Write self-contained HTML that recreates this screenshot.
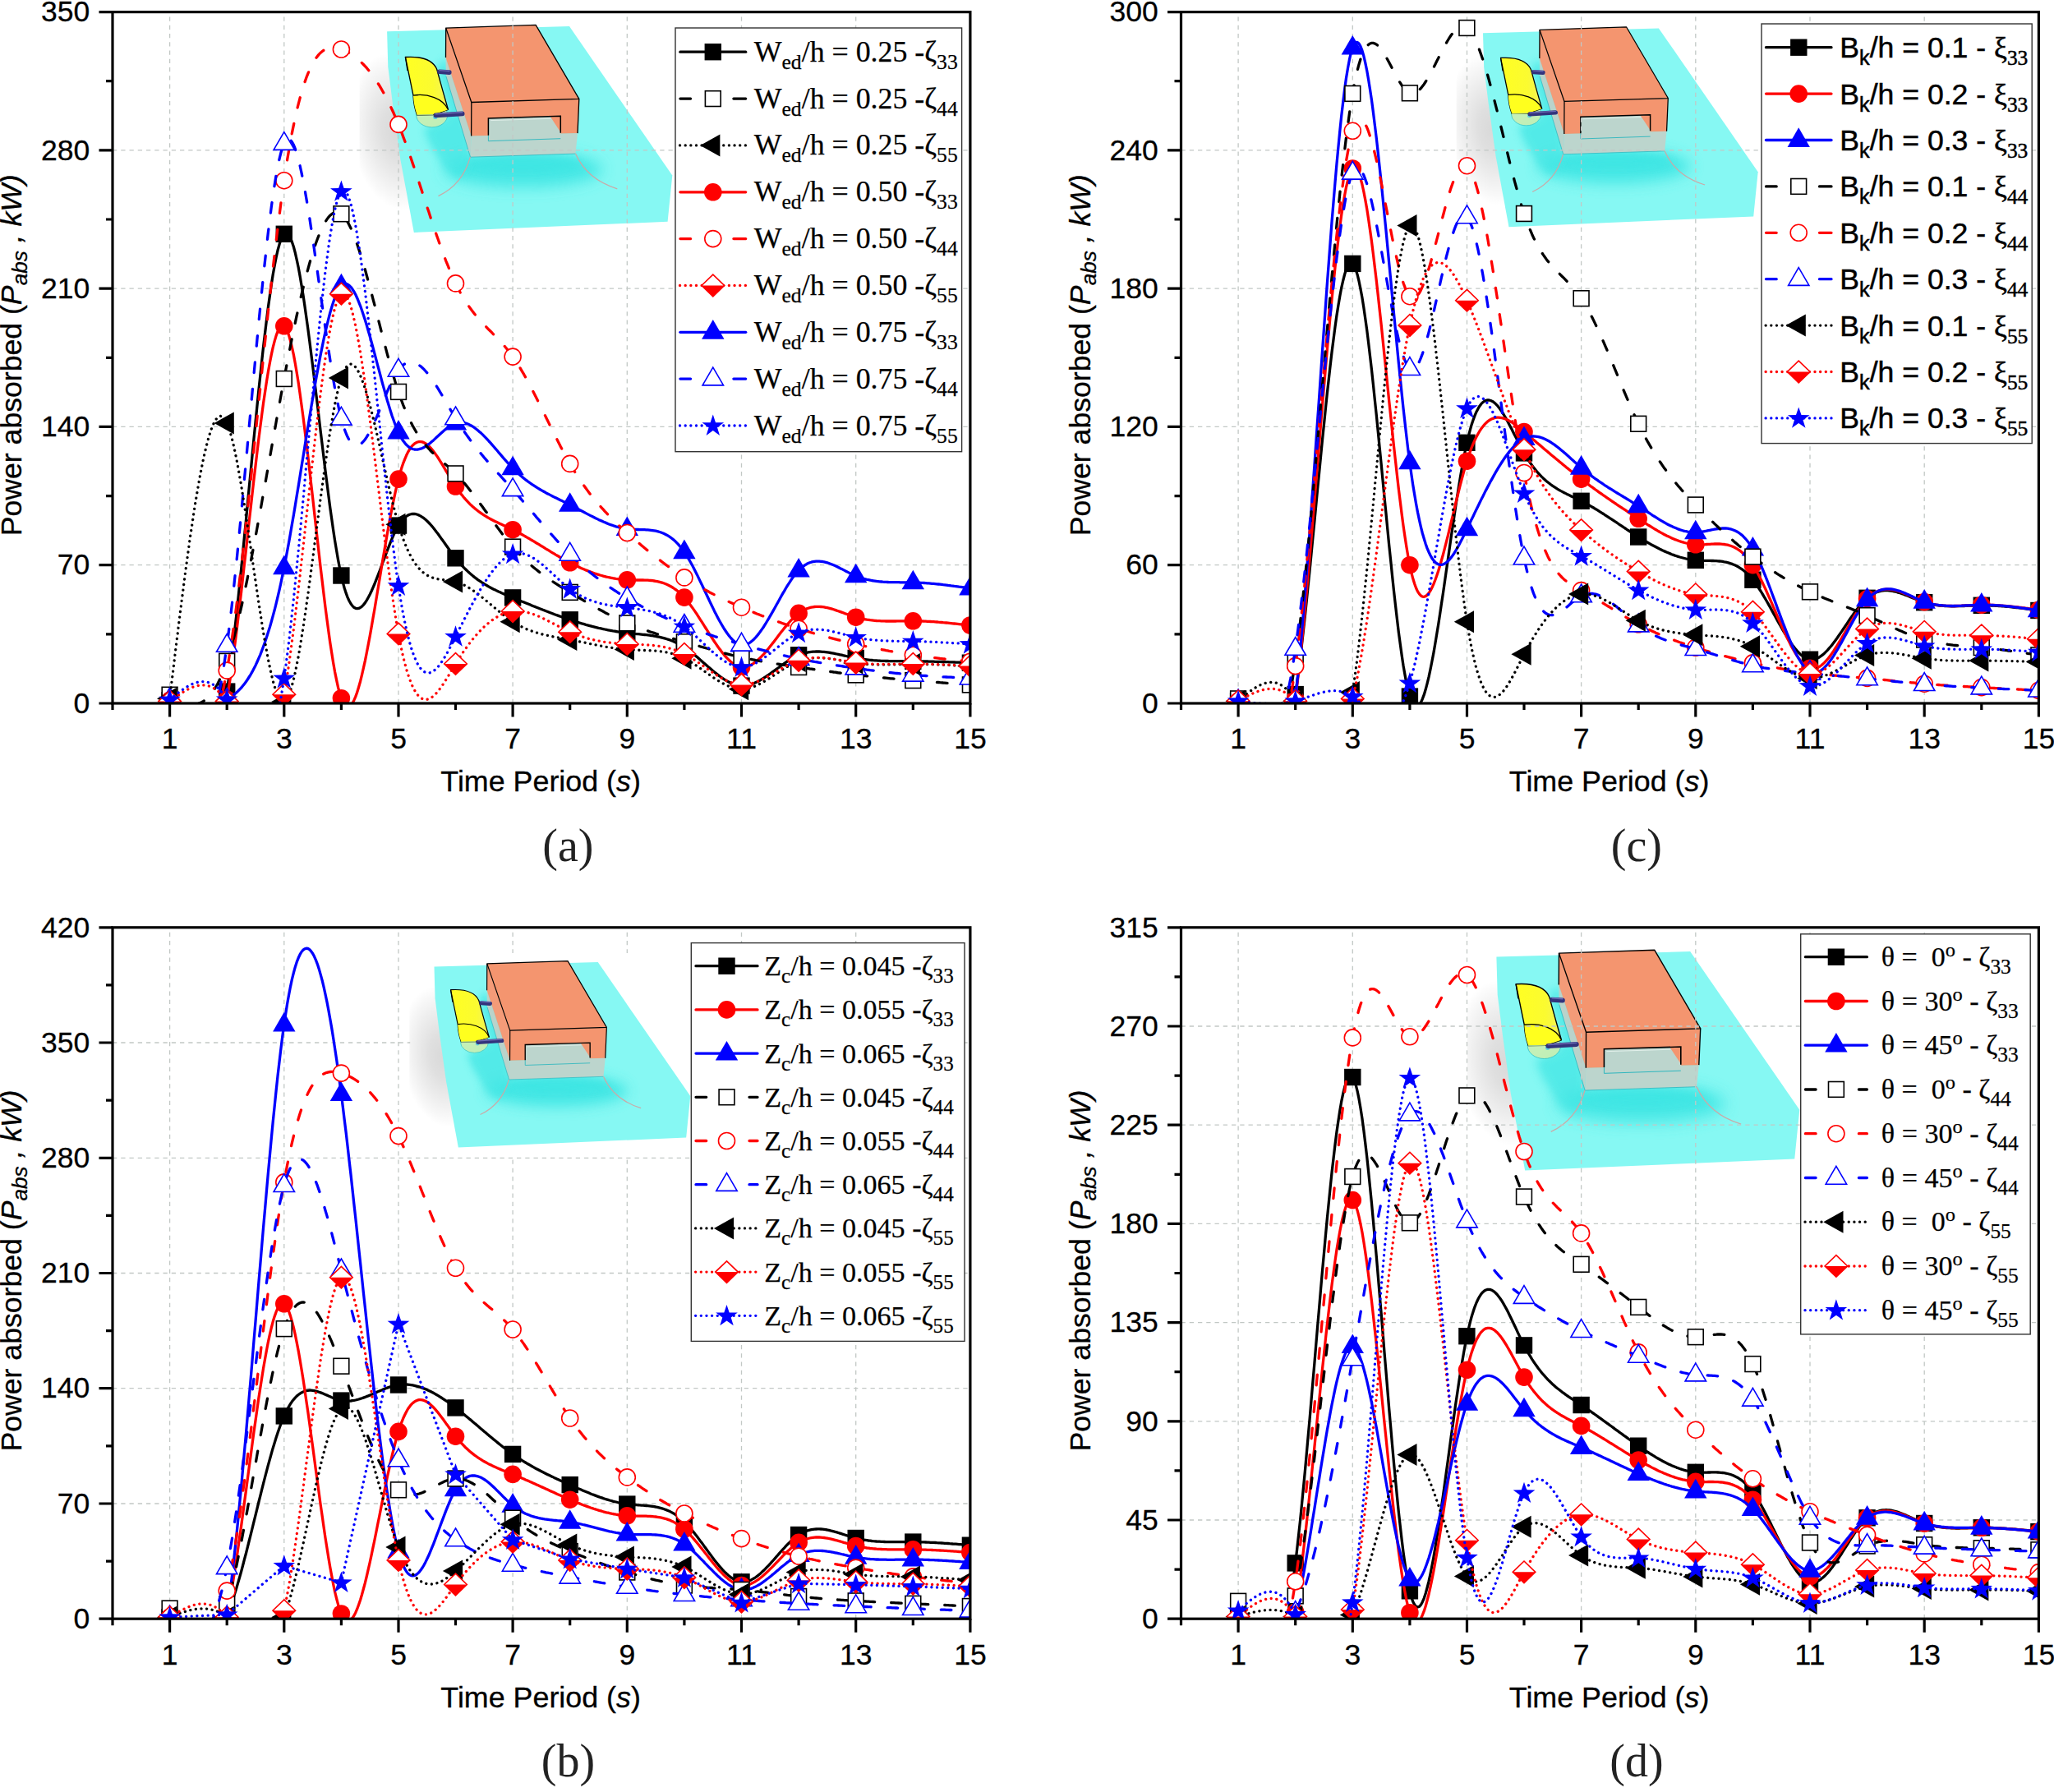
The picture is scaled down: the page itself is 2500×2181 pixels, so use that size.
<!DOCTYPE html>
<html lang="en"><head><meta charset="utf-8"><title>Power absorbed versus time period</title>
<style>html,body{margin:0;padding:0;background:#fff}svg{display:block}</style></head><body>
<svg width="2500" height="2181" viewBox="0 0 2500 2181">
<rect width="2500" height="2181" fill="#fff"/>
<defs>
<filter id="b4" x="-30%" y="-30%" width="160%" height="160%"><feGaussianBlur stdDeviation="5"/></filter>
<filter id="b2" x="-30%" y="-30%" width="160%" height="160%"><feGaussianBlur stdDeviation="2.5"/></filter>
<filter id="b8" x="-40%" y="-60%" width="180%" height="220%"><feGaussianBlur stdDeviation="9"/></filter>
<radialGradient id="shd" cx="0.5" cy="0.5" r="0.5"><stop offset="0" stop-color="#000" stop-opacity="0.15"/><stop offset="0.3" stop-color="#000" stop-opacity="0.125"/><stop offset="0.6" stop-color="#000" stop-opacity="0.075"/><stop offset="0.85" stop-color="#000" stop-opacity="0.03"/><stop offset="1" stop-color="#000" stop-opacity="0"/></radialGradient>
<linearGradient id="flp" x1="0" y1="0" x2="1" y2="0"><stop offset="0" stop-color="#ffff22"/><stop offset="0.65" stop-color="#fbfb30"/><stop offset="1" stop-color="#f3f35a"/></linearGradient>
<linearGradient id="rod" x1="0" y1="0" x2="0" y2="1"><stop offset="0" stop-color="#5a5aa8"/><stop offset="0.5" stop-color="#34347e"/><stop offset="1" stop-color="#22225c"/></linearGradient>
<clipPath id="wclip"><path d="M0.0 0.0L221.9 -6.1L347.2 175.3L341.5 231.5L32.7 244.8L16.2 155.6L7.0 89.2L1.2 43.1Z"/></clipPath>
<g id="inset">
<path d="M0.0 0.0L221.9 -6.1L347.2 175.3L341.5 231.5L32.7 244.8L16.2 155.6L7.0 89.2L1.2 43.1Z" fill="#86f8f3"/>
<g clip-path="url(#wclip)">
<ellipse cx="165.6" cy="168.1" rx="96.1" ry="21.5" fill="#3ce5e3" opacity="0.9" filter="url(#b8)"/>
<ellipse cx="165.6" cy="160.9" rx="73.6" ry="10.2" fill="#3ce5e3" opacity="0.75" filter="url(#b4)"/>
<path d="M60.9 43.4L71.6 33.1L102.7 127.2L101.8 154.8L90.0 178.3L69.5 166.1L51.1 135.4L45.0 119.0L73.6 104.7L74.4 95.3Z" fill="#44e6e4" opacity="0.78" filter="url(#b4)"/>
</g>
<path d="M71.4 31.9L102.5 127.2L101.4 153.0L71.8 54.6Z" fill="#b9d3cb"/>
<path d="M102.5 127.2L231.9 123.9L229.4 148.9L101.4 153.0Z" fill="#bcd5cd"/>
<path d="M71.8 54.6L101.4 153.0L229.4 148.9" fill="none" stroke="#2fb9c0" stroke-width="0.8"/>
<path d="M71.6 -4.1L102.7 86.3L102.5 127.2L71.4 31.9Z" fill="#f49b78"/>
<path d="M102.7 86.3L233.7 82.2L231.9 123.9L102.5 127.2Z" fill="#f4956f"/>
<path d="M71.6 -4.1L181.0 -7.8L233.7 82.2L102.7 86.3Z" fill="#f4956f"/>
<path d="M123.3 105.7L211.2 103.1L211.2 130.5L123.3 133.5Z" fill="#bcd5cd"/>
<path d="M198.8 103.9L211.2 103.5L211.2 122.7Z" fill="#f4956f"/>
<path d="M123.3 126.6L123.3 133.5L211.2 130.5" fill="none" stroke="#27b5bd" stroke-width="0.9"/>
<path d="M123.3 126.6L123.3 105.7L211.2 103.1L211.2 123.5" fill="none" stroke="#000" stroke-width="1.5"/>
<path d="M126.0 108.4L199.4 106.1" fill="none" stroke="#e8f4f0" stroke-width="0.8"/>
<path d="M71.6 -4.1L181.0 -7.8L233.7 82.2L102.7 86.3Z" fill="none" stroke="#000" stroke-width="1.3" stroke-linejoin="round"/>
<path d="M102.7 86.3L102.5 127.2M233.7 82.2L231.9 123.9M71.6 -4.1L71.4 31.9" fill="none" stroke="#000" stroke-width="1.3"/>
<path d="M101.2 153.0Q92.0 186.5 62.4 200.4M229.4 148.9Q243.4 180.4 280.2 191.6" fill="none" stroke="#c9aaa8" stroke-width="1.3"/>
<ellipse cx="54.6" cy="101.8" rx="19.0" ry="14.9" fill="#cbeeb0" fill-opacity="0.9" stroke="#35c4c8" stroke-width="0.8"/>
<circle cx="58.7" cy="104.3" r="2.6" fill="#5fd0e0"/>
<path d="M22.3 31.3 C40.7 30.1 55.2 34.2 60.5 45.8 L67.5 71.2 L74.4 95.3 L56.0 101.4 L36.6 101.8 C33.7 94.5 32.3 86.3 31.9 77.9 Z" fill="url(#flp)" stroke="#000" stroke-width="1.3" stroke-linejoin="round"/>
<path d="M31.9 77.9 C49.1 75.3 68.3 81.4 74.4 95.3" fill="#ffff1e" stroke="none"/>
<path d="M31.9 77.9 C49.1 75.3 68.3 81.4 74.4 95.3 L56.0 101.4 L36.6 101.8 C33.7 94.5 32.3 86.3 31.9 77.9" fill="#ffff1e" stroke="none"/>
<path d="M31.9 77.9 C49.1 75.3 68.3 81.4 74.4 95.3" fill="none" stroke="#000" stroke-width="1.3"/>
<path d="M22.3 31.3L24.9 47.9" fill="none" stroke="#000" stroke-width="1.2"/>
<path d="M36.6 101.8L56.0 101.4" fill="none" stroke="#9ed0a0" stroke-width="0.9"/>
<path d="M63.8 49.1L75.7 49.9" stroke="#33337c" stroke-width="5.6" stroke-linecap="round"/>
<path d="M63.8 47.4L75.7 48.3" stroke="#6a6ab4" stroke-width="1.4" stroke-linecap="round"/>
<path d="M59.3 102.2L91.6 100.2" stroke="#33337c" stroke-width="5.6" stroke-linecap="round"/>
<path d="M59.3 100.6L91.6 98.6" stroke="#6a6ab4" stroke-width="1.4" stroke-linecap="round"/>
</g>
</defs>
<g id="panel-a">
<clipPath id="clip-a"><rect x="137" y="14.6" width="1043.9" height="841.4"/></clipPath>
<g transform="translate(471.1 38.2) scale(1.0000)">
<clipPath id="sc-a"><rect x="-33.5" y="10" width="90" height="250"/></clipPath>
<g clip-path="url(#sc-a)"><ellipse cx="11" cy="122" rx="56" ry="96" transform="rotate(-8 11 122)" fill="url(#shd)"/></g>
<use href="#inset"/>
</g>
<path d="M206.6 856V14.6M345.8 856V14.6M485 856V14.6M624.1 856V14.6M763.3 856V14.6M902.5 856V14.6M1041.7 856V14.6M137 687.7H1180.9M137 519.4H1180.9M137 351.2H1180.9M137 182.9H1180.9" fill="none" stroke="#c2c8c5" stroke-width="1.3" stroke-dasharray="5.3 4.95"/>
<g clip-path="url(#clip-a)">
<path d="M206.6 852.4 208.5 858.4 210.5 864.3 212.4 870.2 214.3 876 216.3 881.6 218.2 887.2 220.1 892.5 222.1 897.7 224 902.6 225.9 907.3 227.9 911.6 229.8 915.7 231.7 919.4 233.7 922.7 235.6 925.6 237.5 928.1 239.5 930.1 241.4 931.6 243.3 932.6 245.3 933.1 247.2 933 249.1 932.2 251.1 930.8 253 928.8 254.9 926.1 256.8 922.6 258.8 918.4 260.7 913.4 262.6 907.5 264.6 900.9 266.5 893.3 268.4 884.9 270.4 875.5 272.3 865.2 274.2 853.9 276.2 841.6 278.1 828.2 280 813.9 282 798.7 283.9 782.6 285.8 765.9 287.8 748.4 289.7 730.4 291.6 711.8 293.6 692.8 295.5 673.4 297.4 653.7 299.4 633.8 301.3 613.7 303.2 593.6 305.2 573.5 307.1 553.5 309 533.6 311 513.9 312.9 494.6 314.8 475.6 316.8 457.1 318.7 439.1 320.6 421.7 322.6 405 324.5 389.1 326.4 374 328.4 359.7 330.3 346.5 332.2 334.3 334.2 323.3 336.1 313.4 338 304.8 340 297.6 341.9 291.8 343.8 287.5 345.8 284.8 347.7 283.7 349.6 284.2 351.6 286.2 353.5 289.6 355.4 294.4 357.4 300.5 359.3 307.7 361.2 316.1 363.2 325.5 365.1 335.9 367 347.2 369 359.3 370.9 372.2 372.8 385.7 374.8 399.9 376.7 414.5 378.6 429.6 380.6 445.1 382.5 460.8 384.4 476.8 386.4 492.9 388.3 509.1 390.2 525.3 392.2 541.4 394.1 557.3 396 573 398 588.4 399.9 603.4 401.8 618 403.8 632 405.7 645.4 407.6 658.1 409.6 670 411.5 681.1 413.4 691.3 415.4 700.5 417.3 708.6 419.2 715.7 421.2 721.9 423.1 727.1 425 731.3 427 734.8 428.9 737.4 430.8 739.2 432.8 740.3 434.7 740.7 436.6 740.4 438.6 739.5 440.5 738.1 442.4 736.1 444.4 733.6 446.3 730.6 448.2 727.3 450.2 723.5 452.1 719.5 454 715.1 456 710.5 457.9 705.7 459.8 700.8 461.8 695.7 463.7 690.5 465.6 685.3 467.6 680.1 469.5 674.9 471.4 669.8 473.4 664.8 475.3 659.9 477.2 655.3 479.2 650.9 481.1 646.8 483 643.1 485 639.6 486.9 636.6 488.8 634 490.7 631.8 492.7 629.9 494.6 628.3 496.5 627.1 498.5 626.3 500.4 625.7 502.3 625.4 504.3 625.5 506.2 625.7 508.1 626.3 510.1 627.1 512 628.1 513.9 629.3 515.9 630.7 517.8 632.3 519.7 634 521.7 636 523.6 638 525.5 640.2 527.5 642.5 529.4 645 531.3 647.5 533.3 650 535.2 652.7 537.1 655.4 539.1 658.1 541 660.8 542.9 663.5 544.9 666.3 546.8 669 548.7 671.7 550.7 674.3 552.6 676.8 554.5 679.3 556.5 681.7 558.4 684 560.3 686.2 562.3 688.3 564.2 690.4 566.1 692.3 568.1 694.2 570 696.1 571.9 697.8 573.9 699.5 575.8 701.1 577.7 702.6 579.7 704.1 581.6 705.6 583.5 706.9 585.5 708.2 587.4 709.5 589.3 710.7 591.3 711.9 593.2 713 595.1 714.1 597.1 715.2 599 716.2 600.9 717.2 602.9 718.1 604.8 719.1 606.7 720 608.7 720.8 610.6 721.7 612.5 722.5 614.5 723.4 616.4 724.2 618.3 725 620.3 725.8 622.2 726.6 624.1 727.4 626.1 728.2 628 729 629.9 729.8 631.9 730.6 633.8 731.4 635.7 732.2 637.7 732.9 639.6 733.7 641.5 734.5 643.5 735.3 645.4 736.1 647.3 736.9 649.3 737.7 651.2 738.4 653.1 739.2 655.1 740 657 740.8 658.9 741.5 660.9 742.3 662.8 743 664.7 743.8 666.7 744.5 668.6 745.3 670.5 746 672.5 746.7 674.4 747.5 676.3 748.2 678.3 748.9 680.2 749.6 682.1 750.3 684.1 751 686 751.7 687.9 752.3 689.9 753 691.8 753.7 693.7 754.3 695.7 754.9 697.6 755.6 699.5 756.2 701.5 756.8 703.4 757.4 705.3 758 707.3 758.6 709.2 759.2 711.1 759.7 713.1 760.3 715 760.8 716.9 761.3 718.8 761.8 720.8 762.4 722.7 762.8 724.6 763.3 726.6 763.8 728.5 764.3 730.4 764.7 732.4 765.2 734.3 765.6 736.2 766 738.2 766.4 740.1 766.8 742 767.2 744 767.5 745.9 767.9 747.8 768.2 749.8 768.5 751.7 768.8 753.6 769.1 755.6 769.4 757.5 769.7 759.4 769.9 761.4 770.2 763.3 770.4 765.2 770.6 767.2 770.8 769.1 771 771 771.2 773 771.4 774.9 771.6 776.8 771.7 778.8 771.9 780.7 772.1 782.6 772.3 784.6 772.5 786.5 772.7 788.4 772.9 790.4 773.2 792.3 773.5 794.2 773.7 796.2 774.1 798.1 774.4 800 774.8 802 775.2 803.9 775.6 805.8 776.1 807.8 776.6 809.7 777.1 811.6 777.7 813.6 778.3 815.5 779 817.4 779.7 819.4 780.5 821.3 781.4 823.2 782.3 825.2 783.2 827.1 784.3 829 785.3 831 786.5 832.9 787.7 834.8 789 836.8 790.4 838.7 791.8 840.6 793.3 842.6 794.8 844.5 796.4 846.4 798 848.4 799.6 850.3 801.3 852.2 803 854.2 804.7 856.1 806.4 858 808.1 860 809.8 861.9 811.5 863.8 813.1 865.8 814.8 867.7 816.4 869.6 818 871.6 819.6 873.5 821.1 875.4 822.6 877.4 824 879.3 825.3 881.2 826.6 883.2 827.8 885.1 829 887 830 889 831 890.9 831.8 892.8 832.6 894.8 833.2 896.7 833.7 898.6 834.2 900.6 834.4 902.5 834.6 904.4 834.6 906.4 834.5 908.3 834.3 910.2 833.9 912.2 833.5 914.1 832.9 916 832.2 918 831.5 919.9 830.6 921.8 829.7 923.8 828.7 925.7 827.6 927.6 826.4 929.6 825.2 931.5 824 933.4 822.7 935.4 821.4 937.3 820 939.2 818.6 941.2 817.2 943.1 815.8 945 814.4 947 813 948.9 811.6 950.8 810.2 952.7 808.8 954.7 807.4 956.6 806.1 958.5 804.8 960.5 803.6 962.4 802.4 964.3 801.2 966.3 800.1 968.2 799.1 970.1 798.2 972.1 797.3 974 796.6 975.9 795.9 977.9 795.3 979.8 794.8 981.7 794.3 983.7 793.9 985.6 793.6 987.5 793.4 989.5 793.2 991.4 793.1 993.3 793 995.3 793 997.2 793 999.1 793.1 1001.1 793.3 1003 793.4 1004.9 793.6 1006.9 793.9 1008.8 794.2 1010.7 794.5 1012.7 794.8 1014.6 795.2 1016.5 795.6 1018.5 796 1020.4 796.4 1022.3 796.8 1024.3 797.2 1026.2 797.7 1028.1 798.1 1030.1 798.5 1032 799 1033.9 799.4 1035.9 799.8 1037.8 800.2 1039.7 800.6 1041.7 800.9 1043.6 801.3 1045.5 801.6 1047.5 801.9 1049.4 802.2 1051.3 802.5 1053.3 802.7 1055.2 802.9 1057.1 803.1 1059.1 803.3 1061 803.5 1062.9 803.7 1064.9 803.8 1066.8 803.9 1068.7 804.1 1070.7 804.2 1072.6 804.3 1074.5 804.3 1076.5 804.4 1078.4 804.5 1080.3 804.5 1082.3 804.6 1084.2 804.6 1086.1 804.6 1088.1 804.7 1090 804.7 1091.9 804.7 1093.9 804.7 1095.8 804.7 1097.7 804.7 1099.7 804.8 1101.6 804.8 1103.5 804.8 1105.5 804.8 1107.4 804.8 1109.3 804.8 1111.3 804.8 1113.2 804.8 1115.1 804.8 1117.1 804.8 1119 804.9 1120.9 804.9 1122.9 804.9 1124.8 805 1126.7 805 1128.7 805 1130.6 805.1 1132.5 805.1 1134.5 805.2 1136.4 805.2 1138.3 805.3 1140.3 805.3 1142.2 805.4 1144.1 805.4 1146.1 805.5 1148 805.5 1149.9 805.6 1151.9 805.7 1153.8 805.7 1155.7 805.8 1157.7 805.9 1159.6 805.9 1161.5 806 1163.5 806.1 1165.4 806.1 1167.3 806.2 1169.3 806.3 1171.2 806.4 1173.1 806.4 1175.1 806.5 1177 806.6 1178.9 806.6 1180.9 806.7" fill="none" stroke="#000000" stroke-width="3.3" stroke-linecap="round" stroke-linejoin="round"/>
<rect x="196.4" y="842.2" width="20.4" height="20.4" fill="#000000"/><rect x="266" y="831.4" width="20.4" height="20.4" fill="#000000"/><rect x="335.6" y="274.6" width="20.4" height="20.4" fill="#000000"/><rect x="405.2" y="690.3" width="20.4" height="20.4" fill="#000000"/><rect x="474.8" y="629.4" width="20.4" height="20.4" fill="#000000"/><rect x="544.3" y="669.1" width="20.4" height="20.4" fill="#000000"/><rect x="613.9" y="717.2" width="20.4" height="20.4" fill="#000000"/><rect x="683.5" y="744.1" width="20.4" height="20.4" fill="#000000"/><rect x="753.1" y="760.2" width="20.4" height="20.4" fill="#000000"/><rect x="822.7" y="777.5" width="20.4" height="20.4" fill="#000000"/><rect x="892.3" y="824.4" width="20.4" height="20.4" fill="#000000"/><rect x="961.9" y="787.1" width="20.4" height="20.4" fill="#000000"/><rect x="1031.5" y="790.7" width="20.4" height="20.4" fill="#000000"/><rect x="1101.1" y="794.6" width="20.4" height="20.4" fill="#000000"/><rect x="1170.7" y="796.5" width="20.4" height="20.4" fill="#000000"/>
<path d="M206.6 853.6 208.5 859.1 210.5 864.6 212.4 870.1 214.3 875.4 216.3 880.7 218.2 885.8 220.1 890.8 222.1 895.6 224 900.2 225.9 904.6 227.9 908.7 229.8 912.5 231.7 916 233.7 919.2 235.6 922 237.5 924.4 239.5 926.4 241.4 927.9 243.3 929 245.3 929.6 247.2 929.7 249.1 929.3 251.1 928.2 253 926.6 254.9 924.4 256.8 921.5 258.8 917.9 260.7 913.6 262.6 908.6 264.6 902.9 266.5 896.4 268.4 889 270.4 880.9 272.3 871.9 274.2 862 276.2 851.2 278.1 839.5 280 826.9 282 813.5 283.9 799.5 285.8 784.7 287.8 769.4 289.7 753.6 291.6 737.4 293.6 720.8 295.5 703.9 297.4 686.8 299.4 669.5 301.3 652.2 303.2 634.8 305.2 617.6 307.1 600.4 309 583.5 311 566.9 312.9 550.6 314.8 534.7 316.8 519.4 318.7 504.6 320.6 490.4 322.6 476.9 324.5 464.3 326.4 452.4 328.4 441.5 330.3 431.6 332.2 422.8 334.2 415.1 336.1 408.6 338 403.4 340 399.6 341.9 397.1 343.8 396.2 345.8 396.8 347.7 399.1 349.6 402.9 351.6 408.1 353.5 414.8 355.4 422.7 357.4 431.9 359.3 442.2 361.2 453.5 363.2 465.8 365.1 479 367 492.9 369 507.6 370.9 522.9 372.8 538.7 374.8 554.9 376.7 571.5 378.6 588.5 380.6 605.6 382.5 622.8 384.4 640 386.4 657.2 388.3 674.2 390.2 691 392.2 707.5 394.1 723.5 396 739.1 398 754.2 399.9 768.5 401.8 782.2 403.8 795 405.7 806.9 407.6 817.8 409.6 827.6 411.5 836.3 413.4 843.7 415.4 849.7 417.3 854.4 419.2 857.8 421.2 859.8 423.1 860.6 425 860.2 427 858.6 428.9 856 430.8 852.4 432.8 847.9 434.7 842.5 436.6 836.2 438.6 829.2 440.5 821.4 442.4 813 444.4 804.1 446.3 794.5 448.2 784.6 450.2 774.1 452.1 763.4 454 752.3 456 741 457.9 729.6 459.8 718 461.8 706.3 463.7 694.6 465.6 683 467.6 671.6 469.5 660.2 471.4 649.2 473.4 638.4 475.3 627.9 477.2 617.9 479.2 608.4 481.1 599.4 483 590.9 485 583.1 486.9 576.1 488.8 569.6 490.7 563.9 492.7 558.8 494.6 554.3 496.5 550.4 498.5 547 500.4 544.2 502.3 542 504.3 540.2 506.2 538.9 508.1 538 510.1 537.6 512 537.6 513.9 537.9 515.9 538.6 517.8 539.7 519.7 541 521.7 542.7 523.6 544.6 525.5 546.7 527.5 549.1 529.4 551.7 531.3 554.4 533.3 557.3 535.2 560.3 537.1 563.4 539.1 566.6 541 569.8 542.9 573.1 544.9 576.4 546.8 579.6 548.7 582.8 550.7 586 552.6 589.1 554.5 592 556.5 594.9 558.4 597.6 560.3 600.2 562.3 602.6 564.2 605 566.1 607.2 568.1 609.4 570 611.4 571.9 613.4 573.9 615.2 575.8 617 577.7 618.6 579.7 620.2 581.6 621.7 583.5 623.2 585.5 624.6 587.4 625.9 589.3 627.1 591.3 628.3 593.2 629.5 595.1 630.6 597.1 631.7 599 632.7 600.9 633.7 602.9 634.7 604.8 635.6 606.7 636.5 608.7 637.4 610.6 638.3 612.5 639.2 614.5 640.1 616.4 641 618.3 641.9 620.3 642.8 622.2 643.7 624.1 644.7 626.1 645.7 628 646.6 629.9 647.7 631.9 648.7 633.8 649.7 635.7 650.8 637.7 651.9 639.6 653 641.5 654.1 643.5 655.2 645.4 656.4 647.3 657.5 649.3 658.7 651.2 659.8 653.1 661 655.1 662.2 657 663.3 658.9 664.5 660.9 665.7 662.8 666.9 664.7 668.1 666.7 669.2 668.6 670.4 670.5 671.6 672.5 672.8 674.4 673.9 676.3 675.1 678.3 676.2 680.2 677.3 682.1 678.5 684.1 679.6 686 680.6 687.9 681.7 689.9 682.8 691.8 683.8 693.7 684.8 695.7 685.8 697.6 686.8 699.5 687.8 701.5 688.7 703.4 689.6 705.3 690.5 707.3 691.4 709.2 692.2 711.1 693 713.1 693.9 715 694.6 716.9 695.4 718.8 696.1 720.8 696.8 722.7 697.5 724.6 698.2 726.6 698.8 728.5 699.4 730.4 700 732.4 700.5 734.3 701.1 736.2 701.6 738.2 702.1 740.1 702.5 742 702.9 744 703.3 745.9 703.7 747.8 704 749.8 704.4 751.7 704.6 753.6 704.9 755.6 705.1 757.5 705.3 759.4 705.5 761.4 705.6 763.3 705.8 765.2 705.8 767.2 705.9 769.1 705.9 771 705.9 773 706 774.9 706 776.8 706 778.8 706 780.7 706 782.6 706 784.6 706.1 786.5 706.1 788.4 706.2 790.4 706.4 792.3 706.5 794.2 706.7 796.2 707 798.1 707.3 800 707.7 802 708.1 803.9 708.6 805.8 709.1 807.8 709.8 809.7 710.5 811.6 711.3 813.6 712.2 815.5 713.2 817.4 714.3 819.4 715.5 821.3 716.8 823.2 718.2 825.2 719.7 827.1 721.4 829 723.2 831 725.1 832.9 727.1 834.8 729.3 836.8 731.7 838.7 734.1 840.6 736.7 842.6 739.4 844.5 742.1 846.4 744.9 848.4 747.8 850.3 750.8 852.2 753.8 854.2 756.8 856.1 759.9 858 763 860 766 861.9 769.1 863.8 772.1 865.8 775.1 867.7 778.1 869.6 781 871.6 783.9 873.5 786.7 875.4 789.4 877.4 791.9 879.3 794.4 881.2 796.8 883.2 799.1 885.1 801.2 887 803.1 889 804.9 890.9 806.5 892.8 808 894.8 809.2 896.7 810.2 898.6 811.1 900.6 811.7 902.5 812 904.4 812.1 906.4 812 908.3 811.6 910.2 811.1 912.2 810.3 914.1 809.3 916 808.2 918 806.9 919.9 805.4 921.8 803.8 923.8 802 925.7 800.1 927.6 798.2 929.6 796.1 931.5 793.9 933.4 791.6 935.4 789.2 937.3 786.8 939.2 784.4 941.2 781.9 943.1 779.4 945 776.9 947 774.3 948.9 771.8 950.8 769.3 952.7 766.9 954.7 764.4 956.6 762.1 958.5 759.8 960.5 757.5 962.4 755.4 964.3 753.4 966.3 751.4 968.2 749.6 970.1 747.9 972.1 746.4 974 745 975.9 743.7 977.9 742.7 979.8 741.7 981.7 740.9 983.7 740.2 985.6 739.6 987.5 739.1 989.5 738.8 991.4 738.5 993.3 738.4 995.3 738.3 997.2 738.4 999.1 738.5 1001.1 738.7 1003 738.9 1004.9 739.3 1006.9 739.7 1008.8 740.1 1010.7 740.6 1012.7 741.2 1014.6 741.8 1016.5 742.4 1018.5 743.1 1020.4 743.7 1022.3 744.4 1024.3 745.1 1026.2 745.8 1028.1 746.6 1030.1 747.3 1032 748 1033.9 748.7 1035.9 749.3 1037.8 750 1039.7 750.6 1041.7 751.2 1043.6 751.7 1045.5 752.2 1047.5 752.7 1049.4 753.1 1051.3 753.5 1053.3 753.8 1055.2 754.2 1057.1 754.4 1059.1 754.7 1061 754.9 1062.9 755.1 1064.9 755.3 1066.8 755.5 1068.7 755.6 1070.7 755.7 1072.6 755.8 1074.5 755.9 1076.5 755.9 1078.4 756 1080.3 756 1082.3 756 1084.2 756 1086.1 756 1088.1 756 1090 756 1091.9 755.9 1093.9 755.9 1095.8 755.9 1097.7 755.9 1099.7 755.8 1101.6 755.8 1103.5 755.8 1105.5 755.8 1107.4 755.7 1109.3 755.7 1111.3 755.8 1113.2 755.8 1115.1 755.8 1117.1 755.8 1119 755.9 1120.9 755.9 1122.9 756 1124.8 756.1 1126.7 756.2 1128.7 756.3 1130.6 756.4 1132.5 756.5 1134.5 756.6 1136.4 756.7 1138.3 756.9 1140.3 757 1142.2 757.2 1144.1 757.3 1146.1 757.5 1148 757.7 1149.9 757.8 1151.9 758 1153.8 758.2 1155.7 758.4 1157.7 758.6 1159.6 758.8 1161.5 759 1163.5 759.2 1165.4 759.4 1167.3 759.6 1169.3 759.8 1171.2 760 1173.1 760.2 1175.1 760.4 1177 760.6 1178.9 760.8 1180.9 761" fill="none" stroke="#ff0000" stroke-width="3.3" stroke-linecap="round" stroke-linejoin="round"/>
<circle cx="206.6" cy="853.6" r="10.8" fill="#ff0000"/><circle cx="276.2" cy="851.2" r="10.8" fill="#ff0000"/><circle cx="345.8" cy="396.8" r="10.8" fill="#ff0000"/><circle cx="415.4" cy="849.7" r="10.8" fill="#ff0000"/><circle cx="485" cy="583.1" r="10.8" fill="#ff0000"/><circle cx="554.5" cy="592" r="10.8" fill="#ff0000"/><circle cx="624.1" cy="644.7" r="10.8" fill="#ff0000"/><circle cx="693.7" cy="684.8" r="10.8" fill="#ff0000"/><circle cx="763.3" cy="705.8" r="10.8" fill="#ff0000"/><circle cx="832.9" cy="727.1" r="10.8" fill="#ff0000"/><circle cx="902.5" cy="812" r="10.8" fill="#ff0000"/><circle cx="972.1" cy="746.4" r="10.8" fill="#ff0000"/><circle cx="1041.7" cy="751.2" r="10.8" fill="#ff0000"/><circle cx="1111.3" cy="755.8" r="10.8" fill="#ff0000"/><circle cx="1180.9" cy="761" r="10.8" fill="#ff0000"/>
<path d="M206.6 853.6 208.5 854 210.5 854.5 212.4 854.9 214.3 855.3 216.3 855.7 218.2 856.1 220.1 856.5 222.1 856.9 224 857.2 225.9 857.6 227.9 857.9 229.8 858.2 231.7 858.4 233.7 858.6 235.6 858.8 237.5 859 239.5 859.1 241.4 859.2 243.3 859.2 245.3 859.2 247.2 859.2 249.1 859.1 251.1 858.9 253 858.7 254.9 858.4 256.8 858.1 258.8 857.7 260.7 857.3 262.6 856.8 264.6 856.2 266.5 855.6 268.4 854.8 270.4 854 272.3 853.2 274.2 852.2 276.2 851.2 278.1 850.1 280 848.9 282 847.6 283.9 846.1 285.8 844.6 287.8 842.9 289.7 841.1 291.6 839.2 293.6 837.1 295.5 834.8 297.4 832.4 299.4 829.8 301.3 827 303.2 824 305.2 820.8 307.1 817.4 309 813.7 311 809.9 312.9 805.7 314.8 801.4 316.8 796.8 318.7 791.9 320.6 786.7 322.6 781.3 324.5 775.6 326.4 769.5 328.4 763.2 330.3 756.6 332.2 749.6 334.2 742.3 336.1 734.6 338 726.6 340 718.2 341.9 709.5 343.8 700.4 345.8 690.8 347.7 680.9 349.6 670.7 351.6 660.1 353.5 649.2 355.4 638.1 357.4 626.7 359.3 615.2 361.2 603.4 363.2 591.6 365.1 579.7 367 567.7 369 555.7 370.9 543.7 372.8 531.7 374.8 519.8 376.7 508 378.6 496.4 380.6 485 382.5 473.7 384.4 462.7 386.4 452 388.3 441.6 390.2 431.6 392.2 421.9 394.1 412.7 396 403.9 398 395.6 399.9 387.8 401.8 380.5 403.8 373.8 405.7 367.8 407.6 362.4 409.6 357.7 411.5 353.7 413.4 350.5 415.4 348 417.3 346.4 419.2 345.5 421.2 345.4 423.1 346.1 425 347.3 427 349.3 428.9 351.8 430.8 354.9 432.8 358.5 434.7 362.7 436.6 367.3 438.6 372.3 440.5 377.7 442.4 383.4 444.4 389.5 446.3 395.9 448.2 402.5 450.2 409.3 452.1 416.2 454 423.3 456 430.6 457.9 437.8 459.8 445.1 461.8 452.4 463.7 459.7 465.6 466.9 467.6 473.9 469.5 480.8 471.4 487.5 473.4 494 475.3 500.2 477.2 506.2 479.2 511.7 481.1 517 483 521.8 485 526.2 486.9 530.1 488.8 533.5 490.7 536.5 492.7 539.1 494.6 541.3 496.5 543.1 498.5 544.6 500.4 545.7 502.3 546.5 504.3 547 506.2 547.1 508.1 547.1 510.1 546.7 512 546.2 513.9 545.4 515.9 544.5 517.8 543.4 519.7 542.1 521.7 540.7 523.6 539.2 525.5 537.6 527.5 535.9 529.4 534.1 531.3 532.3 533.3 530.5 535.2 528.7 537.1 527 539.1 525.2 541 523.6 542.9 522 544.9 520.5 546.8 519.1 548.7 517.8 550.7 516.8 552.6 515.8 554.5 515.1 556.5 514.6 558.4 514.3 560.3 514.2 562.3 514.3 564.2 514.5 566.1 514.9 568.1 515.5 570 516.3 571.9 517.2 573.9 518.3 575.8 519.4 577.7 520.7 579.7 522.2 581.6 523.7 583.5 525.4 585.5 527.1 587.4 528.9 589.3 530.8 591.3 532.8 593.2 534.9 595.1 537 597.1 539.1 599 541.3 600.9 543.5 602.9 545.8 604.8 548 606.7 550.3 608.7 552.6 610.6 554.8 612.5 557.1 614.5 559.3 616.4 561.5 618.3 563.7 620.3 565.8 622.2 567.9 624.1 569.9 626.1 571.9 628 573.7 629.9 575.6 631.9 577.3 633.8 579 635.7 580.6 637.7 582.2 639.6 583.8 641.5 585.2 643.5 586.7 645.4 588 647.3 589.4 649.3 590.7 651.2 591.9 653.1 593.2 655.1 594.4 657 595.5 658.9 596.6 660.9 597.7 662.8 598.8 664.7 599.9 666.7 600.9 668.6 601.9 670.5 602.9 672.5 603.9 674.4 604.9 676.3 605.8 678.3 606.8 680.2 607.7 682.1 608.7 684.1 609.6 686 610.6 687.9 611.5 689.9 612.5 691.8 613.4 693.7 614.4 695.7 615.4 697.6 616.4 699.5 617.4 701.5 618.4 703.4 619.4 705.3 620.5 707.3 621.5 709.2 622.5 711.1 623.5 713.1 624.6 715 625.6 716.9 626.6 718.8 627.6 720.8 628.6 722.7 629.5 724.6 630.5 726.6 631.4 728.5 632.4 730.4 633.3 732.4 634.1 734.3 635 736.2 635.8 738.2 636.6 740.1 637.4 742 638.2 744 638.9 745.9 639.5 747.8 640.2 749.8 640.8 751.7 641.3 753.6 641.9 755.6 642.3 757.5 642.8 759.4 643.1 761.4 643.5 763.3 643.7 765.2 643.9 767.2 644.1 769.1 644.3 771 644.4 773 644.4 774.9 644.5 776.8 644.5 778.8 644.6 780.7 644.6 782.6 644.7 784.6 644.7 786.5 644.8 788.4 644.9 790.4 645.1 792.3 645.3 794.2 645.6 796.2 645.9 798.1 646.2 800 646.7 802 647.2 803.9 647.8 805.8 648.5 807.8 649.3 809.7 650.2 811.6 651.2 813.6 652.4 815.5 653.6 817.4 655 819.4 656.6 821.3 658.2 823.2 660.1 825.2 662.1 827.1 664.3 829 666.6 831 669.1 832.9 671.9 834.8 674.8 836.8 677.9 838.7 681.1 840.6 684.5 842.6 688.1 844.5 691.8 846.4 695.5 848.4 699.4 850.3 703.4 852.2 707.4 854.2 711.4 856.1 715.5 858 719.6 860 723.7 861.9 727.8 863.8 731.9 865.8 736 867.7 739.9 869.6 743.9 871.6 747.7 873.5 751.4 875.4 755 877.4 758.5 879.3 761.8 881.2 765 883.2 768 885.1 770.8 887 773.4 889 775.8 890.9 777.9 892.8 779.8 894.8 781.5 896.7 782.8 898.6 783.9 900.6 784.6 902.5 785.1 904.4 785.2 906.4 785 908.3 784.4 910.2 783.6 912.2 782.5 914.1 781.1 916 779.5 918 777.7 919.9 775.6 921.8 773.4 923.8 770.9 925.7 768.3 927.6 765.6 929.6 762.7 931.5 759.6 933.4 756.5 935.4 753.2 937.3 749.9 939.2 746.6 941.2 743.1 943.1 739.7 945 736.2 947 732.7 948.9 729.2 950.8 725.8 952.7 722.4 954.7 719.1 956.6 715.8 958.5 712.6 960.5 709.6 962.4 706.6 964.3 703.8 966.3 701.1 968.2 698.7 970.1 696.3 972.1 694.2 974 692.3 975.9 690.6 977.9 689.1 979.8 687.7 981.7 686.6 983.7 685.6 985.6 684.8 987.5 684.2 989.5 683.7 991.4 683.3 993.3 683.1 995.3 683.1 997.2 683.1 999.1 683.3 1001.1 683.5 1003 683.9 1004.9 684.4 1006.9 684.9 1008.8 685.5 1010.7 686.2 1012.7 687 1014.6 687.8 1016.5 688.6 1018.5 689.6 1020.4 690.5 1022.3 691.5 1024.3 692.4 1026.2 693.4 1028.1 694.4 1030.1 695.4 1032 696.4 1033.9 697.4 1035.9 698.3 1037.8 699.2 1039.7 700.1 1041.7 700.9 1043.6 701.7 1045.5 702.4 1047.5 703.1 1049.4 703.7 1051.3 704.3 1053.3 704.8 1055.2 705.3 1057.1 705.7 1059.1 706.1 1061 706.5 1062.9 706.8 1064.9 707.1 1066.8 707.4 1068.7 707.6 1070.7 707.8 1072.6 708 1074.5 708.2 1076.5 708.3 1078.4 708.4 1080.3 708.5 1082.3 708.6 1084.2 708.6 1086.1 708.7 1088.1 708.7 1090 708.7 1091.9 708.7 1093.9 708.7 1095.8 708.8 1097.7 708.8 1099.7 708.8 1101.6 708.8 1103.5 708.8 1105.5 708.8 1107.4 708.8 1109.3 708.8 1111.3 708.9 1113.2 708.9 1115.1 709 1117.1 709.1 1119 709.2 1120.9 709.3 1122.9 709.4 1124.8 709.5 1126.7 709.6 1128.7 709.8 1130.6 709.9 1132.5 710.1 1134.5 710.3 1136.4 710.4 1138.3 710.6 1140.3 710.8 1142.2 711 1144.1 711.2 1146.1 711.4 1148 711.7 1149.9 711.9 1151.9 712.1 1153.8 712.4 1155.7 712.6 1157.7 712.9 1159.6 713.1 1161.5 713.4 1163.5 713.6 1165.4 713.9 1167.3 714.2 1169.3 714.4 1171.2 714.7 1173.1 715 1175.1 715.3 1177 715.5 1178.9 715.8 1180.9 716.1" fill="none" stroke="#0000ff" stroke-width="3.3" stroke-linecap="round" stroke-linejoin="round"/>
<polygon points="206.6,838.4 220.3,862 192.9,862" fill="#0000ff"/><polygon points="276.2,836 289.9,859.6 262.5,859.6" fill="#0000ff"/><polygon points="345.8,675.6 359.5,699.2 332.1,699.2" fill="#0000ff"/><polygon points="415.4,332.8 429.1,356.4 401.7,356.4" fill="#0000ff"/><polygon points="485,510.9 498.7,534.5 471.3,534.5" fill="#0000ff"/><polygon points="554.5,499.9 568.2,523.5 540.8,523.5" fill="#0000ff"/><polygon points="624.1,554.7 637.8,578.3 610.4,578.3" fill="#0000ff"/><polygon points="693.7,599.2 707.4,622.8 680,622.8" fill="#0000ff"/><polygon points="763.3,628.5 777,652.1 749.6,652.1" fill="#0000ff"/><polygon points="832.9,656.6 846.6,680.2 819.2,680.2" fill="#0000ff"/><polygon points="902.5,769.9 916.2,793.5 888.8,793.5" fill="#0000ff"/><polygon points="972.1,679 985.8,702.6 958.4,702.6" fill="#0000ff"/><polygon points="1041.7,685.7 1055.4,709.3 1028,709.3" fill="#0000ff"/><polygon points="1111.3,693.7 1125,717.3 1097.6,717.3" fill="#0000ff"/><polygon points="1180.9,700.9 1194.6,724.5 1167.2,724.5" fill="#0000ff"/>
<path d="M206.6 845.7 208.5 846.8 210.5 848 212.4 849.1 214.3 850.2 216.3 851.3 218.2 852.3 220.1 853.2 222.1 854.1 224 854.9 225.9 855.5 227.9 856.1 229.8 856.6 231.7 856.9 233.7 857.1 235.6 857.1 237.5 857 239.5 856.7 241.4 856.3 243.3 855.6 245.3 854.8 247.2 853.7 249.1 852.4 251.1 850.9 253 849.1 254.9 847.1 256.8 844.8 258.8 842.2 260.7 839.3 262.6 836.2 264.6 832.7 266.5 828.9 268.4 824.8 270.4 820.3 272.3 815.5 274.2 810.3 276.2 804.8 278.1 798.9 280 792.6 282 785.9 283.9 778.9 285.8 771.6 287.8 764 289.7 756.1 291.6 747.9 293.6 739.4 295.5 730.7 297.4 721.7 299.4 712.5 301.3 703.1 303.2 693.5 305.2 683.7 307.1 673.7 309 663.6 311 653.3 312.9 643 314.8 632.5 316.8 621.9 318.7 611.2 320.6 600.5 322.6 589.7 324.5 578.8 326.4 568 328.4 557.1 330.3 546.2 332.2 535.4 334.2 524.5 336.1 513.7 338 503 340 492.4 341.9 481.8 343.8 471.4 345.8 461 347.7 450.8 349.6 440.7 351.6 430.8 353.5 421.1 355.4 411.5 357.4 402.1 359.3 392.9 361.2 383.9 363.2 375.2 365.1 366.6 367 358.3 369 350.3 370.9 342.5 372.8 335 374.8 327.7 376.7 320.8 378.6 314.1 380.6 307.8 382.5 301.8 384.4 296.2 386.4 290.8 388.3 285.9 390.2 281.3 392.2 277.1 394.1 273.3 396 269.9 398 266.9 399.9 264.3 401.8 262.2 403.8 260.5 405.7 259.2 407.6 258.5 409.6 258.2 411.5 258.4 413.4 259.1 415.4 260.3 417.3 262 419.2 264.2 421.2 266.9 423.1 270.1 425 273.7 427 277.7 428.9 282 430.8 286.8 432.8 291.9 434.7 297.3 436.6 303 438.6 309 440.5 315.2 442.4 321.7 444.4 328.3 446.3 335.2 448.2 342.2 450.2 349.4 452.1 356.7 454 364 456 371.5 457.9 379 459.8 386.5 461.8 394.1 463.7 401.6 465.6 409.1 467.6 416.5 469.5 423.8 471.4 431.1 473.4 438.2 475.3 445.1 477.2 451.9 479.2 458.5 481.1 464.9 483 471 485 476.9 486.9 482.5 488.8 487.8 490.7 492.9 492.7 497.7 494.6 502.2 496.5 506.5 498.5 510.6 500.4 514.5 502.3 518.2 504.3 521.7 506.2 525 508.1 528.1 510.1 531.1 512 533.9 513.9 536.5 515.9 539 517.8 541.4 519.7 543.7 521.7 545.9 523.6 548 525.5 550 527.5 551.9 529.4 553.8 531.3 555.6 533.3 557.3 535.2 559 537.1 560.7 539.1 562.4 541 564.1 542.9 565.7 544.9 567.4 546.8 569.1 548.7 570.9 550.7 572.7 552.6 574.5 554.5 576.4 556.5 578.4 558.4 580.4 560.3 582.5 562.3 584.7 564.2 587 566.1 589.2 568.1 591.6 570 594 571.9 596.4 573.9 598.9 575.8 601.4 577.7 603.9 579.7 606.5 581.6 609.1 583.5 611.7 585.5 614.4 587.4 617 589.3 619.7 591.3 622.4 593.2 625 595.1 627.7 597.1 630.4 599 633.1 600.9 635.7 602.9 638.4 604.8 641 606.7 643.6 608.7 646.2 610.6 648.8 612.5 651.3 614.5 653.8 616.4 656.3 618.3 658.7 620.3 661 622.2 663.3 624.1 665.6 626.1 667.8 628 670 629.9 672.1 631.9 674.1 633.8 676.1 635.7 678 637.7 679.9 639.6 681.8 641.5 683.6 643.5 685.3 645.4 687.1 647.3 688.7 649.3 690.4 651.2 692 653.1 693.5 655.1 695.1 657 696.6 658.9 698 660.9 699.5 662.8 700.9 664.7 702.3 666.7 703.6 668.6 705 670.5 706.3 672.5 707.6 674.4 708.9 676.3 710.1 678.3 711.4 680.2 712.6 682.1 713.8 684.1 715 686 716.2 687.9 717.4 689.9 718.6 691.8 719.7 693.7 720.9 695.7 722.1 697.6 723.2 699.5 724.4 701.5 725.5 703.4 726.7 705.3 727.9 707.3 729 709.2 730.1 711.1 731.3 713.1 732.4 715 733.5 716.9 734.6 718.8 735.8 720.8 736.9 722.7 737.9 724.6 739 726.6 740.1 728.5 741.2 730.4 742.2 732.4 743.3 734.3 744.3 736.2 745.4 738.2 746.4 740.1 747.4 742 748.4 744 749.4 745.9 750.3 747.8 751.3 749.8 752.2 751.7 753.1 753.6 754.1 755.6 755 757.5 755.8 759.4 756.7 761.4 757.6 763.3 758.4 765.2 759.2 767.2 760 769.1 760.8 771 761.6 773 762.3 774.9 763.1 776.8 763.8 778.8 764.5 780.7 765.2 782.6 765.9 784.6 766.6 786.5 767.3 788.4 767.9 790.4 768.6 792.3 769.2 794.2 769.8 796.2 770.4 798.1 771.1 800 771.7 802 772.3 803.9 772.8 805.8 773.4 807.8 774 809.7 774.6 811.6 775.1 813.6 775.7 815.5 776.3 817.4 776.8 819.4 777.4 821.3 777.9 823.2 778.5 825.2 779 827.1 779.6 829 780.1 831 780.7 832.9 781.2 834.8 781.8 836.8 782.3 838.7 782.9 840.6 783.5 842.6 784 844.5 784.6 846.4 785.1 848.4 785.7 850.3 786.2 852.2 786.8 854.2 787.3 856.1 787.9 858 788.4 860 789 861.9 789.5 863.8 790.1 865.8 790.6 867.7 791.1 869.6 791.7 871.6 792.2 873.5 792.7 875.4 793.3 877.4 793.8 879.3 794.3 881.2 794.8 883.2 795.3 885.1 795.8 887 796.3 889 796.8 890.9 797.3 892.8 797.7 894.8 798.2 896.7 798.7 898.6 799.1 900.6 799.5 902.5 800 904.4 800.4 906.4 800.8 908.3 801.3 910.2 801.7 912.2 802.1 914.1 802.4 916 802.8 918 803.2 919.9 803.6 921.8 803.9 923.8 804.3 925.7 804.7 927.6 805 929.6 805.4 931.5 805.7 933.4 806 935.4 806.4 937.3 806.7 939.2 807 941.2 807.3 943.1 807.6 945 807.9 947 808.2 948.9 808.5 950.8 808.8 952.7 809.1 954.7 809.4 956.6 809.7 958.5 810 960.5 810.3 962.4 810.6 964.3 810.9 966.3 811.2 968.2 811.4 970.1 811.7 972.1 812 974 812.3 975.9 812.6 977.9 812.8 979.8 813.1 981.7 813.4 983.7 813.7 985.6 814 987.5 814.2 989.5 814.5 991.4 814.8 993.3 815.1 995.3 815.3 997.2 815.6 999.1 815.9 1001.1 816.1 1003 816.4 1004.9 816.7 1006.9 816.9 1008.8 817.2 1010.7 817.5 1012.7 817.7 1014.6 818 1016.5 818.2 1018.5 818.5 1020.4 818.8 1022.3 819 1024.3 819.2 1026.2 819.5 1028.1 819.7 1030.1 820 1032 820.2 1033.9 820.5 1035.9 820.7 1037.8 820.9 1039.7 821.2 1041.7 821.4 1043.6 821.6 1045.5 821.8 1047.5 822 1049.4 822.3 1051.3 822.5 1053.3 822.7 1055.2 822.9 1057.1 823.1 1059.1 823.3 1061 823.5 1062.9 823.7 1064.9 823.9 1066.8 824.1 1068.7 824.3 1070.7 824.5 1072.6 824.7 1074.5 824.9 1076.5 825 1078.4 825.2 1080.3 825.4 1082.3 825.6 1084.2 825.8 1086.1 825.9 1088.1 826.1 1090 826.3 1091.9 826.5 1093.9 826.6 1095.8 826.8 1097.7 827 1099.7 827.1 1101.6 827.3 1103.5 827.5 1105.5 827.6 1107.4 827.8 1109.3 828 1111.3 828.1 1113.2 828.3 1115.1 828.4 1117.1 828.6 1119 828.7 1120.9 828.9 1122.9 829 1124.8 829.2 1126.7 829.4 1128.7 829.5 1130.6 829.7 1132.5 829.8 1134.5 830 1136.4 830.1 1138.3 830.3 1140.3 830.4 1142.2 830.5 1144.1 830.7 1146.1 830.8 1148 831 1149.9 831.1 1151.9 831.3 1153.8 831.4 1155.7 831.6 1157.7 831.7 1159.6 831.8 1161.5 832 1163.5 832.1 1165.4 832.3 1167.3 832.4 1169.3 832.6 1171.2 832.7 1173.1 832.8 1175.1 833 1177 833.1 1178.9 833.3 1180.9 833.4" fill="none" stroke="#000000" stroke-width="3.3" stroke-linecap="round" stroke-linejoin="round" stroke-dasharray="12.6 20"/>
<rect x="197.2" y="836.3" width="18.8" height="18.8" fill="#fff" stroke="#000000" stroke-width="1.6"/><rect x="266.8" y="795.4" width="18.8" height="18.8" fill="#fff" stroke="#000000" stroke-width="1.6"/><rect x="336.4" y="451.6" width="18.8" height="18.8" fill="#fff" stroke="#000000" stroke-width="1.6"/><rect x="406" y="250.9" width="18.8" height="18.8" fill="#fff" stroke="#000000" stroke-width="1.6"/><rect x="475.6" y="467.5" width="18.8" height="18.8" fill="#fff" stroke="#000000" stroke-width="1.6"/><rect x="545.1" y="567" width="18.8" height="18.8" fill="#fff" stroke="#000000" stroke-width="1.6"/><rect x="614.7" y="656.2" width="18.8" height="18.8" fill="#fff" stroke="#000000" stroke-width="1.6"/><rect x="684.3" y="711.5" width="18.8" height="18.8" fill="#fff" stroke="#000000" stroke-width="1.6"/><rect x="753.9" y="749" width="18.8" height="18.8" fill="#fff" stroke="#000000" stroke-width="1.6"/><rect x="823.5" y="771.8" width="18.8" height="18.8" fill="#fff" stroke="#000000" stroke-width="1.6"/><rect x="893.1" y="790.6" width="18.8" height="18.8" fill="#fff" stroke="#000000" stroke-width="1.6"/><rect x="962.7" y="802.6" width="18.8" height="18.8" fill="#fff" stroke="#000000" stroke-width="1.6"/><rect x="1032.3" y="812" width="18.8" height="18.8" fill="#fff" stroke="#000000" stroke-width="1.6"/><rect x="1101.9" y="818.7" width="18.8" height="18.8" fill="#fff" stroke="#000000" stroke-width="1.6"/><rect x="1171.5" y="824" width="18.8" height="18.8" fill="#fff" stroke="#000000" stroke-width="1.6"/>
<path d="M206.6 852.4 208.5 856.3 210.5 860.2 212.4 864 214.3 867.8 216.3 871.5 218.2 875.1 220.1 878.5 222.1 881.8 224 884.9 225.9 887.8 227.9 890.4 229.8 892.8 231.7 895 233.7 896.8 235.6 898.3 237.5 899.5 239.5 900.3 241.4 900.7 243.3 900.7 245.3 900.3 247.2 899.5 249.1 898.1 251.1 896.2 253 893.9 254.9 890.9 256.8 887.4 258.8 883.3 260.7 878.6 262.6 873.3 264.6 867.3 266.5 860.6 268.4 853.2 270.4 845.1 272.3 836.2 274.2 826.5 276.2 816.1 278.1 804.8 280 792.8 282 780 283.9 766.5 285.8 752.4 287.8 737.7 289.7 722.4 291.6 706.5 293.6 690.2 295.5 673.5 297.4 656.3 299.4 638.8 301.3 620.9 303.2 602.8 305.2 584.5 307.1 565.9 309 547.2 311 528.5 312.9 509.6 314.8 490.7 316.8 471.8 318.7 453 320.6 434.3 322.6 415.8 324.5 397.4 326.4 379.3 328.4 361.4 330.3 343.8 332.2 326.6 334.2 309.8 336.1 293.5 338 277.6 340 262.2 341.9 247.4 343.8 233.2 345.8 219.7 347.7 206.8 349.6 194.6 351.6 183.1 353.5 172.2 355.4 161.9 357.4 152.2 359.3 143.1 361.2 134.6 363.2 126.7 365.1 119.3 367 112.4 369 106 370.9 100.1 372.8 94.7 374.8 89.7 376.7 85.1 378.6 81 380.6 77.3 382.5 74 384.4 71 386.4 68.4 388.3 66.1 390.2 64.2 392.2 62.5 394.1 61.1 396 60 398 59.2 399.9 58.6 401.8 58.2 403.8 58 405.7 58 407.6 58.1 409.6 58.4 411.5 58.8 413.4 59.4 415.4 60 417.3 60.8 419.2 61.6 421.2 62.5 423.1 63.5 425 64.5 427 65.7 428.9 67 430.8 68.3 432.8 69.8 434.7 71.3 436.6 73 438.6 74.7 440.5 76.6 442.4 78.5 444.4 80.6 446.3 82.7 448.2 85 450.2 87.4 452.1 89.9 454 92.5 456 95.3 457.9 98.1 459.8 101.1 461.8 104.2 463.7 107.4 465.6 110.7 467.6 114.2 469.5 117.8 471.4 121.5 473.4 125.4 475.3 129.4 477.2 133.5 479.2 137.8 481.1 142.2 483 146.7 485 151.4 486.9 156.2 488.8 161.2 490.7 166.3 492.7 171.5 494.6 176.8 496.5 182.2 498.5 187.7 500.4 193.3 502.3 198.9 504.3 204.6 506.2 210.4 508.1 216.2 510.1 222.1 512 227.9 513.9 233.8 515.9 239.7 517.8 245.6 519.7 251.5 521.7 257.3 523.6 263.2 525.5 269 527.5 274.7 529.4 280.4 531.3 286 533.3 291.5 535.2 297 537.1 302.4 539.1 307.6 541 312.8 542.9 317.8 544.9 322.7 546.8 327.5 548.7 332.1 550.7 336.5 552.6 340.8 554.5 344.9 556.5 348.8 558.4 352.6 560.3 356.2 562.3 359.6 564.2 362.9 566.1 366 568.1 369 570 371.8 571.9 374.6 573.9 377.2 575.8 379.7 577.7 382.2 579.7 384.5 581.6 386.8 583.5 389 585.5 391.2 587.4 393.2 589.3 395.3 591.3 397.3 593.2 399.3 595.1 401.3 597.1 403.2 599 405.2 600.9 407.1 602.9 409.1 604.8 411.1 606.7 413.1 608.7 415.2 610.6 417.3 612.5 419.5 614.5 421.7 616.4 424 618.3 426.4 620.3 428.9 622.2 431.4 624.1 434.1 626.1 436.9 628 439.8 629.9 442.8 631.9 445.9 633.8 449.1 635.7 452.3 637.7 455.7 639.6 459.1 641.5 462.6 643.5 466.2 645.4 469.8 647.3 473.5 649.3 477.2 651.2 481 653.1 484.8 655.1 488.7 657 492.6 658.9 496.5 660.9 500.4 662.8 504.3 664.7 508.2 666.7 512.2 668.6 516.1 670.5 520 672.5 523.9 674.4 527.8 676.3 531.7 678.3 535.5 680.2 539.3 682.1 543.1 684.1 546.8 686 550.4 687.9 554 689.9 557.5 691.8 561 693.7 564.4 695.7 567.7 697.6 570.9 699.5 574.1 701.5 577.2 703.4 580.2 705.3 583.1 707.3 586 709.2 588.8 711.1 591.6 713.1 594.3 715 596.9 716.9 599.5 718.8 602 720.8 604.4 722.7 606.8 724.6 609.2 726.6 611.5 728.5 613.7 730.4 615.9 732.4 618.1 734.3 620.2 736.2 622.3 738.2 624.4 740.1 626.4 742 628.4 744 630.3 745.9 632.3 747.8 634.2 749.8 636 751.7 637.9 753.6 639.7 755.6 641.5 757.5 643.3 759.4 645 761.4 646.8 763.3 648.5 765.2 650.3 767.2 652 769.1 653.7 771 655.4 773 657.1 774.9 658.8 776.8 660.4 778.8 662.1 780.7 663.7 782.6 665.3 784.6 667 786.5 668.6 788.4 670.1 790.4 671.7 792.3 673.3 794.2 674.8 796.2 676.4 798.1 677.9 800 679.4 802 680.9 803.9 682.4 805.8 683.9 807.8 685.3 809.7 686.8 811.6 688.2 813.6 689.6 815.5 691 817.4 692.4 819.4 693.7 821.3 695.1 823.2 696.4 825.2 697.7 827.1 699.1 829 700.3 831 701.6 832.9 702.9 834.8 704.1 836.8 705.3 838.7 706.5 840.6 707.7 842.6 708.9 844.5 710.1 846.4 711.2 848.4 712.3 850.3 713.4 852.2 714.5 854.2 715.6 856.1 716.7 858 717.8 860 718.8 861.9 719.8 863.8 720.9 865.8 721.9 867.7 722.9 869.6 723.9 871.6 724.8 873.5 725.8 875.4 726.8 877.4 727.7 879.3 728.6 881.2 729.6 883.2 730.5 885.1 731.4 887 732.3 889 733.2 890.9 734 892.8 734.9 894.8 735.8 896.7 736.6 898.6 737.5 900.6 738.3 902.5 739.2 904.4 740 906.4 740.8 908.3 741.6 910.2 742.4 912.2 743.2 914.1 744 916 744.8 918 745.6 919.9 746.4 921.8 747.2 923.8 747.9 925.7 748.7 927.6 749.5 929.6 750.2 931.5 750.9 933.4 751.7 935.4 752.4 937.3 753.1 939.2 753.9 941.2 754.6 943.1 755.3 945 756 947 756.7 948.9 757.3 950.8 758 952.7 758.7 954.7 759.4 956.6 760 958.5 760.7 960.5 761.3 962.4 762 964.3 762.6 966.3 763.3 968.2 763.9 970.1 764.5 972.1 765.1 974 765.7 975.9 766.3 977.9 766.9 979.8 767.5 981.7 768.1 983.7 768.7 985.6 769.3 987.5 769.9 989.5 770.4 991.4 771 993.3 771.5 995.3 772.1 997.2 772.6 999.1 773.2 1001.1 773.7 1003 774.2 1004.9 774.8 1006.9 775.3 1008.8 775.8 1010.7 776.3 1012.7 776.8 1014.6 777.3 1016.5 777.8 1018.5 778.3 1020.4 778.8 1022.3 779.3 1024.3 779.8 1026.2 780.2 1028.1 780.7 1030.1 781.2 1032 781.6 1033.9 782.1 1035.9 782.5 1037.8 783 1039.7 783.4 1041.7 783.9 1043.6 784.3 1045.5 784.8 1047.5 785.2 1049.4 785.6 1051.3 786 1053.3 786.5 1055.2 786.9 1057.1 787.3 1059.1 787.7 1061 788.1 1062.9 788.5 1064.9 788.9 1066.8 789.3 1068.7 789.7 1070.7 790.1 1072.6 790.4 1074.5 790.8 1076.5 791.2 1078.4 791.6 1080.3 791.9 1082.3 792.3 1084.2 792.6 1086.1 793 1088.1 793.3 1090 793.7 1091.9 794 1093.9 794.3 1095.8 794.7 1097.7 795 1099.7 795.3 1101.6 795.6 1103.5 795.9 1105.5 796.2 1107.4 796.5 1109.3 796.8 1111.3 797.1 1113.2 797.4 1115.1 797.7 1117.1 797.9 1119 798.2 1120.9 798.5 1122.9 798.7 1124.8 799 1126.7 799.2 1128.7 799.5 1130.6 799.7 1132.5 800 1134.5 800.2 1136.4 800.5 1138.3 800.7 1140.3 800.9 1142.2 801.1 1144.1 801.4 1146.1 801.6 1148 801.8 1149.9 802 1151.9 802.2 1153.8 802.4 1155.7 802.7 1157.7 802.9 1159.6 803.1 1161.5 803.3 1163.5 803.5 1165.4 803.7 1167.3 803.9 1169.3 804.1 1171.2 804.3 1173.1 804.5 1175.1 804.7 1177 804.9 1178.9 805.1 1180.9 805.3" fill="none" stroke="#ff0000" stroke-width="3.3" stroke-linecap="round" stroke-linejoin="round" stroke-dasharray="12.6 20"/>
<circle cx="206.6" cy="852.4" r="10" fill="#fff" stroke="#ff0000" stroke-width="1.6"/><circle cx="276.2" cy="816.1" r="10" fill="#fff" stroke="#ff0000" stroke-width="1.6"/><circle cx="345.8" cy="219.7" r="10" fill="#fff" stroke="#ff0000" stroke-width="1.6"/><circle cx="415.4" cy="60" r="10" fill="#fff" stroke="#ff0000" stroke-width="1.6"/><circle cx="485" cy="151.4" r="10" fill="#fff" stroke="#ff0000" stroke-width="1.6"/><circle cx="554.5" cy="344.9" r="10" fill="#fff" stroke="#ff0000" stroke-width="1.6"/><circle cx="624.1" cy="434.1" r="10" fill="#fff" stroke="#ff0000" stroke-width="1.6"/><circle cx="693.7" cy="564.4" r="10" fill="#fff" stroke="#ff0000" stroke-width="1.6"/><circle cx="763.3" cy="648.5" r="10" fill="#fff" stroke="#ff0000" stroke-width="1.6"/><circle cx="832.9" cy="702.9" r="10" fill="#fff" stroke="#ff0000" stroke-width="1.6"/><circle cx="902.5" cy="739.2" r="10" fill="#fff" stroke="#ff0000" stroke-width="1.6"/><circle cx="972.1" cy="765.1" r="10" fill="#fff" stroke="#ff0000" stroke-width="1.6"/><circle cx="1041.7" cy="783.9" r="10" fill="#fff" stroke="#ff0000" stroke-width="1.6"/><circle cx="1111.3" cy="797.1" r="10" fill="#fff" stroke="#ff0000" stroke-width="1.6"/><circle cx="1180.9" cy="805.3" r="10" fill="#fff" stroke="#ff0000" stroke-width="1.6"/>
<path d="M206.6 851.2 208.5 855.5 210.5 859.8 212.4 864.1 214.3 868.3 216.3 872.3 218.2 876.2 220.1 880 222.1 883.5 224 886.8 225.9 889.9 227.9 892.7 229.8 895.1 231.7 897.2 233.7 899 235.6 900.3 237.5 901.2 239.5 901.7 241.4 901.7 243.3 901.1 245.3 900 247.2 898.4 249.1 896.1 251.1 893.2 253 889.7 254.9 885.5 256.8 880.5 258.8 874.9 260.7 868.4 262.6 861.1 264.6 853.1 266.5 844.1 268.4 834.3 270.4 823.6 272.3 811.9 274.2 799.2 276.2 785.6 278.1 770.9 280 755.3 282 738.8 283.9 721.5 285.8 703.4 287.8 684.7 289.7 665.4 291.6 645.6 293.6 625.3 295.5 604.6 297.4 583.7 299.4 562.5 301.3 541.2 303.2 519.8 305.2 498.3 307.1 477 309 455.7 311 434.7 312.9 414 314.8 393.6 316.8 373.6 318.7 354.2 320.6 335.3 322.6 317 324.5 299.5 326.4 282.7 328.4 266.9 330.3 251.9 332.2 238 334.2 225.1 336.1 213.4 338 202.9 340 193.7 341.9 185.9 343.8 179.6 345.8 174.7 347.7 171.4 349.6 169.7 351.6 169.3 353.5 170.4 355.4 172.7 357.4 176.3 359.3 181.1 361.2 187 363.2 193.9 365.1 201.7 367 210.4 369 220 370.9 230.2 372.8 241.2 374.8 252.7 376.7 264.8 378.6 277.4 380.6 290.3 382.5 303.6 384.4 317.1 386.4 330.7 388.3 344.5 390.2 358.3 392.2 372.1 394.1 385.8 396 399.3 398 412.6 399.9 425.6 401.8 438.1 403.8 450.2 405.7 461.8 407.6 472.8 409.6 483.1 411.5 492.7 413.4 501.5 415.4 509.3 417.3 516.3 419.2 522.3 421.2 527.5 423.1 531.8 425 535.4 427 538.1 428.9 540.2 430.8 541.5 432.8 542.2 434.7 542.3 436.6 541.8 438.6 540.7 440.5 539.2 442.4 537.2 444.4 534.7 446.3 531.9 448.2 528.7 450.2 525.2 452.1 521.4 454 517.4 456 513.2 457.9 508.8 459.8 504.3 461.8 499.6 463.7 495 465.6 490.3 467.6 485.6 469.5 481 471.4 476.4 473.4 472 475.3 467.8 477.2 463.8 479.2 460 481.1 456.5 483 453.3 485 450.4 486.9 448 488.8 445.9 490.7 444.2 492.7 442.8 494.6 441.8 496.5 441.1 498.5 440.8 500.4 440.7 502.3 440.9 504.3 441.4 506.2 442.1 508.1 443.1 510.1 444.4 512 445.8 513.9 447.5 515.9 449.4 517.8 451.5 519.7 453.7 521.7 456.1 523.6 458.6 525.5 461.3 527.5 464.1 529.4 467 531.3 470 533.3 473.1 535.2 476.3 537.1 479.5 539.1 482.8 541 486.1 542.9 489.4 544.9 492.8 546.8 496.1 548.7 499.4 550.7 502.7 552.6 505.9 554.5 509.1 556.5 512.2 558.4 515.3 560.3 518.2 562.3 521.2 564.2 524 566.1 526.8 568.1 529.6 570 532.3 571.9 534.9 573.9 537.5 575.8 540.1 577.7 542.6 579.7 545 581.6 547.5 583.5 549.9 585.5 552.2 587.4 554.6 589.3 556.9 591.3 559.1 593.2 561.4 595.1 563.6 597.1 565.8 599 568 600.9 570.2 602.9 572.3 604.8 574.5 606.7 576.6 608.7 578.7 610.6 580.9 612.5 583 614.5 585.1 616.4 587.3 618.3 589.4 620.3 591.6 622.2 593.7 624.1 595.9 626.1 598.1 628 600.3 629.9 602.5 631.9 604.7 633.8 606.9 635.7 609.2 637.7 611.4 639.6 613.7 641.5 615.9 643.5 618.2 645.4 620.5 647.3 622.8 649.3 625 651.2 627.3 653.1 629.6 655.1 631.8 657 634.1 658.9 636.3 660.9 638.6 662.8 640.8 664.7 643 666.7 645.3 668.6 647.5 670.5 649.7 672.5 651.8 674.4 654 676.3 656.2 678.3 658.3 680.2 660.4 682.1 662.5 684.1 664.5 686 666.6 687.9 668.6 689.9 670.6 691.8 672.6 693.7 674.5 695.7 676.4 697.6 678.3 699.5 680.1 701.5 682 703.4 683.8 705.3 685.5 707.3 687.3 709.2 689 711.1 690.7 713.1 692.3 715 694 716.9 695.6 718.8 697.2 720.8 698.8 722.7 700.3 724.6 701.8 726.6 703.3 728.5 704.8 730.4 706.3 732.4 707.7 734.3 709.1 736.2 710.5 738.2 711.9 740.1 713.2 742 714.6 744 715.9 745.9 717.2 747.8 718.5 749.8 719.7 751.7 721 753.6 722.2 755.6 723.4 757.5 724.6 759.4 725.8 761.4 727 763.3 728.1 765.2 729.2 767.2 730.4 769.1 731.5 771 732.6 773 733.7 774.9 734.7 776.8 735.8 778.8 736.8 780.7 737.9 782.6 738.9 784.6 739.9 786.5 740.9 788.4 741.9 790.4 742.8 792.3 743.8 794.2 744.7 796.2 745.7 798.1 746.6 800 747.5 802 748.4 803.9 749.3 805.8 750.2 807.8 751.1 809.7 751.9 811.6 752.8 813.6 753.6 815.5 754.4 817.4 755.3 819.4 756.1 821.3 756.9 823.2 757.7 825.2 758.5 827.1 759.2 829 760 831 760.8 832.9 761.5 834.8 762.3 836.8 763 838.7 763.7 840.6 764.5 842.6 765.2 844.5 765.9 846.4 766.6 848.4 767.3 850.3 767.9 852.2 768.6 854.2 769.3 856.1 770 858 770.6 860 771.3 861.9 771.9 863.8 772.6 865.8 773.2 867.7 773.8 869.6 774.5 871.6 775.1 873.5 775.7 875.4 776.3 877.4 776.9 879.3 777.5 881.2 778.1 883.2 778.7 885.1 779.3 887 779.8 889 780.4 890.9 781 892.8 781.6 894.8 782.1 896.7 782.7 898.6 783.3 900.6 783.8 902.5 784.4 904.4 784.9 906.4 785.5 908.3 786 910.2 786.5 912.2 787.1 914.1 787.6 916 788.1 918 788.7 919.9 789.2 921.8 789.7 923.8 790.2 925.7 790.7 927.6 791.2 929.6 791.7 931.5 792.2 933.4 792.7 935.4 793.2 937.3 793.7 939.2 794.2 941.2 794.7 943.1 795.1 945 795.6 947 796.1 948.9 796.5 950.8 797 952.7 797.4 954.7 797.9 956.6 798.3 958.5 798.8 960.5 799.2 962.4 799.6 964.3 800 966.3 800.5 968.2 800.9 970.1 801.3 972.1 801.7 974 802.1 975.9 802.4 977.9 802.8 979.8 803.2 981.7 803.6 983.7 803.9 985.6 804.3 987.5 804.7 989.5 805 991.4 805.4 993.3 805.7 995.3 806 997.2 806.4 999.1 806.7 1001.1 807 1003 807.4 1004.9 807.7 1006.9 808 1008.8 808.3 1010.7 808.6 1012.7 808.9 1014.6 809.2 1016.5 809.5 1018.5 809.8 1020.4 810.1 1022.3 810.4 1024.3 810.7 1026.2 811 1028.1 811.3 1030.1 811.6 1032 811.8 1033.9 812.1 1035.9 812.4 1037.8 812.7 1039.7 812.9 1041.7 813.2 1043.6 813.5 1045.5 813.7 1047.5 814 1049.4 814.3 1051.3 814.5 1053.3 814.8 1055.2 815.1 1057.1 815.3 1059.1 815.6 1061 815.8 1062.9 816.1 1064.9 816.3 1066.8 816.6 1068.7 816.8 1070.7 817.1 1072.6 817.3 1074.5 817.5 1076.5 817.8 1078.4 818 1080.3 818.2 1082.3 818.5 1084.2 818.7 1086.1 818.9 1088.1 819.1 1090 819.3 1091.9 819.5 1093.9 819.7 1095.8 819.9 1097.7 820.1 1099.7 820.3 1101.6 820.5 1103.5 820.7 1105.5 820.9 1107.4 821 1109.3 821.2 1111.3 821.4 1113.2 821.5 1115.1 821.7 1117.1 821.9 1119 822 1120.9 822.1 1122.9 822.3 1124.8 822.4 1126.7 822.5 1128.7 822.7 1130.6 822.8 1132.5 822.9 1134.5 823 1136.4 823.2 1138.3 823.3 1140.3 823.4 1142.2 823.5 1144.1 823.6 1146.1 823.7 1148 823.8 1149.9 823.9 1151.9 824 1153.8 824.1 1155.7 824.2 1157.7 824.2 1159.6 824.3 1161.5 824.4 1163.5 824.5 1165.4 824.6 1167.3 824.7 1169.3 824.8 1171.2 824.8 1173.1 824.9 1175.1 825 1177 825.1 1178.9 825.1 1180.9 825.2" fill="none" stroke="#0000ff" stroke-width="3.3" stroke-linecap="round" stroke-linejoin="round" stroke-dasharray="12.6 20"/>
<polygon points="206.6,837.1 219.3,858.9 193.9,858.9" fill="#fff" stroke="#0000ff" stroke-width="1.6"/><polygon points="276.2,771.5 288.9,793.3 263.5,793.3" fill="#fff" stroke="#0000ff" stroke-width="1.6"/><polygon points="345.8,160.6 358.5,182.4 333.1,182.4" fill="#fff" stroke="#0000ff" stroke-width="1.6"/><polygon points="415.4,495.3 428.1,517.1 402.7,517.1" fill="#fff" stroke="#0000ff" stroke-width="1.6"/><polygon points="485,436.4 497.7,458.2 472.3,458.2" fill="#fff" stroke="#0000ff" stroke-width="1.6"/><polygon points="554.5,495 567.2,516.8 541.8,516.8" fill="#fff" stroke="#0000ff" stroke-width="1.6"/><polygon points="624.1,581.8 636.8,603.6 611.4,603.6" fill="#fff" stroke="#0000ff" stroke-width="1.6"/><polygon points="693.7,660.4 706.4,682.2 681,682.2" fill="#fff" stroke="#0000ff" stroke-width="1.6"/><polygon points="763.3,714 776,735.8 750.6,735.8" fill="#fff" stroke="#0000ff" stroke-width="1.6"/><polygon points="832.9,747.5 845.6,769.3 820.2,769.3" fill="#fff" stroke="#0000ff" stroke-width="1.6"/><polygon points="902.5,770.3 915.2,792.1 889.8,792.1" fill="#fff" stroke="#0000ff" stroke-width="1.6"/><polygon points="972.1,787.6 984.8,809.4 959.4,809.4" fill="#fff" stroke="#0000ff" stroke-width="1.6"/><polygon points="1041.7,799.1 1054.4,820.9 1029,820.9" fill="#fff" stroke="#0000ff" stroke-width="1.6"/><polygon points="1111.3,807.3 1124,829.1 1098.6,829.1" fill="#fff" stroke="#0000ff" stroke-width="1.6"/><polygon points="1180.9,811.2 1193.6,833 1168.2,833" fill="#fff" stroke="#0000ff" stroke-width="1.6"/>
<path d="M206.6 850.2 208.5 834.1 210.5 818 212.4 802 214.3 786.1 216.3 770.3 218.2 754.6 220.1 739.2 222.1 724 224 709 225.9 694.3 227.9 679.9 229.8 665.9 231.7 652.2 233.7 639 235.6 626.2 237.5 613.8 239.5 602 241.4 590.7 243.3 580 245.3 569.8 247.2 560.3 249.1 551.5 251.1 543.4 253 535.9 254.9 529.3 256.8 523.4 258.8 518.3 260.7 514.1 262.6 510.8 264.6 508.4 266.5 506.9 268.4 506.4 270.4 507 272.3 508.5 274.2 511.1 276.2 514.9 278.1 519.7 280 525.6 282 532.5 283.9 540.4 285.8 549 287.8 558.5 289.7 568.7 291.6 579.5 293.6 590.8 295.5 602.7 297.4 615 299.4 627.6 301.3 640.6 303.2 653.7 305.2 667 307.1 680.4 309 693.8 311 707.1 312.9 720.2 314.8 733.2 316.8 745.9 318.7 758.2 320.6 770.1 322.6 781.5 324.5 792.3 326.4 802.5 328.4 812 330.3 820.7 332.2 828.6 334.2 835.6 336.1 841.5 338 846.4 340 850.2 341.9 852.8 343.8 854.1 345.8 854.1 347.7 852.7 349.6 849.9 351.6 845.8 353.5 840.6 355.4 834.2 357.4 826.8 359.3 818.4 361.2 809 363.2 798.9 365.1 787.9 367 776.2 369 763.9 370.9 751 372.8 737.6 374.8 723.8 376.7 709.7 378.6 695.2 380.6 680.5 382.5 665.7 384.4 650.8 386.4 636 388.3 621.1 390.2 606.5 392.2 592 394.1 577.8 396 563.9 398 550.5 399.9 537.5 401.8 525.2 403.8 513.4 405.7 502.4 407.6 492.1 409.6 482.6 411.5 474.1 413.4 466.6 415.4 460.1 417.3 454.7 419.2 450.4 421.2 447.1 423.1 444.8 425 443.5 427 443.1 428.9 443.5 430.8 444.8 432.8 446.8 434.7 449.6 436.6 453 438.6 457.2 440.5 461.9 442.4 467.2 444.4 473 446.3 479.2 448.2 485.9 450.2 493 452.1 500.5 454 508.2 456 516.2 457.9 524.5 459.8 532.9 461.8 541.4 463.7 550 465.6 558.7 467.6 567.3 469.5 576 471.4 584.5 473.4 592.9 475.3 601.1 477.2 609.1 479.2 616.9 481.1 624.4 483 631.5 485 638.2 486.9 644.5 488.8 650.4 490.7 655.9 492.7 661 494.6 665.7 496.5 670.1 498.5 674.1 500.4 677.8 502.3 681.2 504.3 684.3 506.2 687.1 508.1 689.6 510.1 691.9 512 694 513.9 695.8 515.9 697.4 517.8 698.8 519.7 700 521.7 701.1 523.6 702 525.5 702.8 527.5 703.4 529.4 704 531.3 704.4 533.3 704.8 535.2 705.1 537.1 705.4 539.1 705.6 541 705.8 542.9 706 544.9 706.2 546.8 706.4 548.7 706.7 550.7 707 552.6 707.4 554.5 707.9 556.5 708.5 558.4 709.2 560.3 709.9 562.3 710.8 564.2 711.7 566.1 712.7 568.1 713.8 570 714.9 571.9 716.1 573.9 717.4 575.8 718.7 577.7 720 579.7 721.5 581.6 722.9 583.5 724.4 585.5 725.9 587.4 727.5 589.3 729.1 591.3 730.7 593.2 732.3 595.1 733.9 597.1 735.5 599 737.2 600.9 738.8 602.9 740.4 604.8 742 606.7 743.6 608.7 745.2 610.6 746.8 612.5 748.3 614.5 749.8 616.4 751.3 618.3 752.7 620.3 754.1 622.2 755.4 624.1 756.7 626.1 757.9 628 759.1 629.9 760.2 631.9 761.3 633.8 762.3 635.7 763.2 637.7 764.2 639.6 765 641.5 765.9 643.5 766.6 645.4 767.4 647.3 768.1 649.3 768.8 651.2 769.4 653.1 770 655.1 770.6 657 771.1 658.9 771.7 660.9 772.2 662.8 772.6 664.7 773.1 666.7 773.5 668.6 773.9 670.5 774.3 672.5 774.7 674.4 775.1 676.3 775.5 678.3 775.8 680.2 776.2 682.1 776.5 684.1 776.9 686 777.2 687.9 777.5 689.9 777.9 691.8 778.2 693.7 778.6 695.7 779 697.6 779.3 699.5 779.7 701.5 780.1 703.4 780.5 705.3 780.9 707.3 781.3 709.2 781.6 711.1 782 713.1 782.4 715 782.8 716.9 783.2 718.8 783.6 720.8 784 722.7 784.4 724.6 784.8 726.6 785.2 728.5 785.6 730.4 786 732.4 786.3 734.3 786.7 736.2 787 738.2 787.4 740.1 787.7 742 788 744 788.3 745.9 788.6 747.8 788.9 749.8 789.2 751.7 789.4 753.6 789.7 755.6 789.9 757.5 790.1 759.4 790.3 761.4 790.5 763.3 790.6 765.2 790.7 767.2 790.9 769.1 791 771 791 773 791.1 774.9 791.2 776.8 791.2 778.8 791.3 780.7 791.3 782.6 791.4 784.6 791.5 786.5 791.5 788.4 791.6 790.4 791.7 792.3 791.8 794.2 791.9 796.2 792 798.1 792.2 800 792.4 802 792.6 803.9 792.8 805.8 793.1 807.8 793.4 809.7 793.7 811.6 794 813.6 794.4 815.5 794.9 817.4 795.4 819.4 795.9 821.3 796.5 823.2 797.1 825.2 797.8 827.1 798.6 829 799.4 831 800.3 832.9 801.2 834.8 802.2 836.8 803.2 838.7 804.4 840.6 805.5 842.6 806.7 844.5 808 846.4 809.3 848.4 810.6 850.3 811.9 852.2 813.3 854.2 814.6 856.1 816 858 817.4 860 818.8 861.9 820.2 863.8 821.5 865.8 822.9 867.7 824.2 869.6 825.5 871.6 826.8 873.5 828 875.4 829.2 877.4 830.4 879.3 831.5 881.2 832.5 883.2 833.5 885.1 834.4 887 835.2 889 836 890.9 836.7 892.8 837.3 894.8 837.7 896.7 838.1 898.6 838.4 900.6 838.6 902.5 838.7 904.4 838.6 906.4 838.5 908.3 838.2 910.2 837.8 912.2 837.4 914.1 836.8 916 836.2 918 835.5 919.9 834.7 921.8 833.8 923.8 832.8 925.7 831.9 927.6 830.8 929.6 829.7 931.5 828.6 933.4 827.4 935.4 826.2 937.3 825 939.2 823.7 941.2 822.4 943.1 821.2 945 819.9 947 818.6 948.9 817.3 950.8 816.1 952.7 814.8 954.7 813.6 956.6 812.4 958.5 811.3 960.5 810.1 962.4 809.1 964.3 808 966.3 807.1 968.2 806.2 970.1 805.3 972.1 804.6 974 803.9 975.9 803.2 977.9 802.7 979.8 802.2 981.7 801.8 983.7 801.5 985.6 801.2 987.5 801 989.5 800.8 991.4 800.7 993.3 800.6 995.3 800.6 997.2 800.6 999.1 800.7 1001.1 800.8 1003 800.9 1004.9 801.1 1006.9 801.3 1008.8 801.5 1010.7 801.8 1012.7 802 1014.6 802.3 1016.5 802.6 1018.5 803 1020.4 803.3 1022.3 803.7 1024.3 804 1026.2 804.4 1028.1 804.7 1030.1 805.1 1032 805.4 1033.9 805.7 1035.9 806.1 1037.8 806.4 1039.7 806.7 1041.7 807 1043.6 807.2 1045.5 807.4 1047.5 807.7 1049.4 807.9 1051.3 808 1053.3 808.2 1055.2 808.3 1057.1 808.4 1059.1 808.6 1061 808.6 1062.9 808.7 1064.9 808.8 1066.8 808.8 1068.7 808.9 1070.7 808.9 1072.6 808.9 1074.5 808.9 1076.5 808.9 1078.4 808.9 1080.3 808.9 1082.3 808.9 1084.2 808.9 1086.1 808.8 1088.1 808.8 1090 808.8 1091.9 808.7 1093.9 808.7 1095.8 808.6 1097.7 808.6 1099.7 808.6 1101.6 808.5 1103.5 808.5 1105.5 808.5 1107.4 808.4 1109.3 808.4 1111.3 808.4 1113.2 808.4 1115.1 808.4 1117.1 808.4 1119 808.4 1120.9 808.4 1122.9 808.4 1124.8 808.5 1126.7 808.5 1128.7 808.5 1130.6 808.6 1132.5 808.6 1134.5 808.7 1136.4 808.7 1138.3 808.8 1140.3 808.8 1142.2 808.9 1144.1 809 1146.1 809.1 1148 809.1 1149.9 809.2 1151.9 809.3 1153.8 809.4 1155.7 809.5 1157.7 809.6 1159.6 809.7 1161.5 809.8 1163.5 809.9 1165.4 810 1167.3 810.1 1169.3 810.2 1171.2 810.3 1173.1 810.4 1175.1 810.5 1177 810.6 1178.9 810.7 1180.9 810.8" fill="none" stroke="#000000" stroke-width="3.3" stroke-linecap="round" stroke-linejoin="round" stroke-dasharray="0.1 6.55"/>
<polygon points="191,850.2 215.2,836.7 215.2,863.7" fill="#000000"/><polygon points="260.6,514.9 284.8,501.4 284.8,528.4" fill="#000000"/><polygon points="330.2,854.1 354.4,840.6 354.4,867.6" fill="#000000"/><polygon points="399.8,460.1 424,446.6 424,473.6" fill="#000000"/><polygon points="469.3,638.2 493.5,624.7 493.5,651.7" fill="#000000"/><polygon points="538.9,707.9 563.1,694.4 563.1,721.4" fill="#000000"/><polygon points="608.5,756.7 632.7,743.2 632.7,770.2" fill="#000000"/><polygon points="678.1,778.6 702.3,765.1 702.3,792.1" fill="#000000"/><polygon points="747.7,790.6 771.9,777.1 771.9,804.1" fill="#000000"/><polygon points="817.3,801.2 841.5,787.7 841.5,814.7" fill="#000000"/><polygon points="886.9,838.7 911.1,825.2 911.1,852.2" fill="#000000"/><polygon points="956.5,804.6 980.7,791.1 980.7,818.1" fill="#000000"/><polygon points="1026.1,807 1050.3,793.5 1050.3,820.5" fill="#000000"/><polygon points="1095.7,808.4 1119.9,794.9 1119.9,821.9" fill="#000000"/><polygon points="1165.2,810.8 1189.4,797.3 1189.4,824.3" fill="#000000"/>
<path d="M206.6 853.6 208.5 852.2 210.5 850.8 212.4 849.4 214.3 848 216.3 846.6 218.2 845.3 220.1 844 222.1 842.8 224 841.6 225.9 840.5 227.9 839.4 229.8 838.4 231.7 837.5 233.7 836.7 235.6 835.9 237.5 835.3 239.5 834.8 241.4 834.4 243.3 834.1 245.3 833.9 247.2 833.9 249.1 834 251.1 834.2 253 834.6 254.9 835.2 256.8 835.9 258.8 836.8 260.7 837.8 262.6 839.1 264.6 840.5 266.5 842.2 268.4 844 270.4 846.1 272.3 848.4 274.2 850.9 276.2 853.6 278.1 856.6 280 859.7 282 863.1 283.9 866.5 285.8 870.1 287.8 873.7 289.7 877.4 291.6 881.1 293.6 884.7 295.5 888.3 297.4 891.7 299.4 895 301.3 898.2 303.2 901.1 305.2 903.9 307.1 906.3 309 908.4 311 910.2 312.9 911.6 314.8 912.6 316.8 913.2 318.7 913.3 320.6 912.8 322.6 911.8 324.5 910.3 326.4 908.1 328.4 905.3 330.3 901.8 332.2 897.6 334.2 892.6 336.1 886.9 338 880.3 340 872.9 341.9 864.6 343.8 855.4 345.8 845.2 347.7 834 349.6 822 351.6 809 353.5 795.3 355.4 780.9 357.4 765.9 359.3 750.2 361.2 734.1 363.2 717.5 365.1 700.6 367 683.4 369 665.9 370.9 648.3 372.8 630.6 374.8 612.8 376.7 595.2 378.6 577.6 380.6 560.2 382.5 543.1 384.4 526.3 386.4 509.8 388.3 493.9 390.2 478.5 392.2 463.6 394.1 449.5 396 436.1 398 423.5 399.9 411.7 401.8 400.9 403.8 391.2 405.7 382.5 407.6 374.9 409.6 368.6 411.5 363.6 413.4 359.9 415.4 357.7 417.3 356.9 419.2 357.5 421.2 359.6 423.1 362.9 425 367.5 427 373.2 428.9 380.1 430.8 388 432.8 396.9 434.7 406.7 436.6 417.3 438.6 428.8 440.5 440.9 442.4 453.7 444.4 467.1 446.3 481.1 448.2 495.5 450.2 510.3 452.1 525.4 454 540.8 456 556.4 457.9 572.2 459.8 588 461.8 603.9 463.7 619.7 465.6 635.3 467.6 650.8 469.5 666.1 471.4 681 473.4 695.5 475.3 709.7 477.2 723.3 479.2 736.3 481.1 748.7 483 760.4 485 771.4 486.9 781.5 488.8 790.8 490.7 799.4 492.7 807.2 494.6 814.3 496.5 820.6 498.5 826.3 500.4 831.4 502.3 835.8 504.3 839.6 506.2 842.8 508.1 845.5 510.1 847.6 512 849.3 513.9 850.4 515.9 851.1 517.8 851.4 519.7 851.3 521.7 850.8 523.6 849.9 525.5 848.7 527.5 847.2 529.4 845.4 531.3 843.4 533.3 841.1 535.2 838.6 537.1 835.9 539.1 833.1 541 830.2 542.9 827.1 544.9 824 546.8 820.8 548.7 817.6 550.7 814.3 552.6 811.1 554.5 807.9 556.5 804.8 558.4 801.8 560.3 798.8 562.3 795.9 564.2 793 566.1 790.3 568.1 787.6 570 784.9 571.9 782.4 573.9 779.9 575.8 777.5 577.7 775.2 579.7 772.9 581.6 770.8 583.5 768.7 585.5 766.6 587.4 764.7 589.3 762.8 591.3 761.1 593.2 759.4 595.1 757.8 597.1 756.2 599 754.8 600.9 753.4 602.9 752.1 604.8 751 606.7 749.8 608.7 748.8 610.6 747.9 612.5 747.1 614.5 746.3 616.4 745.7 618.3 745.1 620.3 744.6 622.2 744.3 624.1 744 626.1 743.8 628 743.7 629.9 743.7 631.9 743.7 633.8 743.9 635.7 744.1 637.7 744.4 639.6 744.8 641.5 745.3 643.5 745.8 645.4 746.3 647.3 746.9 649.3 747.6 651.2 748.3 653.1 749.1 655.1 749.9 657 750.7 658.9 751.6 660.9 752.5 662.8 753.5 664.7 754.4 666.7 755.4 668.6 756.4 670.5 757.4 672.5 758.4 674.4 759.5 676.3 760.5 678.3 761.5 680.2 762.5 682.1 763.5 684.1 764.5 686 765.5 687.9 766.5 689.9 767.4 691.8 768.3 693.7 769.2 695.7 770.1 697.6 770.9 699.5 771.7 701.5 772.4 703.4 773.1 705.3 773.8 707.3 774.5 709.2 775.1 711.1 775.7 713.1 776.3 715 776.9 716.9 777.4 718.8 777.9 720.8 778.4 722.7 778.8 724.6 779.3 726.6 779.7 728.5 780 730.4 780.4 732.4 780.7 734.3 781.1 736.2 781.4 738.2 781.6 740.1 781.9 742 782.1 744 782.4 745.9 782.6 747.8 782.8 749.8 783 751.7 783.1 753.6 783.3 755.6 783.4 757.5 783.6 759.4 783.7 761.4 783.8 763.3 783.9 765.2 784 767.2 784 769.1 784.1 771 784.2 773 784.3 774.9 784.3 776.8 784.4 778.8 784.5 780.7 784.6 782.6 784.6 784.6 784.7 786.5 784.8 788.4 785 790.4 785.1 792.3 785.3 794.2 785.4 796.2 785.6 798.1 785.9 800 786.1 802 786.4 803.9 786.7 805.8 787 807.8 787.4 809.7 787.8 811.6 788.2 813.6 788.7 815.5 789.2 817.4 789.7 819.4 790.3 821.3 791 823.2 791.7 825.2 792.4 827.1 793.2 829 794 831 794.9 832.9 795.9 834.8 796.9 836.8 798 838.7 799.1 840.6 800.3 842.6 801.5 844.5 802.7 846.4 804 848.4 805.3 850.3 806.6 852.2 808 854.2 809.3 856.1 810.7 858 812.1 860 813.4 861.9 814.8 863.8 816.1 865.8 817.4 867.7 818.7 869.6 820 871.6 821.3 873.5 822.5 875.4 823.7 877.4 824.8 879.3 825.9 881.2 826.9 883.2 827.9 885.1 828.8 887 829.7 889 830.4 890.9 831.1 892.8 831.7 894.8 832.3 896.7 832.7 898.6 833 900.6 833.3 902.5 833.4 904.4 833.4 906.4 833.3 908.3 833.2 910.2 832.9 912.2 832.5 914.1 832.1 916 831.5 918 830.9 919.9 830.3 921.8 829.5 923.8 828.7 925.7 827.9 927.6 827 929.6 826 931.5 825 933.4 824 935.4 822.9 937.3 821.9 939.2 820.8 941.2 819.6 943.1 818.5 945 817.4 947 816.3 948.9 815.1 950.8 814 952.7 812.9 954.7 811.8 956.6 810.8 958.5 809.8 960.5 808.8 962.4 807.8 964.3 806.9 966.3 806.1 968.2 805.3 970.1 804.5 972.1 803.8 974 803.2 975.9 802.7 977.9 802.2 979.8 801.8 981.7 801.4 983.7 801.1 985.6 800.9 987.5 800.7 989.5 800.6 991.4 800.5 993.3 800.4 995.3 800.4 997.2 800.5 999.1 800.5 1001.1 800.6 1003 800.8 1004.9 801 1006.9 801.2 1008.8 801.4 1010.7 801.6 1012.7 801.9 1014.6 802.2 1016.5 802.5 1018.5 802.8 1020.4 803.1 1022.3 803.4 1024.3 803.7 1026.2 804.1 1028.1 804.4 1030.1 804.7 1032 805 1033.9 805.4 1035.9 805.7 1037.8 805.9 1039.7 806.2 1041.7 806.5 1043.6 806.7 1045.5 806.9 1047.5 807.1 1049.4 807.3 1051.3 807.5 1053.3 807.6 1055.2 807.7 1057.1 807.9 1059.1 808 1061 808 1062.9 808.1 1064.9 808.2 1066.8 808.2 1068.7 808.3 1070.7 808.3 1072.6 808.3 1074.5 808.3 1076.5 808.3 1078.4 808.3 1080.3 808.3 1082.3 808.3 1084.2 808.3 1086.1 808.3 1088.1 808.2 1090 808.2 1091.9 808.2 1093.9 808.1 1095.8 808.1 1097.7 808.1 1099.7 808 1101.6 808 1103.5 808 1105.5 808 1107.4 807.9 1109.3 807.9 1111.3 807.9 1113.2 807.9 1115.1 807.9 1117.1 807.9 1119 808 1120.9 808 1122.9 808 1124.8 808 1126.7 808.1 1128.7 808.1 1130.6 808.2 1132.5 808.2 1134.5 808.3 1136.4 808.3 1138.3 808.4 1140.3 808.5 1142.2 808.6 1144.1 808.6 1146.1 808.7 1148 808.8 1149.9 808.9 1151.9 809 1153.8 809.1 1155.7 809.2 1157.7 809.3 1159.6 809.4 1161.5 809.5 1163.5 809.6 1165.4 809.7 1167.3 809.8 1169.3 809.9 1171.2 810 1173.1 810.1 1175.1 810.2 1177 810.3 1178.9 810.5 1180.9 810.6" fill="none" stroke="#ff0000" stroke-width="3.3" stroke-linecap="round" stroke-linejoin="round" stroke-dasharray="0.1 6.55"/>
<polygon points="206.6,840.3 220.4,853.6 206.6,866.9 192.8,853.6" fill="#fff" stroke="#ff0000" stroke-width="1.6"/><polygon points="192.8,853.6 220.4,853.6 206.6,866.9" fill="#ff0000"/><polygon points="276.2,840.3 290,853.6 276.2,866.9 262.4,853.6" fill="#fff" stroke="#ff0000" stroke-width="1.6"/><polygon points="262.4,853.6 290,853.6 276.2,866.9" fill="#ff0000"/><polygon points="345.8,831.9 359.6,845.2 345.8,858.5 332,845.2" fill="#fff" stroke="#ff0000" stroke-width="1.6"/><polygon points="332,845.2 359.6,845.2 345.8,858.5" fill="#ff0000"/><polygon points="415.4,344.4 429.2,357.7 415.4,371 401.6,357.7" fill="#fff" stroke="#ff0000" stroke-width="1.6"/><polygon points="401.6,357.7 429.2,357.7 415.4,371" fill="#ff0000"/><polygon points="485,758.1 498.8,771.4 485,784.7 471.2,771.4" fill="#fff" stroke="#ff0000" stroke-width="1.6"/><polygon points="471.2,771.4 498.8,771.4 485,784.7" fill="#ff0000"/><polygon points="554.5,794.6 568.3,807.9 554.5,821.2 540.7,807.9" fill="#fff" stroke="#ff0000" stroke-width="1.6"/><polygon points="540.7,807.9 568.3,807.9 554.5,821.2" fill="#ff0000"/><polygon points="624.1,730.7 637.9,744 624.1,757.3 610.3,744" fill="#fff" stroke="#ff0000" stroke-width="1.6"/><polygon points="610.3,744 637.9,744 624.1,757.3" fill="#ff0000"/><polygon points="693.7,755.9 707.5,769.2 693.7,782.5 679.9,769.2" fill="#fff" stroke="#ff0000" stroke-width="1.6"/><polygon points="679.9,769.2 707.5,769.2 693.7,782.5" fill="#ff0000"/><polygon points="763.3,770.6 777.1,783.9 763.3,797.2 749.5,783.9" fill="#fff" stroke="#ff0000" stroke-width="1.6"/><polygon points="749.5,783.9 777.1,783.9 763.3,797.2" fill="#ff0000"/><polygon points="832.9,782.6 846.7,795.9 832.9,809.2 819.1,795.9" fill="#fff" stroke="#ff0000" stroke-width="1.6"/><polygon points="819.1,795.9 846.7,795.9 832.9,809.2" fill="#ff0000"/><polygon points="902.5,820.1 916.3,833.4 902.5,846.7 888.7,833.4" fill="#fff" stroke="#ff0000" stroke-width="1.6"/><polygon points="888.7,833.4 916.3,833.4 902.5,846.7" fill="#ff0000"/><polygon points="972.1,790.5 985.9,803.8 972.1,817.1 958.3,803.8" fill="#fff" stroke="#ff0000" stroke-width="1.6"/><polygon points="958.3,803.8 985.9,803.8 972.1,817.1" fill="#ff0000"/><polygon points="1041.7,793.2 1055.5,806.5 1041.7,819.8 1027.9,806.5" fill="#fff" stroke="#ff0000" stroke-width="1.6"/><polygon points="1027.9,806.5 1055.5,806.5 1041.7,819.8" fill="#ff0000"/><polygon points="1111.3,794.6 1125.1,807.9 1111.3,821.2 1097.5,807.9" fill="#fff" stroke="#ff0000" stroke-width="1.6"/><polygon points="1097.5,807.9 1125.1,807.9 1111.3,821.2" fill="#ff0000"/><polygon points="1180.9,797.3 1194.7,810.6 1180.9,823.9 1167.1,810.6" fill="#fff" stroke="#ff0000" stroke-width="1.6"/><polygon points="1167.1,810.6 1194.7,810.6 1180.9,823.9" fill="#ff0000"/>
<path d="M206.6 851.4 208.5 849.9 210.5 848.3 212.4 846.7 214.3 845.2 216.3 843.7 218.2 842.3 220.1 840.8 222.1 839.5 224 838.2 225.9 836.9 227.9 835.7 229.8 834.6 231.7 833.6 233.7 832.7 235.6 831.9 237.5 831.2 239.5 830.6 241.4 830.2 243.3 829.8 245.3 829.6 247.2 829.6 249.1 829.7 251.1 830 253 830.4 254.9 831 256.8 831.8 258.8 832.8 260.7 833.9 262.6 835.3 264.6 836.9 266.5 838.7 268.4 840.7 270.4 843 272.3 845.5 274.2 848.2 276.2 851.2 278.1 854.4 280 857.9 282 861.6 283.9 865.4 285.8 869.3 287.8 873.2 289.7 877.2 291.6 881.2 293.6 885.1 295.5 888.9 297.4 892.6 299.4 896.1 301.3 899.4 303.2 902.5 305.2 905.2 307.1 907.6 309 909.7 311 911.3 312.9 912.5 314.8 913.2 316.8 913.4 318.7 913 320.6 912 322.6 910.3 324.5 908 326.4 904.9 328.4 901.1 330.3 896.4 332.2 890.9 334.2 884.5 336.1 877.2 338 869 340 859.7 341.9 849.4 343.8 838 345.8 825.5 347.7 811.8 349.6 797.1 351.6 781.3 353.5 764.7 355.4 747.2 357.4 728.9 359.3 710 361.2 690.5 363.2 670.4 365.1 650 367 629.2 369 608.1 370.9 586.8 372.8 565.4 374.8 544 376.7 522.7 378.6 501.5 380.6 480.5 382.5 459.8 384.4 439.5 386.4 419.7 388.3 400.4 390.2 381.7 392.2 363.7 394.1 346.6 396 330.3 398 314.9 399.9 300.6 401.8 287.4 403.8 275.4 405.7 264.6 407.6 255.2 409.6 247.3 411.5 240.9 413.4 236 415.4 232.9 417.3 231.5 419.2 231.8 421.2 233.7 423.1 237.1 425 242 427 248.3 428.9 255.9 430.8 264.7 432.8 274.7 434.7 285.8 436.6 298 438.6 311 440.5 324.9 442.4 339.7 444.4 355.1 446.3 371.2 448.2 387.8 450.2 405 452.1 422.5 454 440.4 456 458.6 457.9 477 459.8 495.5 461.8 514 463.7 532.6 465.6 551 467.6 569.2 469.5 587.2 471.4 604.8 473.4 622.1 475.3 638.8 477.2 655.1 479.2 670.7 481.1 685.6 483 699.7 485 713 486.9 725.3 488.8 736.8 490.7 747.4 492.7 757.1 494.6 766.1 496.5 774.2 498.5 781.5 500.4 788.2 502.3 794 504.3 799.2 506.2 803.8 508.1 807.7 510.1 810.9 512 813.6 513.9 815.7 515.9 817.3 517.8 818.4 519.7 818.9 521.7 819 523.6 818.7 525.5 818 527.5 816.8 529.4 815.3 531.3 813.5 533.3 811.4 535.2 809 537.1 806.3 539.1 803.4 541 800.2 542.9 796.9 544.9 793.5 546.8 789.9 548.7 786.2 550.7 782.4 552.6 778.6 554.5 774.7 556.5 770.9 558.4 767 560.3 763.2 562.3 759.3 564.2 755.5 566.1 751.7 568.1 748 570 744.2 571.9 740.5 573.9 736.9 575.8 733.3 577.7 729.7 579.7 726.2 581.6 722.8 583.5 719.5 585.5 716.2 587.4 713 589.3 709.9 591.3 706.8 593.2 703.9 595.1 701.1 597.1 698.4 599 695.7 600.9 693.2 602.9 690.9 604.8 688.6 606.7 686.5 608.7 684.5 610.6 682.7 612.5 681 614.5 679.5 616.4 678.1 618.3 676.9 620.3 675.8 622.2 675 624.1 674.3 626.1 673.7 628 673.4 629.9 673.2 631.9 673.2 633.8 673.4 635.7 673.7 637.7 674.1 639.6 674.7 641.5 675.4 643.5 676.2 645.4 677.1 647.3 678.2 649.3 679.3 651.2 680.5 653.1 681.9 655.1 683.3 657 684.7 658.9 686.2 660.9 687.8 662.8 689.5 664.7 691.2 666.7 692.9 668.6 694.6 670.5 696.4 672.5 698.2 674.4 700 676.3 701.8 678.3 703.5 680.2 705.3 682.1 707.1 684.1 708.8 686 710.5 687.9 712.2 689.9 713.8 691.8 715.3 693.7 716.8 695.7 718.2 697.6 719.6 699.5 720.9 701.5 722.1 703.4 723.3 705.3 724.4 707.3 725.4 709.2 726.4 711.1 727.4 713.1 728.3 715 729.1 716.9 729.9 718.8 730.6 720.8 731.4 722.7 732 724.6 732.6 726.6 733.2 728.5 733.8 730.4 734.3 732.4 734.8 734.3 735.2 736.2 735.6 738.2 736 740.1 736.4 742 736.8 744 737.1 745.9 737.4 747.8 737.7 749.8 738 751.7 738.2 753.6 738.5 755.6 738.7 757.5 739 759.4 739.2 761.4 739.4 763.3 739.6 765.2 739.9 767.2 740.1 769.1 740.3 771 740.6 773 740.8 774.9 741.1 776.8 741.3 778.8 741.6 780.7 741.9 782.6 742.2 784.6 742.6 786.5 742.9 788.4 743.3 790.4 743.7 792.3 744.1 794.2 744.6 796.2 745.1 798.1 745.6 800 746.1 802 746.7 803.9 747.3 805.8 748 807.8 748.7 809.7 749.5 811.6 750.2 813.6 751.1 815.5 752 817.4 752.9 819.4 753.9 821.3 755 823.2 756.1 825.2 757.2 827.1 758.4 829 759.7 831 761.1 832.9 762.5 834.8 764 836.8 765.5 838.7 767.1 840.6 768.7 842.6 770.4 844.5 772.2 846.4 773.9 848.4 775.7 850.3 777.5 852.2 779.3 854.2 781.2 856.1 783 858 784.8 860 786.6 861.9 788.4 863.8 790.2 865.8 791.9 867.7 793.7 869.6 795.3 871.6 797 873.5 798.5 875.4 800.1 877.4 801.5 879.3 802.9 881.2 804.2 883.2 805.5 885.1 806.6 887 807.7 889 808.6 890.9 809.5 892.8 810.2 894.8 810.8 896.7 811.3 898.6 811.7 900.6 811.9 902.5 812 904.4 812 906.4 811.8 908.3 811.4 910.2 811 912.2 810.4 914.1 809.7 916 808.9 918 808.1 919.9 807.1 921.8 806 923.8 804.9 925.7 803.6 927.6 802.4 929.6 801 931.5 799.6 933.4 798.2 935.4 796.7 937.3 795.2 939.2 793.7 941.2 792.1 943.1 790.6 945 789 947 787.4 948.9 785.9 950.8 784.3 952.7 782.8 954.7 781.3 956.6 779.9 958.5 778.5 960.5 777.1 962.4 775.8 964.3 774.6 966.3 773.4 968.2 772.3 970.1 771.3 972.1 770.4 974 769.6 975.9 768.9 977.9 768.2 979.8 767.7 981.7 767.2 983.7 766.9 985.6 766.5 987.5 766.3 989.5 766.2 991.4 766.1 993.3 766 995.3 766.1 997.2 766.1 999.1 766.3 1001.1 766.5 1003 766.7 1004.9 767 1006.9 767.3 1008.8 767.6 1010.7 768 1012.7 768.4 1014.6 768.9 1016.5 769.3 1018.5 769.8 1020.4 770.3 1022.3 770.8 1024.3 771.3 1026.2 771.8 1028.1 772.3 1030.1 772.9 1032 773.4 1033.9 773.9 1035.9 774.4 1037.8 774.8 1039.7 775.3 1041.7 775.7 1043.6 776.1 1045.5 776.5 1047.5 776.8 1049.4 777.2 1051.3 777.5 1053.3 777.8 1055.2 778 1057.1 778.3 1059.1 778.5 1061 778.7 1062.9 778.9 1064.9 779.1 1066.8 779.2 1068.7 779.4 1070.7 779.5 1072.6 779.6 1074.5 779.7 1076.5 779.8 1078.4 779.9 1080.3 780 1082.3 780.1 1084.2 780.1 1086.1 780.2 1088.1 780.2 1090 780.2 1091.9 780.3 1093.9 780.3 1095.8 780.3 1097.7 780.3 1099.7 780.4 1101.6 780.4 1103.5 780.4 1105.5 780.4 1107.4 780.5 1109.3 780.5 1111.3 780.5 1113.2 780.6 1115.1 780.6 1117.1 780.6 1119 780.7 1120.9 780.7 1122.9 780.8 1124.8 780.9 1126.7 780.9 1128.7 781 1130.6 781.1 1132.5 781.2 1134.5 781.2 1136.4 781.3 1138.3 781.4 1140.3 781.5 1142.2 781.6 1144.1 781.7 1146.1 781.8 1148 781.9 1149.9 782 1151.9 782.1 1153.8 782.2 1155.7 782.3 1157.7 782.4 1159.6 782.6 1161.5 782.7 1163.5 782.8 1165.4 782.9 1167.3 783 1169.3 783.1 1171.2 783.3 1173.1 783.4 1175.1 783.5 1177 783.6 1178.9 783.8 1180.9 783.9" fill="none" stroke="#0000ff" stroke-width="3.3" stroke-linecap="round" stroke-linejoin="round" stroke-dasharray="0.1 6.55"/>
<polygon points="206.6,838 209.8,847.6 219.9,847.7 211.8,853.7 214.8,863.4 206.6,857.5 198.4,863.4 201.4,853.7 193.3,847.7 203.4,847.6" fill="#0000ff"/><polygon points="276.2,837.8 279.4,847.3 289.5,847.5 281.4,853.5 284.4,863.1 276.2,857.3 268,863.1 270.9,853.5 262.9,847.5 272.9,847.3" fill="#0000ff"/><polygon points="345.8,812.1 349,821.6 359.1,821.7 351,827.8 354,837.4 345.8,831.6 337.5,837.4 340.5,827.8 332.5,821.7 342.5,821.6" fill="#0000ff"/><polygon points="415.4,219.5 418.6,229 428.7,229.2 420.6,235.2 423.6,244.8 415.4,239 407.1,244.8 410.1,235.2 402,229.2 412.1,229" fill="#0000ff"/><polygon points="485,699.6 488.2,709.1 498.3,709.2 490.2,715.3 493.2,724.9 485,719.1 476.7,724.9 479.7,715.3 471.6,709.2 481.7,709.1" fill="#0000ff"/><polygon points="554.5,761.3 557.8,770.9 567.9,771 559.8,777 562.8,786.7 554.5,780.8 546.3,786.7 549.3,777 541.2,771 551.3,770.9" fill="#0000ff"/><polygon points="624.1,660.9 627.4,670.4 637.4,670.5 629.4,676.6 632.4,686.2 624.1,680.4 615.9,686.2 618.9,676.6 610.8,670.5 620.9,670.4" fill="#0000ff"/><polygon points="693.7,703.4 697,713 707,713.1 699,719.1 701.9,728.7 693.7,722.9 685.5,728.7 688.5,719.1 680.4,713.1 690.5,713" fill="#0000ff"/><polygon points="763.3,726.2 766.5,735.8 776.6,735.9 768.5,741.9 771.5,751.6 763.3,745.7 755.1,751.6 758.1,741.9 750,735.9 760.1,735.8" fill="#0000ff"/><polygon points="832.9,749.1 836.1,758.6 846.2,758.8 838.1,764.8 841.1,774.4 832.9,768.6 824.7,774.4 827.7,764.8 819.6,758.8 829.7,758.6" fill="#0000ff"/><polygon points="902.5,798.6 905.7,808.2 915.8,808.3 907.7,814.3 910.7,823.9 902.5,818.1 894.3,823.9 897.3,814.3 889.2,808.3 899.3,808.2" fill="#0000ff"/><polygon points="972.1,757 975.3,766.6 985.4,766.7 977.3,772.7 980.3,782.3 972.1,776.5 963.9,782.3 966.8,772.7 958.8,766.7 968.8,766.6" fill="#0000ff"/><polygon points="1041.7,762.3 1044.9,771.9 1055,772 1046.9,778 1049.9,787.6 1041.7,781.8 1033.4,787.6 1036.4,778 1028.4,772 1038.4,771.9" fill="#0000ff"/><polygon points="1111.3,767.1 1114.5,776.7 1124.6,776.8 1116.5,782.8 1119.5,792.4 1111.3,786.6 1103,792.4 1106,782.8 1097.9,776.8 1108,776.7" fill="#0000ff"/><polygon points="1180.9,770.5 1184.1,780 1194.2,780.2 1186.1,786.2 1189.1,795.8 1180.9,790 1172.6,795.8 1175.6,786.2 1167.5,780.2 1177.6,780" fill="#0000ff"/>
</g>
<rect x="137" y="14.6" width="1043.9" height="841.4" fill="none" stroke="#000" stroke-width="3.2"/>
<path d="M137 856v8M206.6 856v16.5M276.2 856v8M345.8 856v16.5M415.4 856v8M485 856v16.5M554.5 856v8M624.1 856v16.5M693.7 856v8M763.3 856v16.5M832.9 856v8M902.5 856v16.5M972.1 856v8M1041.7 856v16.5M1111.3 856v8M1180.9 856v16.5M137 856h-16.5M137 771.9h-8M137 687.7h-16.5M137 603.6h-8M137 519.4h-16.5M137 435.3h-8M137 351.2h-16.5M137 267h-8M137 182.9h-16.5M137 98.7h-8M137 14.6h-16.5" fill="none" stroke="#000" stroke-width="3.2"/>
<g font-family="'Liberation Sans', Arial, sans-serif" font-size="35.5" fill="#000" stroke="#000" stroke-width="0.3">
<text x="206.6" y="911.3" text-anchor="middle">1</text>
<text x="345.8" y="911.3" text-anchor="middle">3</text>
<text x="485" y="911.3" text-anchor="middle">5</text>
<text x="624.1" y="911.3" text-anchor="middle">7</text>
<text x="763.3" y="911.3" text-anchor="middle">9</text>
<text x="902.5" y="911.3" text-anchor="middle">11</text>
<text x="1041.7" y="911.3" text-anchor="middle">13</text>
<text x="1180.9" y="911.3" text-anchor="middle">15</text>
<text x="109.2" y="867.7" text-anchor="end">0</text>
<text x="109.2" y="699.4" text-anchor="end">70</text>
<text x="109.2" y="531.1" text-anchor="end">140</text>
<text x="109.2" y="362.9" text-anchor="end">210</text>
<text x="109.2" y="194.6" text-anchor="end">280</text>
<text x="109.2" y="26.3" text-anchor="end">350</text>
<text x="658.1" y="963.4" text-anchor="middle" textLength="243.5" lengthAdjust="spacingAndGlyphs">Time Period (<tspan font-style="italic">s</tspan>)</text>
<text transform="translate(26 432.3) rotate(-90)" text-anchor="middle" textLength="440" lengthAdjust="spacingAndGlyphs">Power absorbed (<tspan font-style="italic">P</tspan><tspan font-style="italic" font-size="26" dy="7">abs</tspan><tspan font-style="italic" dy="-7"> , kW)</tspan></text>
</g>
<text x="691.4" y="1048" text-anchor="middle" font-family="'Liberation Serif', 'Times New Roman', serif" font-size="56" fill="#222">(a)</text>
<rect x="822" y="34" width="348.6" height="515.7" fill="#fff" stroke="#333" stroke-width="1.4"/>
<path d="M827.9 63.2H907.7" stroke="#000000" stroke-width="3.3" stroke-linecap="round"/>
<rect x="857.6" y="53" width="20.4" height="20.4" fill="#000000"/>
<text x="917.7" y="74.7" font-family="'Liberation Serif', 'Times New Roman', serif" font-size="35" fill="#000" stroke="#000" stroke-width="0.25" textLength="248" lengthAdjust="spacingAndGlyphs">W<tspan dy="9" font-size="25">ed</tspan><tspan dy="-9">/h = 0.25 -&#950;</tspan><tspan dy="9" font-size="25">33</tspan></text>
<path d="M827.9 120.1h12.7M892.9 120.1H907.7" stroke="#000000" stroke-width="3.3" stroke-linecap="round"/>
<rect x="858.4" y="110.7" width="18.8" height="18.8" fill="#fff" stroke="#000000" stroke-width="1.6"/>
<text x="917.7" y="131.6" font-family="'Liberation Serif', 'Times New Roman', serif" font-size="35" fill="#000" stroke="#000" stroke-width="0.25" textLength="248" lengthAdjust="spacingAndGlyphs">W<tspan dy="9" font-size="25">ed</tspan><tspan dy="-9">/h = 0.25 -&#950;</tspan><tspan dy="9" font-size="25">44</tspan></text>
<path d="M827.5 176.9H908" stroke="#000000" stroke-width="3.3" stroke-linecap="round" stroke-dasharray="0.1 6.55"/>
<polygon points="852.2,176.9 876.4,163.4 876.4,190.4" fill="#000000"/>
<text x="917.7" y="188.4" font-family="'Liberation Serif', 'Times New Roman', serif" font-size="35" fill="#000" stroke="#000" stroke-width="0.25" textLength="248" lengthAdjust="spacingAndGlyphs">W<tspan dy="9" font-size="25">ed</tspan><tspan dy="-9">/h = 0.25 -&#950;</tspan><tspan dy="9" font-size="25">55</tspan></text>
<path d="M827.9 233.8H907.7" stroke="#ff0000" stroke-width="3.3" stroke-linecap="round"/>
<circle cx="867.8" cy="233.8" r="10.8" fill="#ff0000"/>
<text x="917.7" y="245.2" font-family="'Liberation Serif', 'Times New Roman', serif" font-size="35" fill="#000" stroke="#000" stroke-width="0.25" textLength="248" lengthAdjust="spacingAndGlyphs">W<tspan dy="9" font-size="25">ed</tspan><tspan dy="-9">/h = 0.50 -&#950;</tspan><tspan dy="9" font-size="25">33</tspan></text>
<path d="M827.9 290.6h12.7M892.9 290.6H907.7" stroke="#ff0000" stroke-width="3.3" stroke-linecap="round"/>
<circle cx="867.8" cy="290.6" r="10" fill="#fff" stroke="#ff0000" stroke-width="1.6"/>
<text x="917.7" y="302.1" font-family="'Liberation Serif', 'Times New Roman', serif" font-size="35" fill="#000" stroke="#000" stroke-width="0.25" textLength="248" lengthAdjust="spacingAndGlyphs">W<tspan dy="9" font-size="25">ed</tspan><tspan dy="-9">/h = 0.50 -&#950;</tspan><tspan dy="9" font-size="25">44</tspan></text>
<path d="M827.5 347.4H908" stroke="#ff0000" stroke-width="3.3" stroke-linecap="round" stroke-dasharray="0.1 6.55"/>
<polygon points="867.8,334.1 881.6,347.4 867.8,360.8 854,347.4" fill="#fff" stroke="#ff0000" stroke-width="1.6"/><polygon points="854,347.4 881.6,347.4 867.8,360.8" fill="#ff0000"/>
<text x="917.7" y="358.9" font-family="'Liberation Serif', 'Times New Roman', serif" font-size="35" fill="#000" stroke="#000" stroke-width="0.25" textLength="248" lengthAdjust="spacingAndGlyphs">W<tspan dy="9" font-size="25">ed</tspan><tspan dy="-9">/h = 0.50 -&#950;</tspan><tspan dy="9" font-size="25">55</tspan></text>
<path d="M827.9 404.3H907.7" stroke="#0000ff" stroke-width="3.3" stroke-linecap="round"/>
<polygon points="867.8,389.1 881.5,412.7 854.1,412.7" fill="#0000ff"/>
<text x="917.7" y="415.8" font-family="'Liberation Serif', 'Times New Roman', serif" font-size="35" fill="#000" stroke="#000" stroke-width="0.25" textLength="248" lengthAdjust="spacingAndGlyphs">W<tspan dy="9" font-size="25">ed</tspan><tspan dy="-9">/h = 0.75 -&#950;</tspan><tspan dy="9" font-size="25">33</tspan></text>
<path d="M827.9 461.1h12.7M892.9 461.1H907.7" stroke="#0000ff" stroke-width="3.3" stroke-linecap="round"/>
<polygon points="867.8,447.1 880.5,468.9 855.1,468.9" fill="#fff" stroke="#0000ff" stroke-width="1.6"/>
<text x="917.7" y="472.6" font-family="'Liberation Serif', 'Times New Roman', serif" font-size="35" fill="#000" stroke="#000" stroke-width="0.25" textLength="248" lengthAdjust="spacingAndGlyphs">W<tspan dy="9" font-size="25">ed</tspan><tspan dy="-9">/h = 0.75 -&#950;</tspan><tspan dy="9" font-size="25">44</tspan></text>
<path d="M827.5 518H908" stroke="#0000ff" stroke-width="3.3" stroke-linecap="round" stroke-dasharray="0.1 6.55"/>
<polygon points="867.8,504.6 871,514.2 881.1,514.3 873,520.3 876,529.9 867.8,524.1 859.6,529.9 862.6,520.3 854.5,514.3 864.6,514.2" fill="#0000ff"/>
<text x="917.7" y="529.5" font-family="'Liberation Serif', 'Times New Roman', serif" font-size="35" fill="#000" stroke="#000" stroke-width="0.25" textLength="248" lengthAdjust="spacingAndGlyphs">W<tspan dy="9" font-size="25">ed</tspan><tspan dy="-9">/h = 0.75 -&#950;</tspan><tspan dy="9" font-size="25">55</tspan></text>
</g>
<g id="panel-b">
<clipPath id="clip-b"><rect x="137" y="1128.8" width="1043.9" height="841.4"/></clipPath>
<path d="M206.6 1970.2V1128.8M345.8 1970.2V1128.8M485 1970.2V1128.8M624.1 1970.2V1128.8M763.3 1970.2V1128.8M902.5 1970.2V1128.8M1041.7 1970.2V1128.8M137 1830H1180.9M137 1689.7H1180.9M137 1549.5H1180.9M137 1409.3H1180.9M137 1269H1180.9" fill="none" stroke="#c2c8c5" stroke-width="1.3" stroke-dasharray="5.3 4.95"/>
<rect x="499.2" y="1160.0" width="340.8" height="248.0" fill="#fff"/>
<g transform="translate(528.5 1176.6) scale(0.8980)">
<clipPath id="sc-b"><rect x="-33.5" y="10" width="90" height="250"/></clipPath>
<g clip-path="url(#sc-b)"><ellipse cx="11" cy="122" rx="56" ry="96" transform="rotate(-8 11 122)" fill="url(#shd)"/></g>
<use href="#inset"/>
</g>
<g clip-path="url(#clip-b)">
<path d="M206.6 1968.2 208.5 1970.4 210.5 1972.6 212.4 1974.7 214.3 1976.8 216.3 1978.9 218.2 1981 220.1 1982.9 222.1 1984.8 224 1986.6 225.9 1988.4 227.9 1990 229.8 1991.5 231.7 1992.8 233.7 1994.1 235.6 1995.2 237.5 1996.1 239.5 1996.9 241.4 1997.5 243.3 1997.9 245.3 1998.1 247.2 1998.1 249.1 1997.9 251.1 1997.5 253 1996.8 254.9 1995.9 256.8 1994.7 258.8 1993.2 260.7 1991.5 262.6 1989.4 264.6 1987.1 266.5 1984.5 268.4 1981.5 270.4 1978.2 272.3 1974.5 274.2 1970.6 276.2 1966.2 278.1 1961.5 280 1956.4 282 1951 283.9 1945.2 285.8 1939.2 287.8 1932.9 289.7 1926.4 291.6 1919.7 293.6 1912.7 295.5 1905.5 297.4 1898.2 299.4 1890.8 301.3 1883.2 303.2 1875.5 305.2 1867.7 307.1 1859.9 309 1852.1 311 1844.2 312.9 1836.3 314.8 1828.5 316.8 1820.7 318.7 1812.9 320.6 1805.3 322.6 1797.7 324.5 1790.3 326.4 1783.1 328.4 1776 330.3 1769.1 332.2 1762.4 334.2 1756 336.1 1749.8 338 1743.9 340 1738.2 341.9 1732.9 343.8 1728 345.8 1723.4 347.7 1719.2 349.6 1715.3 351.6 1711.8 353.5 1708.7 355.4 1705.8 357.4 1703.3 359.3 1701.1 361.2 1699.1 363.2 1697.5 365.1 1696.1 367 1694.9 369 1694 370.9 1693.2 372.8 1692.7 374.8 1692.4 376.7 1692.2 378.6 1692.2 380.6 1692.4 382.5 1692.7 384.4 1693.1 386.4 1693.6 388.3 1694.2 390.2 1694.9 392.2 1695.6 394.1 1696.4 396 1697.3 398 1698.1 399.9 1699 401.8 1699.8 403.8 1700.7 405.7 1701.5 407.6 1702.2 409.6 1702.9 411.5 1703.6 413.4 1704.1 415.4 1704.6 417.3 1704.9 419.2 1705.1 421.2 1705.2 423.1 1705.2 425 1705.2 427 1705 428.9 1704.7 430.8 1704.4 432.8 1704 434.7 1703.5 436.6 1703 438.6 1702.4 440.5 1701.8 442.4 1701.1 444.4 1700.4 446.3 1699.6 448.2 1698.9 450.2 1698.1 452.1 1697.2 454 1696.4 456 1695.5 457.9 1694.7 459.8 1693.8 461.8 1693 463.7 1692.2 465.6 1691.4 467.6 1690.6 469.5 1689.8 471.4 1689.1 473.4 1688.4 475.3 1687.8 477.2 1687.2 479.2 1686.7 481.1 1686.2 483 1685.8 485 1685.5 486.9 1685.3 488.8 1685.1 490.7 1685 492.7 1685 494.6 1685 496.5 1685.2 498.5 1685.4 500.4 1685.6 502.3 1685.9 504.3 1686.3 506.2 1686.8 508.1 1687.3 510.1 1687.8 512 1688.5 513.9 1689.1 515.9 1689.9 517.8 1690.6 519.7 1691.5 521.7 1692.4 523.6 1693.3 525.5 1694.3 527.5 1695.3 529.4 1696.4 531.3 1697.5 533.3 1698.6 535.2 1699.8 537.1 1701 539.1 1702.3 541 1703.6 542.9 1704.9 544.9 1706.2 546.8 1707.6 548.7 1709 550.7 1710.4 552.6 1711.9 554.5 1713.4 556.5 1714.9 558.4 1716.4 560.3 1717.9 562.3 1719.5 564.2 1721 566.1 1722.6 568.1 1724.2 570 1725.8 571.9 1727.4 573.9 1729 575.8 1730.7 577.7 1732.3 579.7 1733.9 581.6 1735.6 583.5 1737.2 585.5 1738.9 587.4 1740.5 589.3 1742.2 591.3 1743.8 593.2 1745.4 595.1 1747.1 597.1 1748.7 599 1750.3 600.9 1751.9 602.9 1753.5 604.8 1755.1 606.7 1756.6 608.7 1758.2 610.6 1759.7 612.5 1761.2 614.5 1762.7 616.4 1764.2 618.3 1765.7 620.3 1767.1 622.2 1768.5 624.1 1769.9 626.1 1771.2 628 1772.5 629.9 1773.8 631.9 1775.1 633.8 1776.4 635.7 1777.6 637.7 1778.8 639.6 1780 641.5 1781.2 643.5 1782.3 645.4 1783.4 647.3 1784.5 649.3 1785.6 651.2 1786.7 653.1 1787.7 655.1 1788.8 657 1789.8 658.9 1790.8 660.9 1791.8 662.8 1792.7 664.7 1793.7 666.7 1794.7 668.6 1795.6 670.5 1796.5 672.5 1797.4 674.4 1798.4 676.3 1799.3 678.3 1800.2 680.2 1801 682.1 1801.9 684.1 1802.8 686 1803.7 687.9 1804.5 689.9 1805.4 691.8 1806.3 693.7 1807.1 695.7 1808 697.6 1808.8 699.5 1809.7 701.5 1810.5 703.4 1811.4 705.3 1812.2 707.3 1813.1 709.2 1813.9 711.1 1814.7 713.1 1815.5 715 1816.3 716.9 1817.1 718.8 1817.9 720.8 1818.7 722.7 1819.4 724.6 1820.1 726.6 1820.9 728.5 1821.6 730.4 1822.3 732.4 1822.9 734.3 1823.6 736.2 1824.2 738.2 1824.8 740.1 1825.4 742 1826 744 1826.5 745.9 1827.1 747.8 1827.6 749.8 1828 751.7 1828.5 753.6 1828.9 755.6 1829.3 757.5 1829.7 759.4 1830 761.4 1830.3 763.3 1830.6 765.2 1830.8 767.2 1831 769.1 1831.2 771 1831.4 773 1831.5 774.9 1831.7 776.8 1831.8 778.8 1831.9 780.7 1832.1 782.6 1832.2 784.6 1832.3 786.5 1832.5 788.4 1832.7 790.4 1832.9 792.3 1833.1 794.2 1833.4 796.2 1833.7 798.1 1834 800 1834.4 802 1834.9 803.9 1835.4 805.8 1835.9 807.8 1836.5 809.7 1837.2 811.6 1837.9 813.6 1838.8 815.5 1839.6 817.4 1840.6 819.4 1841.7 821.3 1842.9 823.2 1844.1 825.2 1845.5 827.1 1846.9 829 1848.5 831 1850.2 832.9 1852 834.8 1853.9 836.8 1856 838.7 1858.1 840.6 1860.3 842.6 1862.7 844.5 1865 846.4 1867.5 848.4 1870 850.3 1872.6 852.2 1875.2 854.2 1877.8 856.1 1880.4 858 1883.1 860 1885.8 861.9 1888.4 863.8 1891 865.8 1893.6 867.7 1896.2 869.6 1898.7 871.6 1901.2 873.5 1903.6 875.4 1905.9 877.4 1908.1 879.3 1910.3 881.2 1912.3 883.2 1914.3 885.1 1916.1 887 1917.7 889 1919.3 890.9 1920.7 892.8 1921.9 894.8 1923 896.7 1923.8 898.6 1924.5 900.6 1925 902.5 1925.3 904.4 1925.4 906.4 1925.3 908.3 1925 910.2 1924.5 912.2 1923.8 914.1 1922.9 916 1921.9 918 1920.8 919.9 1919.5 921.8 1918.1 923.8 1916.5 925.7 1914.9 927.6 1913.1 929.6 1911.3 931.5 1909.4 933.4 1907.4 935.4 1905.4 937.3 1903.3 939.2 1901.2 941.2 1899 943.1 1896.8 945 1894.6 947 1892.4 948.9 1890.2 950.8 1888 952.7 1885.9 954.7 1883.8 956.6 1881.7 958.5 1879.7 960.5 1877.8 962.4 1875.9 964.3 1874.1 966.3 1872.4 968.2 1870.8 970.1 1869.4 972.1 1868 974 1866.8 975.9 1865.7 977.9 1864.8 979.8 1863.9 981.7 1863.2 983.7 1862.6 985.6 1862.1 987.5 1861.6 989.5 1861.3 991.4 1861.1 993.3 1861 995.3 1860.9 997.2 1860.9 999.1 1861 1001.1 1861.2 1003 1861.4 1004.9 1861.7 1006.9 1862 1008.8 1862.4 1010.7 1862.9 1012.7 1863.3 1014.6 1863.8 1016.5 1864.4 1018.5 1864.9 1020.4 1865.5 1022.3 1866.1 1024.3 1866.7 1026.2 1867.4 1028.1 1868 1030.1 1868.6 1032 1869.2 1033.9 1869.8 1035.9 1870.4 1037.8 1871 1039.7 1871.5 1041.7 1872 1043.6 1872.5 1045.5 1873 1047.5 1873.4 1049.4 1873.8 1051.3 1874.1 1053.3 1874.4 1055.2 1874.7 1057.1 1875 1059.1 1875.2 1061 1875.5 1062.9 1875.7 1064.9 1875.8 1066.8 1876 1068.7 1876.1 1070.7 1876.2 1072.6 1876.3 1074.5 1876.4 1076.5 1876.5 1078.4 1876.6 1080.3 1876.6 1082.3 1876.6 1084.2 1876.7 1086.1 1876.7 1088.1 1876.7 1090 1876.7 1091.9 1876.7 1093.9 1876.7 1095.8 1876.7 1097.7 1876.7 1099.7 1876.7 1101.6 1876.6 1103.5 1876.6 1105.5 1876.6 1107.4 1876.6 1109.3 1876.6 1111.3 1876.6 1113.2 1876.7 1115.1 1876.7 1117.1 1876.7 1119 1876.8 1120.9 1876.8 1122.9 1876.9 1124.8 1876.9 1126.7 1877 1128.7 1877.1 1130.6 1877.2 1132.5 1877.3 1134.5 1877.3 1136.4 1877.4 1138.3 1877.5 1140.3 1877.7 1142.2 1877.8 1144.1 1877.9 1146.1 1878 1148 1878.1 1149.9 1878.3 1151.9 1878.4 1153.8 1878.5 1155.7 1878.7 1157.7 1878.8 1159.6 1879 1161.5 1879.1 1163.5 1879.2 1165.4 1879.4 1167.3 1879.6 1169.3 1879.7 1171.2 1879.9 1173.1 1880 1175.1 1880.2 1177 1880.3 1178.9 1880.5 1180.9 1880.7" fill="none" stroke="#000000" stroke-width="3.3" stroke-linecap="round" stroke-linejoin="round"/>
<rect x="196.4" y="1958" width="20.4" height="20.4" fill="#000000"/><rect x="266" y="1956" width="20.4" height="20.4" fill="#000000"/><rect x="335.6" y="1713.2" width="20.4" height="20.4" fill="#000000"/><rect x="405.2" y="1694.4" width="20.4" height="20.4" fill="#000000"/><rect x="474.8" y="1675.3" width="20.4" height="20.4" fill="#000000"/><rect x="544.3" y="1703.2" width="20.4" height="20.4" fill="#000000"/><rect x="613.9" y="1759.7" width="20.4" height="20.4" fill="#000000"/><rect x="683.5" y="1796.9" width="20.4" height="20.4" fill="#000000"/><rect x="753.1" y="1820.4" width="20.4" height="20.4" fill="#000000"/><rect x="822.7" y="1841.8" width="20.4" height="20.4" fill="#000000"/><rect x="892.3" y="1915.1" width="20.4" height="20.4" fill="#000000"/><rect x="961.9" y="1857.8" width="20.4" height="20.4" fill="#000000"/><rect x="1031.5" y="1861.8" width="20.4" height="20.4" fill="#000000"/><rect x="1101.1" y="1866.4" width="20.4" height="20.4" fill="#000000"/><rect x="1170.7" y="1870.5" width="20.4" height="20.4" fill="#000000"/>
<path d="M206.6 1968.2 208.5 1972.8 210.5 1977.4 212.4 1981.9 214.3 1986.4 216.3 1990.8 218.2 1995.1 220.1 1999.3 222.1 2003.3 224 2007.1 225.9 2010.7 227.9 2014.1 229.8 2017.3 231.7 2020.3 233.7 2022.9 235.6 2025.2 237.5 2027.3 239.5 2028.9 241.4 2030.2 243.3 2031.1 245.3 2031.6 247.2 2031.7 249.1 2031.3 251.1 2030.5 253 2029.1 254.9 2027.2 256.8 2024.8 258.8 2021.8 260.7 2018.3 262.6 2014.1 264.6 2009.3 266.5 2003.9 268.4 1997.8 270.4 1991 272.3 1983.5 274.2 1975.2 276.2 1966.2 278.1 1956.4 280 1945.9 282 1934.8 283.9 1923 285.8 1910.7 287.8 1898 289.7 1884.8 291.6 1871.2 293.6 1857.4 295.5 1843.3 297.4 1829 299.4 1814.6 301.3 1800.1 303.2 1785.6 305.2 1771.2 307.1 1756.9 309 1742.8 311 1728.9 312.9 1715.3 314.8 1702.1 316.8 1689.2 318.7 1676.9 320.6 1665 322.6 1653.8 324.5 1643.2 326.4 1633.3 328.4 1624.2 330.3 1616 332.2 1608.6 334.2 1602.1 336.1 1596.7 338 1592.3 340 1589.1 341.9 1587.1 343.8 1586.3 345.8 1586.8 347.7 1588.6 349.6 1591.8 351.6 1596.1 353.5 1601.6 355.4 1608.2 357.4 1615.8 359.3 1624.4 361.2 1633.8 363.2 1644.1 365.1 1655 367 1666.6 369 1678.8 370.9 1691.5 372.8 1704.7 374.8 1718.2 376.7 1732.1 378.6 1746.1 380.6 1760.4 382.5 1774.7 384.4 1789.1 386.4 1803.4 388.3 1817.6 390.2 1831.6 392.2 1845.3 394.1 1858.7 396 1871.7 398 1884.2 399.9 1896.2 401.8 1907.6 403.8 1918.2 405.7 1928.2 407.6 1937.3 409.6 1945.5 411.5 1952.7 413.4 1958.9 415.4 1964 417.3 1967.9 419.2 1970.7 421.2 1972.4 423.1 1973.1 425 1972.8 427 1971.6 428.9 1969.4 430.8 1966.5 432.8 1962.7 434.7 1958.2 436.6 1953 438.6 1947.2 440.5 1940.8 442.4 1933.8 444.4 1926.4 446.3 1918.5 448.2 1910.2 450.2 1901.5 452.1 1892.6 454 1883.4 456 1874 457.9 1864.5 459.8 1854.8 461.8 1845.1 463.7 1835.4 465.6 1825.8 467.6 1816.2 469.5 1806.8 471.4 1797.5 473.4 1788.6 475.3 1779.9 477.2 1771.5 479.2 1763.5 481.1 1756 483 1748.9 485 1742.4 486.9 1736.5 488.8 1731.1 490.7 1726.3 492.7 1722 494.6 1718.2 496.5 1714.8 498.5 1712 500.4 1709.6 502.3 1707.7 504.3 1706.1 506.2 1705 508.1 1704.2 510.1 1703.7 512 1703.7 513.9 1703.9 515.9 1704.4 517.8 1705.2 519.7 1706.3 521.7 1707.6 523.6 1709.1 525.5 1710.9 527.5 1712.8 529.4 1714.9 531.3 1717.1 533.3 1719.4 535.2 1721.9 537.1 1724.4 539.1 1727.1 541 1729.7 542.9 1732.4 544.9 1735.1 546.8 1737.8 548.7 1740.5 550.7 1743.2 552.6 1745.7 554.5 1748.2 556.5 1750.6 558.4 1752.9 560.3 1755.1 562.3 1757.2 564.2 1759.2 566.1 1761.2 568.1 1763 570 1764.8 571.9 1766.5 573.9 1768.1 575.8 1769.6 577.7 1771.1 579.7 1772.5 581.6 1773.9 583.5 1775.2 585.5 1776.4 587.4 1777.6 589.3 1778.7 591.3 1779.8 593.2 1780.9 595.1 1781.9 597.1 1782.8 599 1783.8 600.9 1784.7 602.9 1785.6 604.8 1786.4 606.7 1787.3 608.7 1788.1 610.6 1788.9 612.5 1789.7 614.5 1790.4 616.4 1791.2 618.3 1792 620.3 1792.8 622.2 1793.5 624.1 1794.3 626.1 1795.1 628 1795.9 629.9 1796.7 631.9 1797.5 633.8 1798.3 635.7 1799.2 637.7 1800 639.6 1800.9 641.5 1801.7 643.5 1802.6 645.4 1803.4 647.3 1804.3 649.3 1805.2 651.2 1806 653.1 1806.9 655.1 1807.8 657 1808.7 658.9 1809.6 660.9 1810.4 662.8 1811.3 664.7 1812.2 666.7 1813.1 668.6 1814 670.5 1814.9 672.5 1815.7 674.4 1816.6 676.3 1817.5 678.3 1818.4 680.2 1819.2 682.1 1820.1 684.1 1821 686 1821.8 687.9 1822.7 689.9 1823.5 691.8 1824.3 693.7 1825.2 695.7 1826 697.6 1826.8 699.5 1827.6 701.5 1828.4 703.4 1829.2 705.3 1829.9 707.3 1830.7 709.2 1831.5 711.1 1832.2 713.1 1832.9 715 1833.6 716.9 1834.3 718.8 1835 720.8 1835.6 722.7 1836.3 724.6 1836.9 726.6 1837.5 728.5 1838.1 730.4 1838.7 732.4 1839.2 734.3 1839.8 736.2 1840.3 738.2 1840.8 740.1 1841.2 742 1841.7 744 1842.1 745.9 1842.5 747.8 1842.8 749.8 1843.2 751.7 1843.5 753.6 1843.8 755.6 1844 757.5 1844.3 759.4 1844.5 761.4 1844.7 763.3 1844.8 765.2 1844.9 767.2 1845 769.1 1845 771 1845.1 773 1845.1 774.9 1845.1 776.8 1845.1 778.8 1845.1 780.7 1845.2 782.6 1845.2 784.6 1845.2 786.5 1845.2 788.4 1845.3 790.4 1845.4 792.3 1845.5 794.2 1845.6 796.2 1845.8 798.1 1846 800 1846.3 802 1846.6 803.9 1846.9 805.8 1847.3 807.8 1847.8 809.7 1848.3 811.6 1848.9 813.6 1849.6 815.5 1850.3 817.4 1851.2 819.4 1852.1 821.3 1853.1 823.2 1854.2 825.2 1855.4 827.1 1856.7 829 1858.1 831 1859.6 832.9 1861.2 834.8 1863 836.8 1864.8 838.7 1866.8 840.6 1868.8 842.6 1870.9 844.5 1873.1 846.4 1875.4 848.4 1877.7 850.3 1880.1 852.2 1882.5 854.2 1884.9 856.1 1887.3 858 1889.8 860 1892.3 861.9 1894.7 863.8 1897.2 865.8 1899.6 867.7 1902 869.6 1904.3 871.6 1906.7 873.5 1908.9 875.4 1911.1 877.4 1913.2 879.3 1915.2 881.2 1917.1 883.2 1918.9 885.1 1920.6 887 1922.2 889 1923.7 890.9 1925 892.8 1926.2 894.8 1927.2 896.7 1928 898.6 1928.7 900.6 1929.2 902.5 1929.5 904.4 1929.6 906.4 1929.6 908.3 1929.3 910.2 1928.9 912.2 1928.3 914.1 1927.5 916 1926.6 918 1925.6 919.9 1924.4 921.8 1923.2 923.8 1921.8 925.7 1920.3 927.6 1918.7 929.6 1917 931.5 1915.3 933.4 1913.5 935.4 1911.6 937.3 1909.7 939.2 1907.8 941.2 1905.8 943.1 1903.8 945 1901.8 947 1899.8 948.9 1897.8 950.8 1895.8 952.7 1893.8 954.7 1891.9 956.6 1890 958.5 1888.1 960.5 1886.4 962.4 1884.6 964.3 1883 966.3 1881.5 968.2 1880 970.1 1878.7 972.1 1877.4 974 1876.3 975.9 1875.3 977.9 1874.5 979.8 1873.7 981.7 1873 983.7 1872.5 985.6 1872 987.5 1871.6 989.5 1871.4 991.4 1871.2 993.3 1871 995.3 1871 997.2 1871 999.1 1871.1 1001.1 1871.3 1003 1871.5 1004.9 1871.8 1006.9 1872.1 1008.8 1872.5 1010.7 1872.9 1012.7 1873.3 1014.6 1873.8 1016.5 1874.3 1018.5 1874.8 1020.4 1875.4 1022.3 1875.9 1024.3 1876.5 1026.2 1877.1 1028.1 1877.7 1030.1 1878.2 1032 1878.8 1033.9 1879.4 1035.9 1879.9 1037.8 1880.5 1039.7 1881 1041.7 1881.5 1043.6 1881.9 1045.5 1882.3 1047.5 1882.7 1049.4 1883.1 1051.3 1883.4 1053.3 1883.7 1055.2 1884 1057.1 1884.2 1059.1 1884.5 1061 1884.7 1062.9 1884.9 1064.9 1885 1066.8 1885.2 1068.7 1885.3 1070.7 1885.4 1072.6 1885.5 1074.5 1885.6 1076.5 1885.7 1078.4 1885.7 1080.3 1885.8 1082.3 1885.8 1084.2 1885.8 1086.1 1885.9 1088.1 1885.9 1090 1885.9 1091.9 1885.9 1093.9 1885.9 1095.8 1885.9 1097.7 1885.9 1099.7 1885.9 1101.6 1885.8 1103.5 1885.8 1105.5 1885.8 1107.4 1885.8 1109.3 1885.8 1111.3 1885.9 1113.2 1885.9 1115.1 1885.9 1117.1 1885.9 1119 1886 1120.9 1886 1122.9 1886.1 1124.8 1886.1 1126.7 1886.2 1128.7 1886.3 1130.6 1886.3 1132.5 1886.4 1134.5 1886.5 1136.4 1886.6 1138.3 1886.7 1140.3 1886.8 1142.2 1886.9 1144.1 1887 1146.1 1887.1 1148 1887.2 1149.9 1887.3 1151.9 1887.4 1153.8 1887.6 1155.7 1887.7 1157.7 1887.8 1159.6 1887.9 1161.5 1888.1 1163.5 1888.2 1165.4 1888.3 1167.3 1888.5 1169.3 1888.6 1171.2 1888.8 1173.1 1888.9 1175.1 1889 1177 1889.2 1178.9 1889.3 1180.9 1889.5" fill="none" stroke="#ff0000" stroke-width="3.3" stroke-linecap="round" stroke-linejoin="round"/>
<circle cx="206.6" cy="1968.2" r="10.8" fill="#ff0000"/><circle cx="276.2" cy="1966.2" r="10.8" fill="#ff0000"/><circle cx="345.8" cy="1586.8" r="10.8" fill="#ff0000"/><circle cx="415.4" cy="1964" r="10.8" fill="#ff0000"/><circle cx="485" cy="1742.4" r="10.8" fill="#ff0000"/><circle cx="554.5" cy="1748.2" r="10.8" fill="#ff0000"/><circle cx="624.1" cy="1794.3" r="10.8" fill="#ff0000"/><circle cx="693.7" cy="1825.2" r="10.8" fill="#ff0000"/><circle cx="763.3" cy="1844.8" r="10.8" fill="#ff0000"/><circle cx="832.9" cy="1861.2" r="10.8" fill="#ff0000"/><circle cx="902.5" cy="1929.5" r="10.8" fill="#ff0000"/><circle cx="972.1" cy="1877.4" r="10.8" fill="#ff0000"/><circle cx="1041.7" cy="1881.5" r="10.8" fill="#ff0000"/><circle cx="1111.3" cy="1885.9" r="10.8" fill="#ff0000"/><circle cx="1180.9" cy="1889.5" r="10.8" fill="#ff0000"/>
<path d="M206.6 1968.2 208.5 1974.7 210.5 1981.2 212.4 1987.7 214.3 1994 216.3 2000.3 218.2 2006.3 220.1 2012.2 222.1 2017.9 224 2023.3 225.9 2028.5 227.9 2033.4 229.8 2037.9 231.7 2042 233.7 2045.8 235.6 2049.1 237.5 2052 239.5 2054.4 241.4 2056.2 243.3 2057.5 245.3 2058.3 247.2 2058.4 249.1 2057.9 251.1 2056.7 253 2054.8 254.9 2052.2 256.8 2048.8 258.8 2044.6 260.7 2039.6 262.6 2033.7 264.6 2027 266.5 2019.3 268.4 2010.7 270.4 2001.1 272.3 1990.5 274.2 1978.9 276.2 1966.2 278.1 1952.4 280 1937.6 282 1921.8 283.9 1905.1 285.8 1887.5 287.8 1869.1 289.7 1850 291.6 1830.2 293.6 1809.8 295.5 1788.8 297.4 1767.4 299.4 1745.5 301.3 1723.2 303.2 1700.7 305.2 1677.8 307.1 1654.8 309 1631.7 311 1608.4 312.9 1585.2 314.8 1562 316.8 1538.9 318.7 1516 320.6 1493.3 322.6 1471 324.5 1448.9 326.4 1427.3 328.4 1406.1 330.3 1385.5 332.2 1365.5 334.2 1346.1 336.1 1327.5 338 1309.6 340 1292.5 341.9 1276.4 343.8 1261.2 345.8 1247 347.7 1233.9 349.6 1221.8 351.6 1210.8 353.5 1200.8 355.4 1191.9 357.4 1183.9 359.3 1176.9 361.2 1170.9 363.2 1165.8 365.1 1161.7 367 1158.5 369 1156.2 370.9 1154.8 372.8 1154.2 374.8 1154.5 376.7 1155.7 378.6 1157.7 380.6 1160.5 382.5 1164.1 384.4 1168.4 386.4 1173.6 388.3 1179.4 390.2 1186.1 392.2 1193.4 394.1 1201.4 396 1210.2 398 1219.6 399.9 1229.6 401.8 1240.3 403.8 1251.6 405.7 1263.5 407.6 1276.1 409.6 1289.2 411.5 1302.8 413.4 1317 415.4 1331.7 417.3 1347 419.2 1362.7 421.2 1378.8 423.1 1395.4 425 1412.3 427 1429.5 428.9 1447 430.8 1464.7 432.8 1482.6 434.7 1500.6 436.6 1518.7 438.6 1537 440.5 1555.2 442.4 1573.4 444.4 1591.6 446.3 1609.7 448.2 1627.6 450.2 1645.4 452.1 1662.9 454 1680.2 456 1697.2 457.9 1713.8 459.8 1730.1 461.8 1745.9 463.7 1761.3 465.6 1776.1 467.6 1790.4 469.5 1804.2 471.4 1817.3 473.4 1829.7 475.3 1841.5 477.2 1852.4 479.2 1862.6 481.1 1872 483 1880.5 485 1888.1 486.9 1894.7 488.8 1900.4 490.7 1905.3 492.7 1909.3 494.6 1912.5 496.5 1914.9 498.5 1916.6 500.4 1917.6 502.3 1917.9 504.3 1917.7 506.2 1916.8 508.1 1915.4 510.1 1913.5 512 1911.1 513.9 1908.3 515.9 1905 517.8 1901.4 519.7 1897.5 521.7 1893.3 523.6 1888.8 525.5 1884.1 527.5 1879.3 529.4 1874.3 531.3 1869.2 533.3 1864 535.2 1858.8 537.1 1853.6 539.1 1848.4 541 1843.3 542.9 1838.3 544.9 1833.5 546.8 1828.9 548.7 1824.4 550.7 1820.3 552.6 1816.5 554.5 1812.9 556.5 1809.8 558.4 1807 560.3 1804.6 562.3 1802.4 564.2 1800.7 566.1 1799.2 568.1 1798 570 1797.1 571.9 1796.4 573.9 1796 575.8 1795.9 577.7 1796 579.7 1796.3 581.6 1796.8 583.5 1797.5 585.5 1798.3 587.4 1799.4 589.3 1800.5 591.3 1801.8 593.2 1803.3 595.1 1804.8 597.1 1806.5 599 1808.2 600.9 1810 602.9 1811.9 604.8 1813.8 606.7 1815.7 608.7 1817.6 610.6 1819.6 612.5 1821.6 614.5 1823.5 616.4 1825.4 618.3 1827.2 620.3 1829 622.2 1830.7 624.1 1832.4 626.1 1833.9 628 1835.3 629.9 1836.7 631.9 1837.9 633.8 1839.1 635.7 1840.2 637.7 1841.2 639.6 1842.2 641.5 1843 643.5 1843.8 645.4 1844.6 647.3 1845.2 649.3 1845.8 651.2 1846.4 653.1 1846.9 655.1 1847.4 657 1847.8 658.9 1848.2 660.9 1848.5 662.8 1848.9 664.7 1849.1 666.7 1849.4 668.6 1849.7 670.5 1849.9 672.5 1850.1 674.4 1850.3 676.3 1850.5 678.3 1850.7 680.2 1850.8 682.1 1851 684.1 1851.2 686 1851.4 687.9 1851.6 689.9 1851.9 691.8 1852.1 693.7 1852.4 695.7 1852.7 697.6 1853 699.5 1853.4 701.5 1853.8 703.4 1854.2 705.3 1854.6 707.3 1855 709.2 1855.5 711.1 1855.9 713.1 1856.4 715 1856.9 716.9 1857.4 718.8 1857.9 720.8 1858.4 722.7 1858.9 724.6 1859.4 726.6 1859.9 728.5 1860.4 730.4 1860.9 732.4 1861.4 734.3 1861.9 736.2 1862.4 738.2 1862.9 740.1 1863.3 742 1863.8 744 1864.2 745.9 1864.6 747.8 1865 749.8 1865.4 751.7 1865.7 753.6 1866 755.6 1866.3 757.5 1866.6 759.4 1866.9 761.4 1867.1 763.3 1867.2 765.2 1867.4 767.2 1867.5 769.1 1867.6 771 1867.6 773 1867.6 774.9 1867.7 776.8 1867.7 778.8 1867.7 780.7 1867.7 782.6 1867.6 784.6 1867.6 786.5 1867.6 788.4 1867.6 790.4 1867.7 792.3 1867.7 794.2 1867.8 796.2 1867.9 798.1 1868 800 1868.1 802 1868.3 803.9 1868.5 805.8 1868.8 807.8 1869.1 809.7 1869.5 811.6 1869.9 813.6 1870.4 815.5 1870.9 817.4 1871.5 819.4 1872.2 821.3 1873 823.2 1873.8 825.2 1874.7 827.1 1875.7 829 1876.8 831 1878 832.9 1879.2 834.8 1880.6 836.8 1882.1 838.7 1883.6 840.6 1885.3 842.6 1887 844.5 1888.7 846.4 1890.6 848.4 1892.4 850.3 1894.3 852.2 1896.3 854.2 1898.3 856.1 1900.2 858 1902.3 860 1904.3 861.9 1906.3 863.8 1908.3 865.8 1910.2 867.7 1912.2 869.6 1914.1 871.6 1916 873.5 1917.9 875.4 1919.6 877.4 1921.4 879.3 1923 881.2 1924.6 883.2 1926.1 885.1 1927.5 887 1928.8 889 1930 890.9 1931.1 892.8 1932.1 894.8 1933 896.7 1933.7 898.6 1934.2 900.6 1934.7 902.5 1934.9 904.4 1935 906.4 1935 908.3 1934.8 910.2 1934.5 912.2 1934 914.1 1933.4 916 1932.7 918 1931.8 919.9 1930.9 921.8 1929.9 923.8 1928.8 925.7 1927.6 927.6 1926.3 929.6 1924.9 931.5 1923.5 933.4 1922 935.4 1920.5 937.3 1919 939.2 1917.4 941.2 1915.8 943.1 1914.2 945 1912.5 947 1910.9 948.9 1909.3 950.8 1907.6 952.7 1906 954.7 1904.5 956.6 1902.9 958.5 1901.4 960.5 1900 962.4 1898.6 964.3 1897.2 966.3 1896 968.2 1894.8 970.1 1893.7 972.1 1892.7 974 1891.8 975.9 1890.9 977.9 1890.2 979.8 1889.6 981.7 1889 983.7 1888.6 985.6 1888.2 987.5 1887.9 989.5 1887.6 991.4 1887.4 993.3 1887.3 995.3 1887.3 997.2 1887.3 999.1 1887.4 1001.1 1887.5 1003 1887.6 1004.9 1887.8 1006.9 1888.1 1008.8 1888.3 1010.7 1888.7 1012.7 1889 1014.6 1889.4 1016.5 1889.8 1018.5 1890.2 1020.4 1890.6 1022.3 1891 1024.3 1891.5 1026.2 1891.9 1028.1 1892.4 1030.1 1892.8 1032 1893.3 1033.9 1893.7 1035.9 1894.1 1037.8 1894.5 1039.7 1894.9 1041.7 1895.3 1043.6 1895.6 1045.5 1895.9 1047.5 1896.2 1049.4 1896.5 1051.3 1896.7 1053.3 1896.9 1055.2 1897.1 1057.1 1897.3 1059.1 1897.5 1061 1897.6 1062.9 1897.7 1064.9 1897.9 1066.8 1898 1068.7 1898 1070.7 1898.1 1072.6 1898.2 1074.5 1898.2 1076.5 1898.2 1078.4 1898.2 1080.3 1898.3 1082.3 1898.3 1084.2 1898.3 1086.1 1898.3 1088.1 1898.3 1090 1898.2 1091.9 1898.2 1093.9 1898.2 1095.8 1898.2 1097.7 1898.2 1099.7 1898.1 1101.6 1898.1 1103.5 1898.1 1105.5 1898.1 1107.4 1898.1 1109.3 1898.1 1111.3 1898.1 1113.2 1898.1 1115.1 1898.1 1117.1 1898.1 1119 1898.2 1120.9 1898.2 1122.9 1898.2 1124.8 1898.3 1126.7 1898.4 1128.7 1898.4 1130.6 1898.5 1132.5 1898.6 1134.5 1898.6 1136.4 1898.7 1138.3 1898.8 1140.3 1898.9 1142.2 1899 1144.1 1899.1 1146.1 1899.2 1148 1899.3 1149.9 1899.4 1151.9 1899.5 1153.8 1899.6 1155.7 1899.8 1157.7 1899.9 1159.6 1900 1161.5 1900.1 1163.5 1900.3 1165.4 1900.4 1167.3 1900.5 1169.3 1900.7 1171.2 1900.8 1173.1 1900.9 1175.1 1901.1 1177 1901.2 1178.9 1901.3 1180.9 1901.5" fill="none" stroke="#0000ff" stroke-width="3.3" stroke-linecap="round" stroke-linejoin="round"/>
<polygon points="206.6,1953 220.3,1976.6 192.9,1976.6" fill="#0000ff"/><polygon points="276.2,1951 289.9,1974.6 262.5,1974.6" fill="#0000ff"/><polygon points="345.8,1231.8 359.5,1255.4 332.1,1255.4" fill="#0000ff"/><polygon points="415.4,1316.5 429.1,1340.1 401.7,1340.1" fill="#0000ff"/><polygon points="485,1872.8 498.7,1896.4 471.3,1896.4" fill="#0000ff"/><polygon points="554.5,1797.7 568.2,1821.3 540.8,1821.3" fill="#0000ff"/><polygon points="624.1,1817.1 637.8,1840.7 610.4,1840.7" fill="#0000ff"/><polygon points="693.7,1837.2 707.4,1860.8 680,1860.8" fill="#0000ff"/><polygon points="763.3,1852 777,1875.6 749.6,1875.6" fill="#0000ff"/><polygon points="832.9,1864 846.6,1887.6 819.2,1887.6" fill="#0000ff"/><polygon points="902.5,1919.7 916.2,1943.3 888.8,1943.3" fill="#0000ff"/><polygon points="972.1,1877.4 985.8,1901 958.4,1901" fill="#0000ff"/><polygon points="1041.7,1880.1 1055.4,1903.7 1028,1903.7" fill="#0000ff"/><polygon points="1111.3,1882.9 1125,1906.5 1097.6,1906.5" fill="#0000ff"/><polygon points="1180.9,1886.3 1194.6,1909.9 1167.2,1909.9" fill="#0000ff"/>
<path d="M206.6 1957.6 208.5 1960.6 210.5 1963.6 212.4 1966.5 214.3 1969.4 216.3 1972.3 218.2 1975 220.1 1977.7 222.1 1980.3 224 1982.8 225.9 1985.1 227.9 1987.3 229.8 1989.4 231.7 1991.2 233.7 1992.9 235.6 1994.4 237.5 1995.6 239.5 1996.6 241.4 1997.4 243.3 1997.9 245.3 1998.2 247.2 1998.1 249.1 1997.7 251.1 1997.1 253 1996.1 254.9 1994.7 256.8 1993 258.8 1990.9 260.7 1988.4 262.6 1985.5 264.6 1982.2 266.5 1978.4 268.4 1974.2 270.4 1969.5 272.3 1964.4 274.2 1958.7 276.2 1952.6 278.1 1945.9 280 1938.7 282 1931.1 283.9 1923.1 285.8 1914.6 287.8 1905.8 289.7 1896.6 291.6 1887.1 293.6 1877.4 295.5 1867.3 297.4 1857.1 299.4 1846.7 301.3 1836.1 303.2 1825.4 305.2 1814.5 307.1 1803.6 309 1792.7 311 1781.8 312.9 1770.8 314.8 1760 316.8 1749.2 318.7 1738.5 320.6 1727.9 322.6 1717.5 324.5 1707.4 326.4 1697.4 328.4 1687.7 330.3 1678.3 332.2 1669.3 334.2 1660.5 336.1 1652.2 338 1644.2 340 1636.7 341.9 1629.7 343.8 1623.2 345.8 1617.2 347.7 1611.8 349.6 1606.9 351.6 1602.5 353.5 1598.7 355.4 1595.4 357.4 1592.5 359.3 1590.1 361.2 1588.2 363.2 1586.8 365.1 1585.7 367 1585.1 369 1584.9 370.9 1585.1 372.8 1585.6 374.8 1586.5 376.7 1587.7 378.6 1589.3 380.6 1591.2 382.5 1593.4 384.4 1595.9 386.4 1598.6 388.3 1601.6 390.2 1604.9 392.2 1608.4 394.1 1612.1 396 1616 398 1620 399.9 1624.3 401.8 1628.7 403.8 1633.2 405.7 1637.9 407.6 1642.7 409.6 1647.6 411.5 1652.6 413.4 1657.6 415.4 1662.7 417.3 1667.8 419.2 1673 421.2 1678.2 423.1 1683.4 425 1688.6 427 1693.8 428.9 1699 430.8 1704.2 432.8 1709.4 434.7 1714.6 436.6 1719.7 438.6 1724.8 440.5 1729.8 442.4 1734.7 444.4 1739.6 446.3 1744.5 448.2 1749.2 450.2 1753.8 452.1 1758.4 454 1762.8 456 1767.2 457.9 1771.4 459.8 1775.5 461.8 1779.4 463.7 1783.2 465.6 1786.9 467.6 1790.3 469.5 1793.7 471.4 1796.8 473.4 1799.8 475.3 1802.6 477.2 1805.1 479.2 1807.5 481.1 1809.7 483 1811.6 485 1813.3 486.9 1814.8 488.8 1816.1 490.7 1817.1 492.7 1818 494.6 1818.6 496.5 1819.1 498.5 1819.3 500.4 1819.5 502.3 1819.4 504.3 1819.3 506.2 1819 508.1 1818.5 510.1 1818 512 1817.4 513.9 1816.7 515.9 1815.9 517.8 1815 519.7 1814.1 521.7 1813.1 523.6 1812.1 525.5 1811.1 527.5 1810 529.4 1809 531.3 1807.9 533.3 1806.9 535.2 1805.9 537.1 1804.9 539.1 1804 541 1803.1 542.9 1802.3 544.9 1801.6 546.8 1800.9 548.7 1800.4 550.7 1800 552.6 1799.7 554.5 1799.5 556.5 1799.5 558.4 1799.6 560.3 1799.8 562.3 1800.2 564.2 1800.7 566.1 1801.3 568.1 1802 570 1802.8 571.9 1803.7 573.9 1804.7 575.8 1805.8 577.7 1807 579.7 1808.2 581.6 1809.6 583.5 1811 585.5 1812.5 587.4 1814 589.3 1815.6 591.3 1817.2 593.2 1818.9 595.1 1820.6 597.1 1822.4 599 1824.2 600.9 1826 602.9 1827.8 604.8 1829.6 606.7 1831.5 608.7 1833.3 610.6 1835.2 612.5 1837 614.5 1838.8 616.4 1840.6 618.3 1842.4 620.3 1844.2 622.2 1845.9 624.1 1847.6 626.1 1849.2 628 1850.8 629.9 1852.4 631.9 1853.9 633.8 1855.4 635.7 1856.9 637.7 1858.3 639.6 1859.7 641.5 1861 643.5 1862.3 645.4 1863.6 647.3 1864.8 649.3 1866.1 651.2 1867.2 653.1 1868.4 655.1 1869.5 657 1870.6 658.9 1871.7 660.9 1872.8 662.8 1873.8 664.7 1874.8 666.7 1875.8 668.6 1876.8 670.5 1877.7 672.5 1878.7 674.4 1879.6 676.3 1880.5 678.3 1881.4 680.2 1882.2 682.1 1883.1 684.1 1883.9 686 1884.8 687.9 1885.6 689.9 1886.4 691.8 1887.3 693.7 1888.1 695.7 1888.9 697.6 1889.7 699.5 1890.5 701.5 1891.2 703.4 1892 705.3 1892.8 707.3 1893.6 709.2 1894.3 711.1 1895.1 713.1 1895.9 715 1896.6 716.9 1897.4 718.8 1898.1 720.8 1898.8 722.7 1899.6 724.6 1900.3 726.6 1901 728.5 1901.7 730.4 1902.4 732.4 1903.1 734.3 1903.8 736.2 1904.5 738.2 1905.2 740.1 1905.9 742 1906.5 744 1907.2 745.9 1907.9 747.8 1908.5 749.8 1909.2 751.7 1909.8 753.6 1910.4 755.6 1911.1 757.5 1911.7 759.4 1912.3 761.4 1912.9 763.3 1913.5 765.2 1914.1 767.2 1914.7 769.1 1915.3 771 1915.8 773 1916.4 774.9 1917 776.8 1917.5 778.8 1918.1 780.7 1918.6 782.6 1919.1 784.6 1919.7 786.5 1920.2 788.4 1920.7 790.4 1921.2 792.3 1921.7 794.2 1922.1 796.2 1922.6 798.1 1923.1 800 1923.5 802 1923.9 803.9 1924.4 805.8 1924.8 807.8 1925.2 809.7 1925.6 811.6 1926 813.6 1926.4 815.5 1926.7 817.4 1927.1 819.4 1927.4 821.3 1927.8 823.2 1928.1 825.2 1928.4 827.1 1928.7 829 1929 831 1929.3 832.9 1929.5 834.8 1929.8 836.8 1930 838.7 1930.2 840.6 1930.5 842.6 1930.7 844.5 1930.9 846.4 1931.1 848.4 1931.2 850.3 1931.4 852.2 1931.6 854.2 1931.7 856.1 1931.9 858 1932 860 1932.1 861.9 1932.3 863.8 1932.4 865.8 1932.5 867.7 1932.7 869.6 1932.8 871.6 1932.9 873.5 1933 875.4 1933.1 877.4 1933.2 879.3 1933.4 881.2 1933.5 883.2 1933.6 885.1 1933.7 887 1933.8 889 1933.9 890.9 1934.1 892.8 1934.2 894.8 1934.3 896.7 1934.5 898.6 1934.6 900.6 1934.8 902.5 1934.9 904.4 1935.1 906.4 1935.3 908.3 1935.5 910.2 1935.6 912.2 1935.8 914.1 1936 916 1936.2 918 1936.4 919.9 1936.7 921.8 1936.9 923.8 1937.1 925.7 1937.3 927.6 1937.5 929.6 1937.8 931.5 1938 933.4 1938.2 935.4 1938.5 937.3 1938.7 939.2 1939 941.2 1939.2 943.1 1939.5 945 1939.7 947 1939.9 948.9 1940.2 950.8 1940.4 952.7 1940.7 954.7 1940.9 956.6 1941.1 958.5 1941.4 960.5 1941.6 962.4 1941.8 964.3 1942.1 966.3 1942.3 968.2 1942.5 970.1 1942.7 972.1 1943 974 1943.2 975.9 1943.4 977.9 1943.6 979.8 1943.8 981.7 1944 983.7 1944.1 985.6 1944.3 987.5 1944.5 989.5 1944.7 991.4 1944.9 993.3 1945 995.3 1945.2 997.2 1945.4 999.1 1945.5 1001.1 1945.7 1003 1945.8 1004.9 1946 1006.9 1946.1 1008.8 1946.3 1010.7 1946.4 1012.7 1946.5 1014.6 1946.7 1016.5 1946.8 1018.5 1946.9 1020.4 1947.1 1022.3 1947.2 1024.3 1947.3 1026.2 1947.4 1028.1 1947.6 1030.1 1947.7 1032 1947.8 1033.9 1947.9 1035.9 1948 1037.8 1948.1 1039.7 1948.3 1041.7 1948.4 1043.6 1948.5 1045.5 1948.6 1047.5 1948.7 1049.4 1948.8 1051.3 1948.9 1053.3 1949 1055.2 1949.1 1057.1 1949.2 1059.1 1949.3 1061 1949.4 1062.9 1949.5 1064.9 1949.6 1066.8 1949.7 1068.7 1949.8 1070.7 1949.9 1072.6 1950 1074.5 1950.1 1076.5 1950.2 1078.4 1950.3 1080.3 1950.3 1082.3 1950.4 1084.2 1950.5 1086.1 1950.6 1088.1 1950.7 1090 1950.8 1091.9 1950.9 1093.9 1951 1095.8 1951.1 1097.7 1951.2 1099.7 1951.2 1101.6 1951.3 1103.5 1951.4 1105.5 1951.5 1107.4 1951.6 1109.3 1951.7 1111.3 1951.8 1113.2 1951.9 1115.1 1951.9 1117.1 1952 1119 1952.1 1120.9 1952.2 1122.9 1952.3 1124.8 1952.4 1126.7 1952.5 1128.7 1952.6 1130.6 1952.7 1132.5 1952.7 1134.5 1952.8 1136.4 1952.9 1138.3 1953 1140.3 1953.1 1142.2 1953.2 1144.1 1953.3 1146.1 1953.4 1148 1953.5 1149.9 1953.5 1151.9 1953.6 1153.8 1953.7 1155.7 1953.8 1157.7 1953.9 1159.6 1954 1161.5 1954.1 1163.5 1954.2 1165.4 1954.3 1167.3 1954.3 1169.3 1954.4 1171.2 1954.5 1173.1 1954.6 1175.1 1954.7 1177 1954.8 1178.9 1954.9 1180.9 1955" fill="none" stroke="#000000" stroke-width="3.3" stroke-linecap="round" stroke-linejoin="round" stroke-dasharray="12.6 20"/>
<rect x="197.2" y="1948.2" width="18.8" height="18.8" fill="#fff" stroke="#000000" stroke-width="1.6"/><rect x="266.8" y="1943.2" width="18.8" height="18.8" fill="#fff" stroke="#000000" stroke-width="1.6"/><rect x="336.4" y="1607.8" width="18.8" height="18.8" fill="#fff" stroke="#000000" stroke-width="1.6"/><rect x="406" y="1653.3" width="18.8" height="18.8" fill="#fff" stroke="#000000" stroke-width="1.6"/><rect x="475.6" y="1803.9" width="18.8" height="18.8" fill="#fff" stroke="#000000" stroke-width="1.6"/><rect x="545.1" y="1790.1" width="18.8" height="18.8" fill="#fff" stroke="#000000" stroke-width="1.6"/><rect x="614.7" y="1838.2" width="18.8" height="18.8" fill="#fff" stroke="#000000" stroke-width="1.6"/><rect x="684.3" y="1878.7" width="18.8" height="18.8" fill="#fff" stroke="#000000" stroke-width="1.6"/><rect x="753.9" y="1904.1" width="18.8" height="18.8" fill="#fff" stroke="#000000" stroke-width="1.6"/><rect x="823.5" y="1920.1" width="18.8" height="18.8" fill="#fff" stroke="#000000" stroke-width="1.6"/><rect x="893.1" y="1925.5" width="18.8" height="18.8" fill="#fff" stroke="#000000" stroke-width="1.6"/><rect x="962.7" y="1933.6" width="18.8" height="18.8" fill="#fff" stroke="#000000" stroke-width="1.6"/><rect x="1032.3" y="1939" width="18.8" height="18.8" fill="#fff" stroke="#000000" stroke-width="1.6"/><rect x="1101.9" y="1942.4" width="18.8" height="18.8" fill="#fff" stroke="#000000" stroke-width="1.6"/><rect x="1171.5" y="1945.6" width="18.8" height="18.8" fill="#fff" stroke="#000000" stroke-width="1.6"/>
<path d="M206.6 1968.2 208.5 1971.4 210.5 1974.6 212.4 1977.7 214.3 1980.8 216.3 1983.8 218.2 1986.7 220.1 1989.5 222.1 1992.2 224 1994.7 225.9 1997.1 227.9 1999.2 229.8 2001.2 231.7 2002.9 233.7 2004.4 235.6 2005.6 237.5 2006.5 239.5 2007.1 241.4 2007.4 243.3 2007.4 245.3 2007 247.2 2006.2 249.1 2005 251.1 2003.4 253 2001.4 254.9 1998.9 256.8 1996 258.8 1992.5 260.7 1988.5 262.6 1984 264.6 1979 266.5 1973.4 268.4 1967.2 270.4 1960.4 272.3 1953 274.2 1944.9 276.2 1936.1 278.1 1926.7 280 1916.7 282 1906 283.9 1894.8 285.8 1883 287.8 1870.7 289.7 1857.9 291.6 1844.7 293.6 1831.1 295.5 1817.1 297.4 1802.8 299.4 1788.2 301.3 1773.3 303.2 1758.2 305.2 1742.9 307.1 1727.4 309 1711.9 311 1696.2 312.9 1680.5 314.8 1664.7 316.8 1649 318.7 1633.4 320.6 1617.8 322.6 1602.3 324.5 1587 326.4 1571.9 328.4 1557 330.3 1542.4 332.2 1528 334.2 1514 336.1 1500.4 338 1487.2 340 1474.4 341.9 1462 343.8 1450.2 345.8 1438.9 347.7 1428.2 349.6 1418 351.6 1408.4 353.5 1399.3 355.4 1390.8 357.4 1382.7 359.3 1375.2 361.2 1368.1 363.2 1361.5 365.1 1355.3 367 1349.5 369 1344.2 370.9 1339.3 372.8 1334.8 374.8 1330.6 376.7 1326.9 378.6 1323.4 380.6 1320.3 382.5 1317.6 384.4 1315.1 386.4 1312.9 388.3 1311 390.2 1309.4 392.2 1308 394.1 1306.9 396 1306 398 1305.3 399.9 1304.8 401.8 1304.5 403.8 1304.3 405.7 1304.3 407.6 1304.4 409.6 1304.7 411.5 1305.1 413.4 1305.5 415.4 1306.1 417.3 1306.7 419.2 1307.4 421.2 1308.2 423.1 1309 425 1309.9 427 1310.9 428.9 1312 430.8 1313.1 432.8 1314.4 434.7 1315.7 436.6 1317.1 438.6 1318.5 440.5 1320.1 442.4 1321.7 444.4 1323.5 446.3 1325.3 448.2 1327.2 450.2 1329.2 452.1 1331.3 454 1333.5 456 1335.8 457.9 1338.2 459.8 1340.7 461.8 1343.2 463.7 1345.9 465.6 1348.7 467.6 1351.6 469.5 1354.6 471.4 1357.7 473.4 1361 475.3 1364.3 477.2 1367.7 479.2 1371.3 481.1 1374.9 483 1378.7 485 1382.6 486.9 1386.6 488.8 1390.8 490.7 1395 492.7 1399.3 494.6 1403.7 496.5 1408.2 498.5 1412.8 500.4 1417.4 502.3 1422.1 504.3 1426.8 506.2 1431.6 508.1 1436.5 510.1 1441.3 512 1446.2 513.9 1451 515.9 1455.9 517.8 1460.8 519.7 1465.7 521.7 1470.6 523.6 1475.4 525.5 1480.2 527.5 1485 529.4 1489.7 531.3 1494.3 533.3 1498.9 535.2 1503.5 537.1 1507.9 539.1 1512.3 541 1516.6 542.9 1520.7 544.9 1524.8 546.8 1528.8 548.7 1532.6 550.7 1536.3 552.6 1539.9 554.5 1543.3 556.5 1546.6 558.4 1549.7 560.3 1552.7 562.3 1555.5 564.2 1558.3 566.1 1560.9 568.1 1563.4 570 1565.8 571.9 1568.1 573.9 1570.3 575.8 1572.4 577.7 1574.5 579.7 1576.5 581.6 1578.4 583.5 1580.2 585.5 1582 587.4 1583.8 589.3 1585.5 591.3 1587.2 593.2 1588.9 595.1 1590.6 597.1 1592.2 599 1593.8 600.9 1595.5 602.9 1597.1 604.8 1598.8 606.7 1600.5 608.7 1602.3 610.6 1604 612.5 1605.8 614.5 1607.7 616.4 1609.6 618.3 1611.6 620.3 1613.7 622.2 1615.8 624.1 1618 626.1 1620.3 628 1622.7 629.9 1625.2 631.9 1627.8 633.8 1630.4 635.7 1633.1 637.7 1635.9 639.6 1638.7 641.5 1641.6 643.5 1644.5 645.4 1647.5 647.3 1650.6 649.3 1653.7 651.2 1656.8 653.1 1659.9 655.1 1663.1 657 1666.3 658.9 1669.5 660.9 1672.8 662.8 1676 664.7 1679.3 666.7 1682.5 668.6 1685.8 670.5 1689 672.5 1692.3 674.4 1695.5 676.3 1698.7 678.3 1701.9 680.2 1705 682.1 1708.1 684.1 1711.2 686 1714.3 687.9 1717.3 689.9 1720.2 691.8 1723.1 693.7 1726 695.7 1728.8 697.6 1731.5 699.5 1734.2 701.5 1736.8 703.4 1739.3 705.3 1741.8 707.3 1744.3 709.2 1746.7 711.1 1749 713.1 1751.3 715 1753.6 716.9 1755.8 718.8 1757.9 720.8 1760 722.7 1762.1 724.6 1764.1 726.6 1766.1 728.5 1768.1 730.4 1770 732.4 1771.8 734.3 1773.7 736.2 1775.5 738.2 1777.3 740.1 1779 742 1780.7 744 1782.4 745.9 1784 747.8 1785.7 749.8 1787.3 751.7 1788.9 753.6 1790.4 755.6 1791.9 757.5 1793.5 759.4 1795 761.4 1796.4 763.3 1797.9 765.2 1799.4 767.2 1800.8 769.1 1802.2 771 1803.6 773 1805 774.9 1806.4 776.8 1807.8 778.8 1809.1 780.7 1810.5 782.6 1811.8 784.6 1813.1 786.5 1814.4 788.4 1815.7 790.4 1817 792.3 1818.2 794.2 1819.5 796.2 1820.7 798.1 1822 800 1823.2 802 1824.4 803.9 1825.6 805.8 1826.7 807.8 1827.9 809.7 1829 811.6 1830.2 813.6 1831.3 815.5 1832.4 817.4 1833.5 819.4 1834.6 821.3 1835.7 823.2 1836.8 825.2 1837.8 827.1 1838.9 829 1839.9 831 1841 832.9 1842 834.8 1843 836.8 1844 838.7 1845 840.6 1846 842.6 1846.9 844.5 1847.9 846.4 1848.8 848.4 1849.8 850.3 1850.7 852.2 1851.6 854.2 1852.5 856.1 1853.4 858 1854.3 860 1855.2 861.9 1856.1 863.8 1857 865.8 1857.8 867.7 1858.7 869.6 1859.5 871.6 1860.3 873.5 1861.2 875.4 1862 877.4 1862.8 879.3 1863.6 881.2 1864.4 883.2 1865.2 885.1 1866 887 1866.7 889 1867.5 890.9 1868.2 892.8 1869 894.8 1869.7 896.7 1870.5 898.6 1871.2 900.6 1871.9 902.5 1872.6 904.4 1873.3 906.4 1874 908.3 1874.7 910.2 1875.4 912.2 1876.1 914.1 1876.8 916 1877.5 918 1878.1 919.9 1878.8 921.8 1879.4 923.8 1880.1 925.7 1880.7 927.6 1881.4 929.6 1882 931.5 1882.6 933.4 1883.2 935.4 1883.8 937.3 1884.4 939.2 1885 941.2 1885.6 943.1 1886.2 945 1886.7 947 1887.3 948.9 1887.9 950.8 1888.4 952.7 1889 954.7 1889.5 956.6 1890 958.5 1890.6 960.5 1891.1 962.4 1891.6 964.3 1892.1 966.3 1892.6 968.2 1893.1 970.1 1893.6 972.1 1894.1 974 1894.5 975.9 1895 977.9 1895.5 979.8 1895.9 981.7 1896.4 983.7 1896.8 985.6 1897.3 987.5 1897.7 989.5 1898.1 991.4 1898.5 993.3 1899 995.3 1899.4 997.2 1899.8 999.1 1900.2 1001.1 1900.6 1003 1901 1004.9 1901.3 1006.9 1901.7 1008.8 1902.1 1010.7 1902.5 1012.7 1902.9 1014.6 1903.2 1016.5 1903.6 1018.5 1904 1020.4 1904.3 1022.3 1904.7 1024.3 1905 1026.2 1905.4 1028.1 1905.7 1030.1 1906.1 1032 1906.4 1033.9 1906.7 1035.9 1907.1 1037.8 1907.4 1039.7 1907.8 1041.7 1908.1 1043.6 1908.4 1045.5 1908.8 1047.5 1909.1 1049.4 1909.4 1051.3 1909.7 1053.3 1910.1 1055.2 1910.4 1057.1 1910.7 1059.1 1911 1061 1911.4 1062.9 1911.7 1064.9 1912 1066.8 1912.3 1068.7 1912.6 1070.7 1912.9 1072.6 1913.2 1074.5 1913.5 1076.5 1913.8 1078.4 1914.2 1080.3 1914.5 1082.3 1914.7 1084.2 1915 1086.1 1915.3 1088.1 1915.6 1090 1915.9 1091.9 1916.2 1093.9 1916.5 1095.8 1916.8 1097.7 1917 1099.7 1917.3 1101.6 1917.6 1103.5 1917.9 1105.5 1918.1 1107.4 1918.4 1109.3 1918.7 1111.3 1918.9 1113.2 1919.2 1115.1 1919.4 1117.1 1919.7 1119 1919.9 1120.9 1920.2 1122.9 1920.4 1124.8 1920.7 1126.7 1920.9 1128.7 1921.1 1130.6 1921.4 1132.5 1921.6 1134.5 1921.8 1136.4 1922 1138.3 1922.3 1140.3 1922.5 1142.2 1922.7 1144.1 1922.9 1146.1 1923.2 1148 1923.4 1149.9 1923.6 1151.9 1923.8 1153.8 1924 1155.7 1924.2 1157.7 1924.4 1159.6 1924.7 1161.5 1924.9 1163.5 1925.1 1165.4 1925.3 1167.3 1925.5 1169.3 1925.7 1171.2 1925.9 1173.1 1926.1 1175.1 1926.3 1177 1926.5 1178.9 1926.7 1180.9 1926.9" fill="none" stroke="#ff0000" stroke-width="3.3" stroke-linecap="round" stroke-linejoin="round" stroke-dasharray="12.6 20"/>
<circle cx="206.6" cy="1968.2" r="10" fill="#fff" stroke="#ff0000" stroke-width="1.6"/><circle cx="276.2" cy="1936.1" r="10" fill="#fff" stroke="#ff0000" stroke-width="1.6"/><circle cx="345.8" cy="1438.9" r="10" fill="#fff" stroke="#ff0000" stroke-width="1.6"/><circle cx="415.4" cy="1306.1" r="10" fill="#fff" stroke="#ff0000" stroke-width="1.6"/><circle cx="485" cy="1382.6" r="10" fill="#fff" stroke="#ff0000" stroke-width="1.6"/><circle cx="554.5" cy="1543.3" r="10" fill="#fff" stroke="#ff0000" stroke-width="1.6"/><circle cx="624.1" cy="1618" r="10" fill="#fff" stroke="#ff0000" stroke-width="1.6"/><circle cx="693.7" cy="1726" r="10" fill="#fff" stroke="#ff0000" stroke-width="1.6"/><circle cx="763.3" cy="1797.9" r="10" fill="#fff" stroke="#ff0000" stroke-width="1.6"/><circle cx="832.9" cy="1842" r="10" fill="#fff" stroke="#ff0000" stroke-width="1.6"/><circle cx="902.5" cy="1872.6" r="10" fill="#fff" stroke="#ff0000" stroke-width="1.6"/><circle cx="972.1" cy="1894.1" r="10" fill="#fff" stroke="#ff0000" stroke-width="1.6"/><circle cx="1041.7" cy="1908.1" r="10" fill="#fff" stroke="#ff0000" stroke-width="1.6"/><circle cx="1111.3" cy="1918.9" r="10" fill="#fff" stroke="#ff0000" stroke-width="1.6"/><circle cx="1180.9" cy="1926.9" r="10" fill="#fff" stroke="#ff0000" stroke-width="1.6"/>
<path d="M206.6 1968.2 208.5 1970.6 210.5 1972.9 212.4 1975.3 214.3 1977.5 216.3 1979.7 218.2 1981.8 220.1 1983.8 222.1 1985.7 224 1987.4 225.9 1988.9 227.9 1990.3 229.8 1991.4 231.7 1992.3 233.7 1993 235.6 1993.4 237.5 1993.6 239.5 1993.4 241.4 1992.9 243.3 1992.1 245.3 1990.9 247.2 1989.3 249.1 1987.3 251.1 1985 253 1982.2 254.9 1978.9 256.8 1975.2 258.8 1971 260.7 1966.2 262.6 1961 264.6 1955.2 266.5 1948.8 268.4 1941.9 270.4 1934.3 272.3 1926.2 274.2 1917.4 276.2 1907.9 278.1 1897.8 280 1887 282 1875.6 283.9 1863.7 285.8 1851.3 287.8 1838.4 289.7 1825.1 291.6 1811.4 293.6 1797.4 295.5 1783 297.4 1768.4 299.4 1753.6 301.3 1738.7 303.2 1723.5 305.2 1708.3 307.1 1693.1 309 1677.8 311 1662.6 312.9 1647.5 314.8 1632.4 316.8 1617.6 318.7 1602.9 320.6 1588.5 322.6 1574.4 324.5 1560.6 326.4 1547.2 328.4 1534.2 330.3 1521.6 332.2 1509.6 334.2 1498.1 336.1 1487.2 338 1476.9 340 1467.2 341.9 1458.3 343.8 1450.1 345.8 1442.7 347.7 1436.2 349.6 1430.4 351.6 1425.4 353.5 1421.2 355.4 1417.8 357.4 1415 359.3 1412.9 361.2 1411.5 363.2 1410.8 365.1 1410.7 367 1411.1 369 1412.1 370.9 1413.7 372.8 1415.8 374.8 1418.4 376.7 1421.5 378.6 1425 380.6 1429 382.5 1433.3 384.4 1438.1 386.4 1443.2 388.3 1448.6 390.2 1454.3 392.2 1460.4 394.1 1466.6 396 1473.2 398 1479.9 399.9 1486.8 401.8 1493.9 403.8 1501.1 405.7 1508.5 407.6 1515.9 409.6 1523.4 411.5 1531 413.4 1538.5 415.4 1546.1 417.3 1553.6 419.2 1561.2 421.2 1568.6 423.1 1576.1 425 1583.5 427 1590.9 428.9 1598.2 430.8 1605.5 432.8 1612.7 434.7 1619.9 436.6 1627 438.6 1634 440.5 1641 442.4 1648 444.4 1654.8 446.3 1661.6 448.2 1668.3 450.2 1674.9 452.1 1681.5 454 1687.9 456 1694.3 457.9 1700.6 459.8 1706.8 461.8 1712.8 463.7 1718.8 465.6 1724.7 467.6 1730.5 469.5 1736.1 471.4 1741.7 473.4 1747.1 475.3 1752.4 477.2 1757.6 479.2 1762.7 481.1 1767.6 483 1772.4 485 1777.1 486.9 1781.6 488.8 1786 490.7 1790.3 492.7 1794.4 494.6 1798.4 496.5 1802.3 498.5 1806 500.4 1809.7 502.3 1813.2 504.3 1816.6 506.2 1819.9 508.1 1823.1 510.1 1826.1 512 1829.1 513.9 1832 515.9 1834.8 517.8 1837.5 519.7 1840 521.7 1842.5 523.6 1845 525.5 1847.3 527.5 1849.5 529.4 1851.7 531.3 1853.8 533.3 1855.8 535.2 1857.8 537.1 1859.7 539.1 1861.5 541 1863.2 542.9 1864.9 544.9 1866.6 546.8 1868.2 548.7 1869.7 550.7 1871.2 552.6 1872.6 554.5 1874 556.5 1875.4 558.4 1876.7 560.3 1878 562.3 1879.2 564.2 1880.4 566.1 1881.6 568.1 1882.7 570 1883.8 571.9 1884.9 573.9 1885.9 575.8 1887 577.7 1887.9 579.7 1888.9 581.6 1889.8 583.5 1890.7 585.5 1891.5 587.4 1892.4 589.3 1893.2 591.3 1894 593.2 1894.7 595.1 1895.5 597.1 1896.2 599 1896.9 600.9 1897.6 602.9 1898.2 604.8 1898.9 606.7 1899.5 608.7 1900.1 610.6 1900.7 612.5 1901.3 614.5 1901.8 616.4 1902.4 618.3 1902.9 620.3 1903.5 622.2 1904 624.1 1904.5 626.1 1905 628 1905.5 629.9 1906 631.9 1906.5 633.8 1906.9 635.7 1907.4 637.7 1907.9 639.6 1908.3 641.5 1908.8 643.5 1909.2 645.4 1909.7 647.3 1910.1 649.3 1910.5 651.2 1910.9 653.1 1911.4 655.1 1911.8 657 1912.2 658.9 1912.6 660.9 1913 662.8 1913.4 664.7 1913.8 666.7 1914.1 668.6 1914.5 670.5 1914.9 672.5 1915.3 674.4 1915.7 676.3 1916 678.3 1916.4 680.2 1916.8 682.1 1917.1 684.1 1917.5 686 1917.9 687.9 1918.2 689.9 1918.6 691.8 1919 693.7 1919.3 695.7 1919.7 697.6 1920 699.5 1920.4 701.5 1920.8 703.4 1921.1 705.3 1921.5 707.3 1921.8 709.2 1922.2 711.1 1922.5 713.1 1922.9 715 1923.2 716.9 1923.6 718.8 1923.9 720.8 1924.3 722.7 1924.6 724.6 1925 726.6 1925.3 728.5 1925.7 730.4 1926 732.4 1926.4 734.3 1926.7 736.2 1927 738.2 1927.4 740.1 1927.7 742 1928 744 1928.4 745.9 1928.7 747.8 1929 749.8 1929.3 751.7 1929.7 753.6 1930 755.6 1930.3 757.5 1930.6 759.4 1930.9 761.4 1931.2 763.3 1931.5 765.2 1931.8 767.2 1932.1 769.1 1932.4 771 1932.7 773 1933 774.9 1933.3 776.8 1933.6 778.8 1933.9 780.7 1934.2 782.6 1934.4 784.6 1934.7 786.5 1935 788.4 1935.3 790.4 1935.5 792.3 1935.8 794.2 1936.1 796.2 1936.3 798.1 1936.6 800 1936.8 802 1937.1 803.9 1937.3 805.8 1937.6 807.8 1937.8 809.7 1938.1 811.6 1938.3 813.6 1938.5 815.5 1938.8 817.4 1939 819.4 1939.2 821.3 1939.5 823.2 1939.7 825.2 1939.9 827.1 1940.1 829 1940.3 831 1940.5 832.9 1940.8 834.8 1941 836.8 1941.2 838.7 1941.4 840.6 1941.6 842.6 1941.8 844.5 1942 846.4 1942.2 848.4 1942.3 850.3 1942.5 852.2 1942.7 854.2 1942.9 856.1 1943.1 858 1943.3 860 1943.4 861.9 1943.6 863.8 1943.8 865.8 1944 867.7 1944.1 869.6 1944.3 871.6 1944.5 873.5 1944.6 875.4 1944.8 877.4 1945 879.3 1945.1 881.2 1945.3 883.2 1945.4 885.1 1945.6 887 1945.8 889 1945.9 890.9 1946.1 892.8 1946.2 894.8 1946.4 896.7 1946.5 898.6 1946.7 900.6 1946.8 902.5 1947 904.4 1947.1 906.4 1947.3 908.3 1947.4 910.2 1947.5 912.2 1947.7 914.1 1947.8 916 1948 918 1948.1 919.9 1948.2 921.8 1948.4 923.8 1948.5 925.7 1948.6 927.6 1948.8 929.6 1948.9 931.5 1949 933.4 1949.2 935.4 1949.3 937.3 1949.4 939.2 1949.6 941.2 1949.7 943.1 1949.8 945 1949.9 947 1950.1 948.9 1950.2 950.8 1950.3 952.7 1950.4 954.7 1950.5 956.6 1950.7 958.5 1950.8 960.5 1950.9 962.4 1951 964.3 1951.1 966.3 1951.2 968.2 1951.3 970.1 1951.5 972.1 1951.6 974 1951.7 975.9 1951.8 977.9 1951.9 979.8 1952 981.7 1952.1 983.7 1952.2 985.6 1952.3 987.5 1952.4 989.5 1952.5 991.4 1952.6 993.3 1952.7 995.3 1952.8 997.2 1952.9 999.1 1953 1001.1 1953.1 1003 1953.2 1004.9 1953.3 1006.9 1953.4 1008.8 1953.5 1010.7 1953.6 1012.7 1953.7 1014.6 1953.8 1016.5 1953.8 1018.5 1953.9 1020.4 1954 1022.3 1954.1 1024.3 1954.2 1026.2 1954.3 1028.1 1954.4 1030.1 1954.5 1032 1954.6 1033.9 1954.6 1035.9 1954.7 1037.8 1954.8 1039.7 1954.9 1041.7 1955 1043.6 1955.1 1045.5 1955.1 1047.5 1955.2 1049.4 1955.3 1051.3 1955.4 1053.3 1955.5 1055.2 1955.5 1057.1 1955.6 1059.1 1955.7 1061 1955.8 1062.9 1955.9 1064.9 1955.9 1066.8 1956 1068.7 1956.1 1070.7 1956.2 1072.6 1956.3 1074.5 1956.3 1076.5 1956.4 1078.4 1956.5 1080.3 1956.6 1082.3 1956.7 1084.2 1956.7 1086.1 1956.8 1088.1 1956.9 1090 1957 1091.9 1957 1093.9 1957.1 1095.8 1957.2 1097.7 1957.3 1099.7 1957.3 1101.6 1957.4 1103.5 1957.5 1105.5 1957.6 1107.4 1957.6 1109.3 1957.7 1111.3 1957.8 1113.2 1957.9 1115.1 1957.9 1117.1 1958 1119 1958.1 1120.9 1958.1 1122.9 1958.2 1124.8 1958.3 1126.7 1958.4 1128.7 1958.4 1130.6 1958.5 1132.5 1958.6 1134.5 1958.7 1136.4 1958.7 1138.3 1958.8 1140.3 1958.9 1142.2 1958.9 1144.1 1959 1146.1 1959.1 1148 1959.2 1149.9 1959.2 1151.9 1959.3 1153.8 1959.4 1155.7 1959.5 1157.7 1959.5 1159.6 1959.6 1161.5 1959.7 1163.5 1959.7 1165.4 1959.8 1167.3 1959.9 1169.3 1960 1171.2 1960 1173.1 1960.1 1175.1 1960.2 1177 1960.2 1178.9 1960.3 1180.9 1960.4" fill="none" stroke="#0000ff" stroke-width="3.3" stroke-linecap="round" stroke-linejoin="round" stroke-dasharray="12.6 20"/>
<polygon points="206.6,1954.1 219.3,1975.9 193.9,1975.9" fill="#fff" stroke="#0000ff" stroke-width="1.6"/><polygon points="276.2,1893.8 288.9,1915.6 263.5,1915.6" fill="#fff" stroke="#0000ff" stroke-width="1.6"/><polygon points="345.8,1428.7 358.5,1450.5 333.1,1450.5" fill="#fff" stroke="#0000ff" stroke-width="1.6"/><polygon points="415.4,1532 428.1,1553.8 402.7,1553.8" fill="#fff" stroke="#0000ff" stroke-width="1.6"/><polygon points="485,1763 497.7,1784.8 472.3,1784.8" fill="#fff" stroke="#0000ff" stroke-width="1.6"/><polygon points="554.5,1860 567.2,1881.8 541.8,1881.8" fill="#fff" stroke="#0000ff" stroke-width="1.6"/><polygon points="624.1,1890.4 636.8,1912.2 611.4,1912.2" fill="#fff" stroke="#0000ff" stroke-width="1.6"/><polygon points="693.7,1905.3 706.4,1927.1 681,1927.1" fill="#fff" stroke="#0000ff" stroke-width="1.6"/><polygon points="763.3,1917.5 776,1939.3 750.6,1939.3" fill="#fff" stroke="#0000ff" stroke-width="1.6"/><polygon points="832.9,1926.7 845.6,1948.5 820.2,1948.5" fill="#fff" stroke="#0000ff" stroke-width="1.6"/><polygon points="902.5,1932.9 915.2,1954.7 889.8,1954.7" fill="#fff" stroke="#0000ff" stroke-width="1.6"/><polygon points="972.1,1937.5 984.8,1959.3 959.4,1959.3" fill="#fff" stroke="#0000ff" stroke-width="1.6"/><polygon points="1041.7,1940.9 1054.4,1962.7 1029,1962.7" fill="#fff" stroke="#0000ff" stroke-width="1.6"/><polygon points="1111.3,1943.7 1124,1965.5 1098.6,1965.5" fill="#fff" stroke="#0000ff" stroke-width="1.6"/><polygon points="1180.9,1946.3 1193.6,1968.1 1168.2,1968.1" fill="#fff" stroke="#0000ff" stroke-width="1.6"/>
<path d="M206.6 1968.2 208.5 1967.5 210.5 1966.7 212.4 1966 214.3 1965.2 216.3 1964.5 218.2 1963.8 220.1 1963.2 222.1 1962.5 224 1961.9 225.9 1961.3 227.9 1960.7 229.8 1960.2 231.7 1959.7 233.7 1959.3 235.6 1958.9 237.5 1958.6 239.5 1958.3 241.4 1958.1 243.3 1958 245.3 1957.9 247.2 1957.8 249.1 1957.9 251.1 1958 253 1958.2 254.9 1958.5 256.8 1958.9 258.8 1959.4 260.7 1959.9 262.6 1960.6 264.6 1961.3 266.5 1962.2 268.4 1963.2 270.4 1964.3 272.3 1965.5 274.2 1966.8 276.2 1968.2 278.1 1969.8 280 1971.4 282 1973.2 283.9 1975 285.8 1976.9 287.8 1978.8 289.7 1980.7 291.6 1982.7 293.6 1984.6 295.5 1986.5 297.4 1988.3 299.4 1990.1 301.3 1991.8 303.2 1993.4 305.2 1994.9 307.1 1996.2 309 1997.4 311 1998.5 312.9 1999.3 314.8 1999.9 316.8 2000.3 318.7 2000.5 320.6 2000.4 322.6 2000.1 324.5 1999.4 326.4 1998.5 328.4 1997.2 330.3 1995.6 332.2 1993.6 334.2 1991.2 336.1 1988.5 338 1985.3 340 1981.7 341.9 1977.7 343.8 1973.2 345.8 1968.2 347.7 1962.7 349.6 1956.8 351.6 1950.4 353.5 1943.6 355.4 1936.5 357.4 1929 359.3 1921.3 361.2 1913.2 363.2 1905 365.1 1896.5 367 1887.9 369 1879.1 370.9 1870.2 372.8 1861.3 374.8 1852.3 376.7 1843.4 378.6 1834.4 380.6 1825.5 382.5 1816.8 384.4 1808.1 386.4 1799.6 388.3 1791.3 390.2 1783.3 392.2 1775.5 394.1 1768 396 1760.8 398 1754 399.9 1747.6 401.8 1741.6 403.8 1736.1 405.7 1731.1 407.6 1726.6 409.6 1722.7 411.5 1719.3 413.4 1716.6 415.4 1714.6 417.3 1713.2 419.2 1712.5 421.2 1712.4 423.1 1713 425 1714.1 427 1715.8 428.9 1718 430.8 1720.7 432.8 1723.9 434.7 1727.5 436.6 1731.5 438.6 1735.9 440.5 1740.7 442.4 1745.7 444.4 1751.1 446.3 1756.8 448.2 1762.7 450.2 1768.8 452.1 1775.1 454 1781.5 456 1788.1 457.9 1794.8 459.8 1801.5 461.8 1808.3 463.7 1815.1 465.6 1821.9 467.6 1828.7 469.5 1835.4 471.4 1842 473.4 1848.4 475.3 1854.8 477.2 1860.9 479.2 1866.8 481.1 1872.5 483 1877.9 485 1883.1 486.9 1887.9 488.8 1892.4 490.7 1896.5 492.7 1900.4 494.6 1904 496.5 1907.3 498.5 1910.4 500.4 1913.1 502.3 1915.6 504.3 1917.9 506.2 1919.9 508.1 1921.6 510.1 1923.2 512 1924.5 513.9 1925.6 515.9 1926.4 517.8 1927.1 519.7 1927.6 521.7 1927.9 523.6 1928 525.5 1928 527.5 1927.8 529.4 1927.4 531.3 1926.9 533.3 1926.3 535.2 1925.5 537.1 1924.6 539.1 1923.6 541 1922.4 542.9 1921.2 544.9 1919.9 546.8 1918.5 548.7 1917 550.7 1915.4 552.6 1913.8 554.5 1912.1 556.5 1910.4 558.4 1908.6 560.3 1906.8 562.3 1905 564.2 1903.1 566.1 1901.2 568.1 1899.3 570 1897.3 571.9 1895.4 573.9 1893.4 575.8 1891.5 577.7 1889.5 579.7 1887.6 581.6 1885.6 583.5 1883.7 585.5 1881.8 587.4 1880 589.3 1878.1 591.3 1876.3 593.2 1874.5 595.1 1872.8 597.1 1871.1 599 1869.5 600.9 1867.9 602.9 1866.4 604.8 1865 606.7 1863.6 608.7 1862.3 610.6 1861.1 612.5 1860 614.5 1858.9 616.4 1858 618.3 1857.1 620.3 1856.4 622.2 1855.7 624.1 1855.2 626.1 1854.8 628 1854.5 629.9 1854.3 631.9 1854.2 633.8 1854.2 635.7 1854.3 637.7 1854.5 639.6 1854.8 641.5 1855.2 643.5 1855.6 645.4 1856.1 647.3 1856.7 649.3 1857.3 651.2 1858 653.1 1858.8 655.1 1859.6 657 1860.5 658.9 1861.4 660.9 1862.3 662.8 1863.3 664.7 1864.3 666.7 1865.3 668.6 1866.4 670.5 1867.5 672.5 1868.5 674.4 1869.6 676.3 1870.7 678.3 1871.8 680.2 1872.9 682.1 1874 684.1 1875.1 686 1876.1 687.9 1877.1 689.9 1878.1 691.8 1879.1 693.7 1880 695.7 1880.9 697.6 1881.8 699.5 1882.6 701.5 1883.4 703.4 1884.2 705.3 1884.9 707.3 1885.6 709.2 1886.2 711.1 1886.8 713.1 1887.4 715 1888 716.9 1888.5 718.8 1889 720.8 1889.5 722.7 1889.9 724.6 1890.4 726.6 1890.8 728.5 1891.1 730.4 1891.5 732.4 1891.8 734.3 1892.1 736.2 1892.4 738.2 1892.7 740.1 1892.9 742 1893.2 744 1893.4 745.9 1893.6 747.8 1893.8 749.8 1894 751.7 1894.1 753.6 1894.3 755.6 1894.4 757.5 1894.5 759.4 1894.7 761.4 1894.8 763.3 1894.9 765.2 1895 767.2 1895.1 769.1 1895.2 771 1895.3 773 1895.3 774.9 1895.4 776.8 1895.5 778.8 1895.6 780.7 1895.7 782.6 1895.9 784.6 1896 786.5 1896.1 788.4 1896.3 790.4 1896.4 792.3 1896.6 794.2 1896.8 796.2 1897 798.1 1897.3 800 1897.5 802 1897.8 803.9 1898.1 805.8 1898.5 807.8 1898.8 809.7 1899.2 811.6 1899.6 813.6 1900.1 815.5 1900.6 817.4 1901.1 819.4 1901.7 821.3 1902.3 823.2 1903 825.2 1903.7 827.1 1904.4 829 1905.2 831 1906 832.9 1906.9 834.8 1907.8 836.8 1908.8 838.7 1909.8 840.6 1910.9 842.6 1912 844.5 1913.1 846.4 1914.3 848.4 1915.4 850.3 1916.6 852.2 1917.8 854.2 1919 856.1 1920.3 858 1921.5 860 1922.7 861.9 1923.9 863.8 1925.1 865.8 1926.3 867.7 1927.5 869.6 1928.6 871.6 1929.7 873.5 1930.8 875.4 1931.8 877.4 1932.8 879.3 1933.8 881.2 1934.7 883.2 1935.6 885.1 1936.4 887 1937.1 889 1937.8 890.9 1938.4 892.8 1938.9 894.8 1939.4 896.7 1939.8 898.6 1940 900.6 1940.2 902.5 1940.4 904.4 1940.4 906.4 1940.3 908.3 1940.1 910.2 1939.8 912.2 1939.5 914.1 1939.1 916 1938.6 918 1938 919.9 1937.4 921.8 1936.7 923.8 1936 925.7 1935.2 927.6 1934.4 929.6 1933.6 931.5 1932.7 933.4 1931.7 935.4 1930.8 937.3 1929.8 939.2 1928.8 941.2 1927.8 943.1 1926.8 945 1925.8 947 1924.7 948.9 1923.7 950.8 1922.7 952.7 1921.7 954.7 1920.7 956.6 1919.8 958.5 1918.9 960.5 1918 962.4 1917.1 964.3 1916.3 966.3 1915.5 968.2 1914.8 970.1 1914.1 972.1 1913.5 974 1913 975.9 1912.5 977.9 1912 979.8 1911.7 981.7 1911.3 983.7 1911.1 985.6 1910.9 987.5 1910.7 989.5 1910.6 991.4 1910.5 993.3 1910.4 995.3 1910.4 997.2 1910.5 999.1 1910.5 1001.1 1910.6 1003 1910.7 1004.9 1910.9 1006.9 1911.1 1008.8 1911.3 1010.7 1911.5 1012.7 1911.8 1014.6 1912 1016.5 1912.3 1018.5 1912.6 1020.4 1912.9 1022.3 1913.2 1024.3 1913.5 1026.2 1913.8 1028.1 1914.1 1030.1 1914.4 1032 1914.7 1033.9 1915 1035.9 1915.3 1037.8 1915.6 1039.7 1915.9 1041.7 1916.1 1043.6 1916.3 1045.5 1916.6 1047.5 1916.8 1049.4 1917 1051.3 1917.1 1053.3 1917.3 1055.2 1917.5 1057.1 1917.6 1059.1 1917.7 1061 1917.8 1062.9 1917.9 1064.9 1918 1066.8 1918.1 1068.7 1918.2 1070.7 1918.3 1072.6 1918.3 1074.5 1918.4 1076.5 1918.4 1078.4 1918.5 1080.3 1918.5 1082.3 1918.5 1084.2 1918.6 1086.1 1918.6 1088.1 1918.6 1090 1918.6 1091.9 1918.7 1093.9 1918.7 1095.8 1918.7 1097.7 1918.7 1099.7 1918.7 1101.6 1918.8 1103.5 1918.8 1105.5 1918.8 1107.4 1918.8 1109.3 1918.9 1111.3 1918.9 1113.2 1919 1115.1 1919 1117.1 1919.1 1119 1919.1 1120.9 1919.2 1122.9 1919.3 1124.8 1919.4 1126.7 1919.4 1128.7 1919.5 1130.6 1919.6 1132.5 1919.7 1134.5 1919.8 1136.4 1919.9 1138.3 1920 1140.3 1920.1 1142.2 1920.2 1144.1 1920.3 1146.1 1920.5 1148 1920.6 1149.9 1920.7 1151.9 1920.8 1153.8 1921 1155.7 1921.1 1157.7 1921.2 1159.6 1921.4 1161.5 1921.5 1163.5 1921.6 1165.4 1921.8 1167.3 1921.9 1169.3 1922.1 1171.2 1922.2 1173.1 1922.3 1175.1 1922.5 1177 1922.6 1178.9 1922.8 1180.9 1922.9" fill="none" stroke="#000000" stroke-width="3.3" stroke-linecap="round" stroke-linejoin="round" stroke-dasharray="0.1 6.55"/>
<polygon points="191,1968.2 215.2,1954.7 215.2,1981.7" fill="#000000"/><polygon points="260.6,1968.2 284.8,1954.7 284.8,1981.7" fill="#000000"/><polygon points="330.2,1968.2 354.4,1954.7 354.4,1981.7" fill="#000000"/><polygon points="399.8,1714.6 424,1701.1 424,1728.1" fill="#000000"/><polygon points="469.3,1883.1 493.5,1869.6 493.5,1896.6" fill="#000000"/><polygon points="538.9,1912.1 563.1,1898.6 563.1,1925.6" fill="#000000"/><polygon points="608.5,1855.2 632.7,1841.7 632.7,1868.7" fill="#000000"/><polygon points="678.1,1880 702.3,1866.5 702.3,1893.5" fill="#000000"/><polygon points="747.7,1894.9 771.9,1881.4 771.9,1908.4" fill="#000000"/><polygon points="817.3,1906.9 841.5,1893.4 841.5,1920.4" fill="#000000"/><polygon points="886.9,1940.4 911.1,1926.9 911.1,1953.9" fill="#000000"/><polygon points="956.5,1913.5 980.7,1900 980.7,1927" fill="#000000"/><polygon points="1026.1,1916.1 1050.3,1902.6 1050.3,1929.6" fill="#000000"/><polygon points="1095.7,1918.9 1119.9,1905.4 1119.9,1932.4" fill="#000000"/><polygon points="1165.2,1922.9 1189.4,1909.4 1189.4,1936.4" fill="#000000"/>
<path d="M206.6 1968.2 208.5 1967 210.5 1965.9 212.4 1964.7 214.3 1963.6 216.3 1962.4 218.2 1961.3 220.1 1960.3 222.1 1959.3 224 1958.3 225.9 1957.4 227.9 1956.5 229.8 1955.7 231.7 1954.9 233.7 1954.2 235.6 1953.6 237.5 1953.1 239.5 1952.7 241.4 1952.3 243.3 1952.1 245.3 1952 247.2 1951.9 249.1 1952 251.1 1952.2 253 1952.5 254.9 1953 256.8 1953.6 258.8 1954.3 260.7 1955.2 262.6 1956.2 264.6 1957.4 266.5 1958.8 268.4 1960.3 270.4 1962 272.3 1963.9 274.2 1965.9 276.2 1968.2 278.1 1970.6 280 1973.2 282 1976 283.9 1978.9 285.8 1981.8 287.8 1984.8 289.7 1987.8 291.6 1990.8 293.6 1993.8 295.5 1996.8 297.4 1999.6 299.4 2002.4 301.3 2005 303.2 2007.4 305.2 2009.6 307.1 2011.6 309 2013.3 311 2014.8 312.9 2015.9 314.8 2016.7 316.8 2017.1 318.7 2017.2 320.6 2016.8 322.6 2015.9 324.5 2014.6 326.4 2012.8 328.4 2010.4 330.3 2007.5 332.2 2003.9 334.2 1999.8 336.1 1995 338 1989.5 340 1983.3 341.9 1976.4 343.8 1968.7 345.8 1960.2 347.7 1950.9 349.6 1940.8 351.6 1930.1 353.5 1918.7 355.4 1906.7 357.4 1894.1 359.3 1881.1 361.2 1867.7 363.2 1853.9 365.1 1839.8 367 1825.5 369 1811 370.9 1796.3 372.8 1781.6 374.8 1766.8 376.7 1752.1 378.6 1737.5 380.6 1723 382.5 1708.8 384.4 1694.8 386.4 1681.2 388.3 1667.9 390.2 1655.1 392.2 1642.7 394.1 1631 396 1619.8 398 1609.4 399.9 1599.6 401.8 1590.6 403.8 1582.5 405.7 1575.3 407.6 1569 409.6 1563.8 411.5 1559.6 413.4 1556.6 415.4 1554.7 417.3 1554.1 419.2 1554.6 421.2 1556.3 423.1 1559.1 425 1562.9 427 1567.7 428.9 1573.4 430.8 1580 432.8 1587.4 434.7 1595.6 436.6 1604.5 438.6 1614 440.5 1624.1 442.4 1634.8 444.4 1645.9 446.3 1657.5 448.2 1669.5 450.2 1681.8 452.1 1694.4 454 1707.2 456 1720.2 457.9 1733.3 459.8 1746.5 461.8 1759.7 463.7 1772.8 465.6 1785.8 467.6 1798.7 469.5 1811.4 471.4 1823.8 473.4 1835.9 475.3 1847.6 477.2 1858.9 479.2 1869.8 481.1 1880.1 483 1889.8 485 1898.9 486.9 1907.3 488.8 1915 490.7 1922.1 492.7 1928.6 494.6 1934.5 496.5 1939.7 498.5 1944.4 500.4 1948.6 502.3 1952.2 504.3 1955.4 506.2 1958 508.1 1960.2 510.1 1962 512 1963.3 513.9 1964.2 515.9 1964.8 517.8 1965 519.7 1964.9 521.7 1964.4 523.6 1963.7 525.5 1962.6 527.5 1961.4 529.4 1959.9 531.3 1958.1 533.3 1956.2 535.2 1954.1 537.1 1951.9 539.1 1949.6 541 1947.1 542.9 1944.5 544.9 1941.9 546.8 1939.2 548.7 1936.5 550.7 1933.9 552.6 1931.2 554.5 1928.5 556.5 1925.9 558.4 1923.4 560.3 1920.9 562.3 1918.5 564.2 1916.2 566.1 1913.9 568.1 1911.7 570 1909.5 571.9 1907.4 573.9 1905.4 575.8 1903.4 577.7 1901.5 579.7 1899.7 581.6 1897.9 583.5 1896.2 585.5 1894.5 587.4 1892.9 589.3 1891.4 591.3 1890 593.2 1888.6 595.1 1887.3 597.1 1886.1 599 1884.9 600.9 1883.9 602.9 1882.8 604.8 1881.9 606.7 1881 608.7 1880.2 610.6 1879.5 612.5 1878.9 614.5 1878.3 616.4 1877.8 618.3 1877.4 620.3 1877.1 622.2 1876.8 624.1 1876.6 626.1 1876.5 628 1876.5 629.9 1876.6 631.9 1876.7 633.8 1876.9 635.7 1877.1 637.7 1877.4 639.6 1877.8 641.5 1878.2 643.5 1878.7 645.4 1879.2 647.3 1879.8 649.3 1880.4 651.2 1881 653.1 1881.7 655.1 1882.4 657 1883.2 658.9 1884 660.9 1884.8 662.8 1885.6 664.7 1886.4 666.7 1887.3 668.6 1888.1 670.5 1889 672.5 1889.9 674.4 1890.7 676.3 1891.6 678.3 1892.5 680.2 1893.3 682.1 1894.2 684.1 1895 686 1895.8 687.9 1896.6 689.9 1897.4 691.8 1898.2 693.7 1898.9 695.7 1899.6 697.6 1900.2 699.5 1900.9 701.5 1901.4 703.4 1902 705.3 1902.5 707.3 1903.1 709.2 1903.5 711.1 1904 713.1 1904.4 715 1904.8 716.9 1905.2 718.8 1905.6 720.8 1905.9 722.7 1906.2 724.6 1906.5 726.6 1906.8 728.5 1907.1 730.4 1907.3 732.4 1907.5 734.3 1907.8 736.2 1907.9 738.2 1908.1 740.1 1908.3 742 1908.4 744 1908.6 745.9 1908.7 747.8 1908.8 749.8 1908.9 751.7 1909 753.6 1909.1 755.6 1909.2 757.5 1909.3 759.4 1909.4 761.4 1909.4 763.3 1909.5 765.2 1909.6 767.2 1909.6 769.1 1909.7 771 1909.7 773 1909.8 774.9 1909.9 776.8 1909.9 778.8 1910 780.7 1910.1 782.6 1910.2 784.6 1910.3 786.5 1910.4 788.4 1910.5 790.4 1910.7 792.3 1910.8 794.2 1911 796.2 1911.2 798.1 1911.4 800 1911.6 802 1911.9 803.9 1912.2 805.8 1912.5 807.8 1912.8 809.7 1913.2 811.6 1913.6 813.6 1914 815.5 1914.4 817.4 1914.9 819.4 1915.4 821.3 1916 823.2 1916.6 825.2 1917.2 827.1 1917.9 829 1918.6 831 1919.3 832.9 1920.1 834.8 1921 836.8 1921.8 838.7 1922.8 840.6 1923.7 842.6 1924.7 844.5 1925.7 846.4 1926.7 848.4 1927.8 850.3 1928.8 852.2 1929.9 854.2 1931 856.1 1932.1 858 1933.2 860 1934.3 861.9 1935.3 863.8 1936.4 865.8 1937.5 867.7 1938.5 869.6 1939.5 871.6 1940.5 873.5 1941.4 875.4 1942.4 877.4 1943.2 879.3 1944.1 881.2 1944.9 883.2 1945.6 885.1 1946.3 887 1946.9 889 1947.5 890.9 1948 892.8 1948.5 894.8 1948.9 896.7 1949.2 898.6 1949.4 900.6 1949.5 902.5 1949.6 904.4 1949.5 906.4 1949.4 908.3 1949.2 910.2 1948.9 912.2 1948.6 914.1 1948.1 916 1947.6 918 1947.1 919.9 1946.5 921.8 1945.8 923.8 1945.1 925.7 1944.4 927.6 1943.6 929.6 1942.7 931.5 1941.9 933.4 1941 935.4 1940 937.3 1939.1 939.2 1938.2 941.2 1937.2 943.1 1936.2 945 1935.2 947 1934.3 948.9 1933.3 950.8 1932.3 952.7 1931.4 954.7 1930.4 956.6 1929.5 958.5 1928.7 960.5 1927.8 962.4 1927 964.3 1926.2 966.3 1925.5 968.2 1924.8 970.1 1924.1 972.1 1923.5 974 1923 975.9 1922.5 977.9 1922.1 979.8 1921.7 981.7 1921.4 983.7 1921.1 985.6 1920.9 987.5 1920.7 989.5 1920.6 991.4 1920.5 993.3 1920.4 995.3 1920.4 997.2 1920.4 999.1 1920.5 1001.1 1920.5 1003 1920.6 1004.9 1920.7 1006.9 1920.9 1008.8 1921.1 1010.7 1921.3 1012.7 1921.5 1014.6 1921.7 1016.5 1921.9 1018.5 1922.2 1020.4 1922.4 1022.3 1922.7 1024.3 1923 1026.2 1923.2 1028.1 1923.5 1030.1 1923.8 1032 1924.1 1033.9 1924.3 1035.9 1924.6 1037.8 1924.9 1039.7 1925.1 1041.7 1925.3 1043.6 1925.5 1045.5 1925.7 1047.5 1925.9 1049.4 1926.1 1051.3 1926.3 1053.3 1926.4 1055.2 1926.5 1057.1 1926.7 1059.1 1926.8 1061 1926.9 1062.9 1927 1064.9 1927.1 1066.8 1927.1 1068.7 1927.2 1070.7 1927.3 1072.6 1927.3 1074.5 1927.4 1076.5 1927.4 1078.4 1927.4 1080.3 1927.5 1082.3 1927.5 1084.2 1927.5 1086.1 1927.5 1088.1 1927.6 1090 1927.6 1091.9 1927.6 1093.9 1927.6 1095.8 1927.6 1097.7 1927.6 1099.7 1927.6 1101.6 1927.6 1103.5 1927.6 1105.5 1927.7 1107.4 1927.7 1109.3 1927.7 1111.3 1927.7 1113.2 1927.8 1115.1 1927.8 1117.1 1927.8 1119 1927.9 1120.9 1927.9 1122.9 1928 1124.8 1928 1126.7 1928.1 1128.7 1928.1 1130.6 1928.2 1132.5 1928.3 1134.5 1928.3 1136.4 1928.4 1138.3 1928.5 1140.3 1928.5 1142.2 1928.6 1144.1 1928.7 1146.1 1928.8 1148 1928.9 1149.9 1929 1151.9 1929.1 1153.8 1929.1 1155.7 1929.2 1157.7 1929.3 1159.6 1929.4 1161.5 1929.5 1163.5 1929.6 1165.4 1929.7 1167.3 1929.8 1169.3 1929.9 1171.2 1930 1173.1 1930.1 1175.1 1930.2 1177 1930.3 1178.9 1930.4 1180.9 1930.5" fill="none" stroke="#ff0000" stroke-width="3.3" stroke-linecap="round" stroke-linejoin="round" stroke-dasharray="0.1 6.55"/>
<polygon points="206.6,1954.9 220.4,1968.2 206.6,1981.5 192.8,1968.2" fill="#fff" stroke="#ff0000" stroke-width="1.6"/><polygon points="192.8,1968.2 220.4,1968.2 206.6,1981.5" fill="#ff0000"/><polygon points="276.2,1954.9 290,1968.2 276.2,1981.5 262.4,1968.2" fill="#fff" stroke="#ff0000" stroke-width="1.6"/><polygon points="262.4,1968.2 290,1968.2 276.2,1981.5" fill="#ff0000"/><polygon points="345.8,1946.9 359.6,1960.2 345.8,1973.5 332,1960.2" fill="#fff" stroke="#ff0000" stroke-width="1.6"/><polygon points="332,1960.2 359.6,1960.2 345.8,1973.5" fill="#ff0000"/><polygon points="415.4,1541.4 429.2,1554.7 415.4,1568 401.6,1554.7" fill="#fff" stroke="#ff0000" stroke-width="1.6"/><polygon points="401.6,1554.7 429.2,1554.7 415.4,1568" fill="#ff0000"/><polygon points="485,1885.6 498.8,1898.9 485,1912.2 471.2,1898.9" fill="#fff" stroke="#ff0000" stroke-width="1.6"/><polygon points="471.2,1898.9 498.8,1898.9 485,1912.2" fill="#ff0000"/><polygon points="554.5,1915.2 568.3,1928.5 554.5,1941.8 540.7,1928.5" fill="#fff" stroke="#ff0000" stroke-width="1.6"/><polygon points="540.7,1928.5 568.3,1928.5 554.5,1941.8" fill="#ff0000"/><polygon points="624.1,1863.3 637.9,1876.6 624.1,1889.9 610.3,1876.6" fill="#fff" stroke="#ff0000" stroke-width="1.6"/><polygon points="610.3,1876.6 637.9,1876.6 624.1,1889.9" fill="#ff0000"/><polygon points="693.7,1885.6 707.5,1898.9 693.7,1912.2 679.9,1898.9" fill="#fff" stroke="#ff0000" stroke-width="1.6"/><polygon points="679.9,1898.9 707.5,1898.9 693.7,1912.2" fill="#ff0000"/><polygon points="763.3,1896.2 777.1,1909.5 763.3,1922.8 749.5,1909.5" fill="#fff" stroke="#ff0000" stroke-width="1.6"/><polygon points="749.5,1909.5 777.1,1909.5 763.3,1922.8" fill="#ff0000"/><polygon points="832.9,1906.8 846.7,1920.1 832.9,1933.4 819.1,1920.1" fill="#fff" stroke="#ff0000" stroke-width="1.6"/><polygon points="819.1,1920.1 846.7,1920.1 832.9,1933.4" fill="#ff0000"/><polygon points="902.5,1936.3 916.3,1949.6 902.5,1962.9 888.7,1949.6" fill="#fff" stroke="#ff0000" stroke-width="1.6"/><polygon points="888.7,1949.6 916.3,1949.6 902.5,1962.9" fill="#ff0000"/><polygon points="972.1,1910.2 985.9,1923.5 972.1,1936.8 958.3,1923.5" fill="#fff" stroke="#ff0000" stroke-width="1.6"/><polygon points="958.3,1923.5 985.9,1923.5 972.1,1936.8" fill="#ff0000"/><polygon points="1041.7,1912 1055.5,1925.3 1041.7,1938.6 1027.9,1925.3" fill="#fff" stroke="#ff0000" stroke-width="1.6"/><polygon points="1027.9,1925.3 1055.5,1925.3 1041.7,1938.6" fill="#ff0000"/><polygon points="1111.3,1914.4 1125.1,1927.7 1111.3,1941 1097.5,1927.7" fill="#fff" stroke="#ff0000" stroke-width="1.6"/><polygon points="1097.5,1927.7 1125.1,1927.7 1111.3,1941" fill="#ff0000"/><polygon points="1180.9,1917.2 1194.7,1930.5 1180.9,1943.8 1167.1,1930.5" fill="#fff" stroke="#ff0000" stroke-width="1.6"/><polygon points="1167.1,1930.5 1194.7,1930.5 1180.9,1943.8" fill="#ff0000"/>
<path d="M206.6 1968.2 276.2 1965.2 345.8 1905.7 415.4 1926.1 485 1611.4 554.5 1794.3 624.1 1874 693.7 1897.5 763.3 1909.5 832.9 1920.1 902.5 1950.6 972.1 1927.3 1041.7 1928.7 1111.3 1930.9 1180.9 1933.5" fill="none" stroke="#0000ff" stroke-width="3.3" stroke-linecap="round" stroke-linejoin="round" stroke-dasharray="0.1 6.55"/>
<polygon points="206.6,1954.8 209.8,1964.3 219.9,1964.5 211.8,1970.5 214.8,1980.1 206.6,1974.3 198.4,1980.1 201.4,1970.5 193.3,1964.5 203.4,1964.3" fill="#0000ff"/><polygon points="276.2,1951.8 279.4,1961.3 289.5,1961.5 281.4,1967.5 284.4,1977.1 276.2,1971.3 268,1977.1 270.9,1967.5 262.9,1961.5 272.9,1961.3" fill="#0000ff"/><polygon points="345.8,1892.3 349,1901.8 359.1,1902 351,1908 354,1917.6 345.8,1911.8 337.5,1917.6 340.5,1908 332.5,1902 342.5,1901.8" fill="#0000ff"/><polygon points="415.4,1912.7 418.6,1922.3 428.7,1922.4 420.6,1928.4 423.6,1938.1 415.4,1932.2 407.1,1938.1 410.1,1928.4 402,1922.4 412.1,1922.3" fill="#0000ff"/><polygon points="485,1598 488.2,1607.6 498.3,1607.7 490.2,1613.7 493.2,1623.3 485,1617.5 476.7,1623.3 479.7,1613.7 471.6,1607.7 481.7,1607.6" fill="#0000ff"/><polygon points="554.5,1780.9 557.8,1790.5 567.9,1790.6 559.8,1796.6 562.8,1806.2 554.5,1800.4 546.3,1806.2 549.3,1796.6 541.2,1790.6 551.3,1790.5" fill="#0000ff"/><polygon points="624.1,1860.6 627.4,1870.2 637.4,1870.3 629.4,1876.3 632.4,1886 624.1,1880.1 615.9,1886 618.9,1876.3 610.8,1870.3 620.9,1870.2" fill="#0000ff"/><polygon points="693.7,1884.1 697,1893.6 707,1893.8 699,1899.8 701.9,1909.4 693.7,1903.6 685.5,1909.4 688.5,1899.8 680.4,1893.8 690.5,1893.6" fill="#0000ff"/><polygon points="763.3,1896.1 766.5,1905.6 776.6,1905.8 768.5,1911.8 771.5,1921.4 763.3,1915.6 755.1,1921.4 758.1,1911.8 750,1905.8 760.1,1905.6" fill="#0000ff"/><polygon points="832.9,1906.7 836.1,1916.3 846.2,1916.4 838.1,1922.4 841.1,1932 832.9,1926.2 824.7,1932 827.7,1922.4 819.6,1916.4 829.7,1916.3" fill="#0000ff"/><polygon points="902.5,1937.2 905.7,1946.7 915.8,1946.8 907.7,1952.9 910.7,1962.5 902.5,1956.7 894.3,1962.5 897.3,1952.9 889.2,1946.8 899.3,1946.7" fill="#0000ff"/><polygon points="972.1,1913.9 975.3,1923.5 985.4,1923.6 977.3,1929.6 980.3,1939.3 972.1,1933.4 963.9,1939.3 966.8,1929.6 958.8,1923.6 968.8,1923.5" fill="#0000ff"/><polygon points="1041.7,1915.3 1044.9,1924.9 1055,1925 1046.9,1931 1049.9,1940.7 1041.7,1934.8 1033.4,1940.7 1036.4,1931 1028.4,1925 1038.4,1924.9" fill="#0000ff"/><polygon points="1111.3,1917.5 1114.5,1927.1 1124.6,1927.2 1116.5,1933.2 1119.5,1942.9 1111.3,1937 1103,1942.9 1106,1933.2 1097.9,1927.2 1108,1927.1" fill="#0000ff"/><polygon points="1180.9,1920.1 1184.1,1929.7 1194.2,1929.8 1186.1,1935.8 1189.1,1945.5 1180.9,1939.6 1172.6,1945.5 1175.6,1935.8 1167.5,1929.8 1177.6,1929.7" fill="#0000ff"/>
</g>
<rect x="137" y="1128.8" width="1043.9" height="841.4" fill="none" stroke="#000" stroke-width="3.2"/>
<path d="M137 1970.2v8M206.6 1970.2v16.5M276.2 1970.2v8M345.8 1970.2v16.5M415.4 1970.2v8M485 1970.2v16.5M554.5 1970.2v8M624.1 1970.2v16.5M693.7 1970.2v8M763.3 1970.2v16.5M832.9 1970.2v8M902.5 1970.2v16.5M972.1 1970.2v8M1041.7 1970.2v16.5M1111.3 1970.2v8M1180.9 1970.2v16.5M137 1970.2h-16.5M137 1900.1h-8M137 1830h-16.5M137 1759.8h-8M137 1689.7h-16.5M137 1619.6h-8M137 1549.5h-16.5M137 1479.4h-8M137 1409.3h-16.5M137 1339.1h-8M137 1269h-16.5M137 1198.9h-8M137 1128.8h-16.5" fill="none" stroke="#000" stroke-width="3.2"/>
<g font-family="'Liberation Sans', Arial, sans-serif" font-size="35.5" fill="#000" stroke="#000" stroke-width="0.3">
<text x="206.6" y="2025.5" text-anchor="middle">1</text>
<text x="345.8" y="2025.5" text-anchor="middle">3</text>
<text x="485" y="2025.5" text-anchor="middle">5</text>
<text x="624.1" y="2025.5" text-anchor="middle">7</text>
<text x="763.3" y="2025.5" text-anchor="middle">9</text>
<text x="902.5" y="2025.5" text-anchor="middle">11</text>
<text x="1041.7" y="2025.5" text-anchor="middle">13</text>
<text x="1180.9" y="2025.5" text-anchor="middle">15</text>
<text x="109.2" y="1981.9" text-anchor="end">0</text>
<text x="109.2" y="1841.7" text-anchor="end">70</text>
<text x="109.2" y="1701.4" text-anchor="end">140</text>
<text x="109.2" y="1561.2" text-anchor="end">210</text>
<text x="109.2" y="1421" text-anchor="end">280</text>
<text x="109.2" y="1280.7" text-anchor="end">350</text>
<text x="109.2" y="1140.5" text-anchor="end">420</text>
<text x="658.1" y="2077.6" text-anchor="middle" textLength="243.5" lengthAdjust="spacingAndGlyphs">Time Period (<tspan font-style="italic">s</tspan>)</text>
<text transform="translate(26 1546.5) rotate(-90)" text-anchor="middle" textLength="440" lengthAdjust="spacingAndGlyphs">Power absorbed (<tspan font-style="italic">P</tspan><tspan font-style="italic" font-size="26" dy="7">abs</tspan><tspan font-style="italic" dy="-7"> , kW)</tspan></text>
</g>
<text x="691.4" y="2162.2" text-anchor="middle" font-family="'Liberation Serif', 'Times New Roman', serif" font-size="56" fill="#222">(b)</text>
<rect x="841.3" y="1147.6" width="332.7" height="484.8" fill="#fff" stroke="#333" stroke-width="1.4"/>
<path d="M847 1175.7H922" stroke="#000000" stroke-width="3.3" stroke-linecap="round"/>
<rect x="874.3" y="1165.5" width="20.4" height="20.4" fill="#000000"/>
<text x="930.2" y="1187.2" font-family="'Liberation Serif', 'Times New Roman', serif" font-size="34" fill="#000" stroke="#000" stroke-width="0.25" textLength="230.5" lengthAdjust="spacingAndGlyphs">Z<tspan dy="9" font-size="25">c</tspan><tspan dy="-9">/h = 0.045 -&#950;</tspan><tspan dy="9" font-size="25">33</tspan></text>
<path d="M847 1228.9H922" stroke="#ff0000" stroke-width="3.3" stroke-linecap="round"/>
<circle cx="884.5" cy="1228.9" r="10.8" fill="#ff0000"/>
<text x="930.2" y="1240.4" font-family="'Liberation Serif', 'Times New Roman', serif" font-size="34" fill="#000" stroke="#000" stroke-width="0.25" textLength="230.5" lengthAdjust="spacingAndGlyphs">Z<tspan dy="9" font-size="25">c</tspan><tspan dy="-9">/h = 0.055 -&#950;</tspan><tspan dy="9" font-size="25">33</tspan></text>
<path d="M847 1282.1H922" stroke="#0000ff" stroke-width="3.3" stroke-linecap="round"/>
<polygon points="884.5,1266.9 898.2,1290.5 870.8,1290.5" fill="#0000ff"/>
<text x="930.2" y="1293.6" font-family="'Liberation Serif', 'Times New Roman', serif" font-size="34" fill="#000" stroke="#000" stroke-width="0.25" textLength="230.5" lengthAdjust="spacingAndGlyphs">Z<tspan dy="9" font-size="25">c</tspan><tspan dy="-9">/h = 0.065 -&#950;</tspan><tspan dy="9" font-size="25">33</tspan></text>
<path d="M847 1335.3h12.7M912 1335.3H922" stroke="#000000" stroke-width="3.3" stroke-linecap="round"/>
<rect x="875.1" y="1325.9" width="18.8" height="18.8" fill="#fff" stroke="#000000" stroke-width="1.6"/>
<text x="930.2" y="1346.8" font-family="'Liberation Serif', 'Times New Roman', serif" font-size="34" fill="#000" stroke="#000" stroke-width="0.25" textLength="230.5" lengthAdjust="spacingAndGlyphs">Z<tspan dy="9" font-size="25">c</tspan><tspan dy="-9">/h = 0.045 -&#950;</tspan><tspan dy="9" font-size="25">44</tspan></text>
<path d="M847 1388.5h12.7M912 1388.5H922" stroke="#ff0000" stroke-width="3.3" stroke-linecap="round"/>
<circle cx="884.5" cy="1388.5" r="10" fill="#fff" stroke="#ff0000" stroke-width="1.6"/>
<text x="930.2" y="1400" font-family="'Liberation Serif', 'Times New Roman', serif" font-size="34" fill="#000" stroke="#000" stroke-width="0.25" textLength="230.5" lengthAdjust="spacingAndGlyphs">Z<tspan dy="9" font-size="25">c</tspan><tspan dy="-9">/h = 0.055 -&#950;</tspan><tspan dy="9" font-size="25">44</tspan></text>
<path d="M847 1441.7h12.7M912 1441.7H922" stroke="#0000ff" stroke-width="3.3" stroke-linecap="round"/>
<polygon points="884.5,1427.6 897.2,1449.4 871.8,1449.4" fill="#fff" stroke="#0000ff" stroke-width="1.6"/>
<text x="930.2" y="1453.2" font-family="'Liberation Serif', 'Times New Roman', serif" font-size="34" fill="#000" stroke="#000" stroke-width="0.25" textLength="230.5" lengthAdjust="spacingAndGlyphs">Z<tspan dy="9" font-size="25">c</tspan><tspan dy="-9">/h = 0.065 -&#950;</tspan><tspan dy="9" font-size="25">44</tspan></text>
<path d="M846.6 1494.9H922.3" stroke="#000000" stroke-width="3.3" stroke-linecap="round" stroke-dasharray="0.1 6.55"/>
<polygon points="868.9,1494.9 893.1,1481.4 893.1,1508.4" fill="#000000"/>
<text x="930.2" y="1506.4" font-family="'Liberation Serif', 'Times New Roman', serif" font-size="34" fill="#000" stroke="#000" stroke-width="0.25" textLength="230.5" lengthAdjust="spacingAndGlyphs">Z<tspan dy="9" font-size="25">c</tspan><tspan dy="-9">/h = 0.045 -&#950;</tspan><tspan dy="9" font-size="25">55</tspan></text>
<path d="M846.6 1548.1H922.3" stroke="#ff0000" stroke-width="3.3" stroke-linecap="round" stroke-dasharray="0.1 6.55"/>
<polygon points="884.5,1534.8 898.3,1548.1 884.5,1561.4 870.7,1548.1" fill="#fff" stroke="#ff0000" stroke-width="1.6"/><polygon points="870.7,1548.1 898.3,1548.1 884.5,1561.4" fill="#ff0000"/>
<text x="930.2" y="1559.6" font-family="'Liberation Serif', 'Times New Roman', serif" font-size="34" fill="#000" stroke="#000" stroke-width="0.25" textLength="230.5" lengthAdjust="spacingAndGlyphs">Z<tspan dy="9" font-size="25">c</tspan><tspan dy="-9">/h = 0.055 -&#950;</tspan><tspan dy="9" font-size="25">55</tspan></text>
<path d="M846.6 1601.3H922.3" stroke="#0000ff" stroke-width="3.3" stroke-linecap="round" stroke-dasharray="0.1 6.55"/>
<polygon points="884.5,1587.9 887.7,1597.5 897.8,1597.6 889.7,1603.6 892.7,1613.2 884.5,1607.4 876.3,1613.2 879.3,1603.6 871.2,1597.6 881.3,1597.5" fill="#0000ff"/>
<text x="930.2" y="1612.8" font-family="'Liberation Serif', 'Times New Roman', serif" font-size="34" fill="#000" stroke="#000" stroke-width="0.25" textLength="230.5" lengthAdjust="spacingAndGlyphs">Z<tspan dy="9" font-size="25">c</tspan><tspan dy="-9">/h = 0.065 -&#950;</tspan><tspan dy="9" font-size="25">55</tspan></text>
</g>
<g id="panel-c">
<clipPath id="clip-c"><rect x="1437.5" y="14.6" width="1043.9" height="841.4"/></clipPath>
<g transform="translate(1805.0 40.3) scale(0.9640)">
<clipPath id="sc-c"><rect x="-33.5" y="10" width="90" height="250"/></clipPath>
<g clip-path="url(#sc-c)"><ellipse cx="11" cy="122" rx="56" ry="96" transform="rotate(-8 11 122)" fill="url(#shd)"/></g>
<use href="#inset"/>
</g>
<path d="M1507.1 856V14.6M1646.3 856V14.6M1785.5 856V14.6M1924.6 856V14.6M2063.8 856V14.6M2203 856V14.6M2342.2 856V14.6M1437.5 687.7H2481.4M1437.5 519.4H2481.4M1437.5 351.2H2481.4M1437.5 182.9H2481.4" fill="none" stroke="#c2c8c5" stroke-width="1.3" stroke-dasharray="5.3 4.95"/>
<g clip-path="url(#clip-c)">
<path d="M1507.1 853.2 1509 859.4 1511 865.6 1512.9 871.7 1514.8 877.7 1516.8 883.6 1518.7 889.3 1520.6 894.9 1522.6 900.3 1524.5 905.4 1526.4 910.3 1528.4 914.8 1530.3 919 1532.2 922.9 1534.2 926.4 1536.1 929.5 1538 932.1 1540 934.3 1541.9 935.9 1543.8 937 1545.8 937.6 1547.7 937.5 1549.6 936.8 1551.6 935.5 1553.5 933.5 1555.4 930.7 1557.3 927.3 1559.3 923 1561.2 918 1563.1 912.1 1565.1 905.3 1567 897.7 1568.9 889.1 1570.9 879.6 1572.8 869.1 1574.7 857.6 1576.7 845.1 1578.6 831.5 1580.5 816.9 1582.5 801.4 1584.4 785 1586.3 768 1588.3 750.3 1590.2 732 1592.1 713.2 1594.1 694 1596 674.4 1597.9 654.6 1599.9 634.7 1601.8 614.7 1603.7 594.6 1605.7 574.7 1607.6 554.9 1609.5 535.4 1611.5 516.2 1613.4 497.4 1615.3 479.1 1617.3 461.4 1619.2 444.3 1621.1 428 1623.1 412.5 1625 397.9 1626.9 384.3 1628.9 371.8 1630.8 360.4 1632.7 350.3 1634.7 341.5 1636.6 334 1638.5 328.1 1640.5 323.7 1642.4 321 1644.3 320 1646.3 320.9 1648.2 323.6 1650.1 328.1 1652.1 334.2 1654 342 1655.9 351.3 1657.9 362 1659.8 374 1661.7 387.2 1663.7 401.6 1665.6 416.9 1667.5 433.1 1669.5 450.2 1671.4 467.9 1673.3 486.3 1675.3 505.2 1677.2 524.6 1679.1 544.2 1681.1 564.1 1683 584.1 1684.9 604.1 1686.9 624 1688.8 643.8 1690.7 663.3 1692.7 682.4 1694.6 701.1 1696.5 719.2 1698.5 736.7 1700.4 753.3 1702.3 769.2 1704.3 784 1706.2 797.8 1708.1 810.5 1710.1 821.9 1712 831.9 1713.9 840.5 1715.9 847.6 1717.8 853 1719.7 856.9 1721.7 859.2 1723.6 860.1 1725.5 859.6 1727.5 857.9 1729.4 854.9 1731.3 850.7 1733.3 845.4 1735.2 839.1 1737.1 831.8 1739.1 823.7 1741 814.7 1742.9 805 1744.9 794.6 1746.8 783.5 1748.7 771.9 1750.7 759.9 1752.6 747.4 1754.5 734.6 1756.5 721.5 1758.4 708.2 1760.3 694.7 1762.3 681.2 1764.2 667.7 1766.1 654.3 1768.1 641 1770 627.9 1771.9 615.1 1773.9 602.6 1775.8 590.5 1777.7 579 1779.7 567.9 1781.6 557.5 1783.5 547.8 1785.5 538.8 1787.4 530.6 1789.3 523.3 1791.2 516.6 1793.2 510.8 1795.1 505.6 1797 501.2 1799 497.4 1800.9 494.2 1802.8 491.7 1804.8 489.7 1806.7 488.2 1808.6 487.3 1810.6 486.9 1812.5 487 1814.4 487.5 1816.4 488.4 1818.3 489.7 1820.2 491.3 1822.2 493.3 1824.1 495.6 1826 498.2 1828 501 1829.9 504 1831.8 507.3 1833.8 510.7 1835.7 514.2 1837.6 517.9 1839.6 521.6 1841.5 525.4 1843.4 529.3 1845.4 533.1 1847.3 536.9 1849.2 540.7 1851.2 544.4 1853.1 548 1855 551.4 1857 554.7 1858.9 557.9 1860.8 560.8 1862.8 563.7 1864.7 566.4 1866.6 569 1868.6 571.4 1870.5 573.8 1872.4 576 1874.4 578.1 1876.3 580.1 1878.2 581.9 1880.2 583.7 1882.1 585.4 1884 587 1886 588.5 1887.9 590 1889.8 591.4 1891.8 592.7 1893.7 593.9 1895.6 595.1 1897.6 596.3 1899.5 597.4 1901.4 598.4 1903.4 599.4 1905.3 600.4 1907.2 601.4 1909.2 602.3 1911.1 603.2 1913 604.2 1915 605.1 1916.9 606 1918.8 606.9 1920.8 607.8 1922.7 608.8 1924.6 609.8 1926.6 610.7 1928.5 611.8 1930.4 612.8 1932.4 613.9 1934.3 615 1936.2 616.1 1938.2 617.2 1940.1 618.3 1942 619.5 1944 620.7 1945.9 621.9 1947.8 623.1 1949.8 624.3 1951.7 625.5 1953.6 626.8 1955.6 628.1 1957.5 629.3 1959.4 630.6 1961.4 631.9 1963.3 633.1 1965.2 634.4 1967.2 635.7 1969.1 637 1971 638.3 1973 639.6 1974.9 640.9 1976.8 642.2 1978.8 643.5 1980.7 644.8 1982.6 646 1984.6 647.3 1986.5 648.6 1988.4 649.8 1990.4 651.1 1992.3 652.3 1994.2 653.5 1996.2 654.7 1998.1 655.9 2000 657.1 2002 658.2 2003.9 659.4 2005.8 660.5 2007.8 661.6 2009.7 662.7 2011.6 663.7 2013.6 664.8 2015.5 665.8 2017.4 666.8 2019.3 667.8 2021.3 668.7 2023.2 669.7 2025.1 670.6 2027.1 671.4 2029 672.3 2030.9 673.1 2032.9 673.9 2034.8 674.7 2036.7 675.4 2038.7 676.1 2040.6 676.7 2042.5 677.4 2044.5 678 2046.4 678.5 2048.3 679 2050.3 679.5 2052.2 680 2054.1 680.4 2056.1 680.8 2058 681.1 2059.9 681.4 2061.9 681.6 2063.8 681.8 2065.7 682 2067.7 682.1 2069.6 682.2 2071.5 682.3 2073.5 682.3 2075.4 682.4 2077.3 682.4 2079.3 682.4 2081.2 682.4 2083.1 682.5 2085.1 682.5 2087 682.6 2088.9 682.7 2090.9 682.8 2092.8 683 2094.7 683.2 2096.7 683.4 2098.6 683.8 2100.5 684.1 2102.5 684.6 2104.4 685.1 2106.3 685.7 2108.3 686.4 2110.2 687.2 2112.1 688 2114.1 689 2116 690.1 2117.9 691.3 2119.9 692.6 2121.8 694 2123.7 695.6 2125.7 697.3 2127.6 699.2 2129.5 701.2 2131.5 703.3 2133.4 705.7 2135.3 708.2 2137.3 710.8 2139.2 713.6 2141.1 716.5 2143.1 719.5 2145 722.6 2146.9 725.9 2148.9 729.2 2150.8 732.5 2152.7 735.9 2154.7 739.4 2156.6 742.9 2158.5 746.4 2160.5 749.9 2162.4 753.4 2164.3 756.9 2166.3 760.3 2168.2 763.7 2170.1 767.1 2172.1 770.4 2174 773.5 2175.9 776.6 2177.9 779.6 2179.8 782.5 2181.7 785.2 2183.7 787.8 2185.6 790.2 2187.5 792.4 2189.5 794.5 2191.4 796.4 2193.3 798 2195.3 799.5 2197.2 800.7 2199.1 801.6 2201.1 802.3 2203 802.7 2204.9 802.8 2206.9 802.7 2208.8 802.3 2210.7 801.7 2212.7 800.8 2214.6 799.7 2216.5 798.4 2218.5 796.9 2220.4 795.2 2222.3 793.4 2224.3 791.4 2226.2 789.2 2228.1 787 2230.1 784.6 2232 782.1 2233.9 779.5 2235.9 776.8 2237.8 774 2239.7 771.2 2241.7 768.4 2243.6 765.5 2245.5 762.7 2247.5 759.8 2249.4 756.9 2251.3 754 2253.2 751.2 2255.2 748.5 2257.1 745.7 2259 743.1 2261 740.6 2262.9 738.1 2264.8 735.8 2266.8 733.6 2268.7 731.5 2270.6 729.6 2272.6 727.8 2274.5 726.2 2276.4 724.8 2278.4 723.6 2280.3 722.5 2282.2 721.5 2284.2 720.8 2286.1 720.1 2288 719.6 2290 719.2 2291.9 718.9 2293.8 718.7 2295.8 718.7 2297.7 718.7 2299.6 718.9 2301.6 719.1 2303.5 719.4 2305.4 719.8 2307.4 720.2 2309.3 720.8 2311.2 721.3 2313.2 722 2315.1 722.6 2317 723.3 2319 724.1 2320.9 724.8 2322.8 725.6 2324.8 726.4 2326.7 727.2 2328.6 728 2330.6 728.8 2332.5 729.6 2334.4 730.4 2336.4 731.1 2338.3 731.8 2340.2 732.5 2342.2 733.2 2344.1 733.7 2346 734.3 2348 734.8 2349.9 735.2 2351.8 735.6 2353.8 736 2355.7 736.3 2357.6 736.6 2359.6 736.8 2361.5 737 2363.4 737.2 2365.4 737.4 2367.3 737.5 2369.2 737.6 2371.2 737.7 2373.1 737.7 2375 737.8 2377 737.8 2378.9 737.8 2380.8 737.7 2382.8 737.7 2384.7 737.7 2386.6 737.6 2388.6 737.5 2390.5 737.5 2392.4 737.4 2394.4 737.3 2396.3 737.2 2398.2 737.2 2400.2 737.1 2402.1 737 2404 737 2406 736.9 2407.9 736.9 2409.8 736.8 2411.8 736.8 2413.7 736.8 2415.6 736.8 2417.6 736.8 2419.5 736.9 2421.4 736.9 2423.4 737 2425.3 737.1 2427.2 737.2 2429.2 737.3 2431.1 737.4 2433 737.5 2435 737.6 2436.9 737.8 2438.8 737.9 2440.8 738.1 2442.7 738.3 2444.6 738.4 2446.6 738.6 2448.5 738.8 2450.4 739 2452.4 739.3 2454.3 739.5 2456.2 739.7 2458.2 739.9 2460.1 740.2 2462 740.4 2464 740.6 2465.9 740.9 2467.8 741.1 2469.8 741.4 2471.7 741.7 2473.6 741.9 2475.6 742.2 2477.5 742.4 2479.4 742.7 2481.4 743" fill="none" stroke="#000000" stroke-width="3.3" stroke-linecap="round" stroke-linejoin="round"/>
<rect x="1496.9" y="843" width="20.4" height="20.4" fill="#000000"/><rect x="1566.5" y="834.9" width="20.4" height="20.4" fill="#000000"/><rect x="1636.1" y="310.7" width="20.4" height="20.4" fill="#000000"/><rect x="1705.7" y="837.4" width="20.4" height="20.4" fill="#000000"/><rect x="1775.2" y="528.6" width="20.4" height="20.4" fill="#000000"/><rect x="1844.8" y="541.2" width="20.4" height="20.4" fill="#000000"/><rect x="1914.4" y="599.6" width="20.4" height="20.4" fill="#000000"/><rect x="1984" y="643.3" width="20.4" height="20.4" fill="#000000"/><rect x="2053.6" y="671.6" width="20.4" height="20.4" fill="#000000"/><rect x="2123.2" y="695.5" width="20.4" height="20.4" fill="#000000"/><rect x="2192.8" y="792.5" width="20.4" height="20.4" fill="#000000"/><rect x="2262.4" y="717.6" width="20.4" height="20.4" fill="#000000"/><rect x="2332" y="723" width="20.4" height="20.4" fill="#000000"/><rect x="2401.6" y="726.6" width="20.4" height="20.4" fill="#000000"/><rect x="2471.2" y="732.8" width="20.4" height="20.4" fill="#000000"/>
<path d="M1507.1 853.2 1509 860.5 1511 867.7 1512.9 874.9 1514.8 882 1516.8 888.9 1518.7 895.7 1520.6 902.3 1522.6 908.6 1524.5 914.7 1526.4 920.4 1528.4 925.8 1530.3 930.8 1532.2 935.5 1534.2 939.6 1536.1 943.3 1538 946.5 1540 949.2 1541.9 951.2 1543.8 952.7 1545.8 953.5 1547.7 953.6 1549.6 953 1551.6 951.7 1553.5 949.6 1555.4 946.6 1557.3 942.8 1559.3 938.1 1561.2 932.5 1563.1 925.9 1565.1 918.4 1567 909.8 1568.9 900.2 1570.9 889.5 1572.8 877.6 1574.7 864.6 1576.7 850.4 1578.6 835 1580.5 818.4 1582.5 800.8 1584.4 782.3 1586.3 762.8 1588.3 742.6 1590.2 721.6 1592.1 700.1 1594.1 678 1596 655.5 1597.9 632.7 1599.9 609.6 1601.8 586.3 1603.7 562.9 1605.7 539.5 1607.6 516.2 1609.5 493.1 1611.5 470.3 1613.4 447.8 1615.3 425.8 1617.3 404.3 1619.2 383.4 1621.1 363.2 1623.1 343.8 1625 325.3 1626.9 307.8 1628.9 291.3 1630.8 275.9 1632.7 261.8 1634.7 249.1 1636.6 237.7 1638.5 227.8 1640.5 219.5 1642.4 212.9 1644.3 208 1646.3 205 1648.2 203.9 1650.1 204.7 1652.1 207.2 1654 211.4 1655.9 217.1 1657.9 224.3 1659.8 233 1661.7 242.9 1663.7 254.1 1665.6 266.4 1667.5 279.7 1669.5 294 1671.4 309.1 1673.3 325 1675.3 341.6 1677.2 358.8 1679.1 376.4 1681.1 394.5 1683 412.9 1684.9 431.5 1686.9 450.3 1688.8 469.1 1690.7 487.9 1692.7 506.6 1694.6 525 1696.5 543.2 1698.5 560.9 1700.4 578.1 1702.3 594.8 1704.3 610.8 1706.2 626 1708.1 640.4 1710.1 653.9 1712 666.3 1713.9 677.6 1715.9 687.7 1717.8 696.6 1719.7 704.1 1721.7 710.5 1723.6 715.7 1725.5 719.9 1727.5 722.9 1729.4 725 1731.3 726.1 1733.3 726.3 1735.2 725.6 1737.1 724.1 1739.1 721.8 1741 718.9 1742.9 715.2 1744.9 710.9 1746.8 706 1748.7 700.7 1750.7 694.8 1752.6 688.5 1754.5 681.8 1756.5 674.7 1758.4 667.4 1760.3 659.8 1762.3 652.1 1764.2 644.2 1766.1 636.2 1768.1 628.1 1770 620.1 1771.9 612 1773.9 604.1 1775.8 596.3 1777.7 588.7 1779.7 581.4 1781.6 574.3 1783.5 567.6 1785.5 561.2 1787.4 555.3 1789.3 549.8 1791.2 544.7 1793.2 539.9 1795.1 535.6 1797 531.6 1799 528 1800.9 524.7 1802.8 521.8 1804.8 519.2 1806.7 516.9 1808.6 514.9 1810.6 513.1 1812.5 511.7 1814.4 510.5 1816.4 509.6 1818.3 508.9 1820.2 508.4 1822.2 508.2 1824.1 508.1 1826 508.3 1828 508.6 1829.9 509.1 1831.8 509.8 1833.8 510.6 1835.7 511.5 1837.6 512.6 1839.6 513.7 1841.5 515 1843.4 516.4 1845.4 517.8 1847.3 519.3 1849.2 520.8 1851.2 522.4 1853.1 524 1855 525.6 1857 527.2 1858.9 528.9 1860.8 530.5 1862.8 532.1 1864.7 533.8 1866.6 535.4 1868.6 537 1870.5 538.7 1872.4 540.3 1874.4 541.9 1876.3 543.6 1878.2 545.2 1880.2 546.9 1882.1 548.5 1884 550.1 1886 551.7 1887.9 553.4 1889.8 555 1891.8 556.6 1893.7 558.2 1895.6 559.8 1897.6 561.4 1899.5 563 1901.4 564.6 1903.4 566.2 1905.3 567.8 1907.2 569.4 1909.2 570.9 1911.1 572.5 1913 574 1915 575.6 1916.9 577.1 1918.8 578.6 1920.8 580.1 1922.7 581.6 1924.6 583.1 1926.6 584.6 1928.5 586 1930.4 587.5 1932.4 588.9 1934.3 590.4 1936.2 591.8 1938.2 593.2 1940.1 594.6 1942 596 1944 597.4 1945.9 598.8 1947.8 600.2 1949.8 601.5 1951.7 602.9 1953.6 604.2 1955.6 605.6 1957.5 606.9 1959.4 608.2 1961.4 609.6 1963.3 610.9 1965.2 612.2 1967.2 613.5 1969.1 614.8 1971 616.1 1973 617.4 1974.9 618.7 1976.8 619.9 1978.8 621.2 1980.7 622.5 1982.6 623.8 1984.6 625 1986.5 626.3 1988.4 627.6 1990.4 628.8 1992.3 630.1 1994.2 631.3 1996.2 632.6 1998.1 633.9 2000 635.1 2002 636.4 2003.9 637.6 2005.8 638.8 2007.8 640 2009.7 641.2 2011.6 642.4 2013.6 643.6 2015.5 644.7 2017.4 645.9 2019.3 647 2021.3 648.1 2023.2 649.1 2025.1 650.2 2027.1 651.2 2029 652.2 2030.9 653.1 2032.9 654 2034.8 654.9 2036.7 655.8 2038.7 656.6 2040.6 657.3 2042.5 658 2044.5 658.7 2046.4 659.4 2048.3 659.9 2050.3 660.5 2052.2 661 2054.1 661.4 2056.1 661.8 2058 662.1 2059.9 662.4 2061.9 662.6 2063.8 662.8 2065.7 662.9 2067.7 662.9 2069.6 662.9 2071.5 662.8 2073.5 662.8 2075.4 662.7 2077.3 662.5 2079.3 662.4 2081.2 662.3 2083.1 662.2 2085.1 662.1 2087 662 2088.9 662 2090.9 662 2092.8 662 2094.7 662.1 2096.7 662.3 2098.6 662.5 2100.5 662.8 2102.5 663.2 2104.4 663.7 2106.3 664.3 2108.3 665 2110.2 665.8 2112.1 666.8 2114.1 667.9 2116 669.1 2117.9 670.4 2119.9 672 2121.8 673.7 2123.7 675.5 2125.7 677.6 2127.6 679.8 2129.5 682.2 2131.5 684.9 2133.4 687.7 2135.3 690.8 2137.3 694 2139.2 697.5 2141.1 701.1 2143.1 704.9 2145 708.8 2146.9 712.9 2148.9 717 2150.8 721.3 2152.7 725.6 2154.7 730 2156.6 734.4 2158.5 738.9 2160.5 743.3 2162.4 747.8 2164.3 752.3 2166.3 756.7 2168.2 761.1 2170.1 765.4 2172.1 769.6 2174 773.7 2175.9 777.7 2177.9 781.6 2179.8 785.4 2181.7 789 2183.7 792.4 2185.6 795.6 2187.5 798.6 2189.5 801.4 2191.4 804 2193.3 806.3 2195.3 808.3 2197.2 810 2199.1 811.5 2201.1 812.6 2203 813.4 2204.9 813.8 2206.9 813.9 2208.8 813.7 2210.7 813.2 2212.7 812.4 2214.6 811.3 2216.5 810 2218.5 808.4 2220.4 806.6 2222.3 804.6 2224.3 802.4 2226.2 800 2228.1 797.5 2230.1 794.8 2232 792 2233.9 789 2235.9 785.9 2237.8 782.8 2239.7 779.6 2241.7 776.3 2243.6 773 2245.5 769.7 2247.5 766.3 2249.4 763 2251.3 759.6 2253.2 756.3 2255.2 753.1 2257.1 749.9 2259 746.8 2261 743.8 2262.9 740.9 2264.8 738.1 2266.8 735.5 2268.7 733.1 2270.6 730.8 2272.6 728.7 2274.5 726.8 2276.4 725.1 2278.4 723.5 2280.3 722.2 2282.2 721 2284.2 720.1 2286.1 719.2 2288 718.5 2290 718 2291.9 717.6 2293.8 717.4 2295.8 717.2 2297.7 717.2 2299.6 717.3 2301.6 717.5 2303.5 717.8 2305.4 718.2 2307.4 718.6 2309.3 719.2 2311.2 719.8 2313.2 720.4 2315.1 721.1 2317 721.9 2319 722.7 2320.9 723.5 2322.8 724.4 2324.8 725.2 2326.7 726.1 2328.6 727 2330.6 727.9 2332.5 728.7 2334.4 729.6 2336.4 730.4 2338.3 731.2 2340.2 731.9 2342.2 732.6 2344.1 733.2 2346 733.8 2348 734.4 2349.9 734.8 2351.8 735.3 2353.8 735.7 2355.7 736 2357.6 736.3 2359.6 736.6 2361.5 736.8 2363.4 737 2365.4 737.2 2367.3 737.3 2369.2 737.4 2371.2 737.5 2373.1 737.5 2375 737.5 2377 737.6 2378.9 737.5 2380.8 737.5 2382.8 737.5 2384.7 737.4 2386.6 737.3 2388.6 737.2 2390.5 737.1 2392.4 737 2394.4 736.9 2396.3 736.8 2398.2 736.7 2400.2 736.7 2402.1 736.6 2404 736.5 2406 736.4 2407.9 736.3 2409.8 736.3 2411.8 736.2 2413.7 736.2 2415.6 736.2 2417.6 736.2 2419.5 736.2 2421.4 736.3 2423.4 736.3 2425.3 736.4 2427.2 736.5 2429.2 736.6 2431.1 736.7 2433 736.8 2435 737 2436.9 737.1 2438.8 737.3 2440.8 737.4 2442.7 737.6 2444.6 737.8 2446.6 738 2448.5 738.2 2450.4 738.4 2452.4 738.6 2454.3 738.8 2456.2 739 2458.2 739.3 2460.1 739.5 2462 739.8 2464 740 2465.9 740.3 2467.8 740.5 2469.8 740.8 2471.7 741.1 2473.6 741.3 2475.6 741.6 2477.5 741.9 2479.4 742.1 2481.4 742.4" fill="none" stroke="#ff0000" stroke-width="3.3" stroke-linecap="round" stroke-linejoin="round"/>
<circle cx="1507.1" cy="853.2" r="10.8" fill="#ff0000"/><circle cx="1576.7" cy="850.4" r="10.8" fill="#ff0000"/><circle cx="1646.3" cy="205" r="10.8" fill="#ff0000"/><circle cx="1715.9" cy="687.7" r="10.8" fill="#ff0000"/><circle cx="1785.5" cy="561.2" r="10.8" fill="#ff0000"/><circle cx="1855" cy="525.6" r="10.8" fill="#ff0000"/><circle cx="1924.6" cy="583.1" r="10.8" fill="#ff0000"/><circle cx="1994.2" cy="631.3" r="10.8" fill="#ff0000"/><circle cx="2063.8" cy="662.8" r="10.8" fill="#ff0000"/><circle cx="2133.4" cy="687.7" r="10.8" fill="#ff0000"/><circle cx="2203" cy="813.4" r="10.8" fill="#ff0000"/><circle cx="2272.6" cy="728.7" r="10.8" fill="#ff0000"/><circle cx="2342.2" cy="732.6" r="10.8" fill="#ff0000"/><circle cx="2411.8" cy="736.2" r="10.8" fill="#ff0000"/><circle cx="2481.4" cy="742.4" r="10.8" fill="#ff0000"/>
<path d="M1507.1 853.2 1509 861.8 1511 870.3 1512.9 878.8 1514.8 887.1 1516.8 895.3 1518.7 903.2 1520.6 911 1522.6 918.4 1524.5 925.5 1526.4 932.3 1528.4 938.7 1530.3 944.6 1532.2 950 1534.2 955 1536.1 959.3 1538 963.1 1540 966.2 1541.9 968.7 1543.8 970.4 1545.8 971.3 1547.7 971.5 1549.6 970.8 1551.6 969.2 1553.5 966.8 1555.4 963.3 1557.3 958.8 1559.3 953.4 1561.2 946.8 1563.1 939.1 1565.1 930.2 1567 920.1 1568.9 908.8 1570.9 896.3 1572.8 882.3 1574.7 867.1 1576.7 850.4 1578.6 832.3 1580.5 812.9 1582.5 792.2 1584.4 770.3 1586.3 747.5 1588.3 723.6 1590.2 699 1592.1 673.5 1594.1 647.4 1596 620.8 1597.9 593.7 1599.9 566.3 1601.8 538.6 1603.7 510.7 1605.7 482.8 1607.6 454.9 1609.5 427.2 1611.5 399.7 1613.4 372.5 1615.3 345.8 1617.3 319.6 1619.2 294.1 1621.1 269.2 1623.1 245.2 1625 222.2 1626.9 200.1 1628.9 179.2 1630.8 159.5 1632.7 141.2 1634.7 124.2 1636.6 108.8 1638.5 95 1640.5 83 1642.4 72.7 1644.3 64.4 1646.3 58.1 1648.2 53.8 1650.1 51.6 1652.1 51.4 1654 53 1655.9 56.4 1657.9 61.4 1659.8 68 1661.7 76.2 1663.7 85.8 1665.6 96.7 1667.5 108.8 1669.5 122.1 1671.4 136.5 1673.3 151.9 1675.3 168.1 1677.2 185.2 1679.1 203 1681.1 221.4 1683 240.4 1684.9 259.8 1686.9 279.7 1688.8 299.8 1690.7 320.1 1692.7 340.5 1694.6 361 1696.5 381.4 1698.5 401.6 1700.4 421.6 1702.3 441.3 1704.3 460.6 1706.2 479.4 1708.1 497.6 1710.1 515.2 1712 531.9 1713.9 547.9 1715.9 562.9 1717.8 576.9 1719.7 590 1721.7 602 1723.6 613.2 1725.5 623.4 1727.5 632.8 1729.4 641.3 1731.3 649 1733.3 655.8 1735.2 662 1737.1 667.4 1739.1 672 1741 676 1742.9 679.4 1744.9 682.1 1746.8 684.2 1748.7 685.8 1750.7 686.8 1752.6 687.3 1754.5 687.3 1756.5 686.8 1758.4 685.9 1760.3 684.7 1762.3 683 1764.2 681 1766.1 678.7 1768.1 676 1770 673.2 1771.9 670 1773.9 666.7 1775.8 663.2 1777.7 659.6 1779.7 655.8 1781.6 651.9 1783.5 648 1785.5 644 1787.4 640 1789.3 636 1791.2 631.9 1793.2 627.9 1795.1 623.9 1797 620 1799 616 1800.9 612 1802.8 608.1 1804.8 604.3 1806.7 600.4 1808.6 596.6 1810.6 592.9 1812.5 589.2 1814.4 585.6 1816.4 582.1 1818.3 578.6 1820.2 575.2 1822.2 571.9 1824.1 568.7 1826 565.6 1828 562.5 1829.9 559.6 1831.8 556.8 1833.8 554.1 1835.7 551.6 1837.6 549.1 1839.6 546.8 1841.5 544.6 1843.4 542.6 1845.4 540.7 1847.3 539 1849.2 537.4 1851.2 536 1853.1 534.8 1855 533.7 1857 532.9 1858.9 532.2 1860.8 531.6 1862.8 531.3 1864.7 531 1866.6 531 1868.6 531.1 1870.5 531.3 1872.4 531.6 1874.4 532.1 1876.3 532.7 1878.2 533.4 1880.2 534.3 1882.1 535.2 1884 536.2 1886 537.3 1887.9 538.5 1889.8 539.8 1891.8 541.2 1893.7 542.6 1895.6 544 1897.6 545.6 1899.5 547.2 1901.4 548.8 1903.4 550.4 1905.3 552.1 1907.2 553.8 1909.2 555.6 1911.1 557.3 1913 559.1 1915 560.8 1916.9 562.6 1918.8 564.3 1920.8 566 1922.7 567.7 1924.6 569.4 1926.6 571 1928.5 572.6 1930.4 574.1 1932.4 575.7 1934.3 577.2 1936.2 578.6 1938.2 580.1 1940.1 581.5 1942 582.9 1944 584.2 1945.9 585.6 1947.8 586.9 1949.8 588.2 1951.7 589.5 1953.6 590.8 1955.6 592 1957.5 593.3 1959.4 594.5 1961.4 595.7 1963.3 596.9 1965.2 598.1 1967.2 599.3 1969.1 600.5 1971 601.6 1973 602.8 1974.9 604 1976.8 605.2 1978.8 606.3 1980.7 607.5 1982.6 608.7 1984.6 609.9 1986.5 611.1 1988.4 612.3 1990.4 613.5 1992.3 614.7 1994.2 615.9 1996.2 617.2 1998.1 618.4 2000 619.7 2002 620.9 2003.9 622.2 2005.8 623.5 2007.8 624.7 2009.7 626 2011.6 627.3 2013.6 628.5 2015.5 629.7 2017.4 630.9 2019.3 632.1 2021.3 633.3 2023.2 634.4 2025.1 635.5 2027.1 636.6 2029 637.7 2030.9 638.7 2032.9 639.7 2034.8 640.6 2036.7 641.5 2038.7 642.3 2040.6 643.1 2042.5 643.9 2044.5 644.6 2046.4 645.2 2048.3 645.8 2050.3 646.3 2052.2 646.7 2054.1 647.1 2056.1 647.4 2058 647.7 2059.9 647.8 2061.9 647.9 2063.8 647.9 2065.7 647.8 2067.7 647.6 2069.6 647.4 2071.5 647.1 2073.5 646.8 2075.4 646.5 2077.3 646.1 2079.3 645.7 2081.2 645.3 2083.1 644.9 2085.1 644.5 2087 644.1 2088.9 643.8 2090.9 643.5 2092.8 643.3 2094.7 643.1 2096.7 643 2098.6 643 2100.5 643 2102.5 643.2 2104.4 643.5 2106.3 643.9 2108.3 644.5 2110.2 645.2 2112.1 646 2114.1 647 2116 648.2 2117.9 649.5 2119.9 651.1 2121.8 652.8 2123.7 654.8 2125.7 657 2127.6 659.4 2129.5 662 2131.5 664.9 2133.4 668.1 2135.3 671.5 2137.3 675.2 2139.2 679.1 2141.1 683.2 2143.1 687.5 2145 692 2146.9 696.7 2148.9 701.5 2150.8 706.4 2152.7 711.4 2154.7 716.5 2156.6 721.7 2158.5 726.9 2160.5 732.2 2162.4 737.4 2164.3 742.7 2166.3 747.9 2168.2 753.1 2170.1 758.2 2172.1 763.2 2174 768.2 2175.9 773 2177.9 777.7 2179.8 782.2 2181.7 786.5 2183.7 790.7 2185.6 794.6 2187.5 798.4 2189.5 801.8 2191.4 805 2193.3 807.9 2195.3 810.5 2197.2 812.8 2199.1 814.8 2201.1 816.4 2203 817.6 2204.9 818.4 2206.9 818.8 2208.8 818.9 2210.7 818.6 2212.7 818 2214.6 817.1 2216.5 815.9 2218.5 814.4 2220.4 812.7 2222.3 810.7 2224.3 808.5 2226.2 806.1 2228.1 803.5 2230.1 800.7 2232 797.8 2233.9 794.7 2235.9 791.5 2237.8 788.2 2239.7 784.7 2241.7 781.3 2243.6 777.7 2245.5 774.2 2247.5 770.6 2249.4 767 2251.3 763.4 2253.2 759.9 2255.2 756.4 2257.1 752.9 2259 749.6 2261 746.3 2262.9 743.2 2264.8 740.2 2266.8 737.3 2268.7 734.6 2270.6 732.1 2272.6 729.8 2274.5 727.7 2276.4 725.8 2278.4 724.1 2280.3 722.6 2282.2 721.3 2284.2 720.2 2286.1 719.3 2288 718.5 2290 717.9 2291.9 717.4 2293.8 717.1 2295.8 716.9 2297.7 716.8 2299.6 716.8 2301.6 717 2303.5 717.2 2305.4 717.6 2307.4 718 2309.3 718.6 2311.2 719.1 2313.2 719.8 2315.1 720.5 2317 721.3 2319 722.1 2320.9 722.9 2322.8 723.8 2324.8 724.7 2326.7 725.6 2328.6 726.5 2330.6 727.4 2332.5 728.3 2334.4 729.2 2336.4 730 2338.3 730.8 2340.2 731.6 2342.2 732.3 2344.1 733 2346 733.6 2348 734.1 2349.9 734.6 2351.8 735.1 2353.8 735.5 2355.7 735.9 2357.6 736.2 2359.6 736.5 2361.5 736.7 2363.4 736.9 2365.4 737.1 2367.3 737.2 2369.2 737.3 2371.2 737.4 2373.1 737.5 2375 737.5 2377 737.5 2378.9 737.5 2380.8 737.5 2382.8 737.4 2384.7 737.3 2386.6 737.3 2388.6 737.2 2390.5 737.1 2392.4 737 2394.4 736.9 2396.3 736.8 2398.2 736.7 2400.2 736.6 2402.1 736.5 2404 736.5 2406 736.4 2407.9 736.3 2409.8 736.3 2411.8 736.2 2413.7 736.2 2415.6 736.2 2417.6 736.2 2419.5 736.3 2421.4 736.3 2423.4 736.4 2425.3 736.5 2427.2 736.6 2429.2 736.7 2431.1 736.8 2433 736.9 2435 737.1 2436.9 737.2 2438.8 737.4 2440.8 737.6 2442.7 737.8 2444.6 738 2446.6 738.2 2448.5 738.4 2450.4 738.6 2452.4 738.9 2454.3 739.1 2456.2 739.3 2458.2 739.6 2460.1 739.9 2462 740.1 2464 740.4 2465.9 740.7 2467.8 741 2469.8 741.2 2471.7 741.5 2473.6 741.8 2475.6 742.1 2477.5 742.4 2479.4 742.7 2481.4 743" fill="none" stroke="#0000ff" stroke-width="3.3" stroke-linecap="round" stroke-linejoin="round"/>
<polygon points="1507.1,838 1520.8,861.6 1493.4,861.6" fill="#0000ff"/><polygon points="1576.7,835.2 1590.4,858.8 1563,858.8" fill="#0000ff"/><polygon points="1646.3,42.9 1660,66.5 1632.6,66.5" fill="#0000ff"/><polygon points="1715.9,547.7 1729.6,571.3 1702.2,571.3" fill="#0000ff"/><polygon points="1785.5,628.7 1799.2,652.3 1771.8,652.3" fill="#0000ff"/><polygon points="1855,518.5 1868.7,542.1 1841.3,542.1" fill="#0000ff"/><polygon points="1924.6,554.1 1938.3,577.7 1910.9,577.7" fill="#0000ff"/><polygon points="1994.2,600.7 2007.9,624.3 1980.5,624.3" fill="#0000ff"/><polygon points="2063.8,632.7 2077.5,656.3 2050.1,656.3" fill="#0000ff"/><polygon points="2133.4,652.9 2147.1,676.5 2119.7,676.5" fill="#0000ff"/><polygon points="2203,802.4 2216.7,826 2189.3,826" fill="#0000ff"/><polygon points="2272.6,714.6 2286.3,738.2 2258.9,738.2" fill="#0000ff"/><polygon points="2342.2,717.1 2355.9,740.7 2328.5,740.7" fill="#0000ff"/><polygon points="2411.8,721 2425.5,744.6 2398.1,744.6" fill="#0000ff"/><polygon points="2481.4,727.7 2495.1,751.3 2467.7,751.3" fill="#0000ff"/>
<path d="M1507.1 850.4 1509 855.3 1511 860.3 1512.9 865.1 1514.8 869.9 1516.8 874.5 1518.7 879 1520.6 883.4 1522.6 887.5 1524.5 891.4 1526.4 895.1 1528.4 898.4 1530.3 901.4 1532.2 904.1 1534.2 906.4 1536.1 908.4 1538 909.8 1540 910.8 1541.9 911.3 1543.8 911.3 1545.8 910.8 1547.7 909.7 1549.6 907.9 1551.6 905.5 1553.5 902.5 1555.4 898.8 1557.3 894.3 1559.3 889.1 1561.2 883.1 1563.1 876.3 1565.1 868.7 1567 860.1 1568.9 850.7 1570.9 840.4 1572.8 829.1 1574.7 816.8 1576.7 803.6 1578.6 789.2 1580.5 773.9 1582.5 757.7 1584.4 740.7 1586.3 722.8 1588.3 704.2 1590.2 685 1592.1 665.1 1594.1 644.7 1596 623.8 1597.9 602.5 1599.9 580.8 1601.8 558.8 1603.7 536.6 1605.7 514.2 1607.6 491.7 1609.5 469.2 1611.5 446.7 1613.4 424.2 1615.3 401.9 1617.3 379.7 1619.2 357.9 1621.1 336.3 1623.1 315.2 1625 294.5 1626.9 274.3 1628.9 254.6 1630.8 235.7 1632.7 217.3 1634.7 199.8 1636.6 183.1 1638.5 167.2 1640.5 152.3 1642.4 138.4 1644.3 125.6 1646.3 113.9 1648.2 103.4 1650.1 94 1652.1 85.7 1654 78.4 1655.9 72.2 1657.9 66.9 1659.8 62.5 1661.7 59 1663.7 56.2 1665.6 54.3 1667.5 53 1669.5 52.4 1671.4 52.4 1673.3 53 1675.3 54.1 1677.2 55.7 1679.1 57.8 1681.1 60.1 1683 62.9 1684.9 65.9 1686.9 69.1 1688.8 72.5 1690.7 76.1 1692.7 79.8 1694.6 83.5 1696.5 87.2 1698.5 90.8 1700.4 94.3 1702.3 97.7 1704.3 100.9 1706.2 103.9 1708.1 106.5 1710.1 108.9 1712 110.8 1713.9 112.3 1715.9 113.3 1717.8 113.8 1719.7 113.8 1721.7 113.4 1723.6 112.4 1725.5 111.1 1727.5 109.4 1729.4 107.4 1731.3 105 1733.3 102.4 1735.2 99.5 1737.1 96.3 1739.1 93 1741 89.5 1742.9 85.9 1744.9 82.2 1746.8 78.4 1748.7 74.5 1750.7 70.7 1752.6 66.8 1754.5 63 1756.5 59.3 1758.4 55.7 1760.3 52.3 1762.3 49 1764.2 45.9 1766.1 43 1768.1 40.4 1770 38.1 1771.9 36.2 1773.9 34.5 1775.8 33.3 1777.7 32.5 1779.7 32.1 1781.6 32.2 1783.5 32.8 1785.5 34 1787.4 35.7 1789.3 37.9 1791.2 40.7 1793.2 43.9 1795.1 47.6 1797 51.8 1799 56.4 1800.9 61.4 1802.8 66.7 1804.8 72.4 1806.7 78.4 1808.6 84.7 1810.6 91.3 1812.5 98.1 1814.4 105.1 1816.4 112.4 1818.3 119.8 1820.2 127.3 1822.2 135 1824.1 142.8 1826 150.6 1828 158.5 1829.9 166.4 1831.8 174.3 1833.8 182.2 1835.7 190 1837.6 197.8 1839.6 205.4 1841.5 213 1843.4 220.3 1845.4 227.5 1847.3 234.5 1849.2 241.3 1851.2 247.8 1853.1 254.1 1855 260 1857 265.6 1858.9 270.9 1860.8 276 1862.8 280.7 1864.7 285.2 1866.6 289.4 1868.6 293.3 1870.5 297.1 1872.4 300.6 1874.4 303.9 1876.3 307 1878.2 309.9 1880.2 312.7 1882.1 315.4 1884 317.9 1886 320.2 1887.9 322.5 1889.8 324.7 1891.8 326.8 1893.7 328.8 1895.6 330.8 1897.6 332.7 1899.5 334.6 1901.4 336.5 1903.4 338.4 1905.3 340.3 1907.2 342.3 1909.2 344.3 1911.1 346.3 1913 348.4 1915 350.6 1916.9 352.9 1918.8 355.3 1920.8 357.8 1922.7 360.4 1924.6 363.2 1926.6 366.2 1928.5 369.3 1930.4 372.6 1932.4 376 1934.3 379.5 1936.2 383.2 1938.2 387 1940.1 390.9 1942 394.9 1944 399 1945.9 403.1 1947.8 407.4 1949.8 411.8 1951.7 416.2 1953.6 420.7 1955.6 425.2 1957.5 429.8 1959.4 434.4 1961.4 439 1963.3 443.7 1965.2 448.4 1967.2 453.1 1969.1 457.8 1971 462.5 1973 467.2 1974.9 471.8 1976.8 476.5 1978.8 481.1 1980.7 485.6 1982.6 490.2 1984.6 494.6 1986.5 499 1988.4 503.3 1990.4 507.6 1992.3 511.7 1994.2 515.8 1996.2 519.8 1998.1 523.6 2000 527.4 2002 531.1 2003.9 534.7 2005.8 538.2 2007.8 541.6 2009.7 544.9 2011.6 548.2 2013.6 551.4 2015.5 554.5 2017.4 557.5 2019.3 560.4 2021.3 563.3 2023.2 566.1 2025.1 568.9 2027.1 571.6 2029 574.2 2030.9 576.8 2032.9 579.3 2034.8 581.8 2036.7 584.3 2038.7 586.6 2040.6 589 2042.5 591.3 2044.5 593.5 2046.4 595.8 2048.3 597.9 2050.3 600.1 2052.2 602.2 2054.1 604.3 2056.1 606.4 2058 608.5 2059.9 610.5 2061.9 612.5 2063.8 614.5 2065.7 616.5 2067.7 618.5 2069.6 620.5 2071.5 622.4 2073.5 624.4 2075.4 626.3 2077.3 628.2 2079.3 630.1 2081.2 632 2083.1 633.9 2085.1 635.7 2087 637.6 2088.9 639.4 2090.9 641.3 2092.8 643.1 2094.7 644.9 2096.7 646.7 2098.6 648.4 2100.5 650.2 2102.5 651.9 2104.4 653.6 2106.3 655.3 2108.3 657 2110.2 658.7 2112.1 660.4 2114.1 662 2116 663.7 2117.9 665.3 2119.9 666.9 2121.8 668.5 2123.7 670 2125.7 671.6 2127.6 673.1 2129.5 674.6 2131.5 676.1 2133.4 677.6 2135.3 679.1 2137.3 680.5 2139.2 682 2141.1 683.4 2143.1 684.8 2145 686.2 2146.9 687.5 2148.9 688.9 2150.8 690.2 2152.7 691.5 2154.7 692.8 2156.6 694.1 2158.5 695.4 2160.5 696.6 2162.4 697.9 2164.3 699.1 2166.3 700.3 2168.2 701.5 2170.1 702.7 2172.1 703.8 2174 705 2175.9 706.1 2177.9 707.2 2179.8 708.3 2181.7 709.4 2183.7 710.4 2185.6 711.5 2187.5 712.5 2189.5 713.5 2191.4 714.5 2193.3 715.5 2195.3 716.5 2197.2 717.5 2199.1 718.4 2201.1 719.3 2203 720.3 2204.9 721.2 2206.9 722 2208.8 722.9 2210.7 723.8 2212.7 724.6 2214.6 725.5 2216.5 726.3 2218.5 727.1 2220.4 727.9 2222.3 728.7 2224.3 729.5 2226.2 730.3 2228.1 731.1 2230.1 731.9 2232 732.7 2233.9 733.4 2235.9 734.2 2237.8 735 2239.7 735.7 2241.7 736.5 2243.6 737.3 2245.5 738 2247.5 738.8 2249.4 739.5 2251.3 740.3 2253.2 741.1 2255.2 741.9 2257.1 742.6 2259 743.4 2261 744.2 2262.9 745 2264.8 745.8 2266.8 746.6 2268.7 747.5 2270.6 748.3 2272.6 749.1 2274.5 750 2276.4 750.9 2278.4 751.7 2280.3 752.6 2282.2 753.5 2284.2 754.4 2286.1 755.3 2288 756.2 2290 757.1 2291.9 758 2293.8 758.9 2295.8 759.8 2297.7 760.7 2299.6 761.6 2301.6 762.5 2303.5 763.4 2305.4 764.3 2307.4 765.2 2309.3 766.1 2311.2 766.9 2313.2 767.8 2315.1 768.6 2317 769.4 2319 770.3 2320.9 771.1 2322.8 771.8 2324.8 772.6 2326.7 773.4 2328.6 774.1 2330.6 774.8 2332.5 775.5 2334.4 776.2 2336.4 776.8 2338.3 777.4 2340.2 778 2342.2 778.6 2344.1 779.1 2346 779.6 2348 780.1 2349.9 780.6 2351.8 781 2353.8 781.5 2355.7 781.9 2357.6 782.2 2359.6 782.6 2361.5 782.9 2363.4 783.2 2365.4 783.5 2367.3 783.8 2369.2 784.1 2371.2 784.4 2373.1 784.6 2375 784.8 2377 785.1 2378.9 785.3 2380.8 785.5 2382.8 785.7 2384.7 785.8 2386.6 786 2388.6 786.2 2390.5 786.3 2392.4 786.5 2394.4 786.7 2396.3 786.8 2398.2 787 2400.2 787.1 2402.1 787.3 2404 787.5 2406 787.6 2407.9 787.8 2409.8 788 2411.8 788.1 2413.7 788.3 2415.6 788.5 2417.6 788.7 2419.5 788.9 2421.4 789.1 2423.4 789.3 2425.3 789.5 2427.2 789.7 2429.2 790 2431.1 790.2 2433 790.4 2435 790.7 2436.9 790.9 2438.8 791.2 2440.8 791.4 2442.7 791.7 2444.6 792 2446.6 792.2 2448.5 792.5 2450.4 792.8 2452.4 793 2454.3 793.3 2456.2 793.6 2458.2 793.9 2460.1 794.2 2462 794.4 2464 794.7 2465.9 795 2467.8 795.3 2469.8 795.6 2471.7 795.9 2473.6 796.2 2475.6 796.5 2477.5 796.8 2479.4 797.1 2481.4 797.4" fill="none" stroke="#000000" stroke-width="3.3" stroke-linecap="round" stroke-linejoin="round" stroke-dasharray="12.6 20"/>
<rect x="1497.7" y="841" width="18.8" height="18.8" fill="#fff" stroke="#000000" stroke-width="1.6"/><rect x="1567.3" y="794.2" width="18.8" height="18.8" fill="#fff" stroke="#000000" stroke-width="1.6"/><rect x="1636.9" y="104.5" width="18.8" height="18.8" fill="#fff" stroke="#000000" stroke-width="1.6"/><rect x="1706.5" y="103.9" width="18.8" height="18.8" fill="#fff" stroke="#000000" stroke-width="1.6"/><rect x="1776" y="24.6" width="18.8" height="18.8" fill="#fff" stroke="#000000" stroke-width="1.6"/><rect x="1845.6" y="250.6" width="18.8" height="18.8" fill="#fff" stroke="#000000" stroke-width="1.6"/><rect x="1915.2" y="353.8" width="18.8" height="18.8" fill="#fff" stroke="#000000" stroke-width="1.6"/><rect x="1984.8" y="506.4" width="18.8" height="18.8" fill="#fff" stroke="#000000" stroke-width="1.6"/><rect x="2054.4" y="605.1" width="18.8" height="18.8" fill="#fff" stroke="#000000" stroke-width="1.6"/><rect x="2124" y="668.2" width="18.8" height="18.8" fill="#fff" stroke="#000000" stroke-width="1.6"/><rect x="2193.6" y="710.9" width="18.8" height="18.8" fill="#fff" stroke="#000000" stroke-width="1.6"/><rect x="2263.2" y="739.7" width="18.8" height="18.8" fill="#fff" stroke="#000000" stroke-width="1.6"/><rect x="2332.8" y="769.2" width="18.8" height="18.8" fill="#fff" stroke="#000000" stroke-width="1.6"/><rect x="2402.4" y="778.7" width="18.8" height="18.8" fill="#fff" stroke="#000000" stroke-width="1.6"/><rect x="2472" y="788" width="18.8" height="18.8" fill="#fff" stroke="#000000" stroke-width="1.6"/>
<path d="M1507.1 853.2 1509 858.5 1511 863.8 1512.9 869 1514.8 874.2 1516.8 879.2 1518.7 884 1520.6 888.7 1522.6 893.2 1524.5 897.4 1526.4 901.4 1528.4 905.1 1530.3 908.4 1532.2 911.4 1534.2 913.9 1536.1 916.1 1538 917.8 1540 919 1541.9 919.7 1543.8 919.9 1545.8 919.5 1547.7 918.5 1549.6 916.8 1551.6 914.5 1553.5 911.5 1555.4 907.8 1557.3 903.3 1559.3 898.1 1561.2 892 1563.1 885.1 1565.1 877.3 1567 868.6 1568.9 859 1570.9 848.4 1572.8 836.8 1574.7 824.2 1576.7 810.6 1578.6 795.8 1580.5 780.1 1582.5 763.4 1584.4 745.9 1586.3 727.5 1588.3 708.5 1590.2 688.7 1592.1 668.4 1594.1 647.6 1596 626.4 1597.9 604.8 1599.9 582.9 1601.8 560.8 1603.7 538.6 1605.7 516.3 1607.6 494 1609.5 471.7 1611.5 449.6 1613.4 427.8 1615.3 406.2 1617.3 384.9 1619.2 364.2 1621.1 343.9 1623.1 324.2 1625 305.1 1626.9 286.8 1628.9 269.3 1630.8 252.6 1632.7 236.9 1634.7 222.2 1636.6 208.6 1638.5 196.1 1640.5 184.9 1642.4 175 1644.3 166.4 1646.3 159.3 1648.2 153.7 1650.1 149.6 1652.1 146.8 1654 145.3 1655.9 145.1 1657.9 146 1659.8 148 1661.7 151.1 1663.7 155.1 1665.6 159.9 1667.5 165.6 1669.5 172 1671.4 179.1 1673.3 186.7 1675.3 194.9 1677.2 203.6 1679.1 212.6 1681.1 221.9 1683 231.4 1684.9 241.2 1686.9 251 1688.8 260.8 1690.7 270.6 1692.7 280.2 1694.6 289.7 1696.5 298.9 1698.5 307.8 1700.4 316.2 1702.3 324.2 1704.3 331.7 1706.2 338.5 1708.1 344.6 1710.1 349.9 1712 354.5 1713.9 358.1 1715.9 360.7 1717.8 362.3 1719.7 362.9 1721.7 362.6 1723.6 361.4 1725.5 359.4 1727.5 356.6 1729.4 353.1 1731.3 348.9 1733.3 344.2 1735.2 338.9 1737.1 333.2 1739.1 327 1741 320.5 1742.9 313.6 1744.9 306.6 1746.8 299.3 1748.7 291.9 1750.7 284.4 1752.6 276.9 1754.5 269.4 1756.5 262 1758.4 254.8 1760.3 247.8 1762.3 241 1764.2 234.6 1766.1 228.6 1768.1 223 1770 217.9 1771.9 213.3 1773.9 209.4 1775.8 206.1 1777.7 203.5 1779.7 201.7 1781.6 200.8 1783.5 200.8 1785.5 201.7 1787.4 203.6 1789.3 206.4 1791.2 210.2 1793.2 214.9 1795.1 220.4 1797 226.8 1799 233.8 1800.9 241.6 1802.8 250.1 1804.8 259.1 1806.7 268.8 1808.6 279 1810.6 289.7 1812.5 300.9 1814.4 312.5 1816.4 324.4 1818.3 336.7 1820.2 349.2 1822.2 362 1824.1 375 1826 388.2 1828 401.5 1829.9 414.8 1831.8 428.2 1833.8 441.6 1835.7 454.9 1837.6 468.1 1839.6 481.1 1841.5 494 1843.4 506.7 1845.4 519.1 1847.3 531.2 1849.2 542.9 1851.2 554.2 1853.1 565.1 1855 575.5 1857 585.4 1858.9 594.8 1860.8 603.7 1862.8 612.1 1864.7 620.1 1866.6 627.6 1868.6 634.6 1870.5 641.3 1872.4 647.5 1874.4 653.4 1876.3 658.9 1878.2 664 1880.2 668.8 1882.1 673.2 1884 677.4 1886 681.2 1887.9 684.8 1889.8 688.1 1891.8 691.1 1893.7 693.9 1895.6 696.5 1897.6 698.9 1899.5 701 1901.4 703 1903.4 704.9 1905.3 706.5 1907.2 708.1 1909.2 709.5 1911.1 710.9 1913 712.1 1915 713.3 1916.9 714.4 1918.8 715.5 1920.8 716.5 1922.7 717.5 1924.6 718.6 1926.6 719.6 1928.5 720.7 1930.4 721.8 1932.4 722.9 1934.3 724 1936.2 725.1 1938.2 726.2 1940.1 727.4 1942 728.5 1944 729.7 1945.9 730.9 1947.8 732.1 1949.8 733.2 1951.7 734.4 1953.6 735.6 1955.6 736.8 1957.5 738 1959.4 739.2 1961.4 740.4 1963.3 741.6 1965.2 742.8 1967.2 744 1969.1 745.2 1971 746.4 1973 747.5 1974.9 748.7 1976.8 749.9 1978.8 751 1980.7 752.2 1982.6 753.3 1984.6 754.4 1986.5 755.5 1988.4 756.6 1990.4 757.7 1992.3 758.8 1994.2 759.8 1996.2 760.8 1998.1 761.8 2000 762.8 2002 763.8 2003.9 764.8 2005.8 765.7 2007.8 766.6 2009.7 767.5 2011.6 768.4 2013.6 769.3 2015.5 770.2 2017.4 771 2019.3 771.9 2021.3 772.7 2023.2 773.5 2025.1 774.3 2027.1 775.1 2029 775.9 2030.9 776.6 2032.9 777.4 2034.8 778.1 2036.7 778.8 2038.7 779.6 2040.6 780.3 2042.5 781 2044.5 781.7 2046.4 782.3 2048.3 783 2050.3 783.7 2052.2 784.3 2054.1 785 2056.1 785.6 2058 786.3 2059.9 786.9 2061.9 787.5 2063.8 788.1 2065.7 788.7 2067.7 789.3 2069.6 789.9 2071.5 790.5 2073.5 791.1 2075.4 791.7 2077.3 792.3 2079.3 792.9 2081.2 793.5 2083.1 794 2085.1 794.6 2087 795.1 2088.9 795.7 2090.9 796.2 2092.8 796.8 2094.7 797.3 2096.7 797.8 2098.6 798.4 2100.5 798.9 2102.5 799.4 2104.4 799.9 2106.3 800.4 2108.3 800.9 2110.2 801.4 2112.1 801.9 2114.1 802.4 2116 802.8 2117.9 803.3 2119.9 803.8 2121.8 804.2 2123.7 804.7 2125.7 805.2 2127.6 805.6 2129.5 806 2131.5 806.5 2133.4 806.9 2135.3 807.3 2137.3 807.8 2139.2 808.2 2141.1 808.6 2143.1 809 2145 809.4 2146.9 809.8 2148.9 810.2 2150.8 810.6 2152.7 811 2154.7 811.3 2156.6 811.7 2158.5 812.1 2160.5 812.4 2162.4 812.8 2164.3 813.1 2166.3 813.5 2168.2 813.8 2170.1 814.2 2172.1 814.5 2174 814.8 2175.9 815.1 2177.9 815.4 2179.8 815.7 2181.7 816.1 2183.7 816.3 2185.6 816.6 2187.5 816.9 2189.5 817.2 2191.4 817.5 2193.3 817.7 2195.3 818 2197.2 818.2 2199.1 818.5 2201.1 818.7 2203 819 2204.9 819.2 2206.9 819.4 2208.8 819.7 2210.7 819.9 2212.7 820.1 2214.6 820.3 2216.5 820.5 2218.5 820.7 2220.4 820.9 2222.3 821.1 2224.3 821.3 2226.2 821.4 2228.1 821.6 2230.1 821.8 2232 822 2233.9 822.1 2235.9 822.3 2237.8 822.5 2239.7 822.6 2241.7 822.8 2243.6 823 2245.5 823.1 2247.5 823.3 2249.4 823.4 2251.3 823.6 2253.2 823.8 2255.2 823.9 2257.1 824.1 2259 824.3 2261 824.4 2262.9 824.6 2264.8 824.7 2266.8 824.9 2268.7 825.1 2270.6 825.3 2272.6 825.4 2274.5 825.6 2276.4 825.8 2278.4 826 2280.3 826.1 2282.2 826.3 2284.2 826.5 2286.1 826.7 2288 826.9 2290 827.1 2291.9 827.3 2293.8 827.5 2295.8 827.7 2297.7 827.9 2299.6 828.1 2301.6 828.3 2303.5 828.5 2305.4 828.6 2307.4 828.8 2309.3 829 2311.2 829.2 2313.2 829.4 2315.1 829.6 2317 829.8 2319 830 2320.9 830.2 2322.8 830.4 2324.8 830.6 2326.7 830.8 2328.6 830.9 2330.6 831.1 2332.5 831.3 2334.4 831.5 2336.4 831.7 2338.3 831.8 2340.2 832 2342.2 832.2 2344.1 832.3 2346 832.5 2348 832.6 2349.9 832.8 2351.8 832.9 2353.8 833.1 2355.7 833.2 2357.6 833.4 2359.6 833.5 2361.5 833.7 2363.4 833.8 2365.4 833.9 2367.3 834.1 2369.2 834.2 2371.2 834.3 2373.1 834.4 2375 834.6 2377 834.7 2378.9 834.8 2380.8 834.9 2382.8 835 2384.7 835.1 2386.6 835.3 2388.6 835.4 2390.5 835.5 2392.4 835.6 2394.4 835.7 2396.3 835.8 2398.2 835.9 2400.2 836 2402.1 836.1 2404 836.2 2406 836.3 2407.9 836.4 2409.8 836.5 2411.8 836.6 2413.7 836.8 2415.6 836.9 2417.6 837 2419.5 837.1 2421.4 837.2 2423.4 837.3 2425.3 837.4 2427.2 837.5 2429.2 837.6 2431.1 837.7 2433 837.8 2435 837.9 2436.9 838 2438.8 838.1 2440.8 838.2 2442.7 838.3 2444.6 838.4 2446.6 838.5 2448.5 838.6 2450.4 838.7 2452.4 838.8 2454.3 838.9 2456.2 839 2458.2 839.1 2460.1 839.2 2462 839.3 2464 839.4 2465.9 839.5 2467.8 839.6 2469.8 839.7 2471.7 839.8 2473.6 839.9 2475.6 840 2477.5 840.1 2479.4 840.2 2481.4 840.3" fill="none" stroke="#ff0000" stroke-width="3.3" stroke-linecap="round" stroke-linejoin="round" stroke-dasharray="12.6 20"/>
<circle cx="1507.1" cy="853.2" r="10" fill="#fff" stroke="#ff0000" stroke-width="1.6"/><circle cx="1576.7" cy="810.6" r="10" fill="#fff" stroke="#ff0000" stroke-width="1.6"/><circle cx="1646.3" cy="159.3" r="10" fill="#fff" stroke="#ff0000" stroke-width="1.6"/><circle cx="1715.9" cy="360.7" r="10" fill="#fff" stroke="#ff0000" stroke-width="1.6"/><circle cx="1785.5" cy="201.7" r="10" fill="#fff" stroke="#ff0000" stroke-width="1.6"/><circle cx="1855" cy="575.5" r="10" fill="#fff" stroke="#ff0000" stroke-width="1.6"/><circle cx="1924.6" cy="718.6" r="10" fill="#fff" stroke="#ff0000" stroke-width="1.6"/><circle cx="1994.2" cy="759.8" r="10" fill="#fff" stroke="#ff0000" stroke-width="1.6"/><circle cx="2063.8" cy="788.1" r="10" fill="#fff" stroke="#ff0000" stroke-width="1.6"/><circle cx="2133.4" cy="806.9" r="10" fill="#fff" stroke="#ff0000" stroke-width="1.6"/><circle cx="2203" cy="819" r="10" fill="#fff" stroke="#ff0000" stroke-width="1.6"/><circle cx="2272.6" cy="825.4" r="10" fill="#fff" stroke="#ff0000" stroke-width="1.6"/><circle cx="2342.2" cy="832.2" r="10" fill="#fff" stroke="#ff0000" stroke-width="1.6"/><circle cx="2411.8" cy="836.6" r="10" fill="#fff" stroke="#ff0000" stroke-width="1.6"/><circle cx="2481.4" cy="840.3" r="10" fill="#fff" stroke="#ff0000" stroke-width="1.6"/>
<path d="M1507.1 853.2 1509 857.2 1511 861.2 1512.9 865.1 1514.8 869 1516.8 872.8 1518.7 876.4 1520.6 879.8 1522.6 883.1 1524.5 886.2 1526.4 889 1528.4 891.5 1530.3 893.8 1532.2 895.7 1534.2 897.3 1536.1 898.5 1538 899.3 1540 899.7 1541.9 899.6 1543.8 899 1545.8 897.9 1547.7 896.3 1549.6 894.1 1551.6 891.4 1553.5 888 1555.4 884 1557.3 879.3 1559.3 873.9 1561.2 867.8 1563.1 860.9 1565.1 853.2 1567 844.8 1568.9 835.5 1570.9 825.4 1572.8 814.3 1574.7 802.4 1576.7 789.5 1578.6 775.7 1580.5 761 1582.5 745.4 1584.4 729.1 1586.3 712.1 1588.3 694.5 1590.2 676.3 1592.1 657.6 1594.1 638.5 1596 619 1597.9 599.2 1599.9 579.3 1601.8 559.1 1603.7 538.9 1605.7 518.7 1607.6 498.5 1609.5 478.5 1611.5 458.6 1613.4 439 1615.3 419.7 1617.3 400.8 1619.2 382.4 1621.1 364.5 1623.1 347.2 1625 330.5 1626.9 314.6 1628.9 299.4 1630.8 285.2 1632.7 271.8 1634.7 259.5 1636.6 248.3 1638.5 238.1 1640.5 229.2 1642.4 221.6 1644.3 215.3 1646.3 210.4 1648.2 206.9 1650.1 204.9 1652.1 204.2 1654 204.7 1655.9 206.4 1657.9 209.3 1659.8 213.1 1661.7 218 1663.7 223.7 1665.6 230.3 1667.5 237.6 1669.5 245.5 1671.4 254.1 1673.3 263.2 1675.3 272.8 1677.2 282.7 1679.1 292.9 1681.1 303.4 1683 314 1684.9 324.7 1686.9 335.5 1688.8 346.2 1690.7 356.7 1692.7 367.1 1694.6 377.1 1696.5 386.8 1698.5 396.1 1700.4 404.9 1702.3 413.2 1704.3 420.8 1706.2 427.7 1708.1 433.7 1710.1 439 1712 443.3 1713.9 446.6 1715.9 448.8 1717.8 449.8 1719.7 449.8 1721.7 448.8 1723.6 446.8 1725.5 443.9 1727.5 440.2 1729.4 435.7 1731.3 430.6 1733.3 424.7 1735.2 418.4 1737.1 411.5 1739.1 404.1 1741 396.4 1742.9 388.4 1744.9 380.1 1746.8 371.7 1748.7 363.1 1750.7 354.5 1752.6 345.9 1754.5 337.4 1756.5 329 1758.4 320.8 1760.3 312.9 1762.3 305.3 1764.2 298.1 1766.1 291.4 1768.1 285.2 1770 279.6 1771.9 274.6 1773.9 270.4 1775.8 267 1777.7 264.4 1779.7 262.8 1781.6 262.1 1783.5 262.5 1785.5 263.9 1787.4 266.6 1789.3 270.3 1791.2 275.2 1793.2 281 1795.1 287.8 1797 295.5 1799 304 1800.9 313.4 1802.8 323.5 1804.8 334.3 1806.7 345.7 1808.6 357.7 1810.6 370.2 1812.5 383.2 1814.4 396.6 1816.4 410.4 1818.3 424.5 1820.2 438.8 1822.2 453.4 1824.1 468.1 1826 482.9 1828 497.7 1829.9 512.5 1831.8 527.3 1833.8 541.9 1835.7 556.4 1837.6 570.6 1839.6 584.5 1841.5 598.1 1843.4 611.3 1845.4 624.1 1847.3 636.4 1849.2 648.1 1851.2 659.2 1853.1 669.6 1855 679.3 1857 688.3 1858.9 696.5 1860.8 704 1862.8 710.8 1864.7 716.9 1866.6 722.4 1868.6 727.3 1870.5 731.7 1872.4 735.4 1874.4 738.6 1876.3 741.4 1878.2 743.6 1880.2 745.4 1882.1 746.8 1884 747.8 1886 748.4 1887.9 748.7 1889.8 748.7 1891.8 748.4 1893.7 747.8 1895.6 747 1897.6 745.9 1899.5 744.7 1901.4 743.4 1903.4 741.9 1905.3 740.3 1907.2 738.7 1909.2 737 1911.1 735.3 1913 733.6 1915 731.9 1916.9 730.3 1918.8 728.8 1920.8 727.4 1922.7 726.1 1924.6 725 1926.6 724.1 1928.5 723.4 1930.4 722.9 1932.4 722.5 1934.3 722.4 1936.2 722.3 1938.2 722.5 1940.1 722.8 1942 723.2 1944 723.7 1945.9 724.4 1947.8 725.2 1949.8 726.1 1951.7 727.1 1953.6 728.2 1955.6 729.4 1957.5 730.7 1959.4 732.1 1961.4 733.5 1963.3 735 1965.2 736.5 1967.2 738.1 1969.1 739.7 1971 741.4 1973 743 1974.9 744.8 1976.8 746.5 1978.8 748.2 1980.7 749.9 1982.6 751.6 1984.6 753.3 1986.5 754.9 1988.4 756.6 1990.4 758.2 1992.3 759.7 1994.2 761.2 1996.2 762.6 1998.1 764 2000 765.3 2002 766.6 2003.9 767.8 2005.8 769 2007.8 770.1 2009.7 771.1 2011.6 772.2 2013.6 773.1 2015.5 774.1 2017.4 775 2019.3 775.8 2021.3 776.7 2023.2 777.5 2025.1 778.2 2027.1 779 2029 779.7 2030.9 780.3 2032.9 781 2034.8 781.6 2036.7 782.2 2038.7 782.8 2040.6 783.4 2042.5 784 2044.5 784.5 2046.4 785.1 2048.3 785.6 2050.3 786.1 2052.2 786.7 2054.1 787.2 2056.1 787.7 2058 788.2 2059.9 788.7 2061.9 789.3 2063.8 789.8 2065.7 790.4 2067.7 790.9 2069.6 791.5 2071.5 792 2073.5 792.6 2075.4 793.2 2077.3 793.8 2079.3 794.4 2081.2 795 2083.1 795.6 2085.1 796.2 2087 796.8 2088.9 797.4 2090.9 798 2092.8 798.6 2094.7 799.2 2096.7 799.8 2098.6 800.4 2100.5 801 2102.5 801.5 2104.4 802.1 2106.3 802.7 2108.3 803.3 2110.2 803.9 2112.1 804.4 2114.1 805 2116 805.5 2117.9 806.1 2119.9 806.6 2121.8 807.1 2123.7 807.6 2125.7 808.1 2127.6 808.6 2129.5 809.1 2131.5 809.6 2133.4 810 2135.3 810.4 2137.3 810.9 2139.2 811.3 2141.1 811.7 2143.1 812 2145 812.4 2146.9 812.8 2148.9 813.1 2150.8 813.4 2152.7 813.7 2154.7 814.1 2156.6 814.4 2158.5 814.6 2160.5 814.9 2162.4 815.2 2164.3 815.5 2166.3 815.7 2168.2 816 2170.1 816.2 2172.1 816.4 2174 816.7 2175.9 816.9 2177.9 817.1 2179.8 817.3 2181.7 817.5 2183.7 817.7 2185.6 817.9 2187.5 818.1 2189.5 818.3 2191.4 818.5 2193.3 818.7 2195.3 818.8 2197.2 819 2199.1 819.2 2201.1 819.4 2203 819.5 2204.9 819.7 2206.9 819.9 2208.8 820.1 2210.7 820.2 2212.7 820.4 2214.6 820.6 2216.5 820.8 2218.5 820.9 2220.4 821.1 2222.3 821.3 2224.3 821.5 2226.2 821.6 2228.1 821.8 2230.1 822 2232 822.2 2233.9 822.3 2235.9 822.5 2237.8 822.7 2239.7 822.9 2241.7 823.1 2243.6 823.2 2245.5 823.4 2247.5 823.6 2249.4 823.8 2251.3 824 2253.2 824.1 2255.2 824.3 2257.1 824.5 2259 824.7 2261 824.9 2262.9 825.1 2264.8 825.2 2266.8 825.4 2268.7 825.6 2270.6 825.8 2272.6 826 2274.5 826.2 2276.4 826.4 2278.4 826.6 2280.3 826.8 2282.2 827 2284.2 827.1 2286.1 827.3 2288 827.5 2290 827.7 2291.9 827.9 2293.8 828.1 2295.8 828.3 2297.7 828.5 2299.6 828.7 2301.6 828.9 2303.5 829.1 2305.4 829.3 2307.4 829.5 2309.3 829.7 2311.2 829.9 2313.2 830.1 2315.1 830.2 2317 830.4 2319 830.6 2320.9 830.8 2322.8 831 2324.8 831.2 2326.7 831.4 2328.6 831.5 2330.6 831.7 2332.5 831.9 2334.4 832.1 2336.4 832.2 2338.3 832.4 2340.2 832.6 2342.2 832.7 2344.1 832.9 2346 833 2348 833.2 2349.9 833.3 2351.8 833.5 2353.8 833.6 2355.7 833.8 2357.6 833.9 2359.6 834.1 2361.5 834.2 2363.4 834.4 2365.4 834.5 2367.3 834.6 2369.2 834.8 2371.2 834.9 2373.1 835 2375 835.1 2377 835.3 2378.9 835.4 2380.8 835.5 2382.8 835.6 2384.7 835.7 2386.6 835.8 2388.6 836 2390.5 836.1 2392.4 836.2 2394.4 836.3 2396.3 836.4 2398.2 836.5 2400.2 836.6 2402.1 836.7 2404 836.8 2406 836.9 2407.9 837 2409.8 837.1 2411.8 837.2 2413.7 837.3 2415.6 837.4 2417.6 837.5 2419.5 837.6 2421.4 837.7 2423.4 837.8 2425.3 837.9 2427.2 838 2429.2 838 2431.1 838.1 2433 838.2 2435 838.3 2436.9 838.4 2438.8 838.5 2440.8 838.6 2442.7 838.7 2444.6 838.7 2446.6 838.8 2448.5 838.9 2450.4 839 2452.4 839.1 2454.3 839.2 2456.2 839.2 2458.2 839.3 2460.1 839.4 2462 839.5 2464 839.6 2465.9 839.7 2467.8 839.7 2469.8 839.8 2471.7 839.9 2473.6 840 2475.6 840.1 2477.5 840.1 2479.4 840.2 2481.4 840.3" fill="none" stroke="#0000ff" stroke-width="3.3" stroke-linecap="round" stroke-linejoin="round" stroke-dasharray="12.6 20"/>
<polygon points="1507.1,839.1 1519.8,860.9 1494.4,860.9" fill="#fff" stroke="#0000ff" stroke-width="1.6"/><polygon points="1576.7,775.5 1589.4,797.3 1564,797.3" fill="#fff" stroke="#0000ff" stroke-width="1.6"/><polygon points="1646.3,196.3 1659,218.1 1633.6,218.1" fill="#fff" stroke="#0000ff" stroke-width="1.6"/><polygon points="1715.9,434.7 1728.6,456.5 1703.2,456.5" fill="#fff" stroke="#0000ff" stroke-width="1.6"/><polygon points="1785.5,249.9 1798.2,271.7 1772.8,271.7" fill="#fff" stroke="#0000ff" stroke-width="1.6"/><polygon points="1855,665.2 1867.7,687 1842.3,687" fill="#fff" stroke="#0000ff" stroke-width="1.6"/><polygon points="1924.6,711 1937.3,732.8 1911.9,732.8" fill="#fff" stroke="#0000ff" stroke-width="1.6"/><polygon points="1994.2,747.1 2006.9,768.9 1981.5,768.9" fill="#fff" stroke="#0000ff" stroke-width="1.6"/><polygon points="2063.8,775.7 2076.5,797.5 2051.1,797.5" fill="#fff" stroke="#0000ff" stroke-width="1.6"/><polygon points="2133.4,795.9 2146.1,817.7 2120.7,817.7" fill="#fff" stroke="#0000ff" stroke-width="1.6"/><polygon points="2203,805.5 2215.7,827.3 2190.3,827.3" fill="#fff" stroke="#0000ff" stroke-width="1.6"/><polygon points="2272.6,811.9 2285.3,833.7 2259.9,833.7" fill="#fff" stroke="#0000ff" stroke-width="1.6"/><polygon points="2342.2,818.7 2354.9,840.5 2329.5,840.5" fill="#fff" stroke="#0000ff" stroke-width="1.6"/><polygon points="2411.8,823.1 2424.5,844.9 2399.1,844.9" fill="#fff" stroke="#0000ff" stroke-width="1.6"/><polygon points="2481.4,826.2 2494.1,848 2468.7,848" fill="#fff" stroke="#0000ff" stroke-width="1.6"/>
<path d="M1507.1 853.2 1509 851.5 1511 849.9 1512.9 848.3 1514.8 846.7 1516.8 845.1 1518.7 843.6 1520.6 842.1 1522.6 840.6 1524.5 839.3 1526.4 838 1528.4 836.7 1530.3 835.6 1532.2 834.5 1534.2 833.6 1536.1 832.7 1538 832 1540 831.4 1541.9 830.9 1543.8 830.6 1545.8 830.4 1547.7 830.3 1549.6 830.4 1551.6 830.7 1553.5 831.2 1555.4 831.8 1557.3 832.7 1559.3 833.7 1561.2 834.9 1563.1 836.4 1565.1 838.1 1567 840 1568.9 842.1 1570.9 844.5 1572.8 847.1 1574.7 850 1576.7 853.2 1578.6 856.6 1580.5 860.3 1582.5 864.2 1584.4 868.2 1586.3 872.3 1588.3 876.5 1590.2 880.8 1592.1 885 1594.1 889.3 1596 893.4 1597.9 897.4 1599.9 901.2 1601.8 904.9 1603.7 908.3 1605.7 911.4 1607.6 914.2 1609.5 916.7 1611.5 918.7 1613.4 920.4 1615.3 921.5 1617.3 922.1 1619.2 922.2 1621.1 921.7 1623.1 920.5 1625 918.6 1626.9 916.1 1628.9 912.8 1630.8 908.7 1632.7 903.7 1634.7 897.9 1636.6 891.2 1638.5 883.5 1640.5 874.9 1642.4 865.2 1644.3 854.4 1646.3 842.5 1648.2 829.5 1650.1 815.5 1652.1 800.4 1654 784.4 1655.9 767.6 1657.9 750.1 1659.8 731.8 1661.7 713 1663.7 693.7 1665.6 674 1667.5 653.9 1669.5 633.5 1671.4 613 1673.3 592.4 1675.3 571.7 1677.2 551.1 1679.1 530.6 1681.1 510.4 1683 490.4 1684.9 470.8 1686.9 451.7 1688.8 433.1 1690.7 415.2 1692.7 397.9 1694.6 381.4 1696.5 365.8 1698.5 351.1 1700.4 337.4 1702.3 324.9 1704.3 313.5 1706.2 303.4 1708.1 294.6 1710.1 287.3 1712 281.4 1713.9 277.2 1715.9 274.6 1717.8 273.7 1719.7 274.5 1721.7 276.9 1723.6 280.8 1725.5 286.2 1727.5 292.9 1729.4 300.9 1731.3 310.1 1733.3 320.5 1735.2 332 1737.1 344.4 1739.1 357.7 1741 371.9 1742.9 386.9 1744.9 402.5 1746.8 418.8 1748.7 435.6 1750.7 452.8 1752.6 470.5 1754.5 488.4 1756.5 506.6 1758.4 525 1760.3 543.4 1762.3 561.9 1764.2 580.3 1766.1 598.5 1768.1 616.5 1770 634.3 1771.9 651.7 1773.9 668.6 1775.8 685 1777.7 700.8 1779.7 716 1781.6 730.4 1783.5 744 1785.5 756.7 1787.4 768.5 1789.3 779.3 1791.2 789.2 1793.2 798.2 1795.1 806.4 1797 813.7 1799 820.2 1800.9 826 1802.8 831.1 1804.8 835.4 1806.7 839.1 1808.6 842.1 1810.6 844.5 1812.5 846.3 1814.4 847.5 1816.4 848.3 1818.3 848.5 1820.2 848.2 1822.2 847.5 1824.1 846.4 1826 844.9 1828 843.1 1829.9 840.9 1831.8 838.4 1833.8 835.7 1835.7 832.7 1837.6 829.5 1839.6 826.1 1841.5 822.6 1843.4 819 1845.4 815.3 1847.3 811.5 1849.2 807.6 1851.2 803.8 1853.1 800 1855 796.3 1857 792.6 1858.9 789 1860.8 785.5 1862.8 782.1 1864.7 778.8 1866.6 775.5 1868.6 772.4 1870.5 769.3 1872.4 766.3 1874.4 763.5 1876.3 760.7 1878.2 758 1880.2 755.4 1882.1 752.9 1884 750.5 1886 748.1 1887.9 745.9 1889.8 743.8 1891.8 741.8 1893.7 739.8 1895.6 738 1897.6 736.3 1899.5 734.7 1901.4 733.1 1903.4 731.7 1905.3 730.4 1907.2 729.2 1909.2 728.1 1911.1 727.1 1913 726.2 1915 725.4 1916.9 724.7 1918.8 724.1 1920.8 723.7 1922.7 723.3 1924.6 723.1 1926.6 722.9 1928.5 722.9 1930.4 723 1932.4 723.2 1934.3 723.4 1936.2 723.8 1938.2 724.2 1940.1 724.8 1942 725.4 1944 726.1 1945.9 726.8 1947.8 727.6 1949.8 728.5 1951.7 729.4 1953.6 730.4 1955.6 731.4 1957.5 732.5 1959.4 733.6 1961.4 734.8 1963.3 735.9 1965.2 737.2 1967.2 738.4 1969.1 739.6 1971 740.9 1973 742.1 1974.9 743.4 1976.8 744.7 1978.8 745.9 1980.7 747.2 1982.6 748.4 1984.6 749.6 1986.5 750.8 1988.4 752 1990.4 753.1 1992.3 754.2 1994.2 755.3 1996.2 756.3 1998.1 757.3 2000 758.3 2002 759.2 2003.9 760 2005.8 760.9 2007.8 761.6 2009.7 762.4 2011.6 763.1 2013.6 763.8 2015.5 764.4 2017.4 765.1 2019.3 765.6 2021.3 766.2 2023.2 766.7 2025.1 767.2 2027.1 767.7 2029 768.1 2030.9 768.5 2032.9 768.9 2034.8 769.3 2036.7 769.6 2038.7 770 2040.6 770.3 2042.5 770.6 2044.5 770.8 2046.4 771.1 2048.3 771.3 2050.3 771.5 2052.2 771.7 2054.1 771.9 2056.1 772.1 2058 772.3 2059.9 772.4 2061.9 772.6 2063.8 772.7 2065.7 772.8 2067.7 773 2069.6 773.1 2071.5 773.2 2073.5 773.3 2075.4 773.4 2077.3 773.6 2079.3 773.7 2081.2 773.8 2083.1 774 2085.1 774.1 2087 774.3 2088.9 774.5 2090.9 774.7 2092.8 774.9 2094.7 775.1 2096.7 775.4 2098.6 775.6 2100.5 776 2102.5 776.3 2104.4 776.6 2106.3 777 2108.3 777.5 2110.2 777.9 2112.1 778.4 2114.1 778.9 2116 779.5 2117.9 780.1 2119.9 780.8 2121.8 781.5 2123.7 782.2 2125.7 783 2127.6 783.9 2129.5 784.8 2131.5 785.7 2133.4 786.7 2135.3 787.8 2137.3 788.9 2139.2 790.1 2141.1 791.3 2143.1 792.5 2145 793.8 2146.9 795.1 2148.9 796.5 2150.8 797.8 2152.7 799.2 2154.7 800.6 2156.6 802 2158.5 803.4 2160.5 804.8 2162.4 806.2 2164.3 807.5 2166.3 808.9 2168.2 810.2 2170.1 811.5 2172.1 812.8 2174 814.1 2175.9 815.3 2177.9 816.4 2179.8 817.6 2181.7 818.6 2183.7 819.6 2185.6 820.6 2187.5 821.4 2189.5 822.2 2191.4 823 2193.3 823.6 2195.3 824.2 2197.2 824.6 2199.1 825 2201.1 825.3 2203 825.4 2204.9 825.5 2206.9 825.4 2208.8 825.3 2210.7 825.1 2212.7 824.7 2214.6 824.3 2216.5 823.8 2218.5 823.3 2220.4 822.6 2222.3 821.9 2224.3 821.2 2226.2 820.4 2228.1 819.5 2230.1 818.6 2232 817.7 2233.9 816.7 2235.9 815.7 2237.8 814.6 2239.7 813.6 2241.7 812.5 2243.6 811.4 2245.5 810.3 2247.5 809.3 2249.4 808.2 2251.3 807.1 2253.2 806 2255.2 805 2257.1 804 2259 803 2261 802.1 2262.9 801.2 2264.8 800.3 2266.8 799.5 2268.7 798.7 2270.6 798 2272.6 797.4 2274.5 796.8 2276.4 796.3 2278.4 795.9 2280.3 795.5 2282.2 795.2 2284.2 794.9 2286.1 794.7 2288 794.6 2290 794.4 2291.9 794.4 2293.8 794.4 2295.8 794.4 2297.7 794.5 2299.6 794.6 2301.6 794.7 2303.5 794.9 2305.4 795.1 2307.4 795.3 2309.3 795.6 2311.2 795.8 2313.2 796.1 2315.1 796.5 2317 796.8 2319 797.1 2320.9 797.5 2322.8 797.8 2324.8 798.2 2326.7 798.6 2328.6 798.9 2330.6 799.3 2332.5 799.7 2334.4 800 2336.4 800.4 2338.3 800.7 2340.2 801 2342.2 801.3 2344.1 801.6 2346 801.9 2348 802.1 2349.9 802.3 2351.8 802.5 2353.8 802.7 2355.7 802.9 2357.6 803.1 2359.6 803.2 2361.5 803.4 2363.4 803.5 2365.4 803.6 2367.3 803.7 2369.2 803.8 2371.2 803.8 2373.1 803.9 2375 804 2377 804 2378.9 804.1 2380.8 804.1 2382.8 804.1 2384.7 804.1 2386.6 804.2 2388.6 804.2 2390.5 804.2 2392.4 804.2 2394.4 804.2 2396.3 804.2 2398.2 804.2 2400.2 804.1 2402.1 804.1 2404 804.1 2406 804.1 2407.9 804.1 2409.8 804.1 2411.8 804.1 2413.7 804.1 2415.6 804.1 2417.6 804.1 2419.5 804.1 2421.4 804.2 2423.4 804.2 2425.3 804.2 2427.2 804.2 2429.2 804.2 2431.1 804.3 2433 804.3 2435 804.3 2436.9 804.4 2438.8 804.4 2440.8 804.4 2442.7 804.5 2444.6 804.5 2446.6 804.6 2448.5 804.6 2450.4 804.6 2452.4 804.7 2454.3 804.7 2456.2 804.8 2458.2 804.8 2460.1 804.9 2462 804.9 2464 805 2465.9 805.1 2467.8 805.1 2469.8 805.2 2471.7 805.2 2473.6 805.3 2475.6 805.3 2477.5 805.4 2479.4 805.5 2481.4 805.5" fill="none" stroke="#000000" stroke-width="3.3" stroke-linecap="round" stroke-linejoin="round" stroke-dasharray="0.1 6.55"/>
<polygon points="1491.5,853.2 1515.7,839.7 1515.7,866.7" fill="#000000"/><polygon points="1561.1,853.2 1585.3,839.7 1585.3,866.7" fill="#000000"/><polygon points="1630.7,842.5 1654.9,829 1654.9,856" fill="#000000"/><polygon points="1700.3,274.6 1724.5,261.1 1724.5,288.1" fill="#000000"/><polygon points="1769.8,756.7 1794,743.2 1794,770.2" fill="#000000"/><polygon points="1839.4,796.3 1863.6,782.8 1863.6,809.8" fill="#000000"/><polygon points="1909,723.1 1933.2,709.6 1933.2,736.6" fill="#000000"/><polygon points="1978.6,755.3 2002.8,741.8 2002.8,768.8" fill="#000000"/><polygon points="2048.2,772.7 2072.4,759.2 2072.4,786.2" fill="#000000"/><polygon points="2117.8,786.7 2142,773.2 2142,800.2" fill="#000000"/><polygon points="2187.4,825.4 2211.6,811.9 2211.6,838.9" fill="#000000"/><polygon points="2257,797.4 2281.2,783.9 2281.2,810.9" fill="#000000"/><polygon points="2326.6,801.3 2350.8,787.8 2350.8,814.8" fill="#000000"/><polygon points="2396.2,804.1 2420.4,790.6 2420.4,817.6" fill="#000000"/><polygon points="2465.7,805.5 2489.9,792 2489.9,819" fill="#000000"/>
<path d="M1507.1 853.2 1509 852.1 1511 851.1 1512.9 850 1514.8 849 1516.8 847.9 1518.7 846.9 1520.6 846 1522.6 845 1524.5 844.1 1526.4 843.3 1528.4 842.5 1530.3 841.7 1532.2 841.1 1534.2 840.4 1536.1 839.9 1538 839.4 1540 839 1541.9 838.7 1543.8 838.5 1545.8 838.4 1547.7 838.3 1549.6 838.4 1551.6 838.6 1553.5 838.9 1555.4 839.3 1557.3 839.8 1559.3 840.5 1561.2 841.3 1563.1 842.3 1565.1 843.4 1567 844.6 1568.9 846 1570.9 847.5 1572.8 849.3 1574.7 851.1 1576.7 853.2 1578.6 855.4 1580.5 857.8 1582.5 860.3 1584.4 862.9 1586.3 865.6 1588.3 868.4 1590.2 871.2 1592.1 873.9 1594.1 876.7 1596 879.4 1597.9 882 1599.9 884.6 1601.8 887 1603.7 889.2 1605.7 891.3 1607.6 893.2 1609.5 894.9 1611.5 896.3 1613.4 897.5 1615.3 898.3 1617.3 898.8 1619.2 899 1621.1 898.8 1623.1 898.2 1625 897.1 1626.9 895.6 1628.9 893.7 1630.8 891.2 1632.7 888.2 1634.7 884.7 1636.6 880.5 1638.5 875.8 1640.5 870.5 1642.4 864.5 1644.3 857.8 1646.3 850.4 1648.2 842.3 1650.1 833.5 1652.1 824 1654 814 1655.9 803.3 1657.9 792.2 1659.8 780.5 1661.7 768.4 1663.7 755.8 1665.6 742.9 1667.5 729.6 1669.5 716 1671.4 702.1 1673.3 688 1675.3 673.7 1677.2 659.2 1679.1 644.7 1681.1 630 1683 615.3 1684.9 600.6 1686.9 586 1688.8 571.4 1690.7 556.9 1692.7 542.6 1694.6 528.4 1696.5 514.5 1698.5 500.8 1700.4 487.5 1702.3 474.5 1704.3 461.8 1706.2 449.6 1708.1 437.8 1710.1 426.5 1712 415.8 1713.9 405.6 1715.9 396 1717.8 387.1 1719.7 378.8 1721.7 371.1 1723.6 364 1725.5 357.5 1727.5 351.6 1729.4 346.2 1731.3 341.3 1733.3 337 1735.2 333.2 1737.1 329.9 1739.1 327.1 1741 324.7 1742.9 322.8 1744.9 321.4 1746.8 320.3 1748.7 319.7 1750.7 319.5 1752.6 319.6 1754.5 320.1 1756.5 321 1758.4 322.2 1760.3 323.7 1762.3 325.5 1764.2 327.6 1766.1 330 1768.1 332.6 1770 335.5 1771.9 338.6 1773.9 342 1775.8 345.5 1777.7 349.2 1779.7 353.1 1781.6 357.2 1783.5 361.4 1785.5 365.7 1787.4 370.2 1789.3 374.7 1791.2 379.4 1793.2 384.2 1795.1 389 1797 393.9 1799 398.9 1800.9 404 1802.8 409.1 1804.8 414.3 1806.7 419.5 1808.6 424.8 1810.6 430.1 1812.5 435.4 1814.4 440.8 1816.4 446.2 1818.3 451.6 1820.2 456.9 1822.2 462.3 1824.1 467.7 1826 473.1 1828 478.4 1829.9 483.7 1831.8 489 1833.8 494.2 1835.7 499.4 1837.6 504.6 1839.6 509.6 1841.5 514.6 1843.4 519.6 1845.4 524.4 1847.3 529.2 1849.2 533.8 1851.2 538.4 1853.1 542.9 1855 547.2 1857 551.4 1858.9 555.5 1860.8 559.5 1862.8 563.4 1864.7 567.2 1866.6 570.9 1868.6 574.4 1870.5 577.9 1872.4 581.3 1874.4 584.5 1876.3 587.7 1878.2 590.8 1880.2 593.8 1882.1 596.7 1884 599.6 1886 602.3 1887.9 605 1889.8 607.6 1891.8 610.2 1893.7 612.6 1895.6 615 1897.6 617.4 1899.5 619.7 1901.4 621.9 1903.4 624.1 1905.3 626.2 1907.2 628.2 1909.2 630.3 1911.1 632.2 1913 634.2 1915 636.1 1916.9 637.9 1918.8 639.8 1920.8 641.6 1922.7 643.3 1924.6 645.1 1926.6 646.8 1928.5 648.5 1930.4 650.2 1932.4 651.9 1934.3 653.5 1936.2 655.1 1938.2 656.7 1940.1 658.3 1942 659.9 1944 661.4 1945.9 662.9 1947.8 664.4 1949.8 665.9 1951.7 667.4 1953.6 668.8 1955.6 670.3 1957.5 671.7 1959.4 673.1 1961.4 674.4 1963.3 675.8 1965.2 677.2 1967.2 678.5 1969.1 679.8 1971 681.1 1973 682.4 1974.9 683.7 1976.8 684.9 1978.8 686.1 1980.7 687.4 1982.6 688.6 1984.6 689.8 1986.5 691 1988.4 692.1 1990.4 693.3 1992.3 694.4 1994.2 695.6 1996.2 696.7 1998.1 697.8 2000 698.9 2002 700 2003.9 701.1 2005.8 702.1 2007.8 703.1 2009.7 704.2 2011.6 705.2 2013.6 706.2 2015.5 707.1 2017.4 708.1 2019.3 709 2021.3 709.9 2023.2 710.8 2025.1 711.7 2027.1 712.5 2029 713.3 2030.9 714.1 2032.9 714.9 2034.8 715.6 2036.7 716.3 2038.7 717 2040.6 717.7 2042.5 718.3 2044.5 719 2046.4 719.5 2048.3 720.1 2050.3 720.6 2052.2 721.1 2054.1 721.6 2056.1 722 2058 722.4 2059.9 722.7 2061.9 723.1 2063.8 723.3 2065.7 723.6 2067.7 723.8 2069.6 724 2071.5 724.2 2073.5 724.3 2075.4 724.5 2077.3 724.6 2079.3 724.7 2081.2 724.9 2083.1 725 2085.1 725.1 2087 725.3 2088.9 725.5 2090.9 725.7 2092.8 725.9 2094.7 726.1 2096.7 726.4 2098.6 726.8 2100.5 727.1 2102.5 727.6 2104.4 728 2106.3 728.6 2108.3 729.2 2110.2 729.8 2112.1 730.6 2114.1 731.4 2116 732.3 2117.9 733.2 2119.9 734.3 2121.8 735.5 2123.7 736.7 2125.7 738.1 2127.6 739.6 2129.5 741.1 2131.5 742.8 2133.4 744.7 2135.3 746.6 2137.3 748.7 2139.2 750.8 2141.1 753.1 2143.1 755.4 2145 757.8 2146.9 760.3 2148.9 762.9 2150.8 765.5 2152.7 768.1 2154.7 770.8 2156.6 773.5 2158.5 776.2 2160.5 778.9 2162.4 781.6 2164.3 784.3 2166.3 787 2168.2 789.6 2170.1 792.2 2172.1 794.7 2174 797.2 2175.9 799.5 2177.9 801.9 2179.8 804.1 2181.7 806.2 2183.7 808.2 2185.6 810.1 2187.5 811.8 2189.5 813.5 2191.4 814.9 2193.3 816.2 2195.3 817.4 2197.2 818.3 2199.1 819.1 2201.1 819.7 2203 820.1 2204.9 820.3 2206.9 820.2 2208.8 820 2210.7 819.6 2212.7 819 2214.6 818.2 2216.5 817.3 2218.5 816.3 2220.4 815.1 2222.3 813.7 2224.3 812.3 2226.2 810.7 2228.1 809.1 2230.1 807.3 2232 805.5 2233.9 803.6 2235.9 801.7 2237.8 799.7 2239.7 797.6 2241.7 795.5 2243.6 793.4 2245.5 791.3 2247.5 789.1 2249.4 787 2251.3 784.9 2253.2 782.8 2255.2 780.8 2257.1 778.8 2259 776.8 2261 774.9 2262.9 773.1 2264.8 771.4 2266.8 769.7 2268.7 768.2 2270.6 766.7 2272.6 765.4 2274.5 764.2 2276.4 763.1 2278.4 762.2 2280.3 761.4 2282.2 760.6 2284.2 760 2286.1 759.5 2288 759.1 2290 758.8 2291.9 758.5 2293.8 758.4 2295.8 758.3 2297.7 758.3 2299.6 758.4 2301.6 758.5 2303.5 758.7 2305.4 759 2307.4 759.3 2309.3 759.7 2311.2 760.1 2313.2 760.5 2315.1 761 2317 761.5 2319 762 2320.9 762.6 2322.8 763.2 2324.8 763.7 2326.7 764.3 2328.6 764.9 2330.6 765.5 2332.5 766.1 2334.4 766.7 2336.4 767.2 2338.3 767.8 2340.2 768.3 2342.2 768.8 2344.1 769.2 2346 769.7 2348 770 2349.9 770.4 2351.8 770.7 2353.8 771 2355.7 771.3 2357.6 771.6 2359.6 771.8 2361.5 772 2363.4 772.2 2365.4 772.4 2367.3 772.5 2369.2 772.7 2371.2 772.8 2373.1 772.9 2375 773 2377 773 2378.9 773.1 2380.8 773.1 2382.8 773.2 2384.7 773.2 2386.6 773.2 2388.6 773.2 2390.5 773.2 2392.4 773.2 2394.4 773.2 2396.3 773.2 2398.2 773.2 2400.2 773.2 2402.1 773.2 2404 773.2 2406 773.2 2407.9 773.2 2409.8 773.2 2411.8 773.3 2413.7 773.3 2415.6 773.3 2417.6 773.4 2419.5 773.4 2421.4 773.5 2423.4 773.6 2425.3 773.6 2427.2 773.7 2429.2 773.8 2431.1 773.9 2433 774 2435 774.1 2436.9 774.2 2438.8 774.3 2440.8 774.4 2442.7 774.6 2444.6 774.7 2446.6 774.8 2448.5 775 2450.4 775.1 2452.4 775.3 2454.3 775.4 2456.2 775.6 2458.2 775.7 2460.1 775.9 2462 776 2464 776.2 2465.9 776.4 2467.8 776.5 2469.8 776.7 2471.7 776.9 2473.6 777.1 2475.6 777.2 2477.5 777.4 2479.4 777.6 2481.4 777.7" fill="none" stroke="#ff0000" stroke-width="3.3" stroke-linecap="round" stroke-linejoin="round" stroke-dasharray="0.1 6.55"/>
<polygon points="1507.1,839.9 1520.9,853.2 1507.1,866.5 1493.3,853.2" fill="#fff" stroke="#ff0000" stroke-width="1.6"/><polygon points="1493.3,853.2 1520.9,853.2 1507.1,866.5" fill="#ff0000"/><polygon points="1576.7,839.9 1590.5,853.2 1576.7,866.5 1562.9,853.2" fill="#fff" stroke="#ff0000" stroke-width="1.6"/><polygon points="1562.9,853.2 1590.5,853.2 1576.7,866.5" fill="#ff0000"/><polygon points="1646.3,837.1 1660.1,850.4 1646.3,863.7 1632.5,850.4" fill="#fff" stroke="#ff0000" stroke-width="1.6"/><polygon points="1632.5,850.4 1660.1,850.4 1646.3,863.7" fill="#ff0000"/><polygon points="1715.9,382.7 1729.7,396 1715.9,409.3 1702.1,396" fill="#fff" stroke="#ff0000" stroke-width="1.6"/><polygon points="1702.1,396 1729.7,396 1715.9,409.3" fill="#ff0000"/><polygon points="1785.5,352.4 1799.2,365.7 1785.5,379 1771.7,365.7" fill="#fff" stroke="#ff0000" stroke-width="1.6"/><polygon points="1771.7,365.7 1799.2,365.7 1785.5,379" fill="#ff0000"/><polygon points="1855,533.9 1868.8,547.2 1855,560.5 1841.2,547.2" fill="#fff" stroke="#ff0000" stroke-width="1.6"/><polygon points="1841.2,547.2 1868.8,547.2 1855,560.5" fill="#ff0000"/><polygon points="1924.6,631.8 1938.4,645.1 1924.6,658.4 1910.8,645.1" fill="#fff" stroke="#ff0000" stroke-width="1.6"/><polygon points="1910.8,645.1 1938.4,645.1 1924.6,658.4" fill="#ff0000"/><polygon points="1994.2,682.3 2008,695.6 1994.2,708.9 1980.4,695.6" fill="#fff" stroke="#ff0000" stroke-width="1.6"/><polygon points="1980.4,695.6 2008,695.6 1994.2,708.9" fill="#ff0000"/><polygon points="2063.8,710 2077.6,723.3 2063.8,736.6 2050,723.3" fill="#fff" stroke="#ff0000" stroke-width="1.6"/><polygon points="2050,723.3 2077.6,723.3 2063.8,736.6" fill="#ff0000"/><polygon points="2133.4,731.4 2147.2,744.7 2133.4,758 2119.6,744.7" fill="#fff" stroke="#ff0000" stroke-width="1.6"/><polygon points="2119.6,744.7 2147.2,744.7 2133.4,758" fill="#ff0000"/><polygon points="2203,806.8 2216.8,820.1 2203,833.4 2189.2,820.1" fill="#fff" stroke="#ff0000" stroke-width="1.6"/><polygon points="2189.2,820.1 2216.8,820.1 2203,833.4" fill="#ff0000"/><polygon points="2272.6,752.1 2286.4,765.4 2272.6,778.7 2258.8,765.4" fill="#fff" stroke="#ff0000" stroke-width="1.6"/><polygon points="2258.8,765.4 2286.4,765.4 2272.6,778.7" fill="#ff0000"/><polygon points="2342.2,755.5 2356,768.8 2342.2,782.1 2328.4,768.8" fill="#fff" stroke="#ff0000" stroke-width="1.6"/><polygon points="2328.4,768.8 2356,768.8 2342.2,782.1" fill="#ff0000"/><polygon points="2411.8,760 2425.6,773.3 2411.8,786.6 2398,773.3" fill="#fff" stroke="#ff0000" stroke-width="1.6"/><polygon points="2398,773.3 2425.6,773.3 2411.8,786.6" fill="#ff0000"/><polygon points="2481.4,764.4 2495.2,777.7 2481.4,791 2467.6,777.7" fill="#fff" stroke="#ff0000" stroke-width="1.6"/><polygon points="2467.6,777.7 2495.2,777.7 2481.4,791" fill="#ff0000"/>
<path d="M1507.1 853.2 1509 853.4 1511 853.7 1512.9 854 1514.8 854.2 1516.8 854.4 1518.7 854.7 1520.6 854.9 1522.6 855.1 1524.5 855.3 1526.4 855.5 1528.4 855.7 1530.3 855.9 1532.2 856.1 1534.2 856.2 1536.1 856.3 1538 856.5 1540 856.5 1541.9 856.6 1543.8 856.7 1545.8 856.7 1547.7 856.7 1549.6 856.7 1551.6 856.6 1553.5 856.6 1555.4 856.5 1557.3 856.4 1559.3 856.2 1561.2 856 1563.1 855.8 1565.1 855.5 1567 855.2 1568.9 854.9 1570.9 854.5 1572.8 854.1 1574.7 853.7 1576.7 853.2 1578.6 852.7 1580.5 852.1 1582.5 851.5 1584.4 850.9 1586.3 850.2 1588.3 849.6 1590.2 848.9 1592.1 848.2 1594.1 847.5 1596 846.9 1597.9 846.2 1599.9 845.5 1601.8 844.9 1603.7 844.3 1605.7 843.7 1607.6 843.2 1609.5 842.7 1611.5 842.2 1613.4 841.8 1615.3 841.5 1617.3 841.2 1619.2 840.9 1621.1 840.8 1623.1 840.7 1625 840.7 1626.9 840.8 1628.9 841 1630.8 841.3 1632.7 841.6 1634.7 842.1 1636.6 842.7 1638.5 843.4 1640.5 844.3 1642.4 845.2 1644.3 846.3 1646.3 847.6 1648.2 849 1650.1 850.5 1652.1 852.1 1654 853.8 1655.9 855.5 1657.9 857.3 1659.8 859.1 1661.7 860.9 1663.7 862.7 1665.6 864.5 1667.5 866.2 1669.5 867.8 1671.4 869.4 1673.3 870.8 1675.3 872 1677.2 873.2 1679.1 874.1 1681.1 874.8 1683 875.3 1684.9 875.6 1686.9 875.7 1688.8 875.4 1690.7 874.8 1692.7 874 1694.6 872.8 1696.5 871.2 1698.5 869.2 1700.4 866.9 1702.3 864.1 1704.3 860.9 1706.2 857.2 1708.1 853.1 1710.1 848.5 1712 843.3 1713.9 837.6 1715.9 831.3 1717.8 824.5 1719.7 817.1 1721.7 809.2 1723.6 800.9 1725.5 792.1 1727.5 782.9 1729.4 773.3 1731.3 763.4 1733.3 753.2 1735.2 742.7 1737.1 732.1 1739.1 721.2 1741 710.2 1742.9 699.1 1744.9 687.9 1746.8 676.6 1748.7 665.3 1750.7 654.1 1752.6 642.9 1754.5 631.9 1756.5 620.9 1758.4 610.1 1760.3 599.6 1762.3 589.2 1764.2 579.2 1766.1 569.4 1768.1 560 1770 551 1771.9 542.4 1773.9 534.3 1775.8 526.6 1777.7 519.5 1779.7 513 1781.6 507 1783.5 501.7 1785.5 497 1787.4 493 1789.3 489.7 1791.2 487.1 1793.2 485.1 1795.1 483.7 1797 482.9 1799 482.6 1800.9 482.8 1802.8 483.6 1804.8 484.8 1806.7 486.5 1808.6 488.6 1810.6 491.1 1812.5 493.9 1814.4 497.2 1816.4 500.7 1818.3 504.5 1820.2 508.7 1822.2 513 1824.1 517.6 1826 522.4 1828 527.3 1829.9 532.4 1831.8 537.6 1833.8 542.9 1835.7 548.3 1837.6 553.7 1839.6 559.1 1841.5 564.6 1843.4 570 1845.4 575.3 1847.3 580.6 1849.2 585.7 1851.2 590.7 1853.1 595.6 1855 600.2 1857 604.7 1858.9 608.9 1860.8 613 1862.8 616.8 1864.7 620.5 1866.6 624 1868.6 627.3 1870.5 630.5 1872.4 633.5 1874.4 636.3 1876.3 639 1878.2 641.6 1880.2 644 1882.1 646.3 1884 648.5 1886 650.5 1887.9 652.5 1889.8 654.3 1891.8 656 1893.7 657.7 1895.6 659.2 1897.6 660.7 1899.5 662.1 1901.4 663.5 1903.4 664.8 1905.3 666 1907.2 667.2 1909.2 668.3 1911.1 669.4 1913 670.5 1915 671.6 1916.9 672.6 1918.8 673.7 1920.8 674.7 1922.7 675.7 1924.6 676.8 1926.6 677.8 1928.5 678.9 1930.4 680 1932.4 681.1 1934.3 682.2 1936.2 683.3 1938.2 684.5 1940.1 685.6 1942 686.8 1944 687.9 1945.9 689.1 1947.8 690.3 1949.8 691.5 1951.7 692.7 1953.6 693.9 1955.6 695.1 1957.5 696.2 1959.4 697.4 1961.4 698.6 1963.3 699.8 1965.2 701 1967.2 702.2 1969.1 703.4 1971 704.6 1973 705.8 1974.9 707 1976.8 708.2 1978.8 709.3 1980.7 710.5 1982.6 711.6 1984.6 712.8 1986.5 713.9 1988.4 715 1990.4 716.1 1992.3 717.2 1994.2 718.3 1996.2 719.4 1998.1 720.4 2000 721.4 2002 722.5 2003.9 723.5 2005.8 724.4 2007.8 725.4 2009.7 726.3 2011.6 727.3 2013.6 728.2 2015.5 729 2017.4 729.9 2019.3 730.7 2021.3 731.5 2023.2 732.3 2025.1 733.1 2027.1 733.8 2029 734.5 2030.9 735.2 2032.9 735.9 2034.8 736.5 2036.7 737.1 2038.7 737.7 2040.6 738.2 2042.5 738.7 2044.5 739.2 2046.4 739.7 2048.3 740.1 2050.3 740.5 2052.2 740.8 2054.1 741.1 2056.1 741.4 2058 741.6 2059.9 741.8 2061.9 742 2063.8 742.1 2065.7 742.2 2067.7 742.3 2069.6 742.3 2071.5 742.3 2073.5 742.3 2075.4 742.3 2077.3 742.2 2079.3 742.2 2081.2 742.1 2083.1 742.1 2085.1 742 2087 742 2088.9 742 2090.9 742 2092.8 742.1 2094.7 742.2 2096.7 742.3 2098.6 742.4 2100.5 742.6 2102.5 742.9 2104.4 743.2 2106.3 743.6 2108.3 744.1 2110.2 744.6 2112.1 745.2 2114.1 745.8 2116 746.6 2117.9 747.5 2119.9 748.4 2121.8 749.5 2123.7 750.6 2125.7 751.9 2127.6 753.3 2129.5 754.7 2131.5 756.4 2133.4 758.1 2135.3 760 2137.3 762 2139.2 764.1 2141.1 766.3 2143.1 768.7 2145 771.1 2146.9 773.5 2148.9 776.1 2150.8 778.7 2152.7 781.3 2154.7 784 2156.6 786.7 2158.5 789.5 2160.5 792.2 2162.4 795 2164.3 797.7 2166.3 800.4 2168.2 803.1 2170.1 805.7 2172.1 808.3 2174 810.8 2175.9 813.3 2177.9 815.6 2179.8 817.9 2181.7 820.1 2183.7 822.2 2185.6 824.2 2187.5 826 2189.5 827.7 2191.4 829.3 2193.3 830.7 2195.3 831.9 2197.2 832.9 2199.1 833.8 2201.1 834.5 2203 835 2204.9 835.2 2206.9 835.3 2208.8 835.1 2210.7 834.8 2212.7 834.3 2214.6 833.6 2216.5 832.8 2218.5 831.8 2220.4 830.7 2222.3 829.5 2224.3 828.1 2226.2 826.7 2228.1 825.1 2230.1 823.4 2232 821.7 2233.9 819.8 2235.9 818 2237.8 816 2239.7 814 2241.7 812 2243.6 810 2245.5 807.9 2247.5 805.9 2249.4 803.8 2251.3 801.8 2253.2 799.7 2255.2 797.8 2257.1 795.8 2259 793.9 2261 792.1 2262.9 790.3 2264.8 788.6 2266.8 787 2268.7 785.5 2270.6 784.1 2272.6 782.8 2274.5 781.6 2276.4 780.6 2278.4 779.7 2280.3 778.9 2282.2 778.2 2284.2 777.6 2286.1 777.1 2288 776.7 2290 776.4 2291.9 776.1 2293.8 776 2295.8 775.9 2297.7 775.9 2299.6 776 2301.6 776.2 2303.5 776.4 2305.4 776.6 2307.4 776.9 2309.3 777.3 2311.2 777.7 2313.2 778.1 2315.1 778.6 2317 779.1 2319 779.6 2320.9 780.1 2322.8 780.7 2324.8 781.3 2326.7 781.8 2328.6 782.4 2330.6 783 2332.5 783.6 2334.4 784.1 2336.4 784.7 2338.3 785.2 2340.2 785.7 2342.2 786.2 2344.1 786.6 2346 787 2348 787.4 2349.9 787.7 2351.8 788.1 2353.8 788.4 2355.7 788.6 2357.6 788.9 2359.6 789.1 2361.5 789.3 2363.4 789.5 2365.4 789.6 2367.3 789.7 2369.2 789.9 2371.2 790 2373.1 790 2375 790.1 2377 790.2 2378.9 790.2 2380.8 790.2 2382.8 790.3 2384.7 790.3 2386.6 790.3 2388.6 790.3 2390.5 790.3 2392.4 790.3 2394.4 790.2 2396.3 790.2 2398.2 790.2 2400.2 790.2 2402.1 790.1 2404 790.1 2406 790.1 2407.9 790.1 2409.8 790.1 2411.8 790.1 2413.7 790.1 2415.6 790.1 2417.6 790.1 2419.5 790.2 2421.4 790.2 2423.4 790.2 2425.3 790.3 2427.2 790.3 2429.2 790.4 2431.1 790.5 2433 790.5 2435 790.6 2436.9 790.7 2438.8 790.8 2440.8 790.9 2442.7 791 2444.6 791.1 2446.6 791.2 2448.5 791.3 2450.4 791.4 2452.4 791.5 2454.3 791.6 2456.2 791.7 2458.2 791.9 2460.1 792 2462 792.1 2464 792.2 2465.9 792.4 2467.8 792.5 2469.8 792.6 2471.7 792.8 2473.6 792.9 2475.6 793 2477.5 793.2 2479.4 793.3 2481.4 793.5" fill="none" stroke="#0000ff" stroke-width="3.3" stroke-linecap="round" stroke-linejoin="round" stroke-dasharray="0.1 6.55"/>
<polygon points="1507.1,839.8 1510.3,849.3 1520.4,849.5 1512.3,855.5 1515.3,865.1 1507.1,859.3 1498.9,865.1 1501.9,855.5 1493.8,849.5 1503.9,849.3" fill="#0000ff"/><polygon points="1576.7,839.8 1579.9,849.3 1590,849.5 1581.9,855.5 1584.9,865.1 1576.7,859.3 1568.5,865.1 1571.4,855.5 1563.4,849.5 1573.4,849.3" fill="#0000ff"/><polygon points="1646.3,834.2 1649.5,843.7 1659.6,843.9 1651.5,849.9 1654.5,859.5 1646.3,853.7 1638,859.5 1641,849.9 1633,843.9 1643,843.7" fill="#0000ff"/><polygon points="1715.9,817.9 1719.1,827.5 1729.2,827.6 1721.1,833.6 1724.1,843.2 1715.9,837.4 1707.6,843.2 1710.6,833.6 1702.5,827.6 1712.6,827.5" fill="#0000ff"/><polygon points="1785.5,483.6 1788.7,493.2 1798.8,493.3 1790.7,499.3 1793.7,508.9 1785.5,503.1 1777.2,508.9 1780.2,499.3 1772.1,493.3 1782.2,493.2" fill="#0000ff"/><polygon points="1855,586.8 1858.3,596.4 1868.4,596.5 1860.3,602.5 1863.3,612.1 1855,606.3 1846.8,612.1 1849.8,602.5 1841.7,596.5 1851.8,596.4" fill="#0000ff"/><polygon points="1924.6,663.4 1927.9,672.9 1937.9,673.1 1929.9,679.1 1932.9,688.7 1924.6,682.9 1916.4,688.7 1919.4,679.1 1911.3,673.1 1921.4,672.9" fill="#0000ff"/><polygon points="1994.2,704.9 1997.5,714.4 2007.5,714.6 1999.5,720.6 2002.4,730.2 1994.2,724.4 1986,730.2 1989,720.6 1980.9,714.6 1991,714.4" fill="#0000ff"/><polygon points="2063.8,728.7 2067,738.3 2077.1,738.4 2069,744.4 2072,754.1 2063.8,748.2 2055.6,754.1 2058.6,744.4 2050.5,738.4 2060.6,738.3" fill="#0000ff"/><polygon points="2133.4,744.7 2136.6,754.3 2146.7,754.4 2138.6,760.4 2141.6,770 2133.4,764.2 2125.2,770 2128.2,760.4 2120.1,754.4 2130.2,754.3" fill="#0000ff"/><polygon points="2203,821.6 2206.2,831.1 2216.3,831.2 2208.2,837.3 2211.2,846.9 2203,841.1 2194.8,846.9 2197.8,837.3 2189.7,831.2 2199.8,831.1" fill="#0000ff"/><polygon points="2272.6,769.4 2275.8,778.9 2285.9,779.1 2277.8,785.1 2280.8,794.7 2272.6,788.9 2264.4,794.7 2267.3,785.1 2259.3,779.1 2269.3,778.9" fill="#0000ff"/><polygon points="2342.2,772.8 2345.4,782.3 2355.5,782.4 2347.4,788.5 2350.4,798.1 2342.2,792.3 2333.9,798.1 2336.9,788.5 2328.9,782.4 2338.9,782.3" fill="#0000ff"/><polygon points="2411.8,776.7 2415,786.2 2425.1,786.4 2417,792.4 2420,802 2411.8,796.2 2403.5,802 2406.5,792.4 2398.4,786.4 2408.5,786.2" fill="#0000ff"/><polygon points="2481.4,780.1 2484.6,789.6 2494.7,789.7 2486.6,795.8 2489.6,805.4 2481.4,799.6 2473.1,805.4 2476.1,795.8 2468,789.7 2478.1,789.6" fill="#0000ff"/>
</g>
<rect x="1437.5" y="14.6" width="1043.9" height="841.4" fill="none" stroke="#000" stroke-width="3.2"/>
<path d="M1437.5 856v8M1507.1 856v16.5M1576.7 856v8M1646.3 856v16.5M1715.9 856v8M1785.5 856v16.5M1855 856v8M1924.6 856v16.5M1994.2 856v8M2063.8 856v16.5M2133.4 856v8M2203 856v16.5M2272.6 856v8M2342.2 856v16.5M2411.8 856v8M2481.4 856v16.5M1437.5 856h-16.5M1437.5 771.9h-8M1437.5 687.7h-16.5M1437.5 603.6h-8M1437.5 519.4h-16.5M1437.5 435.3h-8M1437.5 351.2h-16.5M1437.5 267h-8M1437.5 182.9h-16.5M1437.5 98.7h-8M1437.5 14.6h-16.5" fill="none" stroke="#000" stroke-width="3.2"/>
<g font-family="'Liberation Sans', Arial, sans-serif" font-size="35.5" fill="#000" stroke="#000" stroke-width="0.3">
<text x="1507.1" y="911.3" text-anchor="middle">1</text>
<text x="1646.3" y="911.3" text-anchor="middle">3</text>
<text x="1785.5" y="911.3" text-anchor="middle">5</text>
<text x="1924.6" y="911.3" text-anchor="middle">7</text>
<text x="2063.8" y="911.3" text-anchor="middle">9</text>
<text x="2203" y="911.3" text-anchor="middle">11</text>
<text x="2342.2" y="911.3" text-anchor="middle">13</text>
<text x="2481.4" y="911.3" text-anchor="middle">15</text>
<text x="1409.7" y="867.7" text-anchor="end">0</text>
<text x="1409.7" y="699.4" text-anchor="end">60</text>
<text x="1409.7" y="531.1" text-anchor="end">120</text>
<text x="1409.7" y="362.9" text-anchor="end">180</text>
<text x="1409.7" y="194.6" text-anchor="end">240</text>
<text x="1409.7" y="26.3" text-anchor="end">300</text>
<text x="1958.6" y="963.4" text-anchor="middle" textLength="243.5" lengthAdjust="spacingAndGlyphs">Time Period (<tspan font-style="italic">s</tspan>)</text>
<text transform="translate(1326.5 432.3) rotate(-90)" text-anchor="middle" textLength="440" lengthAdjust="spacingAndGlyphs">Power absorbed (<tspan font-style="italic">P</tspan><tspan font-style="italic" font-size="26" dy="7">abs</tspan><tspan font-style="italic" dy="-7"> , kW)</tspan></text>
</g>
<text x="1991.9" y="1048" text-anchor="middle" font-family="'Liberation Serif', 'Times New Roman', serif" font-size="56" fill="#222">(c)</text>
<rect x="2144" y="29" width="329.2" height="510.6" fill="#fff" stroke="#333" stroke-width="1.4"/>
<path d="M2149.5 57.7H2229" stroke="#000000" stroke-width="3.3" stroke-linecap="round"/>
<rect x="2179.1" y="47.5" width="20.4" height="20.4" fill="#000000"/>
<text x="2239.3" y="70.2" font-family="'Liberation Sans', Arial, sans-serif" font-size="35" fill="#000" stroke="#000" stroke-width="0.5" textLength="229" lengthAdjust="spacingAndGlyphs">B<tspan dy="9" font-size="25">k</tspan><tspan dy="-9">/h = 0.1 - </tspan><tspan font-family="'Liberation Serif', 'Times New Roman', serif">&#958;</tspan><tspan dy="9" font-size="25" font-family="'Liberation Serif', 'Times New Roman', serif">33</tspan></text>
<path d="M2149.5 114.1H2229" stroke="#ff0000" stroke-width="3.3" stroke-linecap="round"/>
<circle cx="2189.2" cy="114.1" r="10.8" fill="#ff0000"/>
<text x="2239.3" y="126.6" font-family="'Liberation Sans', Arial, sans-serif" font-size="35" fill="#000" stroke="#000" stroke-width="0.5" textLength="229" lengthAdjust="spacingAndGlyphs">B<tspan dy="9" font-size="25">k</tspan><tspan dy="-9">/h = 0.2 - </tspan><tspan font-family="'Liberation Serif', 'Times New Roman', serif">&#958;</tspan><tspan dy="9" font-size="25" font-family="'Liberation Serif', 'Times New Roman', serif">33</tspan></text>
<path d="M2149.5 170.5H2229" stroke="#0000ff" stroke-width="3.3" stroke-linecap="round"/>
<polygon points="2189.2,155.3 2202.9,178.9 2175.6,178.9" fill="#0000ff"/>
<text x="2239.3" y="183" font-family="'Liberation Sans', Arial, sans-serif" font-size="35" fill="#000" stroke="#000" stroke-width="0.5" textLength="229" lengthAdjust="spacingAndGlyphs">B<tspan dy="9" font-size="25">k</tspan><tspan dy="-9">/h = 0.3 - </tspan><tspan font-family="'Liberation Serif', 'Times New Roman', serif">&#958;</tspan><tspan dy="9" font-size="25" font-family="'Liberation Serif', 'Times New Roman', serif">33</tspan></text>
<path d="M2149.5 226.9h12.7M2214.5 226.9H2229" stroke="#000000" stroke-width="3.3" stroke-linecap="round"/>
<rect x="2179.8" y="217.5" width="18.8" height="18.8" fill="#fff" stroke="#000000" stroke-width="1.6"/>
<text x="2239.3" y="239.4" font-family="'Liberation Sans', Arial, sans-serif" font-size="35" fill="#000" stroke="#000" stroke-width="0.5" textLength="229" lengthAdjust="spacingAndGlyphs">B<tspan dy="9" font-size="25">k</tspan><tspan dy="-9">/h = 0.1 - </tspan><tspan font-family="'Liberation Serif', 'Times New Roman', serif">&#958;</tspan><tspan dy="9" font-size="25" font-family="'Liberation Serif', 'Times New Roman', serif">44</tspan></text>
<path d="M2149.5 283.3h12.7M2214.5 283.3H2229" stroke="#ff0000" stroke-width="3.3" stroke-linecap="round"/>
<circle cx="2189.2" cy="283.3" r="10" fill="#fff" stroke="#ff0000" stroke-width="1.6"/>
<text x="2239.3" y="295.8" font-family="'Liberation Sans', Arial, sans-serif" font-size="35" fill="#000" stroke="#000" stroke-width="0.5" textLength="229" lengthAdjust="spacingAndGlyphs">B<tspan dy="9" font-size="25">k</tspan><tspan dy="-9">/h = 0.2 - </tspan><tspan font-family="'Liberation Serif', 'Times New Roman', serif">&#958;</tspan><tspan dy="9" font-size="25" font-family="'Liberation Serif', 'Times New Roman', serif">44</tspan></text>
<path d="M2149.5 339.7h12.7M2214.5 339.7H2229" stroke="#0000ff" stroke-width="3.3" stroke-linecap="round"/>
<polygon points="2189.2,325.6 2201.9,347.4 2176.6,347.4" fill="#fff" stroke="#0000ff" stroke-width="1.6"/>
<text x="2239.3" y="352.2" font-family="'Liberation Sans', Arial, sans-serif" font-size="35" fill="#000" stroke="#000" stroke-width="0.5" textLength="229" lengthAdjust="spacingAndGlyphs">B<tspan dy="9" font-size="25">k</tspan><tspan dy="-9">/h = 0.3 - </tspan><tspan font-family="'Liberation Serif', 'Times New Roman', serif">&#958;</tspan><tspan dy="9" font-size="25" font-family="'Liberation Serif', 'Times New Roman', serif">44</tspan></text>
<path d="M2149.1 396.1H2229.3" stroke="#000000" stroke-width="3.3" stroke-linecap="round" stroke-dasharray="0.1 6.55"/>
<polygon points="2173.6,396.1 2197.8,382.6 2197.8,409.6" fill="#000000"/>
<text x="2239.3" y="408.6" font-family="'Liberation Sans', Arial, sans-serif" font-size="35" fill="#000" stroke="#000" stroke-width="0.5" textLength="229" lengthAdjust="spacingAndGlyphs">B<tspan dy="9" font-size="25">k</tspan><tspan dy="-9">/h = 0.1 - </tspan><tspan font-family="'Liberation Serif', 'Times New Roman', serif">&#958;</tspan><tspan dy="9" font-size="25" font-family="'Liberation Serif', 'Times New Roman', serif">55</tspan></text>
<path d="M2149.1 452.5H2229.3" stroke="#ff0000" stroke-width="3.3" stroke-linecap="round" stroke-dasharray="0.1 6.55"/>
<polygon points="2189.2,439.2 2203.1,452.5 2189.2,465.8 2175.4,452.5" fill="#fff" stroke="#ff0000" stroke-width="1.6"/><polygon points="2175.4,452.5 2203.1,452.5 2189.2,465.8" fill="#ff0000"/>
<text x="2239.3" y="465" font-family="'Liberation Sans', Arial, sans-serif" font-size="35" fill="#000" stroke="#000" stroke-width="0.5" textLength="229" lengthAdjust="spacingAndGlyphs">B<tspan dy="9" font-size="25">k</tspan><tspan dy="-9">/h = 0.2 - </tspan><tspan font-family="'Liberation Serif', 'Times New Roman', serif">&#958;</tspan><tspan dy="9" font-size="25" font-family="'Liberation Serif', 'Times New Roman', serif">55</tspan></text>
<path d="M2149.1 508.9H2229.3" stroke="#0000ff" stroke-width="3.3" stroke-linecap="round" stroke-dasharray="0.1 6.55"/>
<polygon points="2189.2,495.5 2192.5,505.1 2202.6,505.2 2194.5,511.2 2197.5,520.8 2189.2,515 2181,520.8 2184,511.2 2175.9,505.2 2186,505.1" fill="#0000ff"/>
<text x="2239.3" y="521.4" font-family="'Liberation Sans', Arial, sans-serif" font-size="35" fill="#000" stroke="#000" stroke-width="0.5" textLength="229" lengthAdjust="spacingAndGlyphs">B<tspan dy="9" font-size="25">k</tspan><tspan dy="-9">/h = 0.3 - </tspan><tspan font-family="'Liberation Serif', 'Times New Roman', serif">&#958;</tspan><tspan dy="9" font-size="25" font-family="'Liberation Serif', 'Times New Roman', serif">55</tspan></text>
</g>
<g id="panel-d">
<clipPath id="clip-d"><rect x="1437.5" y="1128.8" width="1043.9" height="841.4"/></clipPath>
<g transform="translate(1821.4 1164.5) scale(1.0625)">
<clipPath id="sc-d"><rect x="-33.5" y="10" width="90" height="250"/></clipPath>
<g clip-path="url(#sc-d)"><ellipse cx="11" cy="122" rx="56" ry="96" transform="rotate(-8 11 122)" fill="url(#shd)"/></g>
<use href="#inset"/>
</g>
<path d="M1507.1 1970.2V1128.8M1646.3 1970.2V1128.8M1785.5 1970.2V1128.8M1924.6 1970.2V1128.8M2063.8 1970.2V1128.8M2203 1970.2V1128.8M2342.2 1970.2V1128.8M1437.5 1850H2481.4M1437.5 1729.8H2481.4M1437.5 1609.6H2481.4M1437.5 1489.4H2481.4M1437.5 1369.2H2481.4M1437.5 1249H2481.4" fill="none" stroke="#c2c8c5" stroke-width="1.3" stroke-dasharray="5.3 4.95"/>
<g clip-path="url(#clip-d)">
<path d="M1507.1 1967.5 1509 1972.6 1511 1977.6 1512.9 1982.6 1514.8 1987.5 1516.8 1992.2 1518.7 1996.8 1520.6 2001.2 1522.6 2005.4 1524.5 2009.3 1526.4 2013 1528.4 2016.3 1530.3 2019.3 1532.2 2021.8 1534.2 2024 1536.1 2025.7 1538 2027 1540 2027.7 1541.9 2027.9 1543.8 2027.5 1545.8 2026.5 1547.7 2024.9 1549.6 2022.6 1551.6 2019.6 1553.5 2015.9 1555.4 2011.4 1557.3 2006.1 1559.3 2000 1561.2 1993 1563.1 1985.1 1565.1 1976.3 1567 1966.6 1568.9 1955.8 1570.9 1944.1 1572.8 1931.3 1574.7 1917.4 1576.7 1902.4 1578.6 1886.2 1580.5 1869 1582.5 1850.9 1584.4 1831.8 1586.3 1812 1588.3 1791.5 1590.2 1770.4 1592.1 1748.8 1594.1 1726.8 1596 1704.4 1597.9 1681.9 1599.9 1659.1 1601.8 1636.4 1603.7 1613.7 1605.7 1591.1 1607.6 1568.7 1609.5 1546.7 1611.5 1525.1 1613.4 1504 1615.3 1483.5 1617.3 1463.6 1619.2 1444.6 1621.1 1426.4 1623.1 1409.2 1625 1393 1626.9 1378 1628.9 1364.2 1630.8 1351.7 1632.7 1340.7 1634.7 1331.2 1636.6 1323.3 1638.5 1317.1 1640.5 1312.6 1642.4 1310.1 1644.3 1309.5 1646.3 1311 1648.2 1314.6 1650.1 1320.2 1652.1 1327.8 1654 1337.2 1655.9 1348.3 1657.9 1361 1659.8 1375.2 1661.7 1390.8 1663.7 1407.7 1665.6 1425.7 1667.5 1444.7 1669.5 1464.7 1671.4 1485.5 1673.3 1507 1675.3 1529.1 1677.2 1551.8 1679.1 1574.7 1681.1 1598 1683 1621.4 1684.9 1644.9 1686.9 1668.3 1688.8 1691.5 1690.7 1714.5 1692.7 1737 1694.6 1759.1 1696.5 1780.5 1698.5 1801.2 1700.4 1821 1702.3 1839.9 1704.3 1857.8 1706.2 1874.4 1708.1 1889.8 1710.1 1903.8 1712 1916.3 1713.9 1927.1 1715.9 1936.3 1717.8 1943.6 1719.7 1949.2 1721.7 1953 1723.6 1955.3 1725.5 1956 1727.5 1955.3 1729.4 1953.2 1731.3 1949.7 1733.3 1945.1 1735.2 1939.2 1737.1 1932.3 1739.1 1924.4 1741 1915.5 1742.9 1905.8 1744.9 1895.3 1746.8 1884 1748.7 1872.2 1750.7 1859.8 1752.6 1846.9 1754.5 1833.5 1756.5 1819.9 1758.4 1806 1760.3 1791.9 1762.3 1777.7 1764.2 1763.5 1766.1 1749.3 1768.1 1735.2 1770 1721.3 1771.9 1707.7 1773.9 1694.4 1775.8 1681.5 1777.7 1669.2 1779.7 1657.4 1781.6 1646.2 1783.5 1635.8 1785.5 1626.2 1787.4 1617.4 1789.3 1609.4 1791.2 1602.3 1793.2 1595.9 1795.1 1590.3 1797 1585.5 1799 1581.3 1800.9 1577.8 1802.8 1574.9 1804.8 1572.7 1806.7 1571 1808.6 1570 1810.6 1569.4 1812.5 1569.3 1814.4 1569.7 1816.4 1570.6 1818.3 1571.8 1820.2 1573.5 1822.2 1575.5 1824.1 1577.9 1826 1580.5 1828 1583.4 1829.9 1586.6 1831.8 1590 1833.8 1593.6 1835.7 1597.3 1837.6 1601.2 1839.6 1605.2 1841.5 1609.2 1843.4 1613.3 1845.4 1617.4 1847.3 1621.6 1849.2 1625.6 1851.2 1629.7 1853.1 1633.6 1855 1637.4 1857 1641 1858.9 1644.6 1860.8 1647.9 1862.8 1651.2 1864.7 1654.3 1866.6 1657.2 1868.6 1660.1 1870.5 1662.8 1872.4 1665.5 1874.4 1668 1876.3 1670.4 1878.2 1672.7 1880.2 1674.9 1882.1 1677 1884 1679.1 1886 1681 1887.9 1682.9 1889.8 1684.7 1891.8 1686.5 1893.7 1688.2 1895.6 1689.8 1897.6 1691.3 1899.5 1692.8 1901.4 1694.3 1903.4 1695.7 1905.3 1697.1 1907.2 1698.5 1909.2 1699.8 1911.1 1701.1 1913 1702.4 1915 1703.7 1916.9 1705 1918.8 1706.2 1920.8 1707.5 1922.7 1708.8 1924.6 1710 1926.6 1711.3 1928.5 1712.6 1930.4 1713.9 1932.4 1715.3 1934.3 1716.6 1936.2 1717.9 1938.2 1719.3 1940.1 1720.7 1942 1722 1944 1723.4 1945.9 1724.8 1947.8 1726.2 1949.8 1727.6 1951.7 1729 1953.6 1730.4 1955.6 1731.8 1957.5 1733.2 1959.4 1734.6 1961.4 1736 1963.3 1737.4 1965.2 1738.9 1967.2 1740.3 1969.1 1741.7 1971 1743.1 1973 1744.5 1974.9 1745.9 1976.8 1747.3 1978.8 1748.7 1980.7 1750.1 1982.6 1751.5 1984.6 1752.9 1986.5 1754.3 1988.4 1755.7 1990.4 1757 1992.3 1758.4 1994.2 1759.7 1996.2 1761 1998.1 1762.4 2000 1763.7 2002 1765 2003.9 1766.3 2005.8 1767.5 2007.8 1768.8 2009.7 1770 2011.6 1771.2 2013.6 1772.4 2015.5 1773.6 2017.4 1774.7 2019.3 1775.8 2021.3 1776.9 2023.2 1778 2025.1 1779 2027.1 1780 2029 1781 2030.9 1781.9 2032.9 1782.8 2034.8 1783.7 2036.7 1784.5 2038.7 1785.3 2040.6 1786.1 2042.5 1786.8 2044.5 1787.5 2046.4 1788.1 2048.3 1788.7 2050.3 1789.3 2052.2 1789.8 2054.1 1790.2 2056.1 1790.6 2058 1791 2059.9 1791.3 2061.9 1791.6 2063.8 1791.8 2065.7 1791.9 2067.7 1792 2069.6 1792.1 2071.5 1792.1 2073.5 1792.1 2075.4 1792.1 2077.3 1792.1 2079.3 1792 2081.2 1792 2083.1 1791.9 2085.1 1791.9 2087 1791.9 2088.9 1791.9 2090.9 1792 2092.8 1792.1 2094.7 1792.3 2096.7 1792.5 2098.6 1792.7 2100.5 1793.1 2102.5 1793.5 2104.4 1794 2106.3 1794.5 2108.3 1795.2 2110.2 1796 2112.1 1796.9 2114.1 1797.9 2116 1799 2117.9 1800.3 2119.9 1801.7 2121.8 1803.2 2123.7 1804.9 2125.7 1806.7 2127.6 1808.7 2129.5 1810.9 2131.5 1813.3 2133.4 1815.8 2135.3 1818.5 2137.3 1821.4 2139.2 1824.5 2141.1 1827.7 2143.1 1831.1 2145 1834.5 2146.9 1838.1 2148.9 1841.8 2150.8 1845.5 2152.7 1849.4 2154.7 1853.2 2156.6 1857.1 2158.5 1861.1 2160.5 1865 2162.4 1868.9 2164.3 1872.8 2166.3 1876.7 2168.2 1880.6 2170.1 1884.3 2172.1 1888 2174 1891.6 2175.9 1895.1 2177.9 1898.5 2179.8 1901.8 2181.7 1904.9 2183.7 1907.9 2185.6 1910.6 2187.5 1913.2 2189.5 1915.6 2191.4 1917.8 2193.3 1919.8 2195.3 1921.5 2197.2 1922.9 2199.1 1924.1 2201.1 1925 2203 1925.6 2204.9 1925.9 2206.9 1925.9 2208.8 1925.6 2210.7 1925 2212.7 1924.2 2214.6 1923.1 2216.5 1921.8 2218.5 1920.3 2220.4 1918.6 2222.3 1916.7 2224.3 1914.6 2226.2 1912.4 2228.1 1910 2230.1 1907.5 2232 1904.9 2233.9 1902.2 2235.9 1899.3 2237.8 1896.4 2239.7 1893.5 2241.7 1890.5 2243.6 1887.4 2245.5 1884.4 2247.5 1881.3 2249.4 1878.3 2251.3 1875.2 2253.2 1872.2 2255.2 1869.3 2257.1 1866.4 2259 1863.6 2261 1860.9 2262.9 1858.3 2264.8 1855.8 2266.8 1853.4 2268.7 1851.2 2270.6 1849.2 2272.6 1847.3 2274.5 1845.6 2276.4 1844.1 2278.4 1842.8 2280.3 1841.7 2282.2 1840.7 2284.2 1839.8 2286.1 1839.2 2288 1838.6 2290 1838.2 2291.9 1837.9 2293.8 1837.8 2295.8 1837.7 2297.7 1837.8 2299.6 1838 2301.6 1838.2 2303.5 1838.6 2305.4 1839 2307.4 1839.5 2309.3 1840.1 2311.2 1840.8 2313.2 1841.5 2315.1 1842.2 2317 1843 2319 1843.8 2320.9 1844.7 2322.8 1845.5 2324.8 1846.4 2326.7 1847.3 2328.6 1848.2 2330.6 1849.1 2332.5 1850 2334.4 1850.9 2336.4 1851.7 2338.3 1852.5 2340.2 1853.3 2342.2 1854 2344.1 1854.7 2346 1855.3 2348 1855.9 2349.9 1856.4 2351.8 1856.9 2353.8 1857.3 2355.7 1857.7 2357.6 1858.1 2359.6 1858.4 2361.5 1858.7 2363.4 1858.9 2365.4 1859.2 2367.3 1859.3 2369.2 1859.5 2371.2 1859.6 2373.1 1859.7 2375 1859.8 2377 1859.9 2378.9 1859.9 2380.8 1860 2382.8 1860 2384.7 1860 2386.6 1859.9 2388.6 1859.9 2390.5 1859.9 2392.4 1859.8 2394.4 1859.8 2396.3 1859.7 2398.2 1859.7 2400.2 1859.6 2402.1 1859.5 2404 1859.5 2406 1859.4 2407.9 1859.4 2409.8 1859.4 2411.8 1859.3 2413.7 1859.3 2415.6 1859.3 2417.6 1859.4 2419.5 1859.4 2421.4 1859.4 2423.4 1859.5 2425.3 1859.5 2427.2 1859.6 2429.2 1859.7 2431.1 1859.8 2433 1859.9 2435 1860 2436.9 1860.1 2438.8 1860.2 2440.8 1860.3 2442.7 1860.5 2444.6 1860.6 2446.6 1860.7 2448.5 1860.9 2450.4 1861.1 2452.4 1861.2 2454.3 1861.4 2456.2 1861.6 2458.2 1861.8 2460.1 1861.9 2462 1862.1 2464 1862.3 2465.9 1862.5 2467.8 1862.7 2469.8 1862.9 2471.7 1863.1 2473.6 1863.3 2475.6 1863.5 2477.5 1863.7 2479.4 1863.9 2481.4 1864.2" fill="none" stroke="#000000" stroke-width="3.3" stroke-linecap="round" stroke-linejoin="round"/>
<rect x="1496.9" y="1957.3" width="20.4" height="20.4" fill="#000000"/><rect x="1566.5" y="1892.2" width="20.4" height="20.4" fill="#000000"/><rect x="1636.1" y="1300.8" width="20.4" height="20.4" fill="#000000"/><rect x="1705.7" y="1926.1" width="20.4" height="20.4" fill="#000000"/><rect x="1775.2" y="1616" width="20.4" height="20.4" fill="#000000"/><rect x="1844.8" y="1627.2" width="20.4" height="20.4" fill="#000000"/><rect x="1914.4" y="1699.8" width="20.4" height="20.4" fill="#000000"/><rect x="1984" y="1749.5" width="20.4" height="20.4" fill="#000000"/><rect x="2053.6" y="1781.6" width="20.4" height="20.4" fill="#000000"/><rect x="2123.2" y="1805.6" width="20.4" height="20.4" fill="#000000"/><rect x="2192.8" y="1915.4" width="20.4" height="20.4" fill="#000000"/><rect x="2262.4" y="1837.1" width="20.4" height="20.4" fill="#000000"/><rect x="2332" y="1843.8" width="20.4" height="20.4" fill="#000000"/><rect x="2401.6" y="1849.1" width="20.4" height="20.4" fill="#000000"/><rect x="2471.2" y="1854" width="20.4" height="20.4" fill="#000000"/>
<path d="M1507.1 1967.5 1509 1973.5 1511 1979.5 1512.9 1985.4 1514.8 1991.3 1516.8 1997 1518.7 2002.6 1520.6 2008 1522.6 2013.2 1524.5 2018.2 1526.4 2022.9 1528.4 2027.4 1530.3 2031.5 1532.2 2035.3 1534.2 2038.7 1536.1 2041.7 1538 2044.3 1540 2046.4 1541.9 2048.1 1543.8 2049.2 1545.8 2049.8 1547.7 2049.8 1549.6 2049.2 1551.6 2048 1553.5 2046.1 1555.4 2043.6 1557.3 2040.3 1559.3 2036.3 1561.2 2031.6 1563.1 2026 1565.1 2019.6 1567 2012.3 1568.9 2004.2 1570.9 1995.1 1572.8 1985.1 1574.7 1974.2 1576.7 1962.2 1578.6 1949.2 1580.5 1935.3 1582.5 1920.5 1584.4 1904.9 1586.3 1888.6 1588.3 1871.7 1590.2 1854.2 1592.1 1836.2 1594.1 1817.9 1596 1799.2 1597.9 1780.3 1599.9 1761.2 1601.8 1742.1 1603.7 1722.9 1605.7 1703.8 1607.6 1684.9 1609.5 1666.2 1611.5 1647.9 1613.4 1629.9 1615.3 1612.4 1617.3 1595.4 1619.2 1579.1 1621.1 1563.4 1623.1 1548.6 1625 1534.6 1626.9 1521.6 1628.9 1509.6 1630.8 1498.7 1632.7 1489 1634.7 1480.5 1636.6 1473.4 1638.5 1467.6 1640.5 1463.4 1642.4 1460.8 1644.3 1459.8 1646.3 1460.6 1648.2 1463.1 1650.1 1467.3 1652.1 1473.2 1654 1480.6 1655.9 1489.4 1657.9 1499.6 1659.8 1511 1661.7 1523.6 1663.7 1537.2 1665.6 1551.8 1667.5 1567.3 1669.5 1583.6 1671.4 1600.5 1673.3 1618 1675.3 1636.1 1677.2 1654.5 1679.1 1673.2 1681.1 1692.2 1683 1711.2 1684.9 1730.3 1686.9 1749.4 1688.8 1768.2 1690.7 1786.8 1692.7 1805.1 1694.6 1822.9 1696.5 1840.2 1698.5 1856.8 1700.4 1872.7 1702.3 1887.8 1704.3 1902 1706.2 1915.2 1708.1 1927.3 1710.1 1938.2 1712 1947.8 1713.9 1956 1715.9 1962.7 1717.8 1967.9 1719.7 1971.6 1721.7 1973.8 1723.6 1974.7 1725.5 1974.3 1727.5 1972.6 1729.4 1969.7 1731.3 1965.7 1733.3 1960.7 1735.2 1954.7 1737.1 1947.8 1739.1 1940 1741 1931.4 1742.9 1922.1 1744.9 1912.2 1746.8 1901.7 1748.7 1890.6 1750.7 1879.1 1752.6 1867.1 1754.5 1854.9 1756.5 1842.4 1758.4 1829.7 1760.3 1816.8 1762.3 1803.9 1764.2 1791 1766.1 1778.1 1768.1 1765.4 1770 1752.9 1771.9 1740.6 1773.9 1728.6 1775.8 1717 1777.7 1705.9 1779.7 1695.3 1781.6 1685.3 1783.5 1675.9 1785.5 1667.3 1787.4 1659.4 1789.3 1652.3 1791.2 1645.9 1793.2 1640.2 1795.1 1635.2 1797 1630.8 1799 1627.1 1800.9 1623.9 1802.8 1621.3 1804.8 1619.3 1806.7 1617.8 1808.6 1616.8 1810.6 1616.3 1812.5 1616.3 1814.4 1616.6 1816.4 1617.4 1818.3 1618.5 1820.2 1619.9 1822.2 1621.7 1824.1 1623.8 1826 1626.1 1828 1628.7 1829.9 1631.5 1831.8 1634.5 1833.8 1637.7 1835.7 1641 1837.6 1644.4 1839.6 1647.9 1841.5 1651.5 1843.4 1655.1 1845.4 1658.7 1847.3 1662.3 1849.2 1665.9 1851.2 1669.4 1853.1 1672.8 1855 1676.1 1857 1679.3 1858.9 1682.3 1860.8 1685.2 1862.8 1688 1864.7 1690.6 1866.6 1693.1 1868.6 1695.5 1870.5 1697.8 1872.4 1700 1874.4 1702.1 1876.3 1704.1 1878.2 1706 1880.2 1707.8 1882.1 1709.6 1884 1711.2 1886 1712.8 1887.9 1714.3 1889.8 1715.7 1891.8 1717.1 1893.7 1718.4 1895.6 1719.7 1897.6 1720.9 1899.5 1722.1 1901.4 1723.2 1903.4 1724.3 1905.3 1725.4 1907.2 1726.5 1909.2 1727.5 1911.1 1728.5 1913 1729.5 1915 1730.5 1916.9 1731.4 1918.8 1732.4 1920.8 1733.4 1922.7 1734.4 1924.6 1735.4 1926.6 1736.4 1928.5 1737.5 1930.4 1738.5 1932.4 1739.6 1934.3 1740.7 1936.2 1741.8 1938.2 1742.9 1940.1 1744 1942 1745.2 1944 1746.3 1945.9 1747.5 1947.8 1748.6 1949.8 1749.8 1951.7 1751 1953.6 1752.2 1955.6 1753.4 1957.5 1754.6 1959.4 1755.8 1961.4 1757 1963.3 1758.2 1965.2 1759.4 1967.2 1760.6 1969.1 1761.8 1971 1763 1973 1764.2 1974.9 1765.4 1976.8 1766.6 1978.8 1767.8 1980.7 1769 1982.6 1770.2 1984.6 1771.3 1986.5 1772.5 1988.4 1773.7 1990.4 1774.8 1992.3 1775.9 1994.2 1777.1 1996.2 1778.2 1998.1 1779.3 2000 1780.4 2002 1781.5 2003.9 1782.5 2005.8 1783.6 2007.8 1784.6 2009.7 1785.6 2011.6 1786.6 2013.6 1787.6 2015.5 1788.5 2017.4 1789.5 2019.3 1790.4 2021.3 1791.3 2023.2 1792.1 2025.1 1793 2027.1 1793.8 2029 1794.6 2030.9 1795.3 2032.9 1796.1 2034.8 1796.8 2036.7 1797.4 2038.7 1798.1 2040.6 1798.7 2042.5 1799.3 2044.5 1799.8 2046.4 1800.3 2048.3 1800.8 2050.3 1801.2 2052.2 1801.6 2054.1 1802 2056.1 1802.3 2058 1802.6 2059.9 1802.9 2061.9 1803.1 2063.8 1803.3 2065.7 1803.4 2067.7 1803.5 2069.6 1803.5 2071.5 1803.6 2073.5 1803.6 2075.4 1803.6 2077.3 1803.6 2079.3 1803.5 2081.2 1803.5 2083.1 1803.5 2085.1 1803.5 2087 1803.6 2088.9 1803.6 2090.9 1803.7 2092.8 1803.8 2094.7 1804 2096.7 1804.2 2098.6 1804.5 2100.5 1804.8 2102.5 1805.2 2104.4 1805.7 2106.3 1806.2 2108.3 1806.9 2110.2 1807.6 2112.1 1808.4 2114.1 1809.3 2116 1810.3 2117.9 1811.5 2119.9 1812.7 2121.8 1814.1 2123.7 1815.6 2125.7 1817.2 2127.6 1819 2129.5 1820.9 2131.5 1822.9 2133.4 1825.2 2135.3 1827.5 2137.3 1830.1 2139.2 1832.7 2141.1 1835.5 2143.1 1838.5 2145 1841.5 2146.9 1844.6 2148.9 1847.7 2150.8 1851 2152.7 1854.3 2154.7 1857.6 2156.6 1861 2158.5 1864.4 2160.5 1867.8 2162.4 1871.1 2164.3 1874.5 2166.3 1877.8 2168.2 1881.1 2170.1 1884.4 2172.1 1887.5 2174 1890.6 2175.9 1893.6 2177.9 1896.5 2179.8 1899.2 2181.7 1901.9 2183.7 1904.4 2185.6 1906.7 2187.5 1908.9 2189.5 1910.9 2191.4 1912.7 2193.3 1914.3 2195.3 1915.7 2197.2 1916.9 2199.1 1917.8 2201.1 1918.5 2203 1918.9 2204.9 1919.1 2206.9 1918.9 2208.8 1918.6 2210.7 1918 2212.7 1917.1 2214.6 1916.1 2216.5 1914.9 2218.5 1913.4 2220.4 1911.8 2222.3 1910.1 2224.3 1908.1 2226.2 1906.1 2228.1 1903.9 2230.1 1901.6 2232 1899.2 2233.9 1896.7 2235.9 1894.2 2237.8 1891.5 2239.7 1888.8 2241.7 1886.1 2243.6 1883.4 2245.5 1880.6 2247.5 1877.8 2249.4 1875.1 2251.3 1872.4 2253.2 1869.7 2255.2 1867 2257.1 1864.4 2259 1861.9 2261 1859.5 2262.9 1857.1 2264.8 1854.9 2266.8 1852.8 2268.7 1850.8 2270.6 1849 2272.6 1847.3 2274.5 1845.8 2276.4 1844.5 2278.4 1843.3 2280.3 1842.3 2282.2 1841.4 2284.2 1840.7 2286.1 1840.1 2288 1839.6 2290 1839.3 2291.9 1839 2293.8 1838.9 2295.8 1838.9 2297.7 1839 2299.6 1839.1 2301.6 1839.4 2303.5 1839.7 2305.4 1840.1 2307.4 1840.6 2309.3 1841.2 2311.2 1841.8 2313.2 1842.4 2315.1 1843.1 2317 1843.8 2319 1844.6 2320.9 1845.4 2322.8 1846.2 2324.8 1847 2326.7 1847.8 2328.6 1848.7 2330.6 1849.5 2332.5 1850.3 2334.4 1851.1 2336.4 1851.9 2338.3 1852.6 2340.2 1853.3 2342.2 1854 2344.1 1854.6 2346 1855.2 2348 1855.7 2349.9 1856.2 2351.8 1856.7 2353.8 1857.1 2355.7 1857.5 2357.6 1857.8 2359.6 1858.1 2361.5 1858.4 2363.4 1858.6 2365.4 1858.8 2367.3 1859 2369.2 1859.2 2371.2 1859.3 2373.1 1859.4 2375 1859.5 2377 1859.6 2378.9 1859.6 2380.8 1859.7 2382.8 1859.7 2384.7 1859.7 2386.6 1859.7 2388.6 1859.7 2390.5 1859.7 2392.4 1859.6 2394.4 1859.6 2396.3 1859.6 2398.2 1859.5 2400.2 1859.5 2402.1 1859.5 2404 1859.4 2406 1859.4 2407.9 1859.4 2409.8 1859.4 2411.8 1859.3 2413.7 1859.4 2415.6 1859.4 2417.6 1859.4 2419.5 1859.4 2421.4 1859.5 2423.4 1859.5 2425.3 1859.6 2427.2 1859.7 2429.2 1859.8 2431.1 1859.9 2433 1860 2435 1860.1 2436.9 1860.2 2438.8 1860.3 2440.8 1860.4 2442.7 1860.6 2444.6 1860.7 2446.6 1860.8 2448.5 1861 2450.4 1861.2 2452.4 1861.3 2454.3 1861.5 2456.2 1861.7 2458.2 1861.8 2460.1 1862 2462 1862.2 2464 1862.4 2465.9 1862.6 2467.8 1862.8 2469.8 1863 2471.7 1863.2 2473.6 1863.4 2475.6 1863.6 2477.5 1863.8 2479.4 1864 2481.4 1864.2" fill="none" stroke="#ff0000" stroke-width="3.3" stroke-linecap="round" stroke-linejoin="round"/>
<circle cx="1507.1" cy="1967.5" r="10.8" fill="#ff0000"/><circle cx="1576.7" cy="1962.2" r="10.8" fill="#ff0000"/><circle cx="1646.3" cy="1460.6" r="10.8" fill="#ff0000"/><circle cx="1715.9" cy="1962.7" r="10.8" fill="#ff0000"/><circle cx="1785.5" cy="1667.3" r="10.8" fill="#ff0000"/><circle cx="1855" cy="1676.1" r="10.8" fill="#ff0000"/><circle cx="1924.6" cy="1735.4" r="10.8" fill="#ff0000"/><circle cx="1994.2" cy="1777.1" r="10.8" fill="#ff0000"/><circle cx="2063.8" cy="1803.3" r="10.8" fill="#ff0000"/><circle cx="2133.4" cy="1825.2" r="10.8" fill="#ff0000"/><circle cx="2203" cy="1918.9" r="10.8" fill="#ff0000"/><circle cx="2272.6" cy="1847.3" r="10.8" fill="#ff0000"/><circle cx="2342.2" cy="1854" r="10.8" fill="#ff0000"/><circle cx="2411.8" cy="1859.3" r="10.8" fill="#ff0000"/><circle cx="2481.4" cy="1864.2" r="10.8" fill="#ff0000"/>
<path d="M1507.1 1967.5 1509 1971.3 1511 1975.1 1512.9 1978.8 1514.8 1982.5 1516.8 1986.1 1518.7 1989.6 1520.6 1993 1522.6 1996.3 1524.5 1999.4 1526.4 2002.4 1528.4 2005.2 1530.3 2007.8 1532.2 2010.1 1534.2 2012.3 1536.1 2014.2 1538 2015.8 1540 2017.1 1541.9 2018.1 1543.8 2018.8 1545.8 2019.2 1547.7 2019.2 1549.6 2018.8 1551.6 2018 1553.5 2016.8 1555.4 2015.2 1557.3 2013.1 1559.3 2010.6 1561.2 2007.5 1563.1 2004 1565.1 1999.9 1567 1995.3 1568.9 1990.1 1570.9 1984.4 1572.8 1978.1 1574.7 1971.1 1576.7 1963.5 1578.6 1955.3 1580.5 1946.5 1582.5 1937.1 1584.4 1927.2 1586.3 1916.9 1588.3 1906.2 1590.2 1895.1 1592.1 1883.7 1594.1 1872 1596 1860.2 1597.9 1848.1 1599.9 1836 1601.8 1823.8 1603.7 1811.6 1605.7 1799.4 1607.6 1787.3 1609.5 1775.4 1611.5 1763.6 1613.4 1752.1 1615.3 1740.8 1617.3 1729.9 1619.2 1719.3 1621.1 1709.2 1623.1 1699.6 1625 1690.4 1626.9 1681.9 1628.9 1673.9 1630.8 1666.7 1632.7 1660.2 1634.7 1654.4 1636.6 1649.4 1638.5 1645.4 1640.5 1642.2 1642.4 1640 1644.3 1638.8 1646.3 1638.7 1648.2 1639.7 1650.1 1641.7 1652.1 1644.8 1654 1648.7 1655.9 1653.6 1657.9 1659.2 1659.8 1665.7 1661.7 1672.8 1663.7 1680.6 1665.6 1688.9 1667.5 1697.8 1669.5 1707.2 1671.4 1717 1673.3 1727.1 1675.3 1737.6 1677.2 1748.2 1679.1 1759.1 1681.1 1770.1 1683 1781.1 1684.9 1792.1 1686.9 1803.1 1688.8 1814 1690.7 1824.7 1692.7 1835.2 1694.6 1845.4 1696.5 1855.3 1698.5 1864.7 1700.4 1873.7 1702.3 1882.2 1704.3 1890.1 1706.2 1897.4 1708.1 1903.9 1710.1 1909.8 1712 1914.8 1713.9 1918.9 1715.9 1922.1 1717.8 1924.4 1719.7 1925.7 1721.7 1926.1 1723.6 1925.6 1725.5 1924.3 1727.5 1922.3 1729.4 1919.5 1731.3 1916.1 1733.3 1911.9 1735.2 1907.2 1737.1 1901.9 1739.1 1896.1 1741 1889.8 1742.9 1883.1 1744.9 1875.9 1746.8 1868.4 1748.7 1860.6 1750.7 1852.6 1752.6 1844.2 1754.5 1835.7 1756.5 1827.1 1758.4 1818.4 1760.3 1809.6 1762.3 1800.7 1764.2 1791.9 1766.1 1783.2 1768.1 1774.5 1770 1766 1771.9 1757.7 1773.9 1749.7 1775.8 1741.9 1777.7 1734.4 1779.7 1727.3 1781.6 1720.5 1783.5 1714.2 1785.5 1708.4 1787.4 1703.1 1789.3 1698.4 1791.2 1694.1 1793.2 1690.2 1795.1 1686.9 1797 1684 1799 1681.4 1800.9 1679.3 1802.8 1677.6 1804.8 1676.3 1806.7 1675.3 1808.6 1674.7 1810.6 1674.3 1812.5 1674.3 1814.4 1674.6 1816.4 1675.1 1818.3 1675.9 1820.2 1676.9 1822.2 1678.1 1824.1 1679.6 1826 1681.2 1828 1683 1829.9 1684.9 1831.8 1687 1833.8 1689.2 1835.7 1691.4 1837.6 1693.8 1839.6 1696.2 1841.5 1698.7 1843.4 1701.2 1845.4 1703.7 1847.3 1706.2 1849.2 1708.7 1851.2 1711.2 1853.1 1713.6 1855 1715.9 1857 1718.2 1858.9 1720.3 1860.8 1722.4 1862.8 1724.4 1864.7 1726.3 1866.6 1728.1 1868.6 1729.9 1870.5 1731.6 1872.4 1733.2 1874.4 1734.8 1876.3 1736.3 1878.2 1737.7 1880.2 1739.1 1882.1 1740.4 1884 1741.7 1886 1743 1887.9 1744.1 1889.8 1745.3 1891.8 1746.4 1893.7 1747.5 1895.6 1748.5 1897.6 1749.5 1899.5 1750.5 1901.4 1751.4 1903.4 1752.3 1905.3 1753.2 1907.2 1754.1 1909.2 1754.9 1911.1 1755.8 1913 1756.6 1915 1757.5 1916.9 1758.3 1918.8 1759.1 1920.8 1759.9 1922.7 1760.8 1924.6 1761.6 1926.6 1762.4 1928.5 1763.3 1930.4 1764.1 1932.4 1765 1934.3 1765.8 1936.2 1766.7 1938.2 1767.6 1940.1 1768.5 1942 1769.4 1944 1770.3 1945.9 1771.2 1947.8 1772.1 1949.8 1773 1951.7 1773.9 1953.6 1774.8 1955.6 1775.7 1957.5 1776.6 1959.4 1777.5 1961.4 1778.4 1963.3 1779.3 1965.2 1780.3 1967.2 1781.2 1969.1 1782.1 1971 1783 1973 1783.9 1974.9 1784.8 1976.8 1785.7 1978.8 1786.6 1980.7 1787.5 1982.6 1788.4 1984.6 1789.3 1986.5 1790.2 1988.4 1791 1990.4 1791.9 1992.3 1792.8 1994.2 1793.6 1996.2 1794.5 1998.1 1795.3 2000 1796.2 2002 1797 2003.9 1797.8 2005.8 1798.6 2007.8 1799.4 2009.7 1800.2 2011.6 1801 2013.6 1801.7 2015.5 1802.5 2017.4 1803.2 2019.3 1803.9 2021.3 1804.6 2023.2 1805.3 2025.1 1806 2027.1 1806.6 2029 1807.3 2030.9 1807.9 2032.9 1808.5 2034.8 1809.1 2036.7 1809.6 2038.7 1810.2 2040.6 1810.7 2042.5 1811.2 2044.5 1811.7 2046.4 1812.1 2048.3 1812.5 2050.3 1812.9 2052.2 1813.3 2054.1 1813.7 2056.1 1814 2058 1814.3 2059.9 1814.6 2061.9 1814.8 2063.8 1815 2065.7 1815.2 2067.7 1815.3 2069.6 1815.5 2071.5 1815.6 2073.5 1815.7 2075.4 1815.8 2077.3 1815.9 2079.3 1816 2081.2 1816.1 2083.1 1816.2 2085.1 1816.4 2087 1816.5 2088.9 1816.7 2090.9 1816.9 2092.8 1817.1 2094.7 1817.3 2096.7 1817.6 2098.6 1818 2100.5 1818.4 2102.5 1818.8 2104.4 1819.3 2106.3 1819.9 2108.3 1820.5 2110.2 1821.2 2112.1 1822 2114.1 1822.8 2116 1823.8 2117.9 1824.8 2119.9 1825.9 2121.8 1827.1 2123.7 1828.4 2125.7 1829.8 2127.6 1831.4 2129.5 1833 2131.5 1834.8 2133.4 1836.6 2135.3 1838.6 2137.3 1840.8 2139.2 1843 2141.1 1845.3 2143.1 1847.7 2145 1850.2 2146.9 1852.8 2148.9 1855.4 2150.8 1858 2152.7 1860.7 2154.7 1863.4 2156.6 1866.2 2158.5 1868.9 2160.5 1871.7 2162.4 1874.4 2164.3 1877.1 2166.3 1879.8 2168.2 1882.4 2170.1 1885 2172.1 1887.5 2174 1890 2175.9 1892.3 2177.9 1894.6 2179.8 1896.8 2181.7 1898.9 2183.7 1900.8 2185.6 1902.6 2187.5 1904.3 2189.5 1905.8 2191.4 1907.2 2193.3 1908.4 2195.3 1909.4 2197.2 1910.2 2199.1 1910.8 2201.1 1911.2 2203 1911.4 2204.9 1911.4 2206.9 1911.1 2208.8 1910.7 2210.7 1910 2212.7 1909.2 2214.6 1908.1 2216.5 1907 2218.5 1905.6 2220.4 1904.1 2222.3 1902.5 2224.3 1900.7 2226.2 1898.9 2228.1 1896.9 2230.1 1894.8 2232 1892.7 2233.9 1890.5 2235.9 1888.2 2237.8 1885.9 2239.7 1883.5 2241.7 1881.1 2243.6 1878.7 2245.5 1876.3 2247.5 1873.8 2249.4 1871.4 2251.3 1869 2253.2 1866.7 2255.2 1864.4 2257.1 1862.1 2259 1859.9 2261 1857.8 2262.9 1855.8 2264.8 1853.9 2266.8 1852 2268.7 1850.3 2270.6 1848.8 2272.6 1847.3 2274.5 1846 2276.4 1844.9 2278.4 1843.9 2280.3 1843 2282.2 1842.3 2284.2 1841.7 2286.1 1841.2 2288 1840.8 2290 1840.5 2291.9 1840.3 2293.8 1840.2 2295.8 1840.2 2297.7 1840.3 2299.6 1840.5 2301.6 1840.7 2303.5 1841.1 2305.4 1841.5 2307.4 1841.9 2309.3 1842.4 2311.2 1842.9 2313.2 1843.5 2315.1 1844.2 2317 1844.8 2319 1845.5 2320.9 1846.2 2322.8 1847 2324.8 1847.7 2326.7 1848.4 2328.6 1849.2 2330.6 1849.9 2332.5 1850.7 2334.4 1851.4 2336.4 1852.1 2338.3 1852.8 2340.2 1853.4 2342.2 1854 2344.1 1854.6 2346 1855.1 2348 1855.6 2349.9 1856 2351.8 1856.5 2353.8 1856.8 2355.7 1857.2 2357.6 1857.5 2359.6 1857.8 2361.5 1858 2363.4 1858.3 2365.4 1858.5 2367.3 1858.7 2369.2 1858.8 2371.2 1859 2373.1 1859.1 2375 1859.2 2377 1859.2 2378.9 1859.3 2380.8 1859.4 2382.8 1859.4 2384.7 1859.4 2386.6 1859.4 2388.6 1859.4 2390.5 1859.4 2392.4 1859.4 2394.4 1859.4 2396.3 1859.4 2398.2 1859.4 2400.2 1859.4 2402.1 1859.4 2404 1859.3 2406 1859.3 2407.9 1859.3 2409.8 1859.3 2411.8 1859.3 2413.7 1859.4 2415.6 1859.4 2417.6 1859.4 2419.5 1859.5 2421.4 1859.5 2423.4 1859.6 2425.3 1859.7 2427.2 1859.8 2429.2 1859.9 2431.1 1860 2433 1860.1 2435 1860.2 2436.9 1860.3 2438.8 1860.4 2440.8 1860.5 2442.7 1860.7 2444.6 1860.8 2446.6 1861 2448.5 1861.1 2450.4 1861.3 2452.4 1861.4 2454.3 1861.6 2456.2 1861.8 2458.2 1861.9 2460.1 1862.1 2462 1862.3 2464 1862.5 2465.9 1862.6 2467.8 1862.8 2469.8 1863 2471.7 1863.2 2473.6 1863.4 2475.6 1863.6 2477.5 1863.8 2479.4 1864 2481.4 1864.2" fill="none" stroke="#0000ff" stroke-width="3.3" stroke-linecap="round" stroke-linejoin="round"/>
<polygon points="1507.1,1952.3 1520.8,1975.9 1493.4,1975.9" fill="#0000ff"/><polygon points="1576.7,1948.3 1590.4,1971.9 1563,1971.9" fill="#0000ff"/><polygon points="1646.3,1623.5 1660,1647.1 1632.6,1647.1" fill="#0000ff"/><polygon points="1715.9,1906.9 1729.6,1930.5 1702.2,1930.5" fill="#0000ff"/><polygon points="1785.5,1693.2 1799.2,1716.8 1771.8,1716.8" fill="#0000ff"/><polygon points="1855,1700.7 1868.7,1724.3 1841.3,1724.3" fill="#0000ff"/><polygon points="1924.6,1746.4 1938.3,1770 1910.9,1770" fill="#0000ff"/><polygon points="1994.2,1778.4 2007.9,1802 1980.5,1802" fill="#0000ff"/><polygon points="2063.8,1799.8 2077.5,1823.4 2050.1,1823.4" fill="#0000ff"/><polygon points="2133.4,1821.4 2147.1,1845 2119.7,1845" fill="#0000ff"/><polygon points="2203,1896.2 2216.7,1919.8 2189.3,1919.8" fill="#0000ff"/><polygon points="2272.6,1832.1 2286.3,1855.7 2258.9,1855.7" fill="#0000ff"/><polygon points="2342.2,1838.8 2355.9,1862.4 2328.5,1862.4" fill="#0000ff"/><polygon points="2411.8,1844.1 2425.5,1867.7 2398.1,1867.7" fill="#0000ff"/><polygon points="2481.4,1848.9 2495.1,1872.5 2467.7,1872.5" fill="#0000ff"/>
<path d="M1507.1 1948.8 1509 1953.7 1511 1958.5 1512.9 1963.3 1514.8 1968 1516.8 1972.6 1518.7 1977.1 1520.6 1981.5 1522.6 1985.7 1524.5 1989.7 1526.4 1993.5 1528.4 1997.1 1530.3 2000.4 1532.2 2003.4 1534.2 2006.2 1536.1 2008.6 1538 2010.6 1540 2012.3 1541.9 2013.6 1543.8 2014.5 1545.8 2014.9 1547.7 2014.9 1549.6 2014.3 1551.6 2013.3 1553.5 2011.7 1555.4 2009.6 1557.3 2006.8 1559.3 2003.5 1561.2 1999.6 1563.1 1994.9 1565.1 1989.7 1567 1983.7 1568.9 1977 1570.9 1969.5 1572.8 1961.3 1574.7 1952.3 1576.7 1942.4 1578.6 1931.8 1580.5 1920.3 1582.5 1908.1 1584.4 1895.3 1586.3 1881.8 1588.3 1867.7 1590.2 1853.1 1592.1 1838 1594.1 1822.5 1596 1806.6 1597.9 1790.4 1599.9 1773.9 1601.8 1757.2 1603.7 1740.3 1605.7 1723.4 1607.6 1706.3 1609.5 1689.3 1611.5 1672.3 1613.4 1655.3 1615.3 1638.6 1617.3 1622 1619.2 1605.6 1621.1 1589.6 1623.1 1573.9 1625 1558.7 1626.9 1543.8 1628.9 1529.5 1630.8 1515.8 1632.7 1502.6 1634.7 1490.1 1636.6 1478.3 1638.5 1467.3 1640.5 1457.1 1642.4 1447.8 1644.3 1439.4 1646.3 1432 1648.2 1425.5 1650.1 1420.1 1652.1 1415.6 1654 1412 1655.9 1409.2 1657.9 1407.2 1659.8 1405.9 1661.7 1405.4 1663.7 1405.5 1665.6 1406.2 1667.5 1407.5 1669.5 1409.3 1671.4 1411.6 1673.3 1414.3 1675.3 1417.3 1677.2 1420.8 1679.1 1424.5 1681.1 1428.4 1683 1432.5 1684.9 1436.8 1686.9 1441.2 1688.8 1445.7 1690.7 1450.1 1692.7 1454.6 1694.6 1458.9 1696.5 1463.1 1698.5 1467.2 1700.4 1471 1702.3 1474.6 1704.3 1477.9 1706.2 1480.8 1708.1 1483.3 1710.1 1485.3 1712 1486.9 1713.9 1487.9 1715.9 1488.3 1717.8 1488.1 1719.7 1487.4 1721.7 1486 1723.6 1484.1 1725.5 1481.7 1727.5 1478.9 1729.4 1475.6 1731.3 1471.9 1733.3 1467.8 1735.2 1463.4 1737.1 1458.6 1739.1 1453.6 1741 1448.4 1742.9 1442.9 1744.9 1437.2 1746.8 1431.4 1748.7 1425.5 1750.7 1419.5 1752.6 1413.5 1754.5 1407.4 1756.5 1401.3 1758.4 1395.3 1760.3 1389.3 1762.3 1383.5 1764.2 1377.8 1766.1 1372.2 1768.1 1366.9 1770 1361.8 1771.9 1357 1773.9 1352.5 1775.8 1348.3 1777.7 1344.4 1779.7 1341 1781.6 1338 1783.5 1335.5 1785.5 1333.4 1787.4 1331.9 1789.3 1330.8 1791.2 1330.3 1793.2 1330.2 1795.1 1330.6 1797 1331.4 1799 1332.6 1800.9 1334.2 1802.8 1336.1 1804.8 1338.5 1806.7 1341.1 1808.6 1344 1810.6 1347.3 1812.5 1350.8 1814.4 1354.5 1816.4 1358.5 1818.3 1362.7 1820.2 1367.1 1822.2 1371.7 1824.1 1376.4 1826 1381.2 1828 1386.2 1829.9 1391.3 1831.8 1396.4 1833.8 1401.6 1835.7 1406.8 1837.6 1412 1839.6 1417.2 1841.5 1422.4 1843.4 1427.6 1845.4 1432.7 1847.3 1437.7 1849.2 1442.6 1851.2 1447.4 1853.1 1452.1 1855 1456.5 1857 1460.9 1858.9 1465 1860.8 1468.9 1862.8 1472.7 1864.7 1476.4 1866.6 1479.9 1868.6 1483.2 1870.5 1486.4 1872.4 1489.4 1874.4 1492.3 1876.3 1495.1 1878.2 1497.8 1880.2 1500.4 1882.1 1502.8 1884 1505.1 1886 1507.3 1887.9 1509.5 1889.8 1511.5 1891.8 1513.5 1893.7 1515.4 1895.6 1517.2 1897.6 1518.9 1899.5 1520.6 1901.4 1522.2 1903.4 1523.7 1905.3 1525.2 1907.2 1526.7 1909.2 1528.1 1911.1 1529.5 1913 1530.9 1915 1532.2 1916.9 1533.6 1918.8 1534.9 1920.8 1536.2 1922.7 1537.5 1924.6 1538.8 1926.6 1540.1 1928.5 1541.5 1930.4 1542.8 1932.4 1544.2 1934.3 1545.5 1936.2 1546.9 1938.2 1548.3 1940.1 1549.7 1942 1551.1 1944 1552.5 1945.9 1553.9 1947.8 1555.3 1949.8 1556.8 1951.7 1558.2 1953.6 1559.6 1955.6 1561.1 1957.5 1562.5 1959.4 1564 1961.4 1565.5 1963.3 1566.9 1965.2 1568.4 1967.2 1569.9 1969.1 1571.4 1971 1572.9 1973 1574.3 1974.9 1575.8 1976.8 1577.3 1978.8 1578.8 1980.7 1580.3 1982.6 1581.8 1984.6 1583.3 1986.5 1584.9 1988.4 1586.4 1990.4 1587.9 1992.3 1589.4 1994.2 1590.9 1996.2 1592.4 1998.1 1593.9 2000 1595.4 2002 1596.9 2003.9 1598.4 2005.8 1599.9 2007.8 1601.4 2009.7 1602.8 2011.6 1604.2 2013.6 1605.7 2015.5 1607 2017.4 1608.4 2019.3 1609.7 2021.3 1611 2023.2 1612.3 2025.1 1613.5 2027.1 1614.7 2029 1615.9 2030.9 1617 2032.9 1618.1 2034.8 1619.1 2036.7 1620.1 2038.7 1621 2040.6 1621.9 2042.5 1622.7 2044.5 1623.4 2046.4 1624.1 2048.3 1624.8 2050.3 1625.3 2052.2 1625.8 2054.1 1626.2 2056.1 1626.6 2058 1626.9 2059.9 1627.1 2061.9 1627.2 2063.8 1627.2 2065.7 1627.2 2067.7 1627.1 2069.6 1626.9 2071.5 1626.7 2073.5 1626.4 2075.4 1626.1 2077.3 1625.8 2079.3 1625.5 2081.2 1625.1 2083.1 1624.8 2085.1 1624.6 2087 1624.3 2088.9 1624.2 2090.9 1624 2092.8 1624 2094.7 1624 2096.7 1624.2 2098.6 1624.4 2100.5 1624.8 2102.5 1625.3 2104.4 1625.9 2106.3 1626.7 2108.3 1627.7 2110.2 1628.8 2112.1 1630.1 2114.1 1631.6 2116 1633.3 2117.9 1635.3 2119.9 1637.4 2121.8 1639.9 2123.7 1642.5 2125.7 1645.5 2127.6 1648.7 2129.5 1652.2 2131.5 1656 2133.4 1660.1 2135.3 1664.5 2137.3 1669.2 2139.2 1674.3 2141.1 1679.5 2143.1 1685.1 2145 1690.8 2146.9 1696.8 2148.9 1702.9 2150.8 1709.3 2152.7 1715.8 2154.7 1722.4 2156.6 1729.1 2158.5 1736 2160.5 1742.9 2162.4 1749.9 2164.3 1756.9 2166.3 1763.9 2168.2 1771 2170.1 1778 2172.1 1785 2174 1792 2175.9 1798.8 2177.9 1805.6 2179.8 1812.3 2181.7 1818.9 2183.7 1825.3 2185.6 1831.6 2187.5 1837.6 2189.5 1843.5 2191.4 1849.2 2193.3 1854.6 2195.3 1859.8 2197.2 1864.7 2199.1 1869.3 2201.1 1873.6 2203 1877.5 2204.9 1881.1 2206.9 1884.4 2208.8 1887.4 2210.7 1890 2212.7 1892.3 2214.6 1894.4 2216.5 1896.2 2218.5 1897.7 2220.4 1898.9 2222.3 1900 2224.3 1900.7 2226.2 1901.3 2228.1 1901.7 2230.1 1901.9 2232 1901.9 2233.9 1901.7 2235.9 1901.4 2237.8 1900.9 2239.7 1900.3 2241.7 1899.6 2243.6 1898.7 2245.5 1897.8 2247.5 1896.8 2249.4 1895.7 2251.3 1894.6 2253.2 1893.4 2255.2 1892.2 2257.1 1890.9 2259 1889.6 2261 1888.4 2262.9 1887.1 2264.8 1885.9 2266.8 1884.7 2268.7 1883.6 2270.6 1882.5 2272.6 1881.5 2274.5 1880.6 2276.4 1879.8 2278.4 1879 2280.3 1878.3 2282.2 1877.7 2284.2 1877.2 2286.1 1876.7 2288 1876.3 2290 1876 2291.9 1875.7 2293.8 1875.4 2295.8 1875.3 2297.7 1875.2 2299.6 1875.1 2301.6 1875.1 2303.5 1875.1 2305.4 1875.1 2307.4 1875.2 2309.3 1875.4 2311.2 1875.5 2313.2 1875.7 2315.1 1875.9 2317 1876.2 2319 1876.4 2320.9 1876.7 2322.8 1877 2324.8 1877.3 2326.7 1877.6 2328.6 1878 2330.6 1878.3 2332.5 1878.6 2334.4 1878.9 2336.4 1879.3 2338.3 1879.6 2340.2 1879.9 2342.2 1880.2 2344.1 1880.5 2346 1880.7 2348 1881 2349.9 1881.2 2351.8 1881.4 2353.8 1881.6 2355.7 1881.8 2357.6 1882 2359.6 1882.2 2361.5 1882.4 2363.4 1882.5 2365.4 1882.6 2367.3 1882.8 2369.2 1882.9 2371.2 1883 2373.1 1883.1 2375 1883.2 2377 1883.3 2378.9 1883.4 2380.8 1883.5 2382.8 1883.5 2384.7 1883.6 2386.6 1883.7 2388.6 1883.7 2390.5 1883.8 2392.4 1883.8 2394.4 1883.9 2396.3 1883.9 2398.2 1883.9 2400.2 1884 2402.1 1884 2404 1884 2406 1884.1 2407.9 1884.1 2409.8 1884.2 2411.8 1884.2 2413.7 1884.2 2415.6 1884.3 2417.6 1884.3 2419.5 1884.4 2421.4 1884.4 2423.4 1884.5 2425.3 1884.5 2427.2 1884.6 2429.2 1884.6 2431.1 1884.7 2433 1884.7 2435 1884.8 2436.9 1884.8 2438.8 1884.9 2440.8 1884.9 2442.7 1885 2444.6 1885.1 2446.6 1885.1 2448.5 1885.2 2450.4 1885.2 2452.4 1885.3 2454.3 1885.4 2456.2 1885.4 2458.2 1885.5 2460.1 1885.6 2462 1885.6 2464 1885.7 2465.9 1885.8 2467.8 1885.8 2469.8 1885.9 2471.7 1886 2473.6 1886 2475.6 1886.1 2477.5 1886.2 2479.4 1886.3 2481.4 1886.3" fill="none" stroke="#000000" stroke-width="3.3" stroke-linecap="round" stroke-linejoin="round" stroke-dasharray="12.6 20"/>
<rect x="1497.7" y="1939.4" width="18.8" height="18.8" fill="#fff" stroke="#000000" stroke-width="1.6"/><rect x="1567.3" y="1933" width="18.8" height="18.8" fill="#fff" stroke="#000000" stroke-width="1.6"/><rect x="1636.9" y="1422.6" width="18.8" height="18.8" fill="#fff" stroke="#000000" stroke-width="1.6"/><rect x="1706.5" y="1478.9" width="18.8" height="18.8" fill="#fff" stroke="#000000" stroke-width="1.6"/><rect x="1776" y="1324" width="18.8" height="18.8" fill="#fff" stroke="#000000" stroke-width="1.6"/><rect x="1845.6" y="1447.1" width="18.8" height="18.8" fill="#fff" stroke="#000000" stroke-width="1.6"/><rect x="1915.2" y="1529.4" width="18.8" height="18.8" fill="#fff" stroke="#000000" stroke-width="1.6"/><rect x="1984.8" y="1581.5" width="18.8" height="18.8" fill="#fff" stroke="#000000" stroke-width="1.6"/><rect x="2054.4" y="1617.8" width="18.8" height="18.8" fill="#fff" stroke="#000000" stroke-width="1.6"/><rect x="2124" y="1650.7" width="18.8" height="18.8" fill="#fff" stroke="#000000" stroke-width="1.6"/><rect x="2193.6" y="1868.1" width="18.8" height="18.8" fill="#fff" stroke="#000000" stroke-width="1.6"/><rect x="2263.2" y="1872.1" width="18.8" height="18.8" fill="#fff" stroke="#000000" stroke-width="1.6"/><rect x="2332.8" y="1870.8" width="18.8" height="18.8" fill="#fff" stroke="#000000" stroke-width="1.6"/><rect x="2402.4" y="1874.8" width="18.8" height="18.8" fill="#fff" stroke="#000000" stroke-width="1.6"/><rect x="2472" y="1876.9" width="18.8" height="18.8" fill="#fff" stroke="#000000" stroke-width="1.6"/>
<path d="M1507.1 1967.5 1509 1972.3 1511 1977.1 1512.9 1981.9 1514.8 1986.5 1516.8 1991.1 1518.7 1995.5 1520.6 1999.7 1522.6 2003.8 1524.5 2007.6 1526.4 2011.1 1528.4 2014.4 1530.3 2017.4 1532.2 2020.1 1534.2 2022.4 1536.1 2024.3 1538 2025.7 1540 2026.8 1541.9 2027.3 1543.8 2027.4 1545.8 2026.9 1547.7 2025.9 1549.6 2024.3 1551.6 2022.1 1553.5 2019.2 1555.4 2015.7 1557.3 2011.4 1559.3 2006.5 1561.2 2000.8 1563.1 1994.3 1565.1 1987 1567 1978.9 1568.9 1969.9 1570.9 1960 1572.8 1949.2 1574.7 1937.5 1576.7 1924.8 1578.6 1911.1 1580.5 1896.4 1582.5 1880.9 1584.4 1864.6 1586.3 1847.4 1588.3 1829.6 1590.2 1811.2 1592.1 1792.1 1594.1 1772.5 1596 1752.5 1597.9 1732 1599.9 1711.2 1601.8 1690.2 1603.7 1668.8 1605.7 1647.4 1607.6 1625.8 1609.5 1604.1 1611.5 1582.5 1613.4 1561 1615.3 1539.5 1617.3 1518.3 1619.2 1497.3 1621.1 1476.6 1623.1 1456.3 1625 1436.4 1626.9 1417 1628.9 1398.2 1630.8 1379.9 1632.7 1362.3 1634.7 1345.5 1636.6 1329.4 1638.5 1314.2 1640.5 1299.8 1642.4 1286.5 1644.3 1274.1 1646.3 1262.9 1648.2 1252.8 1650.1 1243.7 1652.1 1235.7 1654 1228.8 1655.9 1222.7 1657.9 1217.6 1659.8 1213.4 1661.7 1210 1663.7 1207.3 1665.6 1205.4 1667.5 1204.2 1669.5 1203.6 1671.4 1203.6 1673.3 1204.1 1675.3 1205.2 1677.2 1206.7 1679.1 1208.6 1681.1 1210.9 1683 1213.5 1684.9 1216.3 1686.9 1219.4 1688.8 1222.7 1690.7 1226.1 1692.7 1229.6 1694.6 1233.1 1696.5 1236.7 1698.5 1240.2 1700.4 1243.6 1702.3 1246.8 1704.3 1249.9 1706.2 1252.7 1708.1 1255.3 1710.1 1257.5 1712 1259.4 1713.9 1260.8 1715.9 1261.8 1717.8 1262.3 1719.7 1262.3 1721.7 1261.9 1723.6 1261.1 1725.5 1259.8 1727.5 1258.2 1729.4 1256.3 1731.3 1254.1 1733.3 1251.6 1735.2 1248.8 1737.1 1245.8 1739.1 1242.7 1741 1239.4 1742.9 1235.9 1744.9 1232.4 1746.8 1228.8 1748.7 1225.1 1750.7 1221.5 1752.6 1217.8 1754.5 1214.2 1756.5 1210.7 1758.4 1207.3 1760.3 1204 1762.3 1200.9 1764.2 1197.9 1766.1 1195.2 1768.1 1192.7 1770 1190.5 1771.9 1188.7 1773.9 1187.1 1775.8 1185.9 1777.7 1185.1 1779.7 1184.8 1781.6 1184.9 1783.5 1185.4 1785.5 1186.5 1787.4 1188.1 1789.3 1190.2 1791.2 1192.8 1793.2 1195.9 1795.1 1199.5 1797 1203.4 1799 1207.8 1800.9 1212.5 1802.8 1217.6 1804.8 1223 1806.7 1228.7 1808.6 1234.7 1810.6 1240.9 1812.5 1247.4 1814.4 1254.1 1816.4 1261 1818.3 1268 1820.2 1275.2 1822.2 1282.5 1824.1 1289.9 1826 1297.3 1828 1304.8 1829.9 1312.4 1831.8 1319.9 1833.8 1327.4 1835.7 1334.8 1837.6 1342.2 1839.6 1349.5 1841.5 1356.7 1843.4 1363.7 1845.4 1370.5 1847.3 1377.2 1849.2 1383.7 1851.2 1389.9 1853.1 1395.8 1855 1401.5 1857 1406.9 1858.9 1412 1860.8 1416.8 1862.8 1421.3 1864.7 1425.6 1866.6 1429.6 1868.6 1433.4 1870.5 1437 1872.4 1440.4 1874.4 1443.6 1876.3 1446.6 1878.2 1449.4 1880.2 1452.1 1882.1 1454.6 1884 1457.1 1886 1459.4 1887.9 1461.6 1889.8 1463.7 1891.8 1465.7 1893.7 1467.7 1895.6 1469.6 1897.6 1471.5 1899.5 1473.3 1901.4 1475.2 1903.4 1477 1905.3 1478.9 1907.2 1480.7 1909.2 1482.7 1911.1 1484.6 1913 1486.6 1915 1488.8 1916.9 1491 1918.8 1493.3 1920.8 1495.7 1922.7 1498.2 1924.6 1500.9 1926.6 1503.7 1928.5 1506.7 1930.4 1509.8 1932.4 1513.1 1934.3 1516.4 1936.2 1519.9 1938.2 1523.5 1940.1 1527.2 1942 1531.1 1944 1535 1945.9 1538.9 1947.8 1543 1949.8 1547.1 1951.7 1551.3 1953.6 1555.6 1955.6 1559.9 1957.5 1564.2 1959.4 1568.6 1961.4 1573 1963.3 1577.5 1965.2 1581.9 1967.2 1586.4 1969.1 1590.8 1971 1595.3 1973 1599.7 1974.9 1604.2 1976.8 1608.6 1978.8 1612.9 1980.7 1617.3 1982.6 1621.6 1984.6 1625.8 1986.5 1630 1988.4 1634.1 1990.4 1638.1 1992.3 1642.1 1994.2 1645.9 1996.2 1649.7 1998.1 1653.4 2000 1657 2002 1660.5 2003.9 1663.9 2005.8 1667.2 2007.8 1670.5 2009.7 1673.7 2011.6 1676.8 2013.6 1679.8 2015.5 1682.8 2017.4 1685.7 2019.3 1688.5 2021.3 1691.2 2023.2 1693.9 2025.1 1696.6 2027.1 1699.2 2029 1701.7 2030.9 1704.2 2032.9 1706.6 2034.8 1708.9 2036.7 1711.3 2038.7 1713.6 2040.6 1715.8 2042.5 1718 2044.5 1720.2 2046.4 1722.3 2048.3 1724.4 2050.3 1726.4 2052.2 1728.5 2054.1 1730.5 2056.1 1732.5 2058 1734.4 2059.9 1736.4 2061.9 1738.3 2063.8 1740.2 2065.7 1742.1 2067.7 1744 2069.6 1745.9 2071.5 1747.7 2073.5 1749.6 2075.4 1751.4 2077.3 1753.3 2079.3 1755.1 2081.2 1756.9 2083.1 1758.6 2085.1 1760.4 2087 1762.2 2088.9 1763.9 2090.9 1765.6 2092.8 1767.4 2094.7 1769 2096.7 1770.7 2098.6 1772.4 2100.5 1774.1 2102.5 1775.7 2104.4 1777.3 2106.3 1778.9 2108.3 1780.5 2110.2 1782.1 2112.1 1783.7 2114.1 1785.2 2116 1786.7 2117.9 1788.3 2119.9 1789.8 2121.8 1791.2 2123.7 1792.7 2125.7 1794.2 2127.6 1795.6 2129.5 1797 2131.5 1798.4 2133.4 1799.8 2135.3 1801.1 2137.3 1802.5 2139.2 1803.8 2141.1 1805.1 2143.1 1806.4 2145 1807.7 2146.9 1809 2148.9 1810.2 2150.8 1811.5 2152.7 1812.7 2154.7 1813.9 2156.6 1815.1 2158.5 1816.3 2160.5 1817.4 2162.4 1818.6 2164.3 1819.7 2166.3 1820.8 2168.2 1821.9 2170.1 1823 2172.1 1824.1 2174 1825.2 2175.9 1826.2 2177.9 1827.3 2179.8 1828.3 2181.7 1829.3 2183.7 1830.3 2185.6 1831.3 2187.5 1832.3 2189.5 1833.3 2191.4 1834.3 2193.3 1835.2 2195.3 1836.2 2197.2 1837.1 2199.1 1838 2201.1 1838.9 2203 1839.8 2204.9 1840.7 2206.9 1841.6 2208.8 1842.5 2210.7 1843.4 2212.7 1844.3 2214.6 1845.1 2216.5 1846 2218.5 1846.8 2220.4 1847.6 2222.3 1848.5 2224.3 1849.3 2226.2 1850.1 2228.1 1850.9 2230.1 1851.7 2232 1852.5 2233.9 1853.3 2235.9 1854.1 2237.8 1854.9 2239.7 1855.6 2241.7 1856.4 2243.6 1857.2 2245.5 1857.9 2247.5 1858.7 2249.4 1859.4 2251.3 1860.2 2253.2 1860.9 2255.2 1861.7 2257.1 1862.4 2259 1863.1 2261 1863.9 2262.9 1864.6 2264.8 1865.3 2266.8 1866 2268.7 1866.7 2270.6 1867.5 2272.6 1868.2 2274.5 1868.9 2276.4 1869.6 2278.4 1870.3 2280.3 1871 2282.2 1871.7 2284.2 1872.4 2286.1 1873.1 2288 1873.8 2290 1874.5 2291.9 1875.2 2293.8 1875.8 2295.8 1876.5 2297.7 1877.2 2299.6 1877.8 2301.6 1878.5 2303.5 1879.2 2305.4 1879.8 2307.4 1880.5 2309.3 1881.1 2311.2 1881.7 2313.2 1882.4 2315.1 1883 2317 1883.6 2319 1884.2 2320.9 1884.8 2322.8 1885.4 2324.8 1886 2326.7 1886.6 2328.6 1887.1 2330.6 1887.7 2332.5 1888.2 2334.4 1888.8 2336.4 1889.3 2338.3 1889.8 2340.2 1890.4 2342.2 1890.9 2344.1 1891.4 2346 1891.9 2348 1892.3 2349.9 1892.8 2351.8 1893.3 2353.8 1893.7 2355.7 1894.2 2357.6 1894.6 2359.6 1895 2361.5 1895.4 2363.4 1895.8 2365.4 1896.2 2367.3 1896.6 2369.2 1897 2371.2 1897.4 2373.1 1897.8 2375 1898.2 2377 1898.5 2378.9 1898.9 2380.8 1899.2 2382.8 1899.6 2384.7 1899.9 2386.6 1900.2 2388.6 1900.6 2390.5 1900.9 2392.4 1901.2 2394.4 1901.5 2396.3 1901.8 2398.2 1902.2 2400.2 1902.5 2402.1 1902.8 2404 1903.1 2406 1903.4 2407.9 1903.6 2409.8 1903.9 2411.8 1904.2 2413.7 1904.5 2415.6 1904.8 2417.6 1905.1 2419.5 1905.4 2421.4 1905.6 2423.4 1905.9 2425.3 1906.2 2427.2 1906.4 2429.2 1906.7 2431.1 1907 2433 1907.2 2435 1907.5 2436.9 1907.8 2438.8 1908 2440.8 1908.3 2442.7 1908.6 2444.6 1908.8 2446.6 1909.1 2448.5 1909.3 2450.4 1909.6 2452.4 1909.8 2454.3 1910.1 2456.2 1910.3 2458.2 1910.6 2460.1 1910.8 2462 1911.1 2464 1911.3 2465.9 1911.6 2467.8 1911.8 2469.8 1912.1 2471.7 1912.3 2473.6 1912.6 2475.6 1912.8 2477.5 1913.1 2479.4 1913.3 2481.4 1913.6" fill="none" stroke="#ff0000" stroke-width="3.3" stroke-linecap="round" stroke-linejoin="round" stroke-dasharray="12.6 20"/>
<circle cx="1507.1" cy="1967.5" r="10" fill="#fff" stroke="#ff0000" stroke-width="1.6"/><circle cx="1576.7" cy="1924.8" r="10" fill="#fff" stroke="#ff0000" stroke-width="1.6"/><circle cx="1646.3" cy="1262.9" r="10" fill="#fff" stroke="#ff0000" stroke-width="1.6"/><circle cx="1715.9" cy="1261.8" r="10" fill="#fff" stroke="#ff0000" stroke-width="1.6"/><circle cx="1785.5" cy="1186.5" r="10" fill="#fff" stroke="#ff0000" stroke-width="1.6"/><circle cx="1855" cy="1401.5" r="10" fill="#fff" stroke="#ff0000" stroke-width="1.6"/><circle cx="1924.6" cy="1500.9" r="10" fill="#fff" stroke="#ff0000" stroke-width="1.6"/><circle cx="1994.2" cy="1645.9" r="10" fill="#fff" stroke="#ff0000" stroke-width="1.6"/><circle cx="2063.8" cy="1740.2" r="10" fill="#fff" stroke="#ff0000" stroke-width="1.6"/><circle cx="2133.4" cy="1799.8" r="10" fill="#fff" stroke="#ff0000" stroke-width="1.6"/><circle cx="2203" cy="1839.8" r="10" fill="#fff" stroke="#ff0000" stroke-width="1.6"/><circle cx="2272.6" cy="1868.2" r="10" fill="#fff" stroke="#ff0000" stroke-width="1.6"/><circle cx="2342.2" cy="1890.9" r="10" fill="#fff" stroke="#ff0000" stroke-width="1.6"/><circle cx="2411.8" cy="1904.2" r="10" fill="#fff" stroke="#ff0000" stroke-width="1.6"/><circle cx="2481.4" cy="1913.6" r="10" fill="#fff" stroke="#ff0000" stroke-width="1.6"/>
<path d="M1507.1 1967.5 1509 1969.4 1511 1971.4 1512.9 1973.2 1514.8 1975.1 1516.8 1976.9 1518.7 1978.7 1520.6 1980.4 1522.6 1982.1 1524.5 1983.6 1526.4 1985.1 1528.4 1986.5 1530.3 1987.8 1532.2 1989 1534.2 1990 1536.1 1991 1538 1991.7 1540 1992.4 1541.9 1992.8 1543.8 1993.1 1545.8 1993.2 1547.7 1993.2 1549.6 1992.9 1551.6 1992.4 1553.5 1991.7 1555.4 1990.8 1557.3 1989.6 1559.3 1988.2 1561.2 1986.5 1563.1 1984.5 1565.1 1982.3 1567 1979.8 1568.9 1977 1570.9 1973.9 1572.8 1970.5 1574.7 1966.8 1576.7 1962.7 1578.6 1958.3 1580.5 1953.6 1582.5 1948.5 1584.4 1943.1 1586.3 1937.4 1588.3 1931.4 1590.2 1925.2 1592.1 1918.6 1594.1 1911.8 1596 1904.6 1597.9 1897.3 1599.9 1889.7 1601.8 1881.8 1603.7 1873.7 1605.7 1865.4 1607.6 1856.9 1609.5 1848.1 1611.5 1839.2 1613.4 1830.1 1615.3 1820.8 1617.3 1811.3 1619.2 1801.6 1621.1 1791.8 1623.1 1781.9 1625 1771.8 1626.9 1761.6 1628.9 1751.2 1630.8 1740.8 1632.7 1730.2 1634.7 1719.5 1636.6 1708.8 1638.5 1697.9 1640.5 1687 1642.4 1676.1 1644.3 1665 1646.3 1653.9 1648.2 1642.8 1650.1 1631.7 1652.1 1620.5 1654 1609.4 1655.9 1598.3 1657.9 1587.2 1659.8 1576.2 1661.7 1565.3 1663.7 1554.4 1665.6 1543.7 1667.5 1533.1 1669.5 1522.6 1671.4 1512.3 1673.3 1502.2 1675.3 1492.2 1677.2 1482.5 1679.1 1473 1681.1 1463.7 1683 1454.7 1684.9 1445.9 1686.9 1437.4 1688.8 1429.3 1690.7 1421.4 1692.7 1413.9 1694.6 1406.8 1696.5 1400 1698.5 1393.6 1700.4 1387.6 1702.3 1382 1704.3 1376.9 1706.2 1372.2 1708.1 1368 1710.1 1364.3 1712 1361 1713.9 1358.3 1715.9 1356.1 1717.8 1354.5 1719.7 1353.4 1721.7 1352.8 1723.6 1352.6 1725.5 1353 1727.5 1353.8 1729.4 1355 1731.3 1356.7 1733.3 1358.7 1735.2 1361.1 1737.1 1363.8 1739.1 1366.9 1741 1370.3 1742.9 1373.9 1744.9 1377.9 1746.8 1382 1748.7 1386.4 1750.7 1391 1752.6 1395.8 1754.5 1400.8 1756.5 1405.9 1758.4 1411.1 1760.3 1416.5 1762.3 1421.9 1764.2 1427.4 1766.1 1432.9 1768.1 1438.5 1770 1444 1771.9 1449.6 1773.9 1455.1 1775.8 1460.5 1777.7 1465.9 1779.7 1471.2 1781.6 1476.3 1783.5 1481.3 1785.5 1486.2 1787.4 1490.9 1789.3 1495.4 1791.2 1499.7 1793.2 1503.9 1795.1 1507.9 1797 1511.8 1799 1515.5 1800.9 1519.1 1802.8 1522.5 1804.8 1525.8 1806.7 1529 1808.6 1532 1810.6 1534.9 1812.5 1537.7 1814.4 1540.4 1816.4 1543 1818.3 1545.5 1820.2 1547.8 1822.2 1550.1 1824.1 1552.3 1826 1554.4 1828 1556.4 1829.9 1558.3 1831.8 1560.2 1833.8 1562 1835.7 1563.7 1837.6 1565.4 1839.6 1567 1841.5 1568.6 1843.4 1570.1 1845.4 1571.6 1847.3 1573.1 1849.2 1574.5 1851.2 1575.9 1853.1 1577.3 1855 1578.6 1857 1580 1858.9 1581.3 1860.8 1582.6 1862.8 1583.9 1864.7 1585.2 1866.6 1586.5 1868.6 1587.8 1870.5 1589 1872.4 1590.3 1874.4 1591.5 1876.3 1592.7 1878.2 1593.9 1880.2 1595.1 1882.1 1596.3 1884 1597.5 1886 1598.7 1887.9 1599.8 1889.8 1601 1891.8 1602.1 1893.7 1603.2 1895.6 1604.3 1897.6 1605.4 1899.5 1606.5 1901.4 1607.6 1903.4 1608.7 1905.3 1609.7 1907.2 1610.8 1909.2 1611.8 1911.1 1612.8 1913 1613.9 1915 1614.9 1916.9 1615.9 1918.8 1616.8 1920.8 1617.8 1922.7 1618.8 1924.6 1619.8 1926.6 1620.7 1928.5 1621.6 1930.4 1622.6 1932.4 1623.5 1934.3 1624.4 1936.2 1625.3 1938.2 1626.2 1940.1 1627.1 1942 1628 1944 1628.8 1945.9 1629.7 1947.8 1630.6 1949.8 1631.4 1951.7 1632.3 1953.6 1633.1 1955.6 1634 1957.5 1634.8 1959.4 1635.7 1961.4 1636.5 1963.3 1637.3 1965.2 1638.2 1967.2 1639 1969.1 1639.8 1971 1640.6 1973 1641.4 1974.9 1642.3 1976.8 1643.1 1978.8 1643.9 1980.7 1644.7 1982.6 1645.5 1984.6 1646.4 1986.5 1647.2 1988.4 1648 1990.4 1648.8 1992.3 1649.6 1994.2 1650.5 1996.2 1651.3 1998.1 1652.1 2000 1653 2002 1653.8 2003.9 1654.6 2005.8 1655.4 2007.8 1656.3 2009.7 1657.1 2011.6 1657.9 2013.6 1658.7 2015.5 1659.5 2017.4 1660.3 2019.3 1661 2021.3 1661.8 2023.2 1662.6 2025.1 1663.3 2027.1 1664 2029 1664.7 2030.9 1665.4 2032.9 1666.1 2034.8 1666.7 2036.7 1667.3 2038.7 1667.9 2040.6 1668.5 2042.5 1669.1 2044.5 1669.6 2046.4 1670.1 2048.3 1670.6 2050.3 1671 2052.2 1671.4 2054.1 1671.8 2056.1 1672.1 2058 1672.4 2059.9 1672.7 2061.9 1673 2063.8 1673.2 2065.7 1673.3 2067.7 1673.5 2069.6 1673.6 2071.5 1673.7 2073.5 1673.8 2075.4 1673.8 2077.3 1673.9 2079.3 1674 2081.2 1674.1 2083.1 1674.2 2085.1 1674.3 2087 1674.4 2088.9 1674.6 2090.9 1674.9 2092.8 1675.1 2094.7 1675.5 2096.7 1675.9 2098.6 1676.4 2100.5 1676.9 2102.5 1677.5 2104.4 1678.2 2106.3 1679 2108.3 1679.9 2110.2 1680.9 2112.1 1682 2114.1 1683.3 2116 1684.6 2117.9 1686.1 2119.9 1687.7 2121.8 1689.5 2123.7 1691.4 2125.7 1693.4 2127.6 1695.7 2129.5 1698.1 2131.5 1700.6 2133.4 1703.4 2135.3 1706.3 2137.3 1709.4 2139.2 1712.6 2141.1 1716.1 2143.1 1719.6 2145 1723.3 2146.9 1727.2 2148.9 1731.1 2150.8 1735.1 2152.7 1739.3 2154.7 1743.5 2156.6 1747.8 2158.5 1752.2 2160.5 1756.6 2162.4 1761.1 2164.3 1765.6 2166.3 1770.1 2168.2 1774.6 2170.1 1779.2 2172.1 1783.7 2174 1788.2 2175.9 1792.7 2177.9 1797.2 2179.8 1801.6 2181.7 1806 2183.7 1810.3 2185.6 1814.5 2187.5 1818.6 2189.5 1822.6 2191.4 1826.6 2193.3 1830.4 2195.3 1834.1 2197.2 1837.6 2199.1 1841 2201.1 1844.3 2203 1847.3 2204.9 1850.2 2206.9 1853 2208.8 1855.5 2210.7 1857.9 2212.7 1860.2 2214.6 1862.3 2216.5 1864.2 2218.5 1866.1 2220.4 1867.7 2222.3 1869.3 2224.3 1870.7 2226.2 1872 2228.1 1873.2 2230.1 1874.3 2232 1875.2 2233.9 1876.1 2235.9 1876.9 2237.8 1877.6 2239.7 1878.2 2241.7 1878.7 2243.6 1879.2 2245.5 1879.6 2247.5 1879.9 2249.4 1880.2 2251.3 1880.4 2253.2 1880.5 2255.2 1880.7 2257.1 1880.7 2259 1880.8 2261 1880.8 2262.9 1880.8 2264.8 1880.8 2266.8 1880.8 2268.7 1880.8 2270.6 1880.7 2272.6 1880.7 2274.5 1880.7 2276.4 1880.7 2278.4 1880.7 2280.3 1880.7 2282.2 1880.7 2284.2 1880.7 2286.1 1880.8 2288 1880.8 2290 1880.9 2291.9 1880.9 2293.8 1881 2295.8 1881 2297.7 1881.1 2299.6 1881.2 2301.6 1881.2 2303.5 1881.3 2305.4 1881.4 2307.4 1881.5 2309.3 1881.6 2311.2 1881.7 2313.2 1881.8 2315.1 1881.9 2317 1882 2319 1882.1 2320.9 1882.2 2322.8 1882.3 2324.8 1882.4 2326.7 1882.5 2328.6 1882.6 2330.6 1882.7 2332.5 1882.9 2334.4 1883 2336.4 1883.1 2338.3 1883.2 2340.2 1883.3 2342.2 1883.4 2344.1 1883.5 2346 1883.6 2348 1883.7 2349.9 1883.8 2351.8 1883.9 2353.8 1884 2355.7 1884 2357.6 1884.1 2359.6 1884.2 2361.5 1884.3 2363.4 1884.4 2365.4 1884.5 2367.3 1884.5 2369.2 1884.6 2371.2 1884.7 2373.1 1884.8 2375 1884.8 2377 1884.9 2378.9 1885 2380.8 1885.1 2382.8 1885.1 2384.7 1885.2 2386.6 1885.3 2388.6 1885.3 2390.5 1885.4 2392.4 1885.4 2394.4 1885.5 2396.3 1885.6 2398.2 1885.6 2400.2 1885.7 2402.1 1885.8 2404 1885.8 2406 1885.9 2407.9 1885.9 2409.8 1886 2411.8 1886.1 2413.7 1886.1 2415.6 1886.2 2417.6 1886.2 2419.5 1886.3 2421.4 1886.4 2423.4 1886.4 2425.3 1886.5 2427.2 1886.5 2429.2 1886.6 2431.1 1886.7 2433 1886.7 2435 1886.8 2436.9 1886.8 2438.8 1886.9 2440.8 1887 2442.7 1887 2444.6 1887.1 2446.6 1887.1 2448.5 1887.2 2450.4 1887.3 2452.4 1887.3 2454.3 1887.4 2456.2 1887.4 2458.2 1887.5 2460.1 1887.5 2462 1887.6 2464 1887.7 2465.9 1887.7 2467.8 1887.8 2469.8 1887.8 2471.7 1887.9 2473.6 1888 2475.6 1888 2477.5 1888.1 2479.4 1888.1 2481.4 1888.2" fill="none" stroke="#0000ff" stroke-width="3.3" stroke-linecap="round" stroke-linejoin="round" stroke-dasharray="12.6 20"/>
<polygon points="1507.1,1953.5 1519.8,1975.3 1494.4,1975.3" fill="#fff" stroke="#0000ff" stroke-width="1.6"/><polygon points="1576.7,1948.7 1589.4,1970.5 1564,1970.5" fill="#fff" stroke="#0000ff" stroke-width="1.6"/><polygon points="1646.3,1639.9 1659,1661.7 1633.6,1661.7" fill="#fff" stroke="#0000ff" stroke-width="1.6"/><polygon points="1715.9,1342.1 1728.6,1363.9 1703.2,1363.9" fill="#fff" stroke="#0000ff" stroke-width="1.6"/><polygon points="1785.5,1472.1 1798.2,1493.9 1772.8,1493.9" fill="#fff" stroke="#0000ff" stroke-width="1.6"/><polygon points="1855,1564.6 1867.7,1586.4 1842.3,1586.4" fill="#fff" stroke="#0000ff" stroke-width="1.6"/><polygon points="1924.6,1605.7 1937.3,1627.5 1911.9,1627.5" fill="#fff" stroke="#0000ff" stroke-width="1.6"/><polygon points="1994.2,1636.4 2006.9,1658.2 1981.5,1658.2" fill="#fff" stroke="#0000ff" stroke-width="1.6"/><polygon points="2063.8,1659.1 2076.5,1680.9 2051.1,1680.9" fill="#fff" stroke="#0000ff" stroke-width="1.6"/><polygon points="2133.4,1689.3 2146.1,1711.1 2120.7,1711.1" fill="#fff" stroke="#0000ff" stroke-width="1.6"/><polygon points="2203,1833.3 2215.7,1855.1 2190.3,1855.1" fill="#fff" stroke="#0000ff" stroke-width="1.6"/><polygon points="2272.6,1866.7 2285.3,1888.5 2259.9,1888.5" fill="#fff" stroke="#0000ff" stroke-width="1.6"/><polygon points="2342.2,1869.3 2354.9,1891.1 2329.5,1891.1" fill="#fff" stroke="#0000ff" stroke-width="1.6"/><polygon points="2411.8,1872 2424.5,1893.8 2399.1,1893.8" fill="#fff" stroke="#0000ff" stroke-width="1.6"/><polygon points="2481.4,1874.1 2494.1,1895.9 2468.7,1895.9" fill="#fff" stroke="#0000ff" stroke-width="1.6"/>
<path d="M1507.1 1967.5 1509 1966.9 1511 1966.4 1512.9 1965.8 1514.8 1965.2 1516.8 1964.7 1518.7 1964.1 1520.6 1963.6 1522.6 1963.1 1524.5 1962.6 1526.4 1962.1 1528.4 1961.7 1530.3 1961.3 1532.2 1960.9 1534.2 1960.6 1536.1 1960.3 1538 1960 1540 1959.8 1541.9 1959.6 1543.8 1959.5 1545.8 1959.4 1547.7 1959.4 1549.6 1959.5 1551.6 1959.6 1553.5 1959.7 1555.4 1959.9 1557.3 1960.2 1559.3 1960.6 1561.2 1961.1 1563.1 1961.6 1565.1 1962.2 1567 1962.8 1568.9 1963.6 1570.9 1964.4 1572.8 1965.4 1574.7 1966.4 1576.7 1967.5 1578.6 1968.7 1580.5 1970 1582.5 1971.4 1584.4 1972.8 1586.3 1974.3 1588.3 1975.8 1590.2 1977.3 1592.1 1978.8 1594.1 1980.3 1596 1981.8 1597.9 1983.2 1599.9 1984.6 1601.8 1985.9 1603.7 1987.2 1605.7 1988.3 1607.6 1989.3 1609.5 1990.2 1611.5 1991 1613.4 1991.6 1615.3 1992 1617.3 1992.3 1619.2 1992.4 1621.1 1992.2 1623.1 1991.9 1625 1991.3 1626.9 1990.5 1628.9 1989.4 1630.8 1988 1632.7 1986.3 1634.7 1984.3 1636.6 1982.1 1638.5 1979.4 1640.5 1976.5 1642.4 1973.2 1644.3 1969.5 1646.3 1965.4 1648.2 1960.9 1650.1 1956.1 1652.1 1950.9 1654 1945.4 1655.9 1939.6 1657.9 1933.5 1659.8 1927.2 1661.7 1920.8 1663.7 1914.1 1665.6 1907.3 1667.5 1900.4 1669.5 1893.3 1671.4 1886.2 1673.3 1879.1 1675.3 1872 1677.2 1864.9 1679.1 1857.8 1681.1 1850.8 1683 1844 1684.9 1837.2 1686.9 1830.6 1688.8 1824.3 1690.7 1818.1 1692.7 1812.2 1694.6 1806.5 1696.5 1801.1 1698.5 1796.1 1700.4 1791.5 1702.3 1787.2 1704.3 1783.3 1706.2 1779.9 1708.1 1776.9 1710.1 1774.5 1712 1772.6 1713.9 1771.2 1715.9 1770.4 1717.8 1770.2 1719.7 1770.6 1721.7 1771.5 1723.6 1773 1725.5 1775 1727.5 1777.4 1729.4 1780.3 1731.3 1783.5 1733.3 1787.1 1735.2 1791.1 1737.1 1795.4 1739.1 1800 1741 1804.8 1742.9 1809.9 1744.9 1815.1 1746.8 1820.5 1748.7 1826.1 1750.7 1831.8 1752.6 1837.5 1754.5 1843.3 1756.5 1849.1 1758.4 1854.9 1760.3 1860.7 1762.3 1866.4 1764.2 1872 1766.1 1877.4 1768.1 1882.7 1770 1887.8 1771.9 1892.7 1773.9 1897.4 1775.8 1901.7 1777.7 1905.8 1779.7 1909.5 1781.6 1912.9 1783.5 1915.8 1785.5 1918.4 1787.4 1920.5 1789.3 1922.1 1791.2 1923.4 1793.2 1924.2 1795.1 1924.7 1797 1924.8 1799 1924.6 1800.9 1924 1802.8 1923.2 1804.8 1922 1806.7 1920.6 1808.6 1919 1810.6 1917.2 1812.5 1915.1 1814.4 1912.9 1816.4 1910.5 1818.3 1907.9 1820.2 1905.3 1822.2 1902.5 1824.1 1899.6 1826 1896.7 1828 1893.8 1829.9 1890.8 1831.8 1887.8 1833.8 1884.8 1835.7 1881.8 1837.6 1878.9 1839.6 1876.1 1841.5 1873.3 1843.4 1870.7 1845.4 1868.2 1847.3 1865.8 1849.2 1863.6 1851.2 1861.6 1853.1 1859.8 1855 1858.3 1857 1857 1858.9 1855.9 1860.8 1855 1862.8 1854.4 1864.7 1853.9 1866.6 1853.7 1868.6 1853.6 1870.5 1853.8 1872.4 1854.1 1874.4 1854.5 1876.3 1855.1 1878.2 1855.9 1880.2 1856.8 1882.1 1857.8 1884 1859 1886 1860.2 1887.9 1861.5 1889.8 1863 1891.8 1864.5 1893.7 1866 1895.6 1867.7 1897.6 1869.4 1899.5 1871.1 1901.4 1872.8 1903.4 1874.6 1905.3 1876.4 1907.2 1878.2 1909.2 1880 1911.1 1881.8 1913 1883.5 1915 1885.2 1916.9 1886.9 1918.8 1888.5 1920.8 1890.1 1922.7 1891.6 1924.6 1893 1926.6 1894.3 1928.5 1895.6 1930.4 1896.7 1932.4 1897.8 1934.3 1898.8 1936.2 1899.7 1938.2 1900.6 1940.1 1901.4 1942 1902.1 1944 1902.7 1945.9 1903.3 1947.8 1903.9 1949.8 1904.4 1951.7 1904.8 1953.6 1905.2 1955.6 1905.6 1957.5 1905.9 1959.4 1906.1 1961.4 1906.4 1963.3 1906.6 1965.2 1906.8 1967.2 1906.9 1969.1 1907.1 1971 1907.2 1973 1907.3 1974.9 1907.4 1976.8 1907.4 1978.8 1907.5 1980.7 1907.6 1982.6 1907.7 1984.6 1907.7 1986.5 1907.8 1988.4 1907.9 1990.4 1908 1992.3 1908.1 1994.2 1908.2 1996.2 1908.4 1998.1 1908.6 2000 1908.7 2002 1909 2003.9 1909.2 2005.8 1909.4 2007.8 1909.7 2009.7 1909.9 2011.6 1910.2 2013.6 1910.5 2015.5 1910.8 2017.4 1911.1 2019.3 1911.5 2021.3 1911.8 2023.2 1912.1 2025.1 1912.5 2027.1 1912.8 2029 1913.2 2030.9 1913.5 2032.9 1913.9 2034.8 1914.3 2036.7 1914.6 2038.7 1915 2040.6 1915.3 2042.5 1915.7 2044.5 1916 2046.4 1916.3 2048.3 1916.7 2050.3 1917 2052.2 1917.3 2054.1 1917.6 2056.1 1917.9 2058 1918.2 2059.9 1918.4 2061.9 1918.7 2063.8 1918.9 2065.7 1919.1 2067.7 1919.3 2069.6 1919.5 2071.5 1919.7 2073.5 1919.9 2075.4 1920 2077.3 1920.2 2079.3 1920.3 2081.2 1920.5 2083.1 1920.6 2085.1 1920.8 2087 1920.9 2088.9 1921 2090.9 1921.2 2092.8 1921.3 2094.7 1921.5 2096.7 1921.6 2098.6 1921.8 2100.5 1922 2102.5 1922.2 2104.4 1922.4 2106.3 1922.6 2108.3 1922.9 2110.2 1923.1 2112.1 1923.4 2114.1 1923.7 2116 1924 2117.9 1924.4 2119.9 1924.8 2121.8 1925.2 2123.7 1925.6 2125.7 1926.1 2127.6 1926.6 2129.5 1927.1 2131.5 1927.7 2133.4 1928.3 2135.3 1928.9 2137.3 1929.6 2139.2 1930.3 2141.1 1931 2143.1 1931.8 2145 1932.6 2146.9 1933.4 2148.9 1934.2 2150.8 1935 2152.7 1935.9 2154.7 1936.7 2156.6 1937.6 2158.5 1938.4 2160.5 1939.3 2162.4 1940.2 2164.3 1941 2166.3 1941.8 2168.2 1942.6 2170.1 1943.5 2172.1 1944.2 2174 1945 2175.9 1945.7 2177.9 1946.4 2179.8 1947.1 2181.7 1947.7 2183.7 1948.3 2185.6 1948.9 2187.5 1949.4 2189.5 1949.9 2191.4 1950.3 2193.3 1950.6 2195.3 1950.9 2197.2 1951.2 2199.1 1951.3 2201.1 1951.5 2203 1951.5 2204.9 1951.5 2206.9 1951.4 2208.8 1951.2 2210.7 1951 2212.7 1950.7 2214.6 1950.4 2216.5 1950 2218.5 1949.5 2220.4 1949 2222.3 1948.5 2224.3 1947.9 2226.2 1947.3 2228.1 1946.7 2230.1 1946 2232 1945.3 2233.9 1944.6 2235.9 1943.9 2237.8 1943.1 2239.7 1942.4 2241.7 1941.6 2243.6 1940.8 2245.5 1940.1 2247.5 1939.3 2249.4 1938.5 2251.3 1937.8 2253.2 1937 2255.2 1936.3 2257.1 1935.6 2259 1934.9 2261 1934.2 2262.9 1933.6 2264.8 1933 2266.8 1932.4 2268.7 1931.9 2270.6 1931.4 2272.6 1930.9 2274.5 1930.5 2276.4 1930.2 2278.4 1929.9 2280.3 1929.6 2282.2 1929.4 2284.2 1929.2 2286.1 1929.1 2288 1929 2290 1928.9 2291.9 1928.9 2293.8 1928.8 2295.8 1928.9 2297.7 1928.9 2299.6 1929 2301.6 1929.1 2303.5 1929.2 2305.4 1929.4 2307.4 1929.5 2309.3 1929.7 2311.2 1929.9 2313.2 1930.1 2315.1 1930.3 2317 1930.5 2319 1930.8 2320.9 1931 2322.8 1931.3 2324.8 1931.5 2326.7 1931.8 2328.6 1932 2330.6 1932.3 2332.5 1932.5 2334.4 1932.7 2336.4 1933 2338.3 1933.2 2340.2 1933.4 2342.2 1933.6 2344.1 1933.8 2346 1934 2348 1934.1 2349.9 1934.3 2351.8 1934.4 2353.8 1934.5 2355.7 1934.6 2357.6 1934.7 2359.6 1934.8 2361.5 1934.9 2363.4 1934.9 2365.4 1935 2367.3 1935 2369.2 1935.1 2371.2 1935.1 2373.1 1935.1 2375 1935.1 2377 1935.2 2378.9 1935.2 2380.8 1935.2 2382.8 1935.2 2384.7 1935.2 2386.6 1935.2 2388.6 1935.1 2390.5 1935.1 2392.4 1935.1 2394.4 1935.1 2396.3 1935.1 2398.2 1935 2400.2 1935 2402.1 1935 2404 1935 2406 1935 2407.9 1935 2409.8 1934.9 2411.8 1934.9 2413.7 1934.9 2415.6 1934.9 2417.6 1934.9 2419.5 1934.9 2421.4 1935 2423.4 1935 2425.3 1935 2427.2 1935 2429.2 1935 2431.1 1935 2433 1935.1 2435 1935.1 2436.9 1935.1 2438.8 1935.2 2440.8 1935.2 2442.7 1935.2 2444.6 1935.3 2446.6 1935.3 2448.5 1935.4 2450.4 1935.4 2452.4 1935.4 2454.3 1935.5 2456.2 1935.5 2458.2 1935.6 2460.1 1935.7 2462 1935.7 2464 1935.8 2465.9 1935.8 2467.8 1935.9 2469.8 1935.9 2471.7 1936 2473.6 1936 2475.6 1936.1 2477.5 1936.2 2479.4 1936.2 2481.4 1936.3" fill="none" stroke="#000000" stroke-width="3.3" stroke-linecap="round" stroke-linejoin="round" stroke-dasharray="0.1 6.55"/>
<polygon points="1491.5,1967.5 1515.7,1954 1515.7,1981" fill="#000000"/><polygon points="1561.1,1967.5 1585.3,1954 1585.3,1981" fill="#000000"/><polygon points="1630.7,1965.4 1654.9,1951.9 1654.9,1978.9" fill="#000000"/><polygon points="1700.3,1770.4 1724.5,1756.9 1724.5,1783.9" fill="#000000"/><polygon points="1769.8,1918.4 1794,1904.9 1794,1931.9" fill="#000000"/><polygon points="1839.4,1858.3 1863.6,1844.8 1863.6,1871.8" fill="#000000"/><polygon points="1909,1893 1933.2,1879.5 1933.2,1906.5" fill="#000000"/><polygon points="1978.6,1908.2 2002.8,1894.7 2002.8,1921.7" fill="#000000"/><polygon points="2048.2,1918.9 2072.4,1905.4 2072.4,1932.4" fill="#000000"/><polygon points="2117.8,1928.3 2142,1914.8 2142,1941.8" fill="#000000"/><polygon points="2187.4,1951.5 2211.6,1938 2211.6,1965" fill="#000000"/><polygon points="2257,1930.9 2281.2,1917.4 2281.2,1944.4" fill="#000000"/><polygon points="2326.6,1933.6 2350.8,1920.1 2350.8,1947.1" fill="#000000"/><polygon points="2396.2,1934.9 2420.4,1921.4 2420.4,1948.4" fill="#000000"/><polygon points="2465.7,1936.3 2489.9,1922.8 2489.9,1949.8" fill="#000000"/>
<path d="M1507.1 1967.5 1509 1965.9 1511 1964.4 1512.9 1962.8 1514.8 1961.2 1516.8 1959.7 1518.7 1958.2 1520.6 1956.8 1522.6 1955.4 1524.5 1954.1 1526.4 1952.8 1528.4 1951.6 1530.3 1950.5 1532.2 1949.5 1534.2 1948.6 1536.1 1947.8 1538 1947.1 1540 1946.5 1541.9 1946 1543.8 1945.7 1545.8 1945.5 1547.7 1945.5 1549.6 1945.6 1551.6 1945.8 1553.5 1946.3 1555.4 1946.9 1557.3 1947.7 1559.3 1948.7 1561.2 1949.9 1563.1 1951.3 1565.1 1952.9 1567 1954.8 1568.9 1956.8 1570.9 1959.1 1572.8 1961.7 1574.7 1964.5 1576.7 1967.5 1578.6 1970.8 1580.5 1974.4 1582.5 1978.1 1584.4 1982 1586.3 1986 1588.3 1990.1 1590.2 1994.2 1592.1 1998.3 1594.1 2002.4 1596 2006.3 1597.9 2010.2 1599.9 2014 1601.8 2017.5 1603.7 2020.8 1605.7 2023.8 1607.6 2026.6 1609.5 2029 1611.5 2031 1613.4 2032.6 1615.3 2033.7 1617.3 2034.4 1619.2 2034.5 1621.1 2034.1 1623.1 2033 1625 2031.3 1626.9 2028.9 1628.9 2025.8 1630.8 2021.9 1632.7 2017.2 1634.7 2011.7 1636.6 2005.3 1638.5 1998 1640.5 1989.8 1642.4 1980.6 1644.3 1970.3 1646.3 1959 1648.2 1946.6 1650.1 1933.1 1652.1 1918.8 1654 1903.5 1655.9 1887.5 1657.9 1870.7 1659.8 1853.3 1661.7 1835.3 1663.7 1816.9 1665.6 1798 1667.5 1778.8 1669.5 1759.4 1671.4 1739.7 1673.3 1720 1675.3 1700.3 1677.2 1680.5 1679.1 1661 1681.1 1641.6 1683 1622.5 1684.9 1603.8 1686.9 1585.5 1688.8 1567.7 1690.7 1550.5 1692.7 1534 1694.6 1518.2 1696.5 1503.2 1698.5 1489.2 1700.4 1476.1 1702.3 1464 1704.3 1453.1 1706.2 1443.4 1708.1 1435 1710.1 1427.9 1712 1422.3 1713.9 1418.2 1715.9 1415.7 1717.8 1414.8 1719.7 1415.5 1721.7 1417.7 1723.6 1421.4 1725.5 1426.5 1727.5 1432.9 1729.4 1440.5 1731.3 1449.2 1733.3 1459.1 1735.2 1470 1737.1 1481.8 1739.1 1494.5 1741 1508 1742.9 1522.2 1744.9 1537.1 1746.8 1552.6 1748.7 1568.6 1750.7 1585 1752.6 1601.9 1754.5 1619 1756.5 1636.3 1758.4 1653.8 1760.3 1671.4 1762.3 1689 1764.2 1706.5 1766.1 1723.9 1768.1 1741.1 1770 1758 1771.9 1774.6 1773.9 1790.8 1775.8 1806.4 1777.7 1821.5 1779.7 1836 1781.6 1849.7 1783.5 1862.7 1785.5 1874.8 1787.4 1886.1 1789.3 1896.4 1791.2 1905.8 1793.2 1914.5 1795.1 1922.3 1797 1929.3 1799 1935.5 1800.9 1941.1 1802.8 1945.9 1804.8 1950.1 1806.7 1953.6 1808.6 1956.5 1810.6 1958.8 1812.5 1960.5 1814.4 1961.8 1816.4 1962.5 1818.3 1962.7 1820.2 1962.5 1822.2 1961.8 1824.1 1960.8 1826 1959.4 1828 1957.7 1829.9 1955.6 1831.8 1953.3 1833.8 1950.7 1835.7 1947.9 1837.6 1944.9 1839.6 1941.7 1841.5 1938.3 1843.4 1934.9 1845.4 1931.3 1847.3 1927.7 1849.2 1924.1 1851.2 1920.5 1853.1 1916.9 1855 1913.3 1857 1909.8 1858.9 1906.4 1860.8 1903.1 1862.8 1899.8 1864.7 1896.7 1866.6 1893.6 1868.6 1890.6 1870.5 1887.7 1872.4 1884.8 1874.4 1882.1 1876.3 1879.4 1878.2 1876.9 1880.2 1874.4 1882.1 1872 1884 1869.7 1886 1867.5 1887.9 1865.3 1889.8 1863.3 1891.8 1861.4 1893.7 1859.5 1895.6 1857.8 1897.6 1856.1 1899.5 1854.5 1901.4 1853.1 1903.4 1851.7 1905.3 1850.4 1907.2 1849.3 1909.2 1848.2 1911.1 1847.2 1913 1846.4 1915 1845.6 1916.9 1844.9 1918.8 1844.4 1920.8 1843.9 1922.7 1843.6 1924.6 1843.3 1926.6 1843.2 1928.5 1843.1 1930.4 1843.2 1932.4 1843.4 1934.3 1843.6 1936.2 1844 1938.2 1844.4 1940.1 1844.9 1942 1845.4 1944 1846.1 1945.9 1846.8 1947.8 1847.5 1949.8 1848.4 1951.7 1849.2 1953.6 1850.1 1955.6 1851.1 1957.5 1852.1 1959.4 1853.2 1961.4 1854.2 1963.3 1855.4 1965.2 1856.5 1967.2 1857.6 1969.1 1858.8 1971 1860 1973 1861.2 1974.9 1862.3 1976.8 1863.5 1978.8 1864.7 1980.7 1865.9 1982.6 1867.1 1984.6 1868.2 1986.5 1869.3 1988.4 1870.4 1990.4 1871.5 1992.3 1872.5 1994.2 1873.5 1996.2 1874.5 1998.1 1875.4 2000 1876.2 2002 1877.1 2003.9 1877.9 2005.8 1878.6 2007.8 1879.4 2009.7 1880 2011.6 1880.7 2013.6 1881.3 2015.5 1881.9 2017.4 1882.5 2019.3 1883 2021.3 1883.5 2023.2 1884 2025.1 1884.4 2027.1 1884.9 2029 1885.3 2030.9 1885.6 2032.9 1886 2034.8 1886.3 2036.7 1886.6 2038.7 1886.9 2040.6 1887.2 2042.5 1887.5 2044.5 1887.7 2046.4 1887.9 2048.3 1888.2 2050.3 1888.4 2052.2 1888.6 2054.1 1888.7 2056.1 1888.9 2058 1889.1 2059.9 1889.2 2061.9 1889.4 2063.8 1889.5 2065.7 1889.7 2067.7 1889.8 2069.6 1890 2071.5 1890.1 2073.5 1890.2 2075.4 1890.4 2077.3 1890.5 2079.3 1890.7 2081.2 1890.8 2083.1 1891 2085.1 1891.2 2087 1891.4 2088.9 1891.6 2090.9 1891.9 2092.8 1892.1 2094.7 1892.4 2096.7 1892.7 2098.6 1893 2100.5 1893.3 2102.5 1893.7 2104.4 1894.1 2106.3 1894.5 2108.3 1894.9 2110.2 1895.4 2112.1 1895.9 2114.1 1896.5 2116 1897 2117.9 1897.7 2119.9 1898.3 2121.8 1899 2123.7 1899.8 2125.7 1900.6 2127.6 1901.4 2129.5 1902.3 2131.5 1903.2 2133.4 1904.2 2135.3 1905.3 2137.3 1906.3 2139.2 1907.5 2141.1 1908.6 2143.1 1909.8 2145 1911.1 2146.9 1912.3 2148.9 1913.6 2150.8 1914.9 2152.7 1916.2 2154.7 1917.5 2156.6 1918.9 2158.5 1920.2 2160.5 1921.5 2162.4 1922.8 2164.3 1924.1 2166.3 1925.4 2168.2 1926.6 2170.1 1927.9 2172.1 1929.1 2174 1930.2 2175.9 1931.3 2177.9 1932.4 2179.8 1933.4 2181.7 1934.4 2183.7 1935.3 2185.6 1936.2 2187.5 1936.9 2189.5 1937.7 2191.4 1938.3 2193.3 1938.9 2195.3 1939.3 2197.2 1939.7 2199.1 1940 2201.1 1940.2 2203 1940.3 2204.9 1940.3 2206.9 1940.2 2208.8 1939.9 2210.7 1939.6 2212.7 1939.2 2214.6 1938.8 2216.5 1938.2 2218.5 1937.6 2220.4 1936.9 2222.3 1936.2 2224.3 1935.4 2226.2 1934.5 2228.1 1933.6 2230.1 1932.6 2232 1931.7 2233.9 1930.6 2235.9 1929.6 2237.8 1928.5 2239.7 1927.4 2241.7 1926.3 2243.6 1925.2 2245.5 1924.1 2247.5 1923 2249.4 1921.9 2251.3 1920.8 2253.2 1919.7 2255.2 1918.6 2257.1 1917.6 2259 1916.6 2261 1915.7 2262.9 1914.7 2264.8 1913.9 2266.8 1913 2268.7 1912.3 2270.6 1911.5 2272.6 1910.9 2274.5 1910.3 2276.4 1909.8 2278.4 1909.4 2280.3 1909 2282.2 1908.7 2284.2 1908.4 2286.1 1908.2 2288 1908.1 2290 1907.9 2291.9 1907.9 2293.8 1907.9 2295.8 1907.9 2297.7 1908 2299.6 1908.1 2301.6 1908.2 2303.5 1908.4 2305.4 1908.6 2307.4 1908.9 2309.3 1909.1 2311.2 1909.4 2313.2 1909.7 2315.1 1910 2317 1910.4 2319 1910.7 2320.9 1911.1 2322.8 1911.4 2324.8 1911.8 2326.7 1912.2 2328.6 1912.5 2330.6 1912.9 2332.5 1913.3 2334.4 1913.6 2336.4 1914 2338.3 1914.3 2340.2 1914.6 2342.2 1914.9 2344.1 1915.2 2346 1915.4 2348 1915.7 2349.9 1915.9 2351.8 1916.1 2353.8 1916.3 2355.7 1916.5 2357.6 1916.6 2359.6 1916.8 2361.5 1916.9 2363.4 1917 2365.4 1917.1 2367.3 1917.2 2369.2 1917.3 2371.2 1917.3 2373.1 1917.4 2375 1917.4 2377 1917.5 2378.9 1917.5 2380.8 1917.5 2382.8 1917.6 2384.7 1917.6 2386.6 1917.6 2388.6 1917.6 2390.5 1917.6 2392.4 1917.6 2394.4 1917.6 2396.3 1917.6 2398.2 1917.6 2400.2 1917.6 2402.1 1917.6 2404 1917.6 2406 1917.6 2407.9 1917.6 2409.8 1917.6 2411.8 1917.6 2413.7 1917.6 2415.6 1917.6 2417.6 1917.6 2419.5 1917.7 2421.4 1917.7 2423.4 1917.7 2425.3 1917.8 2427.2 1917.8 2429.2 1917.9 2431.1 1917.9 2433 1918 2435 1918.1 2436.9 1918.1 2438.8 1918.2 2440.8 1918.3 2442.7 1918.3 2444.6 1918.4 2446.6 1918.5 2448.5 1918.6 2450.4 1918.7 2452.4 1918.8 2454.3 1918.8 2456.2 1918.9 2458.2 1919 2460.1 1919.1 2462 1919.2 2464 1919.3 2465.9 1919.4 2467.8 1919.5 2469.8 1919.6 2471.7 1919.7 2473.6 1919.8 2475.6 1919.9 2477.5 1920 2479.4 1920.1 2481.4 1920.3" fill="none" stroke="#ff0000" stroke-width="3.3" stroke-linecap="round" stroke-linejoin="round" stroke-dasharray="0.1 6.55"/>
<polygon points="1507.1,1954.2 1520.9,1967.5 1507.1,1980.8 1493.3,1967.5" fill="#fff" stroke="#ff0000" stroke-width="1.6"/><polygon points="1493.3,1967.5 1520.9,1967.5 1507.1,1980.8" fill="#ff0000"/><polygon points="1576.7,1954.2 1590.5,1967.5 1576.7,1980.8 1562.9,1967.5" fill="#fff" stroke="#ff0000" stroke-width="1.6"/><polygon points="1562.9,1967.5 1590.5,1967.5 1576.7,1980.8" fill="#ff0000"/><polygon points="1646.3,1945.7 1660.1,1959 1646.3,1972.3 1632.5,1959" fill="#fff" stroke="#ff0000" stroke-width="1.6"/><polygon points="1632.5,1959 1660.1,1959 1646.3,1972.3" fill="#ff0000"/><polygon points="1715.9,1402.4 1729.7,1415.7 1715.9,1429 1702.1,1415.7" fill="#fff" stroke="#ff0000" stroke-width="1.6"/><polygon points="1702.1,1415.7 1729.7,1415.7 1715.9,1429" fill="#ff0000"/><polygon points="1785.5,1861.5 1799.2,1874.8 1785.5,1888.1 1771.7,1874.8" fill="#fff" stroke="#ff0000" stroke-width="1.6"/><polygon points="1771.7,1874.8 1799.2,1874.8 1785.5,1888.1" fill="#ff0000"/><polygon points="1855,1900 1868.8,1913.3 1855,1926.6 1841.2,1913.3" fill="#fff" stroke="#ff0000" stroke-width="1.6"/><polygon points="1841.2,1913.3 1868.8,1913.3 1855,1926.6" fill="#ff0000"/><polygon points="1924.6,1830 1938.4,1843.3 1924.6,1856.6 1910.8,1843.3" fill="#fff" stroke="#ff0000" stroke-width="1.6"/><polygon points="1910.8,1843.3 1938.4,1843.3 1924.6,1856.6" fill="#ff0000"/><polygon points="1994.2,1860.2 2008,1873.5 1994.2,1886.8 1980.4,1873.5" fill="#fff" stroke="#ff0000" stroke-width="1.6"/><polygon points="1980.4,1873.5 2008,1873.5 1994.2,1886.8" fill="#ff0000"/><polygon points="2063.8,1876.2 2077.6,1889.5 2063.8,1902.8 2050,1889.5" fill="#fff" stroke="#ff0000" stroke-width="1.6"/><polygon points="2050,1889.5 2077.6,1889.5 2063.8,1902.8" fill="#ff0000"/><polygon points="2133.4,1890.9 2147.2,1904.2 2133.4,1917.5 2119.6,1904.2" fill="#fff" stroke="#ff0000" stroke-width="1.6"/><polygon points="2119.6,1904.2 2147.2,1904.2 2133.4,1917.5" fill="#ff0000"/><polygon points="2203,1927 2216.8,1940.3 2203,1953.6 2189.2,1940.3" fill="#fff" stroke="#ff0000" stroke-width="1.6"/><polygon points="2189.2,1940.3 2216.8,1940.3 2203,1953.6" fill="#ff0000"/><polygon points="2272.6,1897.6 2286.4,1910.9 2272.6,1924.2 2258.8,1910.9" fill="#fff" stroke="#ff0000" stroke-width="1.6"/><polygon points="2258.8,1910.9 2286.4,1910.9 2272.6,1924.2" fill="#ff0000"/><polygon points="2342.2,1901.6 2356,1914.9 2342.2,1928.2 2328.4,1914.9" fill="#fff" stroke="#ff0000" stroke-width="1.6"/><polygon points="2328.4,1914.9 2356,1914.9 2342.2,1928.2" fill="#ff0000"/><polygon points="2411.8,1904.3 2425.6,1917.6 2411.8,1930.9 2398,1917.6" fill="#fff" stroke="#ff0000" stroke-width="1.6"/><polygon points="2398,1917.6 2425.6,1917.6 2411.8,1930.9" fill="#ff0000"/><polygon points="2481.4,1907 2495.2,1920.3 2481.4,1933.6 2467.6,1920.3" fill="#fff" stroke="#ff0000" stroke-width="1.6"/><polygon points="2467.6,1920.3 2495.2,1920.3 2481.4,1933.6" fill="#ff0000"/>
<path d="M1507.1 1960.3 1509 1958.6 1511 1956.9 1512.9 1955.2 1514.8 1953.5 1516.8 1951.9 1518.7 1950.3 1520.6 1948.7 1522.6 1947.2 1524.5 1945.8 1526.4 1944.5 1528.4 1943.2 1530.3 1942.1 1532.2 1941 1534.2 1940.1 1536.1 1939.2 1538 1938.5 1540 1938 1541.9 1937.6 1543.8 1937.3 1545.8 1937.2 1547.7 1937.3 1549.6 1937.5 1551.6 1938 1553.5 1938.6 1555.4 1939.5 1557.3 1940.5 1559.3 1941.8 1561.2 1943.3 1563.1 1945.1 1565.1 1947.1 1567 1949.4 1568.9 1951.9 1570.9 1954.7 1572.8 1957.8 1574.7 1961.2 1576.7 1964.9 1578.6 1968.8 1580.5 1973.1 1582.5 1977.5 1584.4 1982.2 1586.3 1986.9 1588.3 1991.8 1590.2 1996.7 1592.1 2001.5 1594.1 2006.4 1596 2011.1 1597.9 2015.7 1599.9 2020 1601.8 2024.2 1603.7 2028.1 1605.7 2031.6 1607.6 2034.8 1609.5 2037.5 1611.5 2039.8 1613.4 2041.6 1615.3 2042.8 1617.3 2043.5 1619.2 2043.4 1621.1 2042.7 1623.1 2041.3 1625 2039.1 1626.9 2036 1628.9 2032.1 1630.8 2027.3 1632.7 2021.5 1634.7 2014.7 1636.6 2006.8 1638.5 1997.9 1640.5 1987.8 1642.4 1976.5 1644.3 1964 1646.3 1950.2 1648.2 1935.1 1650.1 1918.7 1652.1 1901.3 1654 1882.8 1655.9 1863.3 1657.9 1843 1659.8 1822 1661.7 1800.3 1663.7 1778 1665.6 1755.2 1667.5 1732.1 1669.5 1708.7 1671.4 1685.2 1673.3 1661.5 1675.3 1637.8 1677.2 1614.3 1679.1 1590.9 1681.1 1567.9 1683 1545.2 1684.9 1523 1686.9 1501.4 1688.8 1480.5 1690.7 1460.4 1692.7 1441.1 1694.6 1422.7 1696.5 1405.5 1698.5 1389.3 1700.4 1374.5 1702.3 1360.9 1704.3 1348.8 1706.2 1338.3 1708.1 1329.3 1710.1 1322.1 1712 1316.7 1713.9 1313.2 1715.9 1311.8 1717.8 1312.4 1719.7 1315 1721.7 1319.5 1723.6 1325.8 1725.5 1333.8 1727.5 1343.5 1729.4 1354.6 1731.3 1367.2 1733.3 1381.1 1735.2 1396.2 1737.1 1412.5 1739.1 1429.7 1741 1447.9 1742.9 1466.9 1744.9 1486.6 1746.8 1507 1748.7 1527.9 1750.7 1549.3 1752.6 1570.9 1754.5 1592.8 1756.5 1614.9 1758.4 1637 1760.3 1659 1762.3 1680.9 1764.2 1702.5 1766.1 1723.8 1768.1 1744.6 1770 1764.9 1771.9 1784.6 1773.9 1803.5 1775.8 1821.5 1777.7 1838.6 1779.7 1854.7 1781.6 1869.6 1783.5 1883.3 1785.5 1895.7 1787.4 1906.6 1789.3 1916.2 1791.2 1924.5 1793.2 1931.5 1795.1 1937.3 1797 1941.9 1799 1945.4 1800.9 1947.9 1802.8 1949.4 1804.8 1950 1806.7 1949.6 1808.6 1948.5 1810.6 1946.6 1812.5 1943.9 1814.4 1940.7 1816.4 1936.8 1818.3 1932.3 1820.2 1927.4 1822.2 1922 1824.1 1916.3 1826 1910.2 1828 1903.8 1829.9 1897.3 1831.8 1890.5 1833.8 1883.7 1835.7 1876.8 1837.6 1869.9 1839.6 1863.1 1841.5 1856.4 1843.4 1849.8 1845.4 1843.5 1847.3 1837.4 1849.2 1831.7 1851.2 1826.4 1853.1 1821.5 1855 1817.1 1857 1813.3 1858.9 1810 1860.8 1807.2 1862.8 1804.9 1864.7 1803.1 1866.6 1801.8 1868.6 1800.8 1870.5 1800.3 1872.4 1800.2 1874.4 1800.4 1876.3 1801 1878.2 1801.9 1880.2 1803.2 1882.1 1804.7 1884 1806.5 1886 1808.5 1887.9 1810.8 1889.8 1813.3 1891.8 1816 1893.7 1818.8 1895.6 1821.8 1897.6 1824.9 1899.5 1828.1 1901.4 1831.4 1903.4 1834.8 1905.3 1838.2 1907.2 1841.6 1909.2 1845.1 1911.1 1848.5 1913 1851.9 1915 1855.2 1916.9 1858.5 1918.8 1861.6 1920.8 1864.7 1922.7 1867.6 1924.6 1870.3 1926.6 1872.9 1928.5 1875.3 1930.4 1877.5 1932.4 1879.5 1934.3 1881.5 1936.2 1883.2 1938.2 1884.8 1940.1 1886.3 1942 1887.6 1944 1888.9 1945.9 1890 1947.8 1891 1949.8 1891.8 1951.7 1892.6 1953.6 1893.3 1955.6 1893.9 1957.5 1894.4 1959.4 1894.8 1961.4 1895.2 1963.3 1895.5 1965.2 1895.7 1967.2 1895.9 1969.1 1896 1971 1896.1 1973 1896.2 1974.9 1896.2 1976.8 1896.2 1978.8 1896.2 1980.7 1896.2 1982.6 1896.2 1984.6 1896.1 1986.5 1896.1 1988.4 1896.1 1990.4 1896.1 1992.3 1896.1 1994.2 1896.2 1996.2 1896.3 1998.1 1896.4 2000 1896.6 2002 1896.8 2003.9 1897 2005.8 1897.3 2007.8 1897.6 2009.7 1897.9 2011.6 1898.2 2013.6 1898.6 2015.5 1898.9 2017.4 1899.3 2019.3 1899.7 2021.3 1900.2 2023.2 1900.6 2025.1 1901 2027.1 1901.5 2029 1902 2030.9 1902.4 2032.9 1902.9 2034.8 1903.4 2036.7 1903.8 2038.7 1904.3 2040.6 1904.8 2042.5 1905.2 2044.5 1905.7 2046.4 1906.2 2048.3 1906.6 2050.3 1907 2052.2 1907.4 2054.1 1907.8 2056.1 1908.2 2058 1908.6 2059.9 1908.9 2061.9 1909.3 2063.8 1909.6 2065.7 1909.8 2067.7 1910.1 2069.6 1910.3 2071.5 1910.5 2073.5 1910.7 2075.4 1910.9 2077.3 1911.1 2079.3 1911.3 2081.2 1911.4 2083.1 1911.6 2085.1 1911.7 2087 1911.8 2088.9 1912 2090.9 1912.1 2092.8 1912.3 2094.7 1912.4 2096.7 1912.6 2098.6 1912.8 2100.5 1913 2102.5 1913.2 2104.4 1913.4 2106.3 1913.6 2108.3 1913.9 2110.2 1914.2 2112.1 1914.5 2114.1 1914.8 2116 1915.2 2117.9 1915.6 2119.9 1916 2121.8 1916.5 2123.7 1917 2125.7 1917.6 2127.6 1918.2 2129.5 1918.8 2131.5 1919.5 2133.4 1920.3 2135.3 1921 2137.3 1921.9 2139.2 1922.8 2141.1 1923.7 2143.1 1924.6 2145 1925.6 2146.9 1926.6 2148.9 1927.7 2150.8 1928.7 2152.7 1929.8 2154.7 1930.9 2156.6 1932 2158.5 1933.1 2160.5 1934.2 2162.4 1935.3 2164.3 1936.4 2166.3 1937.5 2168.2 1938.5 2170.1 1939.6 2172.1 1940.6 2174 1941.6 2175.9 1942.6 2177.9 1943.5 2179.8 1944.4 2181.7 1945.3 2183.7 1946.1 2185.6 1946.9 2187.5 1947.6 2189.5 1948.3 2191.4 1948.9 2193.3 1949.4 2195.3 1949.9 2197.2 1950.3 2199.1 1950.6 2201.1 1950.8 2203 1951 2204.9 1951 2206.9 1951 2208.8 1950.9 2210.7 1950.8 2212.7 1950.5 2214.6 1950.2 2216.5 1949.8 2218.5 1949.4 2220.4 1948.9 2222.3 1948.4 2224.3 1947.8 2226.2 1947.1 2228.1 1946.5 2230.1 1945.8 2232 1945 2233.9 1944.2 2235.9 1943.4 2237.8 1942.6 2239.7 1941.8 2241.7 1941 2243.6 1940.1 2245.5 1939.3 2247.5 1938.4 2249.4 1937.5 2251.3 1936.7 2253.2 1935.9 2255.2 1935.1 2257.1 1934.3 2259 1933.5 2261 1932.7 2262.9 1932 2264.8 1931.3 2266.8 1930.7 2268.7 1930.1 2270.6 1929.6 2272.6 1929.1 2274.5 1928.6 2276.4 1928.2 2278.4 1927.9 2280.3 1927.6 2282.2 1927.4 2284.2 1927.2 2286.1 1927 2288 1926.9 2290 1926.8 2291.9 1926.8 2293.8 1926.8 2295.8 1926.8 2297.7 1926.9 2299.6 1927 2301.6 1927.1 2303.5 1927.2 2305.4 1927.4 2307.4 1927.6 2309.3 1927.8 2311.2 1928 2313.2 1928.3 2315.1 1928.5 2317 1928.8 2319 1929 2320.9 1929.3 2322.8 1929.6 2324.8 1929.9 2326.7 1930.2 2328.6 1930.5 2330.6 1930.8 2332.5 1931 2334.4 1931.3 2336.4 1931.6 2338.3 1931.8 2340.2 1932 2342.2 1932.3 2344.1 1932.5 2346 1932.7 2348 1932.8 2349.9 1933 2351.8 1933.1 2353.8 1933.3 2355.7 1933.4 2357.6 1933.5 2359.6 1933.6 2361.5 1933.6 2363.4 1933.7 2365.4 1933.8 2367.3 1933.8 2369.2 1933.8 2371.2 1933.9 2373.1 1933.9 2375 1933.9 2377 1933.9 2378.9 1933.9 2380.8 1933.9 2382.8 1933.9 2384.7 1933.9 2386.6 1933.9 2388.6 1933.8 2390.5 1933.8 2392.4 1933.8 2394.4 1933.8 2396.3 1933.7 2398.2 1933.7 2400.2 1933.7 2402.1 1933.7 2404 1933.7 2406 1933.6 2407.9 1933.6 2409.8 1933.6 2411.8 1933.6 2413.7 1933.6 2415.6 1933.6 2417.6 1933.6 2419.5 1933.6 2421.4 1933.7 2423.4 1933.7 2425.3 1933.7 2427.2 1933.7 2429.2 1933.8 2431.1 1933.8 2433 1933.9 2435 1933.9 2436.9 1933.9 2438.8 1934 2440.8 1934.1 2442.7 1934.1 2444.6 1934.2 2446.6 1934.2 2448.5 1934.3 2450.4 1934.4 2452.4 1934.5 2454.3 1934.5 2456.2 1934.6 2458.2 1934.7 2460.1 1934.8 2462 1934.9 2464 1934.9 2465.9 1935 2467.8 1935.1 2469.8 1935.2 2471.7 1935.3 2473.6 1935.4 2475.6 1935.5 2477.5 1935.6 2479.4 1935.7 2481.4 1935.7" fill="none" stroke="#0000ff" stroke-width="3.3" stroke-linecap="round" stroke-linejoin="round" stroke-dasharray="0.1 6.55"/>
<polygon points="1507.1,1946.9 1510.3,1956.5 1520.4,1956.6 1512.3,1962.6 1515.3,1972.2 1507.1,1966.4 1498.9,1972.2 1501.9,1962.6 1493.8,1956.6 1503.9,1956.5" fill="#0000ff"/><polygon points="1576.7,1951.5 1579.9,1961 1590,1961.1 1581.9,1967.2 1584.9,1976.8 1576.7,1971 1568.5,1976.8 1571.4,1967.2 1563.4,1961.1 1573.4,1961" fill="#0000ff"/><polygon points="1646.3,1936.8 1649.5,1946.3 1659.6,1946.4 1651.5,1952.5 1654.5,1962.1 1646.3,1956.3 1638,1962.1 1641,1952.5 1633,1946.4 1643,1946.3" fill="#0000ff"/><polygon points="1715.9,1298.4 1719.1,1307.9 1729.2,1308 1721.1,1314.1 1724.1,1323.7 1715.9,1317.9 1707.6,1323.7 1710.6,1314.1 1702.5,1308 1712.6,1307.9" fill="#0000ff"/><polygon points="1785.5,1882.3 1788.7,1891.8 1798.8,1891.9 1790.7,1898 1793.7,1907.6 1785.5,1901.8 1777.2,1907.6 1780.2,1898 1772.1,1891.9 1782.2,1891.8" fill="#0000ff"/><polygon points="1855,1803.7 1858.3,1813.3 1868.4,1813.4 1860.3,1819.4 1863.3,1829.1 1855,1823.2 1846.8,1829.1 1849.8,1819.4 1841.7,1813.4 1851.8,1813.3" fill="#0000ff"/><polygon points="1924.6,1856.9 1927.9,1866.5 1937.9,1866.6 1929.9,1872.6 1932.9,1882.2 1924.6,1876.4 1916.4,1882.2 1919.4,1872.6 1911.3,1866.6 1921.4,1866.5" fill="#0000ff"/><polygon points="1994.2,1882.8 1997.5,1892.4 2007.5,1892.5 1999.5,1898.5 2002.4,1908.1 1994.2,1902.3 1986,1908.1 1989,1898.5 1980.9,1892.5 1991,1892.4" fill="#0000ff"/><polygon points="2063.8,1896.2 2067,1905.7 2077.1,1905.8 2069,1911.9 2072,1921.5 2063.8,1915.7 2055.6,1921.5 2058.6,1911.9 2050.5,1905.8 2060.6,1905.7" fill="#0000ff"/><polygon points="2133.4,1906.9 2136.6,1916.4 2146.7,1916.5 2138.6,1922.5 2141.6,1932.2 2133.4,1926.4 2125.2,1932.2 2128.2,1922.5 2120.1,1916.5 2130.2,1916.4" fill="#0000ff"/><polygon points="2203,1937.6 2206.2,1947.1 2216.3,1947.2 2208.2,1953.3 2211.2,1962.9 2203,1957.1 2194.8,1962.9 2197.8,1953.3 2189.7,1947.2 2199.8,1947.1" fill="#0000ff"/><polygon points="2272.6,1915.7 2275.8,1925.2 2285.9,1925.3 2277.8,1931.4 2280.8,1941 2272.6,1935.2 2264.4,1941 2267.3,1931.4 2259.3,1925.3 2269.3,1925.2" fill="#0000ff"/><polygon points="2342.2,1918.9 2345.4,1928.4 2355.5,1928.5 2347.4,1934.6 2350.4,1944.2 2342.2,1938.4 2333.9,1944.2 2336.9,1934.6 2328.9,1928.5 2338.9,1928.4" fill="#0000ff"/><polygon points="2411.8,1920.2 2415,1929.8 2425.1,1929.9 2417,1935.9 2420,1945.5 2411.8,1939.7 2403.5,1945.5 2406.5,1935.9 2398.4,1929.9 2408.5,1929.8" fill="#0000ff"/><polygon points="2481.4,1922.3 2484.6,1931.9 2494.7,1932 2486.6,1938 2489.6,1947.7 2481.4,1941.8 2473.1,1947.7 2476.1,1938 2468,1932 2478.1,1931.9" fill="#0000ff"/>
</g>
<rect x="1437.5" y="1128.8" width="1043.9" height="841.4" fill="none" stroke="#000" stroke-width="3.2"/>
<path d="M1437.5 1970.2v8M1507.1 1970.2v16.5M1576.7 1970.2v8M1646.3 1970.2v16.5M1715.9 1970.2v8M1785.5 1970.2v16.5M1855 1970.2v8M1924.6 1970.2v16.5M1994.2 1970.2v8M2063.8 1970.2v16.5M2133.4 1970.2v8M2203 1970.2v16.5M2272.6 1970.2v8M2342.2 1970.2v16.5M2411.8 1970.2v8M2481.4 1970.2v16.5M1437.5 1970.2h-16.5M1437.5 1910.1h-8M1437.5 1850h-16.5M1437.5 1789.9h-8M1437.5 1729.8h-16.5M1437.5 1669.7h-8M1437.5 1609.6h-16.5M1437.5 1549.5h-8M1437.5 1489.4h-16.5M1437.5 1429.3h-8M1437.5 1369.2h-16.5M1437.5 1309.1h-8M1437.5 1249h-16.5M1437.5 1188.9h-8M1437.5 1128.8h-16.5" fill="none" stroke="#000" stroke-width="3.2"/>
<g font-family="'Liberation Sans', Arial, sans-serif" font-size="35.5" fill="#000" stroke="#000" stroke-width="0.3">
<text x="1507.1" y="2025.5" text-anchor="middle">1</text>
<text x="1646.3" y="2025.5" text-anchor="middle">3</text>
<text x="1785.5" y="2025.5" text-anchor="middle">5</text>
<text x="1924.6" y="2025.5" text-anchor="middle">7</text>
<text x="2063.8" y="2025.5" text-anchor="middle">9</text>
<text x="2203" y="2025.5" text-anchor="middle">11</text>
<text x="2342.2" y="2025.5" text-anchor="middle">13</text>
<text x="2481.4" y="2025.5" text-anchor="middle">15</text>
<text x="1409.7" y="1981.9" text-anchor="end">0</text>
<text x="1409.7" y="1861.7" text-anchor="end">45</text>
<text x="1409.7" y="1741.5" text-anchor="end">90</text>
<text x="1409.7" y="1621.3" text-anchor="end">135</text>
<text x="1409.7" y="1501.1" text-anchor="end">180</text>
<text x="1409.7" y="1380.9" text-anchor="end">225</text>
<text x="1409.7" y="1260.7" text-anchor="end">270</text>
<text x="1409.7" y="1140.5" text-anchor="end">315</text>
<text x="1958.6" y="2077.6" text-anchor="middle" textLength="243.5" lengthAdjust="spacingAndGlyphs">Time Period (<tspan font-style="italic">s</tspan>)</text>
<text transform="translate(1326.5 1546.5) rotate(-90)" text-anchor="middle" textLength="440" lengthAdjust="spacingAndGlyphs">Power absorbed (<tspan font-style="italic">P</tspan><tspan font-style="italic" font-size="26" dy="7">abs</tspan><tspan font-style="italic" dy="-7"> , kW)</tspan></text>
</g>
<text x="1991.9" y="2162.2" text-anchor="middle" font-family="'Liberation Serif', 'Times New Roman', serif" font-size="56" fill="#222">(d)</text>
<rect x="2191.7" y="1136.8" width="279.5" height="487.1" fill="#fff" stroke="#333" stroke-width="1.4"/>
<path d="M2197.4 1164.7H2272.4" stroke="#000000" stroke-width="3.3" stroke-linecap="round"/>
<rect x="2224.7" y="1154.5" width="20.4" height="20.4" fill="#000000"/>
<text x="2289.8" y="1175.7" font-family="'Liberation Serif', 'Times New Roman', serif" font-size="33.5" fill="#000" stroke="#000" stroke-width="0.25" textLength="158" lengthAdjust="spacingAndGlyphs">&#952; = &#160;0<tspan dy="-12" font-size="24">o</tspan><tspan dy="12"> - &#950;</tspan><tspan dy="9" font-size="25">33</tspan></text>
<path d="M2197.4 1218.5H2272.4" stroke="#ff0000" stroke-width="3.3" stroke-linecap="round"/>
<circle cx="2234.9" cy="1218.5" r="10.8" fill="#ff0000"/>
<text x="2289.8" y="1229.5" font-family="'Liberation Serif', 'Times New Roman', serif" font-size="33.5" fill="#000" stroke="#000" stroke-width="0.25" textLength="167" lengthAdjust="spacingAndGlyphs">&#952; = 30<tspan dy="-12" font-size="24">o</tspan><tspan dy="12"> - &#950;</tspan><tspan dy="9" font-size="25">33</tspan></text>
<path d="M2197.4 1272.2H2272.4" stroke="#0000ff" stroke-width="3.3" stroke-linecap="round"/>
<polygon points="2234.9,1257 2248.6,1280.6 2221.2,1280.6" fill="#0000ff"/>
<text x="2289.8" y="1283.2" font-family="'Liberation Serif', 'Times New Roman', serif" font-size="33.5" fill="#000" stroke="#000" stroke-width="0.25" textLength="167" lengthAdjust="spacingAndGlyphs">&#952; = 45<tspan dy="-12" font-size="24">o</tspan><tspan dy="12"> - &#950;</tspan><tspan dy="9" font-size="25">33</tspan></text>
<path d="M2197.4 1326h12.7M2262.4 1326H2272.4" stroke="#000000" stroke-width="3.3" stroke-linecap="round"/>
<rect x="2225.5" y="1316.5" width="18.8" height="18.8" fill="#fff" stroke="#000000" stroke-width="1.6"/>
<text x="2289.8" y="1337" font-family="'Liberation Serif', 'Times New Roman', serif" font-size="33.5" fill="#000" stroke="#000" stroke-width="0.25" textLength="158" lengthAdjust="spacingAndGlyphs">&#952; = &#160;0<tspan dy="-12" font-size="24">o</tspan><tspan dy="12"> - &#950;</tspan><tspan dy="9" font-size="25">44</tspan></text>
<path d="M2197.4 1379.7h12.7M2262.4 1379.7H2272.4" stroke="#ff0000" stroke-width="3.3" stroke-linecap="round"/>
<circle cx="2234.9" cy="1379.7" r="10" fill="#fff" stroke="#ff0000" stroke-width="1.6"/>
<text x="2289.8" y="1390.7" font-family="'Liberation Serif', 'Times New Roman', serif" font-size="33.5" fill="#000" stroke="#000" stroke-width="0.25" textLength="167" lengthAdjust="spacingAndGlyphs">&#952; = 30<tspan dy="-12" font-size="24">o</tspan><tspan dy="12"> - &#950;</tspan><tspan dy="9" font-size="25">44</tspan></text>
<path d="M2197.4 1433.5h12.7M2262.4 1433.5H2272.4" stroke="#0000ff" stroke-width="3.3" stroke-linecap="round"/>
<polygon points="2234.9,1419.4 2247.6,1441.2 2222.2,1441.2" fill="#fff" stroke="#0000ff" stroke-width="1.6"/>
<text x="2289.8" y="1444.5" font-family="'Liberation Serif', 'Times New Roman', serif" font-size="33.5" fill="#000" stroke="#000" stroke-width="0.25" textLength="167" lengthAdjust="spacingAndGlyphs">&#952; = 45<tspan dy="-12" font-size="24">o</tspan><tspan dy="12"> - &#950;</tspan><tspan dy="9" font-size="25">44</tspan></text>
<path d="M2197 1487.2H2272.7" stroke="#000000" stroke-width="3.3" stroke-linecap="round" stroke-dasharray="0.1 6.55"/>
<polygon points="2219.3,1487.2 2243.5,1473.7 2243.5,1500.7" fill="#000000"/>
<text x="2289.8" y="1498.2" font-family="'Liberation Serif', 'Times New Roman', serif" font-size="33.5" fill="#000" stroke="#000" stroke-width="0.25" textLength="158" lengthAdjust="spacingAndGlyphs">&#952; = &#160;0<tspan dy="-12" font-size="24">o</tspan><tspan dy="12"> - &#950;</tspan><tspan dy="9" font-size="25">55</tspan></text>
<path d="M2197 1541H2272.7" stroke="#ff0000" stroke-width="3.3" stroke-linecap="round" stroke-dasharray="0.1 6.55"/>
<polygon points="2234.9,1527.7 2248.7,1541 2234.9,1554.2 2221.1,1541" fill="#fff" stroke="#ff0000" stroke-width="1.6"/><polygon points="2221.1,1541 2248.7,1541 2234.9,1554.2" fill="#ff0000"/>
<text x="2289.8" y="1552" font-family="'Liberation Serif', 'Times New Roman', serif" font-size="33.5" fill="#000" stroke="#000" stroke-width="0.25" textLength="167" lengthAdjust="spacingAndGlyphs">&#952; = 30<tspan dy="-12" font-size="24">o</tspan><tspan dy="12"> - &#950;</tspan><tspan dy="9" font-size="25">55</tspan></text>
<path d="M2197 1594.7H2272.7" stroke="#0000ff" stroke-width="3.3" stroke-linecap="round" stroke-dasharray="0.1 6.55"/>
<polygon points="2234.9,1581.3 2238.1,1590.9 2248.2,1591 2240.1,1597 2243.1,1606.6 2234.9,1600.8 2226.7,1606.6 2229.7,1597 2221.6,1591 2231.7,1590.9" fill="#0000ff"/>
<text x="2289.8" y="1605.7" font-family="'Liberation Serif', 'Times New Roman', serif" font-size="33.5" fill="#000" stroke="#000" stroke-width="0.25" textLength="167" lengthAdjust="spacingAndGlyphs">&#952; = 45<tspan dy="-12" font-size="24">o</tspan><tspan dy="12"> - &#950;</tspan><tspan dy="9" font-size="25">55</tspan></text>
</g>
</svg></body></html>
